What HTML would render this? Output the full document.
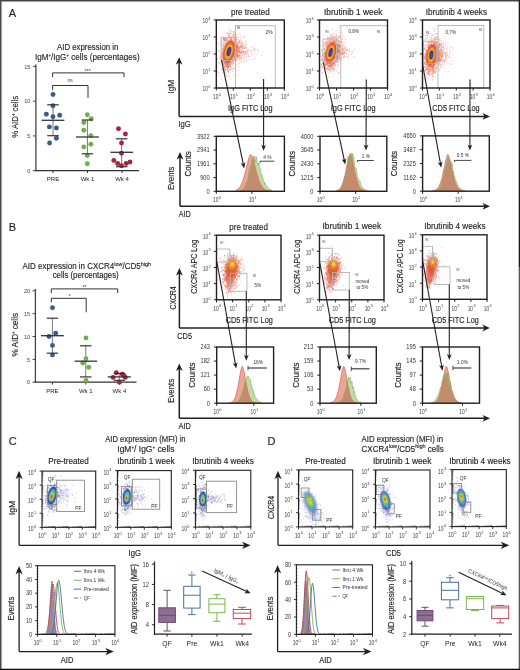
<!DOCTYPE html>
<html><head><meta charset="utf-8"><title>Figure</title>
<style>html,body{margin:0;padding:0;background:#fff;}svg{display:block;will-change:transform;}text{font-family:"Liberation Sans",sans-serif;stroke-width:0.15px;}</style>
</head><body>
<svg width="520" height="670" viewBox="0 0 520 670" font-family="Liberation Sans, sans-serif" fill="#231f20">
<rect width="520" height="670" fill="#fff"/>
<defs>
<filter id="bl" x="-50%" y="-50%" width="200%" height="200%"><feGaussianBlur stdDeviation="0.6"/></filter>
<filter id="bl2" x="-50%" y="-50%" width="200%" height="200%"><feGaussianBlur stdDeviation="1.0"/></filter>
</defs>
<text stroke="#231f20" x="8.8" y="17" font-size="11">A</text>
<text stroke="#231f20" x="57" y="49.5" font-size="9" textLength="61.4" lengthAdjust="spacingAndGlyphs">AID expression in</text>
<text stroke="#231f20" x="35" y="59.5" font-size="9" textLength="104.6" lengthAdjust="spacingAndGlyphs">IgM<tspan font-size="5" dy="-3">+</tspan><tspan dy="3">/IgG</tspan><tspan font-size="5" dy="-3">+</tspan><tspan dy="3"> cells (percentages)</tspan></text>
<line x1="35.9" y1="64.5" x2="35.9" y2="171.2" stroke="#444" stroke-width="1.3"/>
<line x1="35.3" y1="170.6" x2="139" y2="170.6" stroke="#333" stroke-width="1.3"/>
<line x1="33" y1="66.4" x2="35.9" y2="66.4" stroke="#444" stroke-width="1"/>
<text x="30.4" y="68.5" font-size="6.2" fill="#444" text-anchor="end" textLength="6.2" lengthAdjust="spacingAndGlyphs">15</text>
<line x1="33" y1="101.2" x2="35.9" y2="101.2" stroke="#444" stroke-width="1"/>
<text x="30.4" y="103.3" font-size="6.2" fill="#444" text-anchor="end" textLength="6.2" lengthAdjust="spacingAndGlyphs">10</text>
<line x1="33" y1="135.9" x2="35.9" y2="135.9" stroke="#444" stroke-width="1"/>
<text x="30.4" y="138" font-size="6.2" fill="#444" text-anchor="end" textLength="3.1" lengthAdjust="spacingAndGlyphs">5</text>
<line x1="33" y1="170.6" x2="35.9" y2="170.6" stroke="#444" stroke-width="1"/>
<text x="30.4" y="172.7" font-size="6.2" fill="#444" text-anchor="end" textLength="3.1" lengthAdjust="spacingAndGlyphs">0</text>
<text stroke="#231f20" x="18.4" y="137.8" font-size="9.2" textLength="42" lengthAdjust="spacingAndGlyphs" transform="rotate(-90 18.4 137.8)">% AID<tspan font-size="5" dy="-3">+</tspan><tspan dy="3"> cells</tspan></text>
<line x1="53" y1="170.6" x2="53" y2="173" stroke="#333" stroke-width="1"/>
<text x="53" y="181.4" font-size="6" fill="#222" text-anchor="middle">PRE</text>
<line x1="87.5" y1="170.6" x2="87.5" y2="173" stroke="#333" stroke-width="1"/>
<text x="87.5" y="181.4" font-size="6" fill="#222" text-anchor="middle">Wk 1</text>
<line x1="122" y1="170.6" x2="122" y2="173" stroke="#333" stroke-width="1"/>
<text x="122" y="181.4" font-size="6" fill="#222" text-anchor="middle">Wk 4</text>
<path d="M52.6,77.2 V72.9 H124 V77.2" fill="none" stroke="#333" stroke-width="1"/>
<text x="87.6" y="73.4" font-size="5.5" fill="#444" text-anchor="middle">***</text>
<path d="M52.6,89.8 V85.5 H88 V98" fill="none" stroke="#333" stroke-width="1"/>
<text x="70.2" y="81.8" font-size="5" fill="#444" text-anchor="middle">ns</text>
<line x1="53" y1="104.8" x2="53" y2="135.7" stroke="#777" stroke-width="1"/>
<circle cx="53" cy="94.5" r="2.45" fill="#3d5b8a"/>
<circle cx="53" cy="105.7" r="2.45" fill="#3d5b8a"/>
<circle cx="46.3" cy="114.2" r="2.45" fill="#3d5b8a"/>
<circle cx="53" cy="116.7" r="2.45" fill="#3d5b8a"/>
<circle cx="59.7" cy="115.2" r="2.45" fill="#3d5b8a"/>
<circle cx="49.4" cy="126.9" r="2.45" fill="#3d5b8a"/>
<circle cx="56.4" cy="128" r="2.45" fill="#3d5b8a"/>
<circle cx="56.4" cy="138.3" r="2.45" fill="#3d5b8a"/>
<circle cx="49.6" cy="143" r="2.45" fill="#3d5b8a"/>
<line x1="41.6" y1="120.3" x2="64.4" y2="120.3" stroke="#333" stroke-width="1.3"/>
<line x1="47.2" y1="104.8" x2="58.8" y2="104.8" stroke="#333" stroke-width="1.2"/>
<line x1="47.2" y1="135.7" x2="58.8" y2="135.7" stroke="#333" stroke-width="1.2"/>
<line x1="87.4" y1="120" x2="87.4" y2="153.8" stroke="#777" stroke-width="1"/>
<circle cx="87.3" cy="114.8" r="2.45" fill="#6fae4b"/>
<circle cx="91.2" cy="118.7" r="2.45" fill="#6fae4b"/>
<circle cx="83.8" cy="122.5" r="2.45" fill="#6fae4b"/>
<circle cx="83.8" cy="130.2" r="2.45" fill="#6fae4b"/>
<circle cx="90.8" cy="135.6" r="2.45" fill="#6fae4b"/>
<circle cx="90.8" cy="144.2" r="2.45" fill="#6fae4b"/>
<circle cx="83.8" cy="146.9" r="2.45" fill="#6fae4b"/>
<circle cx="87.3" cy="155.6" r="2.45" fill="#6fae4b"/>
<circle cx="87.3" cy="163.8" r="2.45" fill="#6fae4b"/>
<line x1="76" y1="137" x2="98.8" y2="137" stroke="#333" stroke-width="1.3"/>
<line x1="81.8" y1="120" x2="93" y2="120" stroke="#333" stroke-width="1.2"/>
<line x1="81.8" y1="153.8" x2="93" y2="153.8" stroke="#333" stroke-width="1.2"/>
<line x1="121.7" y1="138.8" x2="121.7" y2="166.7" stroke="#777" stroke-width="1"/>
<circle cx="118.5" cy="128.8" r="2.45" fill="#a8233f"/>
<circle cx="125.4" cy="134" r="2.45" fill="#a8233f"/>
<circle cx="121.5" cy="143" r="2.45" fill="#a8233f"/>
<circle cx="121.5" cy="153.3" r="2.45" fill="#a8233f"/>
<circle cx="113.8" cy="160.4" r="2.45" fill="#a8233f"/>
<circle cx="117.7" cy="163.5" r="2.45" fill="#a8233f"/>
<circle cx="121.5" cy="165.8" r="2.45" fill="#a8233f"/>
<circle cx="126.2" cy="163.5" r="2.45" fill="#a8233f"/>
<circle cx="130" cy="162" r="2.45" fill="#a8233f"/>
<line x1="110.3" y1="152.3" x2="133.1" y2="152.3" stroke="#333" stroke-width="1.3"/>
<line x1="116" y1="138.8" x2="127.4" y2="138.8" stroke="#333" stroke-width="1.2"/>
<line x1="116" y1="166.7" x2="127.4" y2="166.7" stroke="#333" stroke-width="1.2"/>
<text stroke="#231f20" x="231" y="14.5" font-size="9" textLength="38.7" lengthAdjust="spacingAndGlyphs">pre treated</text>
<text stroke="#231f20" x="324" y="14.5" font-size="9" textLength="58.5" lengthAdjust="spacingAndGlyphs">Ibrutinib 1 week</text>
<text stroke="#231f20" x="425.8" y="14.5" font-size="9" textLength="61.2" lengthAdjust="spacingAndGlyphs">Ibrutinib 4 weeks</text>
<line x1="179.1" y1="116.4" x2="179.1" y2="61.7" stroke="#231f20" stroke-width="1.5"/>
<path d="M179.1,57.2 L182.5,64.7 L179.1,62.6 L175.7,64.7 Z" fill="#231f20"/>
<line x1="179.1" y1="116.4" x2="485.5" y2="116.4" stroke="#231f20" stroke-width="1.5"/>
<path d="M490,116.4 L482.5,119.8 L484.6,116.4 L482.5,113 Z" fill="#231f20"/>
<text stroke="#231f20" x="174.3" y="93.6" font-size="9.2" textLength="13.7" lengthAdjust="spacingAndGlyphs" transform="rotate(-90 174.3 93.6)">IgM</text>
<text stroke="#231f20" x="178.5" y="126.7" font-size="9.2" textLength="12.3" lengthAdjust="spacingAndGlyphs">IgG</text>
<line x1="180" y1="206.3" x2="180" y2="156.5" stroke="#231f20" stroke-width="1.5"/>
<path d="M180,152 L183.4,159.5 L180,157.4 L176.6,159.5 Z" fill="#231f20"/>
<line x1="180" y1="206.3" x2="485.5" y2="206.3" stroke="#231f20" stroke-width="1.5"/>
<path d="M490,206.3 L482.5,209.7 L484.6,206.3 L482.5,202.9 Z" fill="#231f20"/>
<text stroke="#231f20" x="174" y="190.1" font-size="9.2" textLength="23.5" lengthAdjust="spacingAndGlyphs" transform="rotate(-90 174 190.1)">Events</text>
<text stroke="#231f20" x="178.8" y="216.5" font-size="9.2" textLength="12" lengthAdjust="spacingAndGlyphs">AID</text>
<text stroke="#231f20" x="228" y="111.2" font-size="9" textLength="44.5" lengthAdjust="spacingAndGlyphs">IgG FITC Log</text>
<text stroke="#231f20" x="330.8" y="111.2" font-size="9" textLength="44.7" lengthAdjust="spacingAndGlyphs">IgG FITC Log</text>
<text stroke="#231f20" x="432.3" y="111.2" font-size="9" textLength="47.3" lengthAdjust="spacingAndGlyphs">CD5 FITC Log</text>
<path d="M226.3 60.4h0.9M225.0 69.8h0.9M223.6 67.1h0.9M225.8 49.1h0.9M225.4 56.9h0.9M224.8 51.7h0.9M228.5 52.4h0.9M230.1 64.8h0.9M229.3 40.9h0.9M224.2 59.3h0.9M230.3 51.6h0.9M227.0 62.8h0.9M228.5 53.1h0.9M226.5 45.6h0.9M227.8 53.7h0.9M229.5 57.9h0.9M223.7 50.7h0.9M225.9 55.0h0.9M222.8 45.9h0.9M228.1 33.9h0.9M220.3 57.0h0.9M226.3 56.8h0.9M223.7 51.6h0.9M229.3 52.4h0.9M227.0 59.8h0.9M228.7 47.9h0.9M221.0 43.9h0.9M226.9 49.7h0.9M226.0 60.8h0.9M231.5 40.9h0.9M220.8 59.5h0.9M228.0 46.2h0.9M227.2 42.2h0.9M223.2 60.7h0.9M232.3 51.8h0.9M228.1 40.8h0.9M229.0 48.8h0.9M229.7 59.6h0.9M224.1 60.3h0.9M228.9 48.2h0.9M228.0 54.9h0.9M227.3 57.2h0.9M225.4 45.5h0.9M228.0 54.4h0.9M233.3 52.5h0.9M224.1 46.1h0.9M232.4 48.5h0.9M228.7 52.2h0.9M226.2 51.3h0.9M236.5 49.0h0.9M231.9 49.0h0.9M222.1 59.2h0.9M228.3 53.3h0.9M228.8 59.0h0.9M225.5 60.8h0.9M229.7 56.8h0.9M223.8 69.2h0.9M232.4 45.8h0.9M231.9 59.1h0.9M226.7 48.5h0.9M225.6 66.2h0.9M223.5 64.4h0.9M232.7 36.5h0.9M226.2 43.0h0.9M225.1 56.3h0.9M226.2 57.6h0.9M230.2 58.1h0.9M232.6 52.0h0.9M222.9 54.0h0.9M224.4 56.0h0.9M230.9 51.6h0.9M219.5 57.8h0.9M231.2 33.7h0.9M226.9 56.4h0.9M234.8 44.7h0.9M229.0 59.6h0.9M227.7 49.5h0.9M228.9 44.4h0.9M226.9 54.3h0.9M235.5 45.9h0.9M228.7 44.1h0.9M230.4 39.2h0.9M229.7 51.7h0.9M227.1 55.4h0.9M225.8 59.4h0.9M224.8 49.5h0.9M226.4 59.7h0.9M226.9 51.4h0.9M232.7 51.9h0.9M229.6 56.6h0.9M226.3 59.8h0.9M231.4 49.5h0.9M227.7 49.4h0.9M232.4 51.3h0.9M228.3 52.2h0.9M232.2 45.1h0.9M222.0 58.5h0.9M230.4 48.8h0.9M221.7 53.7h0.9M222.9 43.4h0.9M226.7 54.1h0.9M224.5 53.9h0.9M229.8 48.5h0.9M232.4 69.2h0.9M224.8 53.8h0.9M222.8 64.8h0.9M227.3 59.2h0.9M231.5 46.9h0.9M228.6 48.5h0.9M226.9 54.8h0.9M230.8 52.7h0.9M230.2 52.4h0.9M225.4 48.5h0.9M231.7 37.5h0.9M229.0 49.9h0.9M229.1 33.5h0.9M228.6 54.7h0.9M226.9 45.2h0.9M233.2 46.9h0.9M229.5 50.1h0.9M228.2 53.8h0.9M229.2 40.0h0.9M231.4 37.9h0.9M223.5 41.6h0.9M228.4 34.8h0.9M231.6 44.4h0.9M217.9 62.1h0.9M233.5 44.1h0.9M221.1 55.1h0.9M233.7 41.6h0.9M224.9 53.2h0.9M231.8 49.8h0.9M229.0 51.2h0.9M222.0 54.7h0.9M229.4 66.3h0.9M233.1 54.4h0.9M228.0 52.5h0.9M229.4 43.8h0.9M226.8 56.0h0.9M225.5 48.8h0.9M230.7 59.0h0.9M226.6 50.8h0.9M224.9 65.1h0.9M229.5 35.5h0.9M226.8 48.8h0.9M222.3 57.3h0.9M233.5 50.0h0.9M229.4 45.3h0.9M232.3 50.4h0.9M231.2 40.9h0.9M225.8 51.9h0.9M222.6 70.3h0.9M224.3 60.0h0.9M230.6 43.0h0.9M228.8 44.5h0.9M228.2 48.2h0.9M221.7 58.2h0.9M227.2 44.5h0.9M235.6 47.7h0.9M224.4 57.9h0.9M223.1 57.4h0.9M230.4 49.0h0.9M235.5 44.1h0.9M226.4 38.3h0.9M229.1 46.0h0.9M230.6 33.7h0.9M220.8 55.9h0.9M232.2 47.3h0.9M227.4 55.3h0.9M225.1 66.2h0.9M223.6 60.1h0.9M232.3 43.1h0.9M224.9 57.9h0.9M225.7 60.5h0.9M226.0 44.8h0.9M226.0 43.1h0.9M233.3 51.9h0.9M229.8 38.7h0.9M226.6 63.3h0.9M233.0 32.9h0.9M229.1 42.6h0.9M227.2 49.1h0.9M231.1 50.4h0.9M227.1 52.6h0.9M227.4 53.6h0.9M228.9 50.0h0.9M230.4 61.4h0.9M235.0 35.6h0.9M229.8 51.9h0.9M227.9 45.6h0.9M223.4 51.4h0.9M231.3 54.1h0.9M233.6 45.4h0.9M229.2 46.5h0.9M228.8 58.2h0.9M230.5 55.0h0.9M232.7 47.0h0.9M227.7 68.2h0.9M222.4 69.1h0.9M236.6 41.6h0.9M223.5 52.9h0.9M226.6 71.8h0.9M228.7 58.1h0.9M231.1 54.1h0.9M235.4 51.6h0.9M234.7 48.7h0.9M224.9 49.0h0.9M223.6 45.9h0.9M229.9 58.1h0.9M225.7 47.6h0.9M229.3 48.2h0.9M233.7 43.0h0.9M222.8 49.8h0.9M222.8 42.8h0.9M229.7 50.4h0.9M226.6 59.7h0.9M226.9 54.2h0.9M227.6 55.6h0.9M224.8 53.6h0.9M223.0 50.7h0.9M228.1 50.5h0.9M225.7 48.4h0.9M221.2 56.1h0.9M232.3 43.6h0.9M225.6 62.0h0.9M229.8 52.2h0.9M226.4 44.9h0.9M227.1 47.2h0.9M226.3 45.5h0.9M225.0 52.1h0.9M230.5 46.2h0.9M223.5 59.8h0.9M231.2 45.8h0.9M234.0 34.3h0.9M236.9 47.7h0.9M227.5 34.8h0.9M231.6 52.1h0.9M226.1 59.7h0.9M227.1 56.6h0.9M226.0 40.0h0.9M228.3 45.3h0.9M227.6 66.1h0.9M227.5 54.0h0.9M228.7 51.7h0.9M225.4 59.5h0.9M227.7 71.6h0.9M225.9 61.6h0.9M220.5 50.8h0.9M225.3 53.8h0.9M220.4 54.7h0.9M218.3 44.0h0.9M228.6 42.9h0.9M233.0 53.2h0.9M230.4 44.3h0.9M224.5 50.1h0.9M225.0 51.5h0.9M227.9 70.8h0.9M230.6 45.1h0.9M228.9 50.7h0.9M228.6 50.3h0.9M227.7 55.0h0.9M229.2 60.4h0.9M231.3 48.3h0.9M230.8 45.4h0.9M228.0 38.0h0.9M232.0 44.9h0.9M225.0 55.2h0.9M232.2 52.9h0.9M226.0 42.6h0.9M228.7 48.6h0.9M228.4 51.8h0.9M222.8 54.4h0.9M235.6 48.5h0.9M234.0 50.9h0.9M230.4 37.1h0.9M233.4 43.3h0.9M226.6 64.5h0.9M223.6 32.3h0.9M230.0 49.2h0.9M227.8 53.2h0.9M229.5 48.8h0.9M226.3 44.4h0.9M227.6 50.9h0.9M227.8 51.4h0.9M232.8 52.0h0.9M233.3 37.3h0.9M228.7 50.5h0.9M235.4 46.3h0.9M227.6 46.9h0.9M226.7 53.0h0.9M220.9 55.0h0.9M232.2 59.9h0.9M232.8 48.6h0.9M229.9 59.6h0.9M228.5 61.3h0.9M226.6 60.5h0.9M226.5 62.6h0.9M227.9 50.2h0.9M228.1 50.1h0.9M227.0 58.1h0.9M236.4 42.3h0.9M230.0 53.7h0.9M229.3 47.4h0.9M227.1 48.2h0.9M229.6 37.5h0.9M235.8 46.1h0.9M230.3 51.9h0.9M227.0 58.6h0.9M225.3 59.0h0.9M224.7 50.0h0.9M228.6 50.1h0.9M233.1 45.9h0.9M226.3 54.4h0.9M228.1 49.5h0.9M226.5 56.1h0.9M225.4 65.3h0.9M222.9 50.0h0.9M230.5 39.8h0.9M227.1 44.2h0.9M234.4 41.1h0.9M228.1 41.6h0.9M227.9 62.2h0.9M233.3 54.7h0.9M230.3 39.5h0.9M225.1 56.1h0.9M226.7 61.6h0.9M229.1 48.8h0.9M226.3 45.5h0.9M230.7 49.4h0.9M234.9 55.6h0.9M226.3 56.3h0.9M225.5 60.6h0.9M222.5 60.1h0.9M227.3 61.1h0.9M221.5 61.1h0.9M223.3 55.8h0.9M235.9 40.8h0.9M225.5 49.8h0.9M231.6 55.0h0.9M234.5 50.0h0.9M227.6 58.9h0.9M231.1 49.3h0.9M237.1 46.1h0.9M225.0 62.6h0.9M225.1 56.3h0.9M223.3 52.1h0.9M226.8 58.8h0.9M231.6 61.1h0.9M231.1 55.1h0.9M229.9 31.7h0.9M226.8 45.6h0.9M227.6 47.6h0.9M231.4 44.2h0.9M227.3 53.0h0.9M226.9 61.0h0.9M230.4 48.1h0.9M229.6 42.5h0.9M224.4 67.3h0.9M230.0 48.3h0.9M230.5 42.0h0.9M229.7 53.9h0.9M234.2 56.5h0.9M231.9 46.6h0.9M227.1 57.8h0.9M223.5 46.3h0.9M231.6 44.8h0.9M221.3 51.3h0.9M222.0 56.4h0.9M232.7 47.4h0.9M230.3 54.8h0.9M228.1 50.7h0.9M217.0 72.0h0.9M228.5 45.8h0.9M223.4 61.8h0.9M230.8 51.7h0.9M236.6 52.6h0.9M227.8 57.4h0.9M224.0 57.9h0.9M221.9 60.4h0.9M227.6 54.1h0.9M229.0 46.8h0.9M225.5 46.4h0.9M227.9 55.7h0.9M223.3 55.1h0.9M229.6 63.4h0.9M231.4 55.8h0.9M230.2 60.8h0.9M223.9 63.0h0.9M229.9 53.3h0.9M230.9 40.0h0.9M229.4 42.1h0.9M230.0 40.1h0.9M220.8 62.8h0.9M225.0 43.8h0.9M228.8 61.9h0.9M226.6 56.0h0.9M225.9 65.1h0.9M230.0 60.3h0.9M222.6 49.3h0.9M226.1 49.4h0.9M228.9 52.4h0.9M229.5 53.3h0.9M228.2 47.2h0.9M232.1 52.2h0.9M226.1 64.3h0.9M227.5 37.3h0.9M224.7 52.8h0.9M233.0 45.3h0.9M229.7 53.5h0.9M220.2 56.5h0.9M233.3 52.3h0.9M229.0 58.1h0.9M236.2 40.4h0.9M225.0 59.9h0.9M228.6 46.7h0.9M223.3 55.5h0.9M237.0 55.2h0.9M232.8 31.4h0.9M235.5 47.1h0.9M225.8 52.7h0.9M226.0 63.8h0.9M222.1 52.4h0.9M226.6 53.3h0.9M234.6 41.5h0.9M221.3 61.6h0.9M228.7 66.6h0.9M229.6 52.1h0.9M225.2 49.0h0.9M229.8 38.6h0.9M225.1 58.1h0.9M223.0 72.5h0.9M225.2 56.7h0.9M223.1 60.7h0.9M226.3 55.5h0.9M226.8 43.1h0.9M221.4 60.9h0.9M230.7 42.0h0.9M231.9 50.7h0.9M222.6 52.4h0.9M226.8 58.5h0.9M225.4 54.3h0.9M224.3 53.8h0.9M232.9 46.4h0.9M229.1 41.1h0.9M233.6 53.4h0.9M227.1 45.4h0.9M232.3 41.8h0.9M230.1 41.6h0.9M226.8 47.1h0.9M234.1 37.7h0.9M230.5 41.0h0.9M233.7 39.4h0.9M227.9 53.0h0.9M223.9 53.8h0.9M224.2 67.1h0.9M231.5 40.0h0.9M233.1 47.2h0.9M223.5 57.9h0.9M228.7 49.9h0.9M223.1 47.6h0.9M227.4 65.4h0.9M225.3 48.0h0.9M224.4 41.1h0.9M230.8 41.3h0.9M231.7 55.2h0.9M222.5 52.6h0.9M227.3 40.0h0.9M227.8 43.3h0.9M223.5 54.8h0.9M228.7 56.4h0.9M226.9 45.9h0.9M224.7 55.8h0.9M229.4 56.5h0.9M229.3 37.1h0.9M230.6 49.6h0.9M224.3 54.0h0.9M225.3 46.1h0.9M226.2 33.4h0.9M235.5 51.0h0.9M225.9 57.2h0.9M226.2 64.1h0.9M232.6 34.6h0.9M224.0 72.0h0.9M230.8 42.9h0.9M233.3 60.7h0.9M222.4 60.3h0.9M221.1 57.9h0.9M224.6 51.9h0.9M226.0 41.4h0.9M229.8 57.1h0.9M232.7 46.8h0.9M230.0 31.2h0.9M218.1 72.3h0.9M225.8 56.8h0.9M229.8 66.9h0.9M220.4 42.1h0.9M227.4 63.4h0.9M221.6 63.0h0.9M229.1 64.6h0.9M224.7 50.5h0.9M229.8 42.0h0.9M223.5 48.9h0.9M229.3 33.7h0.9M236.6 39.6h0.9M231.1 53.0h0.9M229.0 43.6h0.9M225.7 49.6h0.9M222.0 49.1h0.9M223.3 66.2h0.9M225.8 61.6h0.9M228.2 51.2h0.9M225.8 60.9h0.9M226.0 44.6h0.9M228.9 48.9h0.9M226.6 58.6h0.9M235.4 43.1h0.9M235.5 51.1h0.9M230.5 41.2h0.9M225.5 51.8h0.9M225.1 64.2h0.9M227.8 45.2h0.9M225.4 52.7h0.9M230.0 44.6h0.9M227.0 41.8h0.9M233.0 42.5h0.9M225.3 62.8h0.9M224.8 70.2h0.9M226.9 55.2h0.9M227.3 45.4h0.9M223.8 56.2h0.9M228.3 48.8h0.9M225.0 57.3h0.9M228.7 54.1h0.9M227.9 53.8h0.9M222.5 55.1h0.9M229.8 47.2h0.9M224.5 47.3h0.9M229.6 37.7h0.9M228.3 47.9h0.9M224.0 38.8h0.9M229.0 50.6h0.9M230.8 44.3h0.9M227.7 52.2h0.9M226.1 54.7h0.9M229.9 40.3h0.9M226.6 44.4h0.9M229.3 44.0h0.9M225.1 56.9h0.9M225.5 64.9h0.9M222.6 57.2h0.9M229.9 49.1h0.9M226.1 63.1h0.9M230.9 39.7h0.9M224.0 62.9h0.9M231.6 47.0h0.9M228.0 28.6h0.9M224.9 72.6h0.9M226.2 64.1h0.9M231.4 43.8h0.9M229.5 53.2h0.9M226.6 49.4h0.9M227.3 52.2h0.9M233.5 40.6h0.9M231.3 46.7h0.9M228.3 55.4h0.9M222.7 52.0h0.9M228.0 61.4h0.9M232.4 53.2h0.9M227.4 70.7h0.9M230.7 46.2h0.9M222.5 52.3h0.9M235.5 37.5h0.9M230.4 41.7h0.9M217.0 59.7h0.9M231.6 44.6h0.9M222.2 54.4h0.9M224.0 50.0h0.9M228.3 42.9h0.9M233.6 50.0h0.9M228.1 47.3h0.9M230.3 48.1h0.9M233.1 59.0h0.9M232.8 58.1h0.9M229.2 47.0h0.9M229.4 44.3h0.9M223.5 52.7h0.9M226.2 50.2h0.9M227.9 60.0h0.9M224.7 72.6h0.9M227.2 58.2h0.9M232.0 52.2h0.9M226.1 49.6h0.9M229.9 44.9h0.9M232.8 45.2h0.9M232.4 44.3h0.9M233.0 49.5h0.9M230.7 48.6h0.9M225.9 57.1h0.9M230.5 48.8h0.9M225.3 49.2h0.9M225.1 40.7h0.9M227.3 64.9h0.9M227.3 55.5h0.9M226.1 65.8h0.9M221.0 56.3h0.9M224.3 62.8h0.9M226.8 49.1h0.9M224.0 56.4h0.9M229.6 41.8h0.9M229.3 61.5h0.9M226.5 65.1h0.9M225.5 54.3h0.9M226.9 57.5h0.9M228.6 62.2h0.9M220.1 44.0h0.9M227.2 54.7h0.9M232.1 45.2h0.9M232.2 46.8h0.9M235.6 48.2h0.9M232.7 51.5h0.9M229.3 53.0h0.9M228.6 55.5h0.9M234.0 41.0h0.9M222.6 66.9h0.9M226.0 60.8h0.9M230.2 58.2h0.9M236.0 50.5h0.9M228.1 50.8h0.9M227.2 55.9h0.9M228.3 55.0h0.9M236.5 39.4h0.9M226.9 57.5h0.9M227.8 76.1h0.9M228.7 36.1h0.9M225.8 59.4h0.9M227.0 54.4h0.9M231.4 51.4h0.9M229.4 63.4h0.9M225.5 40.9h0.9M224.9 52.1h0.9M226.7 63.6h0.9M226.5 49.5h0.9M224.0 46.9h0.9M231.8 53.4h0.9M231.1 48.5h0.9M227.1 64.4h0.9M228.6 44.0h0.9M230.3 59.5h0.9M230.1 41.4h0.9M230.9 57.9h0.9M225.5 50.0h0.9M230.6 30.2h0.9M229.2 51.7h0.9M228.1 42.5h0.9M231.7 48.6h0.9M226.3 64.1h0.9M227.4 41.9h0.9M230.8 43.2h0.9M224.4 62.8h0.9M231.4 53.3h0.9M223.2 63.4h0.9M226.3 53.8h0.9M234.4 45.6h0.9M236.4 53.0h0.9M233.0 63.2h0.9M226.8 59.2h0.9M229.2 51.8h0.9M233.7 53.3h0.9M228.2 50.6h0.9M226.2 46.1h0.9M225.0 67.1h0.9M230.0 52.1h0.9M227.8 41.9h0.9M223.6 46.4h0.9M222.0 56.1h0.9M229.5 57.3h0.9M226.1 49.8h0.9M229.3 46.1h0.9M229.1 52.0h0.9M233.9 38.8h0.9M229.9 40.9h0.9M228.6 58.4h0.9M226.3 47.0h0.9M226.4 54.3h0.9M222.4 60.4h0.9M231.1 57.8h0.9M228.3 51.7h0.9M221.6 67.9h0.9M225.9 56.6h0.9M228.4 48.6h0.9M229.4 58.1h0.9M222.1 53.5h0.9M226.5 43.9h0.9M227.0 51.9h0.9M237.6 52.5h0.9M235.7 36.7h0.9M228.4 50.1h0.9M231.5 50.0h0.9M236.5 49.9h0.9M230.9 38.3h0.9M227.9 48.5h0.9M232.8 52.3h0.9M230.0 52.8h0.9M233.1 43.1h0.9M225.4 56.2h0.9M237.6 43.6h0.9M234.9 51.3h0.9M227.8 62.5h0.9M232.2 46.7h0.9M222.4 45.8h0.9M228.5 60.7h0.9M228.5 48.4h0.9M230.6 49.6h0.9M230.4 54.0h0.9M225.2 59.7h0.9M226.9 32.5h0.9M231.4 45.3h0.9M227.9 42.9h0.9M229.5 42.7h0.9M228.0 44.3h0.9M228.9 44.6h0.9M219.8 52.0h0.9M234.5 45.6h0.9M229.1 52.8h0.9M231.5 55.8h0.9M236.8 47.5h0.9M228.3 52.7h0.9M218.9 63.1h0.9M224.7 53.4h0.9M225.5 45.5h0.9M226.8 50.6h0.9M230.5 44.4h0.9M220.9 52.0h0.9M227.9 58.7h0.9M224.8 43.8h0.9M229.9 50.2h0.9M225.9 60.3h0.9M228.3 47.4h0.9M227.8 53.0h0.9M228.6 43.0h0.9M227.9 44.6h0.9M223.6 46.1h0.9M224.1 68.5h0.9M235.7 50.0h0.9M236.4 49.2h0.9M234.2 48.4h0.9M231.2 50.9h0.9M224.8 56.1h0.9M233.1 54.3h0.9M224.3 67.5h0.9M227.8 53.2h0.9M224.6 62.6h0.9M228.2 53.8h0.9M225.8 55.9h0.9M231.0 40.3h0.9M224.9 49.7h0.9M227.3 50.7h0.9M236.9 51.7h0.9M232.4 34.8h0.9M225.9 58.2h0.9M231.1 49.1h0.9M231.8 48.8h0.9M225.1 48.6h0.9M228.2 49.6h0.9M230.9 55.6h0.9M231.9 42.0h0.9M230.7 44.5h0.9M233.3 55.2h0.9M225.8 52.1h0.9M229.5 48.7h0.9M227.7 46.7h0.9M235.3 46.4h0.9M221.7 49.4h0.9M223.8 60.2h0.9M228.6 42.9h0.9M227.8 64.0h0.9M228.9 58.7h0.9M234.2 49.3h0.9M221.4 56.3h0.9M233.9 40.9h0.9M230.8 37.9h0.9M228.6 41.0h0.9M231.1 48.9h0.9M225.9 48.3h0.9M222.2 45.8h0.9M227.0 52.0h0.9M227.4 33.7h0.9M225.2 54.9h0.9M232.5 40.9h0.9M230.8 46.7h0.9M234.8 49.8h0.9M230.0 42.5h0.9M225.7 39.6h0.9M227.8 43.1h0.9M225.3 50.7h0.9M223.1 55.1h0.9M228.9 56.4h0.9M228.1 43.3h0.9M223.1 43.7h0.9M232.7 45.1h0.9M227.2 55.0h0.9M233.6 36.1h0.9M226.4 61.3h0.9M231.6 48.4h0.9M230.1 45.6h0.9M232.1 55.3h0.9M227.9 60.0h0.9M229.2 54.6h0.9M227.8 60.1h0.9M223.1 51.4h0.9M225.5 61.0h0.9M225.1 61.0h0.9M229.4 51.0h0.9M220.9 61.6h0.9M233.8 54.3h0.9M228.6 52.4h0.9M226.0 43.4h0.9M223.0 47.9h0.9M226.0 57.4h0.9M230.7 41.3h0.9M224.7 56.0h0.9M228.1 54.4h0.9M225.7 53.2h0.9M234.6 35.0h0.9M226.1 50.2h0.9M227.1 56.6h0.9M233.3 46.5h0.9M237.3 54.5h0.9M229.5 32.3h0.9M225.5 56.4h0.9M226.8 45.7h0.9M229.5 59.0h0.9M228.0 36.3h0.9M225.4 56.6h0.9M228.8 49.7h0.9M223.5 57.0h0.9M226.9 43.6h0.9M228.0 46.4h0.9M216.8 67.2h0.9M225.0 43.9h0.9M228.4 45.8h0.9M229.5 49.6h0.9M229.8 43.5h0.9M219.9 59.3h0.9M223.5 64.6h0.9M232.6 46.8h0.9M233.7 38.7h0.9M225.9 60.6h0.9M223.2 59.4h0.9M229.1 58.5h0.9M224.2 60.1h0.9M226.0 43.8h0.9M226.0 49.6h0.9M236.2 42.1h0.9M232.0 40.8h0.9M230.6 60.2h0.9M228.1 46.0h0.9M227.3 70.1h0.9M226.2 51.7h0.9M229.1 46.5h0.9M235.6 60.0h0.9M227.6 66.3h0.9M225.8 54.9h0.9M230.5 42.1h0.9M228.9 54.8h0.9M230.0 63.3h0.9M227.7 47.3h0.9M223.9 44.1h0.9M225.5 59.2h0.9M228.2 52.7h0.9M231.0 43.1h0.9M233.8 49.8h0.9M231.0 46.0h0.9M230.7 54.6h0.9M224.4 51.5h0.9M229.3 61.3h0.9M234.4 58.9h0.9M234.2 40.1h0.9M228.5 55.0h0.9M227.3 58.7h0.9M233.8 56.7h0.9M223.2 58.8h0.9M229.1 47.2h0.9M231.9 44.6h0.9M229.2 59.5h0.9M229.0 42.9h0.9M233.7 35.1h0.9M225.5 59.3h0.9M230.3 46.1h0.9M228.6 49.1h0.9M227.2 39.8h0.9M230.9 41.3h0.9M233.8 43.4h0.9M225.8 48.0h0.9M226.9 54.3h0.9M235.2 34.3h0.9M223.3 56.5h0.9M231.4 42.6h0.9M226.8 42.4h0.9" stroke="#e0452b" stroke-width="0.9" opacity="0.5"/>
<path d="M233.0 58.0h0.8M228.6 58.4h0.8M220.9 56.0h0.8M239.2 59.6h0.8M222.2 66.2h0.8M230.6 57.7h0.8M229.5 61.2h0.8M236.6 59.9h0.8M223.7 69.4h0.8M240.5 35.5h0.8M223.4 64.1h0.8M237.1 51.6h0.8M227.1 48.9h0.8M230.9 42.7h0.8M245.1 37.0h0.8M233.1 49.3h0.8M232.7 46.1h0.8M241.2 60.4h0.8M236.0 38.8h0.8M222.7 65.4h0.8M233.7 56.2h0.8M224.8 48.6h0.8M238.2 47.2h0.8M238.8 46.6h0.8M230.2 40.9h0.8M228.4 46.5h0.8M231.4 52.9h0.8M231.0 50.9h0.8M228.7 37.6h0.8M234.2 50.8h0.8M221.7 41.2h0.8M227.8 53.6h0.8M223.8 70.2h0.8M227.5 58.3h0.8M232.9 50.0h0.8M227.9 35.2h0.8M237.0 39.7h0.8M233.6 36.0h0.8M225.3 58.8h0.8M225.0 43.4h0.8M224.0 51.6h0.8M233.9 47.0h0.8M225.1 52.2h0.8M227.4 66.3h0.8M237.8 47.4h0.8M236.8 50.7h0.8M240.8 46.9h0.8M226.8 60.7h0.8M227.2 41.2h0.8M238.7 43.0h0.8M235.5 39.5h0.8M239.9 40.4h0.8M229.4 57.2h0.8M230.6 79.1h0.8M237.4 44.1h0.8M232.0 62.8h0.8M232.6 55.7h0.8M235.3 42.4h0.8M232.4 50.2h0.8M232.2 50.6h0.8M237.4 47.2h0.8M223.1 70.7h0.8M244.4 36.4h0.8M229.0 56.2h0.8M234.9 57.1h0.8M231.4 46.9h0.8M228.8 53.7h0.8M239.2 63.8h0.8M228.5 53.7h0.8M222.7 54.9h0.8M225.0 58.4h0.8M233.7 32.5h0.8M238.4 69.8h0.8M226.1 75.0h0.8M233.1 63.4h0.8M222.7 61.1h0.8M235.8 39.4h0.8M234.3 52.3h0.8M242.1 47.1h0.8M228.2 46.0h0.8M231.4 62.8h0.8M234.0 45.2h0.8M225.3 50.0h0.8M235.0 34.1h0.8M229.5 50.7h0.8M217.9 50.4h0.8M235.4 46.6h0.8M235.1 46.3h0.8M223.6 70.3h0.8M226.3 39.1h0.8M240.9 44.4h0.8M233.9 45.1h0.8M233.0 65.6h0.8M232.9 74.9h0.8M226.9 55.1h0.8M236.5 46.7h0.8M230.2 48.1h0.8M227.6 62.8h0.8M232.2 43.6h0.8M227.0 66.7h0.8M233.0 67.8h0.8M231.0 53.4h0.8M228.1 58.7h0.8M227.2 59.5h0.8M228.5 68.1h0.8M228.2 41.2h0.8M224.9 63.4h0.8M231.1 48.9h0.8M229.3 44.4h0.8M229.6 53.4h0.8M227.7 49.7h0.8M243.6 45.7h0.8M241.4 38.9h0.8M235.2 44.1h0.8M226.7 66.6h0.8M237.4 74.6h0.8M230.6 59.3h0.8M227.1 64.0h0.8M233.3 48.0h0.8M232.3 52.3h0.8M237.3 57.2h0.8M233.0 42.1h0.8M244.1 45.8h0.8M225.5 52.4h0.8M235.0 50.4h0.8M227.7 40.9h0.8M239.2 58.8h0.8M229.4 49.6h0.8M227.7 62.4h0.8M235.4 53.8h0.8M237.9 51.4h0.8M224.2 52.4h0.8M229.0 50.5h0.8M224.7 44.3h0.8M232.2 48.9h0.8M228.1 59.7h0.8M227.1 58.4h0.8M223.7 64.2h0.8M232.5 35.7h0.8M227.4 47.8h0.8M234.3 49.3h0.8M238.2 56.3h0.8M221.3 45.6h0.8M231.1 47.5h0.8M226.4 59.6h0.8M232.7 55.0h0.8M228.2 40.0h0.8M226.5 65.4h0.8M222.5 60.9h0.8M235.6 48.0h0.8M229.0 60.8h0.8M231.4 45.3h0.8M229.7 64.0h0.8M229.7 50.2h0.8M224.1 42.7h0.8M234.6 49.8h0.8M233.9 45.6h0.8M229.2 54.3h0.8M235.3 55.6h0.8M236.9 54.6h0.8M226.0 45.7h0.8M238.5 55.6h0.8M242.6 36.1h0.8M225.9 54.0h0.8M221.4 62.0h0.8M226.4 54.4h0.8M228.8 48.2h0.8M222.5 48.7h0.8M231.0 51.4h0.8M225.0 45.6h0.8M225.4 45.3h0.8M237.6 44.9h0.8M224.0 63.2h0.8M230.1 52.4h0.8M231.5 62.7h0.8M235.4 51.3h0.8M228.5 52.9h0.8M231.1 51.0h0.8M225.0 56.0h0.8M237.8 62.9h0.8M233.4 55.8h0.8M226.2 44.6h0.8M232.4 45.0h0.8M230.3 69.6h0.8M233.7 50.5h0.8M240.9 52.2h0.8M234.3 68.6h0.8M225.0 62.4h0.8M228.7 57.7h0.8M224.6 47.0h0.8M226.1 75.8h0.8M230.3 56.6h0.8M243.6 61.5h0.8M231.4 51.1h0.8M222.7 36.1h0.8M230.1 38.8h0.8M230.1 56.7h0.8M222.8 54.7h0.8M226.4 49.1h0.8M231.4 40.7h0.8M235.8 39.1h0.8M230.4 49.2h0.8M229.3 37.3h0.8M232.5 62.4h0.8M224.8 63.1h0.8M221.0 79.4h0.8M221.0 59.3h0.8M227.7 45.8h0.8M236.1 45.0h0.8M231.5 46.7h0.8M234.7 51.8h0.8M226.1 61.5h0.8M230.3 58.9h0.8M223.1 56.8h0.8M237.0 56.4h0.8M234.8 60.5h0.8M228.2 67.0h0.8M223.7 39.9h0.8M226.0 46.8h0.8M239.1 40.4h0.8M235.7 70.6h0.8M228.9 65.6h0.8M235.3 61.6h0.8M230.1 40.2h0.8M229.1 54.0h0.8M231.1 50.3h0.8M232.5 53.9h0.8M222.8 48.7h0.8M234.2 58.9h0.8M238.5 50.5h0.8M222.3 59.4h0.8M222.7 53.1h0.8M233.1 50.2h0.8M227.3 50.6h0.8M218.9 45.2h0.8M232.8 61.6h0.8M232.0 50.2h0.8M227.2 54.8h0.8M242.7 51.6h0.8M234.8 38.4h0.8M224.3 60.4h0.8M233.6 42.5h0.8M223.3 57.8h0.8M225.4 55.7h0.8M236.5 37.0h0.8M229.8 42.7h0.8M229.3 47.0h0.8M241.4 46.9h0.8M237.9 42.3h0.8M233.0 60.8h0.8M233.9 51.0h0.8M232.1 57.0h0.8M239.3 50.4h0.8M229.6 55.5h0.8M242.2 47.8h0.8M225.5 51.1h0.8M227.7 57.9h0.8M223.0 51.2h0.8M229.8 47.7h0.8M235.9 42.7h0.8M237.8 56.2h0.8M226.1 55.1h0.8M231.1 50.1h0.8M230.4 44.7h0.8M225.2 56.9h0.8M218.1 75.1h0.8M231.5 49.7h0.8M220.4 53.6h0.8M230.2 56.4h0.8M236.8 27.7h0.8M226.7 52.9h0.8M226.8 44.4h0.8M219.7 64.2h0.8M241.1 52.6h0.8M225.2 43.3h0.8M239.3 52.6h0.8M233.3 55.0h0.8M229.9 46.7h0.8M224.4 50.5h0.8M239.3 40.8h0.8M240.3 52.7h0.8M223.6 58.9h0.8M224.1 71.3h0.8M234.4 60.9h0.8M231.6 55.7h0.8M238.3 66.7h0.8M225.0 61.7h0.8M229.3 69.5h0.8M221.2 61.4h0.8M242.0 54.2h0.8M226.0 54.1h0.8M218.3 51.4h0.8M229.1 55.4h0.8M229.3 54.4h0.8M242.6 47.6h0.8M233.8 31.7h0.8M232.0 46.1h0.8M238.5 33.7h0.8M238.8 55.4h0.8M230.1 52.6h0.8M240.1 37.7h0.8M231.6 60.0h0.8M226.8 60.6h0.8M230.7 53.6h0.8M226.6 68.8h0.8M221.1 69.5h0.8M239.9 42.5h0.8M220.6 60.8h0.8M235.7 58.4h0.8M234.6 57.9h0.8M227.7 61.5h0.8M228.1 44.6h0.8M230.7 46.6h0.8M235.0 45.2h0.8M236.3 46.3h0.8M232.2 52.0h0.8M239.3 39.8h0.8M230.0 41.7h0.8M230.3 58.5h0.8M222.3 49.8h0.8M233.6 57.3h0.8M235.9 34.5h0.8M230.2 44.4h0.8M238.0 48.8h0.8M234.1 53.8h0.8M216.9 43.2h0.8M228.4 61.7h0.8M222.9 50.1h0.8M236.1 54.2h0.8M243.7 56.0h0.8M226.0 58.8h0.8M232.0 48.1h0.8M226.4 63.2h0.8M231.2 57.5h0.8M233.5 55.0h0.8M237.2 54.7h0.8M224.0 56.3h0.8M236.4 64.5h0.8M223.2 60.5h0.8M231.0 56.6h0.8M234.5 62.6h0.8M234.0 54.7h0.8M222.4 63.5h0.8M226.8 51.4h0.8M233.0 31.8h0.8M227.0 65.5h0.8M236.3 55.2h0.8M226.4 39.5h0.8" stroke="#e0452b" stroke-width="0.84" opacity="0.45"/>
<path d="M234.4 45.5h0.8M231.5 50.7h0.8M241.7 53.0h0.8M236.6 48.2h0.8M228.7 53.8h0.8M236.5 50.6h0.8M233.7 45.9h0.8M241.1 52.5h0.8M229.7 61.5h0.8M227.0 47.1h0.8M234.0 58.0h0.8M232.5 59.0h0.8M232.2 59.6h0.8M227.5 46.3h0.8M234.8 62.8h0.8M240.2 52.8h0.8M228.0 49.5h0.8M238.7 50.8h0.8M232.2 54.7h0.8M242.6 52.7h0.8M236.1 50.8h0.8M233.1 58.6h0.8M238.7 48.1h0.8M236.9 46.1h0.8M232.0 55.7h0.8M236.5 55.7h0.8M232.1 57.4h0.8M228.9 45.1h0.8M240.9 58.3h0.8M233.0 54.1h0.8M231.3 61.0h0.8M236.4 44.9h0.8M228.9 52.2h0.8M229.9 49.6h0.8M233.7 42.7h0.8M233.1 47.5h0.8M234.1 57.8h0.8M238.7 49.4h0.8M233.2 47.5h0.8M235.7 56.5h0.8M236.0 57.2h0.8M230.1 56.6h0.8M235.7 47.4h0.8M231.2 50.9h0.8M237.6 57.6h0.8M236.4 48.2h0.8M235.0 47.5h0.8M229.3 55.6h0.8M234.0 60.2h0.8M232.5 45.0h0.8M238.4 37.6h0.8M234.9 43.6h0.8M232.2 45.8h0.8M237.8 51.2h0.8M236.6 55.2h0.8M232.5 50.6h0.8M238.9 48.2h0.8M233.4 52.3h0.8M234.0 46.2h0.8M234.9 51.4h0.8M232.2 47.8h0.8M231.4 66.1h0.8M233.5 56.0h0.8M240.3 47.6h0.8M240.3 46.7h0.8M233.8 49.1h0.8M241.0 43.2h0.8M234.7 47.6h0.8M236.2 47.7h0.8M237.0 56.8h0.8M235.7 49.4h0.8M243.3 48.2h0.8M236.1 44.4h0.8M231.0 44.7h0.8M239.1 51.7h0.8M233.2 50.3h0.8M232.8 57.7h0.8M224.4 47.1h0.8M237.4 57.8h0.8M237.2 53.3h0.8M237.3 51.9h0.8M239.0 41.0h0.8M241.1 45.2h0.8M233.9 55.6h0.8M236.9 59.6h0.8M231.8 52.5h0.8M232.8 55.6h0.8M238.4 49.8h0.8M236.1 49.7h0.8M230.2 47.5h0.8M235.2 57.1h0.8M233.6 53.4h0.8M231.8 50.0h0.8M236.2 50.0h0.8M232.8 54.5h0.8M228.8 52.8h0.8M231.1 46.6h0.8M239.7 61.6h0.8M229.1 52.5h0.8M235.2 51.7h0.8M235.8 59.9h0.8M236.1 57.4h0.8M230.3 50.7h0.8M233.1 54.4h0.8M235.6 45.8h0.8M237.6 48.4h0.8M233.5 39.0h0.8M229.7 57.8h0.8M239.1 41.6h0.8M237.9 55.7h0.8M236.2 47.2h0.8M232.9 46.0h0.8M236.0 50.7h0.8M234.7 53.1h0.8M237.0 55.3h0.8M229.1 60.8h0.8M234.7 53.6h0.8M233.4 56.4h0.8M231.0 47.9h0.8M234.8 55.6h0.8M234.5 52.5h0.8M233.3 48.9h0.8M235.9 51.2h0.8M229.6 50.7h0.8M234.2 52.6h0.8M235.8 54.0h0.8M235.8 48.9h0.8M238.7 47.9h0.8M229.9 55.2h0.8M230.2 41.8h0.8M235.7 48.3h0.8M235.2 60.3h0.8M243.4 37.6h0.8M237.0 48.0h0.8M231.0 55.0h0.8M238.2 42.9h0.8M230.0 65.5h0.8M230.8 36.9h0.8M242.7 60.4h0.8M234.7 60.2h0.8M236.4 56.9h0.8M236.6 50.6h0.8M240.6 54.2h0.8M236.0 46.8h0.8M238.3 56.5h0.8M231.5 45.1h0.8M229.8 49.6h0.8M238.9 57.6h0.8M240.3 46.0h0.8M236.5 49.8h0.8M235.2 52.6h0.8M235.8 44.3h0.8M231.4 57.7h0.8M239.6 54.0h0.8M237.6 43.6h0.8M236.3 51.5h0.8M236.2 47.5h0.8M238.5 48.4h0.8M236.2 52.2h0.8M237.5 48.0h0.8M229.9 56.4h0.8M236.7 47.9h0.8M241.5 57.8h0.8M232.7 51.2h0.8M233.5 56.2h0.8M237.9 49.0h0.8M238.1 49.2h0.8M237.3 45.5h0.8M228.5 54.2h0.8M235.7 56.9h0.8M229.1 62.8h0.8M230.9 58.4h0.8M236.2 53.2h0.8M233.6 50.3h0.8M237.1 54.0h0.8M245.5 52.6h0.8M236.3 59.9h0.8M236.5 57.0h0.8M231.8 46.7h0.8M232.6 47.6h0.8M230.0 58.7h0.8M232.4 53.1h0.8M230.8 49.9h0.8M231.5 57.8h0.8M234.0 49.4h0.8M231.2 49.7h0.8M229.8 48.6h0.8M230.9 40.4h0.8M235.6 56.5h0.8M235.4 45.0h0.8M238.4 48.9h0.8M238.5 47.9h0.8M232.9 55.5h0.8M236.9 51.5h0.8M229.5 51.2h0.8M243.4 43.2h0.8M238.7 51.6h0.8M234.6 43.4h0.8M230.3 52.9h0.8M235.6 53.7h0.8M228.0 50.8h0.8M230.6 62.5h0.8M236.8 54.8h0.8M234.4 54.9h0.8M232.7 52.2h0.8M237.9 50.9h0.8M230.3 56.5h0.8M234.8 57.7h0.8M233.5 44.3h0.8M230.9 57.1h0.8M235.8 54.6h0.8M230.5 56.5h0.8M240.8 54.8h0.8M233.2 44.6h0.8M242.1 45.9h0.8M229.6 61.2h0.8M236.4 53.2h0.8M231.1 43.4h0.8M229.6 53.0h0.8M235.2 49.7h0.8M237.9 41.8h0.8M231.4 38.6h0.8M239.5 43.3h0.8M231.5 52.8h0.8M235.0 51.4h0.8M235.9 50.4h0.8M236.4 53.4h0.8M227.9 54.2h0.8M241.3 40.7h0.8M236.6 50.2h0.8M233.5 46.9h0.8M231.6 44.5h0.8M228.9 48.0h0.8M229.8 50.4h0.8M236.5 50.3h0.8M234.1 43.5h0.8M230.8 48.5h0.8M231.5 62.4h0.8M240.5 46.4h0.8M234.3 42.3h0.8M232.3 52.9h0.8M238.8 55.4h0.8M235.8 54.3h0.8M235.3 45.5h0.8M231.8 56.8h0.8M229.5 46.7h0.8M231.1 45.0h0.8M233.2 48.1h0.8M233.8 50.9h0.8M235.3 55.6h0.8M236.0 55.2h0.8M235.3 51.6h0.8M234.7 56.8h0.8M230.9 51.7h0.8M226.5 55.7h0.8M233.5 43.7h0.8M232.1 42.6h0.8M231.8 55.6h0.8M234.3 43.9h0.8M230.3 49.5h0.8" stroke="#e0452b" stroke-width="0.84" opacity="0.5"/>
<path d="M239.3 56.8h0.8M237.7 47.6h0.8M238.2 45.2h0.8M250.2 47.1h0.8M224.0 49.3h0.8M245.9 56.2h0.8M255.1 58.0h0.8M240.6 52.1h0.8M241.0 45.6h0.8M245.7 48.6h0.8M253.0 48.3h0.8M232.9 49.5h0.8M242.0 43.1h0.8M239.3 51.5h0.8M243.9 54.4h0.8M241.7 50.5h0.8M244.7 53.7h0.8M238.3 46.5h0.8M241.6 44.5h0.8M236.5 47.7h0.8M235.7 55.9h0.8M239.2 55.7h0.8M239.9 48.9h0.8M232.3 55.8h0.8M251.0 50.7h0.8M239.0 57.9h0.8M231.3 52.4h0.8M248.0 49.8h0.8M235.3 54.2h0.8M244.3 47.9h0.8M240.9 46.8h0.8M242.9 44.6h0.8M241.6 52.4h0.8M236.8 50.5h0.8M240.9 50.8h0.8M254.1 50.6h0.8M225.2 56.1h0.8M241.2 49.2h0.8M243.8 48.1h0.8M233.1 56.1h0.8M230.9 56.7h0.8M254.6 54.1h0.8M239.0 42.9h0.8M254.5 49.8h0.8M243.8 54.3h0.8M241.1 51.2h0.8M243.0 58.5h0.8M245.4 45.3h0.8M248.0 55.0h0.8M243.7 48.5h0.8M240.9 57.3h0.8M241.8 50.9h0.8M249.0 56.7h0.8M246.3 48.7h0.8M234.7 44.0h0.8M236.9 45.6h0.8M243.0 48.6h0.8M237.0 46.0h0.8M237.5 56.3h0.8M233.7 56.6h0.8M238.7 52.2h0.8M243.9 46.7h0.8M247.2 51.2h0.8M241.0 48.0h0.8M253.5 59.2h0.8M239.9 52.5h0.8M261.3 55.5h0.8M247.3 50.0h0.8M244.8 42.2h0.8M237.7 47.2h0.8M222.6 44.0h0.8M239.4 52.7h0.8M241.7 51.7h0.8M253.6 48.8h0.8M231.7 48.4h0.8M252.3 59.6h0.8M239.4 46.5h0.8M245.8 47.4h0.8M224.0 48.3h0.8M241.8 48.0h0.8M238.5 48.9h0.8M244.8 54.0h0.8M240.3 59.1h0.8M233.9 42.2h0.8M246.8 51.7h0.8M245.1 51.8h0.8M244.5 51.1h0.8M247.3 50.9h0.8M248.0 50.3h0.8M240.0 55.7h0.8M231.9 48.0h0.8M231.6 49.6h0.8M249.4 52.0h0.8M245.2 52.1h0.8M241.3 50.4h0.8M237.2 55.4h0.8M240.8 51.1h0.8M240.7 51.9h0.8M238.4 50.6h0.8M236.5 46.0h0.8M255.2 48.8h0.8M242.6 46.5h0.8M236.5 51.6h0.8M232.4 46.9h0.8M236.3 45.7h0.8M245.2 52.7h0.8M245.3 54.0h0.8M240.0 42.9h0.8M240.1 58.9h0.8M238.6 51.0h0.8M233.4 49.9h0.8M248.6 56.9h0.8M243.0 51.7h0.8M257.1 50.0h0.8M234.6 60.6h0.8M240.2 46.1h0.8M246.4 51.3h0.8M238.6 54.8h0.8M232.0 45.2h0.8M234.4 50.0h0.8M241.1 52.9h0.8M241.7 62.3h0.8M240.4 47.0h0.8M247.2 51.6h0.8M246.8 54.8h0.8M242.7 51.7h0.8M241.3 45.6h0.8M238.7 52.8h0.8M244.1 52.0h0.8M246.4 53.8h0.8M240.4 56.3h0.8M243.0 56.0h0.8M238.3 52.7h0.8M231.2 51.5h0.8M234.5 45.4h0.8M245.7 51.0h0.8M243.4 52.4h0.8M251.2 50.4h0.8M240.9 51.6h0.8M246.7 47.9h0.8M248.5 59.0h0.8M246.1 61.6h0.8M236.8 48.9h0.8M239.2 52.8h0.8M241.5 50.1h0.8M233.5 56.2h0.8M243.5 53.4h0.8M247.3 52.2h0.8M237.5 49.7h0.8M253.5 53.0h0.8M239.2 46.3h0.8M238.9 54.1h0.8M239.4 47.7h0.8M235.7 53.1h0.8M243.3 52.0h0.8M240.2 56.1h0.8M251.5 52.2h0.8M244.1 56.2h0.8M244.6 47.3h0.8M238.8 53.7h0.8M231.4 49.1h0.8M239.9 51.9h0.8M235.0 50.8h0.8M246.4 56.0h0.8M241.4 41.8h0.8M251.4 53.7h0.8M246.1 44.8h0.8M245.5 57.2h0.8M243.0 42.2h0.8M242.4 46.7h0.8M245.7 43.9h0.8M245.8 59.2h0.8M236.5 44.7h0.8M243.8 52.0h0.8M258.0 50.5h0.8M240.9 42.8h0.8M239.1 49.4h0.8M235.7 53.7h0.8M231.2 49.3h0.8M247.9 56.2h0.8M241.2 49.5h0.8M242.5 51.3h0.8M252.9 50.6h0.8M256.9 54.4h0.8M233.8 59.2h0.8M247.3 53.5h0.8M244.6 52.4h0.8M243.5 48.5h0.8M244.1 48.0h0.8M239.7 57.8h0.8M251.6 47.1h0.8M245.1 47.3h0.8M242.9 50.9h0.8M249.0 50.0h0.8M245.5 60.7h0.8M244.8 40.6h0.8M242.6 53.0h0.8M251.8 55.6h0.8M244.5 46.3h0.8M240.3 48.1h0.8M234.8 52.5h0.8M237.6 58.3h0.8M234.2 46.2h0.8M242.1 44.0h0.8M241.8 55.7h0.8M226.4 56.7h0.8M240.9 49.6h0.8M245.9 41.4h0.8M241.0 57.9h0.8M234.4 49.5h0.8" stroke="#e0452b" stroke-width="0.84" opacity="0.45"/>
<path d="M230.8 68.4h0.8M227.9 64.4h0.8M227.0 69.4h0.8M226.9 63.1h0.8M231.7 62.4h0.8M231.6 58.0h0.8M222.6 61.3h0.8M225.6 69.3h0.8M232.4 64.9h0.8M227.1 66.5h0.8M224.6 66.4h0.8M228.0 63.6h0.8M227.7 62.8h0.8M227.7 64.1h0.8M226.8 66.3h0.8M227.2 65.4h0.8M226.8 65.6h0.8M228.8 64.2h0.8M225.9 60.5h0.8M227.3 62.6h0.8M227.6 59.8h0.8M231.2 67.6h0.8M228.9 55.2h0.8M227.7 62.7h0.8M229.3 73.1h0.8M229.0 62.2h0.8M230.7 59.1h0.8M229.2 63.5h0.8M232.5 68.8h0.8M231.3 63.0h0.8M227.9 66.1h0.8M226.9 64.0h0.8M230.2 62.1h0.8M229.3 76.2h0.8M227.7 63.9h0.8M224.3 61.5h0.8M223.4 61.6h0.8M228.9 65.1h0.8M229.9 65.2h0.8M230.0 66.7h0.8M224.8 64.2h0.8M230.6 57.9h0.8M226.6 65.7h0.8M229.0 62.4h0.8M229.0 62.5h0.8M226.0 57.7h0.8M226.5 61.3h0.8M222.8 60.7h0.8M225.7 63.5h0.8M223.5 57.8h0.8M229.1 63.8h0.8M228.1 64.1h0.8M230.3 59.1h0.8M228.9 61.1h0.8M226.4 60.2h0.8M228.8 67.2h0.8M227.0 53.5h0.8M229.5 62.2h0.8M228.8 57.0h0.8M225.5 61.9h0.8M228.0 67.0h0.8M228.1 61.1h0.8M227.2 64.2h0.8M230.2 60.2h0.8M232.3 71.4h0.8M227.1 67.3h0.8M227.1 68.1h0.8M222.4 58.3h0.8M227.7 59.2h0.8M226.9 67.9h0.8M222.6 62.8h0.8M228.7 62.6h0.8M229.5 64.9h0.8M226.1 58.6h0.8M227.0 66.7h0.8M225.6 63.7h0.8M229.9 65.5h0.8M224.2 60.9h0.8M227.2 65.7h0.8M232.9 60.8h0.8M228.1 67.4h0.8M229.1 68.1h0.8M227.6 67.2h0.8M225.0 65.7h0.8M227.9 66.1h0.8M229.0 52.8h0.8M225.4 66.9h0.8M228.8 62.5h0.8M231.1 64.0h0.8M230.7 62.5h0.8M224.0 58.0h0.8M225.5 61.4h0.8M223.9 66.2h0.8M230.7 69.3h0.8M229.5 61.1h0.8M229.7 60.0h0.8M225.8 69.4h0.8M225.1 60.1h0.8M228.2 71.9h0.8M228.2 63.8h0.8M225.8 60.1h0.8M228.3 67.5h0.8M229.6 70.4h0.8M228.6 57.9h0.8M225.4 69.8h0.8M222.7 62.5h0.8M227.3 69.5h0.8M228.4 62.1h0.8M227.3 57.3h0.8M226.9 65.6h0.8M226.3 67.3h0.8M229.8 72.0h0.8M227.8 70.5h0.8M228.3 66.4h0.8M225.6 62.6h0.8M226.4 61.5h0.8M228.4 62.4h0.8M225.5 60.3h0.8M224.8 62.5h0.8M227.2 53.4h0.8" stroke="#e0452b" stroke-width="0.84" opacity="0.5"/>
<ellipse cx="228.9" cy="51.6" rx="5.4" ry="11.2" fill="#df4a2a" transform="rotate(14 228.9 51.6)" opacity="0.9" filter="url(#bl)"/>
<ellipse cx="228.9" cy="51.6" rx="4.3" ry="9" fill="#ee7a26" transform="rotate(14 228.9 51.6)" filter="url(#bl)"/>
<ellipse cx="228.9" cy="51.6" rx="3.3" ry="7.2" fill="#f3c41e" transform="rotate(14 228.9 51.6)" filter="url(#bl)"/>
<ellipse cx="228.9" cy="51.6" rx="2.6" ry="5.9" fill="#a8cf3a" transform="rotate(14 228.9 51.6)" filter="url(#bl)"/>
<ellipse cx="228.9" cy="51.6" rx="2.1" ry="4.9" fill="#4a2a8c" transform="rotate(14 228.9 51.6)" filter="url(#bl)"/>
<ellipse cx="229.1" cy="51.6" rx="1" ry="2.8" fill="#6a3a9c" transform="rotate(14 229.1 51.6)" filter="url(#bl)"/>
<rect x="221.2" y="37.4" width="14" height="23" stroke="#b3b3b3" stroke-width="0.9" fill="none"/>
<rect x="235.5" y="25.7" width="39.8" height="62.3" stroke="#b3b3b3" stroke-width="0.9" fill="none"/>
<text x="223" y="40.6" font-size="2.6" fill="#444">R5</text>
<text x="237" y="28.6" font-size="2.6" fill="#444">R4</text>
<text x="265.5" y="33.6" font-size="5" fill="#333">2%</text>
<path d="M330.4 53.9h0.9M332.4 43.0h0.9M337.5 58.2h0.9M331.6 57.2h0.9M329.2 49.5h0.9M328.6 66.3h0.9M326.1 51.6h0.9M327.8 53.6h0.9M325.9 43.6h0.9M337.9 41.1h0.9M333.3 48.0h0.9M327.0 48.8h0.9M330.9 48.7h0.9M331.9 58.4h0.9M336.1 35.2h0.9M333.5 44.1h0.9M330.7 38.1h0.9M325.8 61.2h0.9M331.6 48.0h0.9M334.2 49.1h0.9M329.5 43.4h0.9M325.0 57.6h0.9M334.7 50.0h0.9M326.8 52.9h0.9M337.4 38.2h0.9M328.9 60.7h0.9M332.4 55.6h0.9M334.9 57.4h0.9M330.3 61.5h0.9M333.1 51.3h0.9M327.6 50.1h0.9M326.7 56.7h0.9M331.6 55.6h0.9M335.7 51.5h0.9M334.7 53.5h0.9M338.7 50.3h0.9M330.0 57.5h0.9M329.2 59.0h0.9M333.5 52.9h0.9M326.9 65.6h0.9M332.8 40.9h0.9M327.3 49.5h0.9M330.4 65.2h0.9M327.5 48.1h0.9M334.8 40.9h0.9M323.1 61.0h0.9M332.8 56.9h0.9M329.0 42.6h0.9M331.6 58.3h0.9M326.9 43.4h0.9M331.2 42.0h0.9M334.3 51.9h0.9M328.5 47.9h0.9M332.4 44.2h0.9M329.3 49.0h0.9M324.5 42.9h0.9M331.1 52.7h0.9M331.7 52.2h0.9M325.3 56.6h0.9M332.9 49.2h0.9M330.1 41.8h0.9M329.4 41.7h0.9M330.7 50.3h0.9M325.3 62.6h0.9M336.2 60.1h0.9M326.3 46.2h0.9M330.9 59.5h0.9M335.5 44.5h0.9M322.0 57.8h0.9M325.3 47.9h0.9M330.7 58.1h0.9M327.5 56.2h0.9M332.0 50.4h0.9M333.3 55.4h0.9M331.0 44.0h0.9M326.9 50.7h0.9M323.5 81.9h0.9M325.9 56.4h0.9M331.1 53.0h0.9M332.8 44.9h0.9M323.8 58.6h0.9M338.8 41.5h0.9M335.2 47.1h0.9M332.3 55.3h0.9M328.6 42.4h0.9M326.1 62.9h0.9M326.5 59.5h0.9M329.9 47.6h0.9M327.6 47.1h0.9M334.0 42.9h0.9M333.5 42.1h0.9M330.6 55.6h0.9M327.5 56.2h0.9M333.8 55.7h0.9M330.4 54.1h0.9M322.4 45.8h0.9M327.5 54.2h0.9M332.7 41.4h0.9M333.4 52.9h0.9M326.6 62.5h0.9M327.0 61.4h0.9M328.9 48.2h0.9M333.0 50.2h0.9M326.3 61.7h0.9M325.0 64.5h0.9M330.5 40.6h0.9M332.8 49.4h0.9M328.1 53.3h0.9M322.6 59.5h0.9M333.8 46.5h0.9M326.8 56.2h0.9M331.9 50.2h0.9M327.2 69.6h0.9M333.4 56.2h0.9M333.9 51.9h0.9M329.0 49.2h0.9M327.8 59.6h0.9M324.8 55.9h0.9M337.6 45.6h0.9M331.3 54.0h0.9M337.2 43.5h0.9M330.6 46.3h0.9M325.9 41.0h0.9M337.6 43.7h0.9M331.8 47.2h0.9M332.4 45.1h0.9M329.5 55.9h0.9M330.9 58.4h0.9M332.4 50.8h0.9M327.1 42.7h0.9M332.3 58.8h0.9M332.2 37.0h0.9M332.2 37.7h0.9M334.5 58.7h0.9M332.0 57.6h0.9M327.4 58.9h0.9M324.6 49.0h0.9M333.0 43.1h0.9M332.9 48.8h0.9M328.9 56.1h0.9M327.6 45.5h0.9M328.9 46.3h0.9M328.7 40.9h0.9M333.0 43.8h0.9M331.4 58.9h0.9M332.7 56.2h0.9M330.0 43.1h0.9M332.9 44.4h0.9M333.0 48.5h0.9M327.6 55.6h0.9M331.9 43.5h0.9M337.4 52.6h0.9M334.8 36.7h0.9M335.4 43.7h0.9M328.1 54.8h0.9M328.7 58.6h0.9M326.8 42.3h0.9M331.5 46.4h0.9M332.7 58.8h0.9M337.8 50.9h0.9M335.1 49.1h0.9M331.5 56.4h0.9M330.0 53.5h0.9M326.3 59.7h0.9M328.3 57.7h0.9M333.3 48.4h0.9M327.9 50.6h0.9M333.4 52.4h0.9M329.5 41.5h0.9M326.2 43.6h0.9M325.2 58.3h0.9M327.7 39.2h0.9M324.0 58.2h0.9M333.4 55.1h0.9M329.8 50.9h0.9M330.0 56.2h0.9M333.1 56.5h0.9M332.1 61.9h0.9M329.3 48.8h0.9M335.0 51.5h0.9M331.9 50.6h0.9M326.8 65.7h0.9M330.0 59.3h0.9M327.3 44.2h0.9M328.3 49.0h0.9M331.1 46.9h0.9M332.2 52.7h0.9M328.6 53.3h0.9M325.7 68.6h0.9M336.7 39.7h0.9M333.0 60.7h0.9M331.9 55.9h0.9M335.6 48.0h0.9M329.2 50.7h0.9M330.1 48.3h0.9M331.2 52.7h0.9M327.4 59.2h0.9M331.3 40.7h0.9M333.2 63.0h0.9M330.2 49.3h0.9M324.4 62.2h0.9M331.1 55.5h0.9M334.0 62.5h0.9M329.5 56.3h0.9M332.3 61.0h0.9M328.7 52.2h0.9M330.1 45.7h0.9M326.8 56.4h0.9M328.5 57.2h0.9M332.4 68.8h0.9M330.1 36.7h0.9M335.9 52.0h0.9M325.0 59.0h0.9M331.7 42.9h0.9M333.3 51.2h0.9M328.4 68.0h0.9M328.6 62.6h0.9M326.4 44.5h0.9M328.8 62.8h0.9M324.8 59.9h0.9M337.2 59.9h0.9M328.8 54.7h0.9M330.4 54.0h0.9M328.1 44.9h0.9M329.6 48.0h0.9M324.7 56.4h0.9M333.1 54.0h0.9M326.0 65.3h0.9M332.6 50.2h0.9M332.3 34.3h0.9M329.2 49.4h0.9M333.9 55.2h0.9M326.4 54.2h0.9M324.2 51.2h0.9M333.0 46.6h0.9M323.8 62.1h0.9M330.0 47.0h0.9M331.9 58.1h0.9M328.1 49.5h0.9M335.2 44.3h0.9M325.4 61.9h0.9M339.6 35.3h0.9M336.0 47.1h0.9M327.9 55.0h0.9M330.1 49.5h0.9M326.1 57.0h0.9M331.0 51.7h0.9M334.7 49.9h0.9M321.6 66.7h0.9M333.6 51.4h0.9M326.2 50.0h0.9M329.4 43.7h0.9M325.7 45.4h0.9M335.9 58.6h0.9M329.4 56.4h0.9M331.0 52.5h0.9M329.3 46.6h0.9M332.4 58.1h0.9M326.4 38.2h0.9M330.9 49.8h0.9M337.8 52.2h0.9M330.5 45.8h0.9M330.0 53.4h0.9M333.6 48.0h0.9M329.0 45.8h0.9M327.0 65.3h0.9M332.0 58.4h0.9M328.7 61.1h0.9M331.3 53.0h0.9M327.3 59.0h0.9M329.8 58.2h0.9M328.2 61.1h0.9M330.6 70.6h0.9M332.9 51.3h0.9M328.9 54.0h0.9M322.3 50.0h0.9M338.8 27.5h0.9M335.1 42.9h0.9M327.2 51.7h0.9M322.5 55.3h0.9M327.5 47.3h0.9M331.1 61.3h0.9M324.4 60.8h0.9M329.4 49.0h0.9M328.3 62.8h0.9M331.0 66.0h0.9M329.3 55.7h0.9M331.6 45.2h0.9M325.7 62.5h0.9M335.7 52.5h0.9M334.3 50.5h0.9M329.6 53.1h0.9M326.6 47.4h0.9M325.7 59.5h0.9M330.6 58.5h0.9M325.6 60.6h0.9M332.0 57.3h0.9M332.8 47.0h0.9M331.4 51.5h0.9M330.7 59.2h0.9M332.5 49.9h0.9M322.1 72.8h0.9M329.5 50.4h0.9M338.8 50.1h0.9M324.2 59.7h0.9M327.3 57.4h0.9M333.7 53.1h0.9M330.0 50.6h0.9M326.7 54.8h0.9M324.3 57.4h0.9M330.5 58.3h0.9M334.0 51.0h0.9M333.9 56.7h0.9M328.8 58.5h0.9M332.2 58.8h0.9M332.3 29.3h0.9M332.3 46.1h0.9M329.3 46.3h0.9M331.1 50.9h0.9M332.3 54.3h0.9M332.0 59.9h0.9M325.8 56.1h0.9M334.5 52.5h0.9M328.6 52.2h0.9M323.7 64.3h0.9M330.7 47.8h0.9M324.9 53.4h0.9M327.3 63.7h0.9M330.5 55.1h0.9M333.2 37.5h0.9M331.2 55.5h0.9M329.8 49.3h0.9M330.4 51.6h0.9M323.6 58.8h0.9M329.4 55.8h0.9M327.9 49.8h0.9M327.1 58.5h0.9M329.1 55.5h0.9M330.6 53.3h0.9M324.3 53.2h0.9M324.6 53.0h0.9M329.8 49.7h0.9M332.5 49.5h0.9M331.3 52.9h0.9M334.8 46.2h0.9M336.6 44.4h0.9M329.4 62.2h0.9M330.5 50.7h0.9M326.8 51.4h0.9M327.3 50.7h0.9M328.6 52.2h0.9M331.0 52.8h0.9M330.7 53.0h0.9M331.6 46.6h0.9M328.0 59.0h0.9M333.4 47.9h0.9M329.0 60.0h0.9M334.6 38.8h0.9M333.1 45.0h0.9M326.6 59.1h0.9M327.1 50.5h0.9M333.0 48.0h0.9M330.8 55.4h0.9M331.3 44.7h0.9M328.7 52.6h0.9M341.5 38.3h0.9M328.5 48.5h0.9M330.6 47.5h0.9M330.0 56.5h0.9M324.8 57.8h0.9M332.1 46.3h0.9M333.1 65.5h0.9M334.2 48.9h0.9M335.9 38.1h0.9M336.4 35.7h0.9M327.7 63.6h0.9M333.4 52.5h0.9M330.8 47.6h0.9M330.1 46.7h0.9M332.4 44.6h0.9M330.7 62.9h0.9M331.4 52.1h0.9M329.1 65.9h0.9M323.9 49.3h0.9M338.3 36.4h0.9M336.2 60.4h0.9M335.1 50.8h0.9M329.5 50.4h0.9M324.6 63.0h0.9M331.5 50.7h0.9M324.9 60.0h0.9M332.5 53.0h0.9M329.8 46.5h0.9M332.4 56.8h0.9M335.7 49.2h0.9M321.3 59.6h0.9M329.4 59.6h0.9M327.8 52.3h0.9M324.5 55.7h0.9M327.1 56.0h0.9M329.9 50.2h0.9M331.9 59.7h0.9M325.6 49.5h0.9M332.5 57.7h0.9M338.4 47.2h0.9M331.9 53.6h0.9M331.2 55.8h0.9M331.5 46.7h0.9M327.1 48.5h0.9M332.8 49.0h0.9M330.1 58.0h0.9M333.8 47.8h0.9M337.7 57.7h0.9M329.8 64.0h0.9M330.9 55.4h0.9M338.1 42.1h0.9M325.5 52.3h0.9M324.6 59.0h0.9M329.4 50.1h0.9M326.0 59.9h0.9M331.3 57.5h0.9M328.3 55.2h0.9M336.3 52.0h0.9M336.0 50.0h0.9M333.1 51.2h0.9M328.8 52.6h0.9M331.2 56.7h0.9M332.0 56.2h0.9M327.2 49.4h0.9M331.1 53.2h0.9M331.7 55.8h0.9M333.8 40.9h0.9M336.6 48.2h0.9M335.5 47.7h0.9M327.8 50.3h0.9M331.0 50.6h0.9M327.9 50.0h0.9M333.6 46.7h0.9M326.1 56.6h0.9M332.6 55.3h0.9M334.3 41.0h0.9M333.3 53.4h0.9M331.7 44.3h0.9M322.3 63.6h0.9M336.7 50.6h0.9M330.3 49.5h0.9M334.4 54.2h0.9M331.9 51.4h0.9M332.4 52.6h0.9M333.3 65.2h0.9M330.8 54.4h0.9M333.2 59.7h0.9M323.3 59.5h0.9M334.7 46.2h0.9M326.3 64.5h0.9M328.4 57.4h0.9M328.4 59.4h0.9M332.8 46.6h0.9M334.0 59.8h0.9M323.4 54.0h0.9M331.2 48.7h0.9M323.7 68.4h0.9M332.9 57.6h0.9M329.2 50.5h0.9M331.3 54.3h0.9M327.2 58.8h0.9M330.3 61.2h0.9M332.4 57.6h0.9M326.6 61.0h0.9M327.6 63.2h0.9M327.7 42.5h0.9M332.0 49.3h0.9M334.6 46.5h0.9M328.1 52.8h0.9M331.2 63.9h0.9M322.2 55.6h0.9M326.0 43.5h0.9M326.1 49.3h0.9M326.7 59.6h0.9M331.1 48.7h0.9M330.0 51.8h0.9M329.3 54.7h0.9M335.7 40.0h0.9M327.2 57.8h0.9M325.4 54.0h0.9M325.1 55.6h0.9M338.7 47.2h0.9M323.9 45.1h0.9M330.6 48.1h0.9M334.4 55.5h0.9M331.6 53.4h0.9M327.2 52.8h0.9M326.9 65.5h0.9M330.6 62.7h0.9M335.3 48.3h0.9M328.4 47.1h0.9M329.5 65.5h0.9M331.5 50.5h0.9M331.2 63.4h0.9M331.8 65.2h0.9M330.0 48.4h0.9M325.9 49.4h0.9M331.3 53.5h0.9M337.4 47.7h0.9M334.1 46.0h0.9M331.6 49.8h0.9M336.4 60.6h0.9M327.5 48.5h0.9M333.4 51.8h0.9M329.1 48.7h0.9M332.7 42.7h0.9M327.7 63.3h0.9M339.3 36.9h0.9M328.3 47.1h0.9M327.4 56.1h0.9M327.5 41.2h0.9M330.6 57.3h0.9M326.4 61.2h0.9M333.0 46.7h0.9M326.3 53.2h0.9M330.9 44.2h0.9M332.6 57.0h0.9M329.4 53.0h0.9M331.8 54.6h0.9M329.4 62.8h0.9M328.1 55.7h0.9M322.6 61.0h0.9M332.2 57.9h0.9M332.8 44.0h0.9M332.8 55.2h0.9M322.7 54.4h0.9M327.3 40.8h0.9M320.8 60.4h0.9M327.1 52.3h0.9M332.8 56.0h0.9M333.6 46.5h0.9M329.9 53.0h0.9M330.0 54.8h0.9M333.2 50.8h0.9M329.0 52.9h0.9M335.2 37.6h0.9M328.1 62.5h0.9M325.0 42.7h0.9M332.8 36.5h0.9M336.3 46.7h0.9M330.3 46.2h0.9M328.7 56.3h0.9M329.8 45.4h0.9M328.0 54.2h0.9M335.5 46.5h0.9M325.3 68.2h0.9M325.8 55.6h0.9M330.1 44.7h0.9M322.5 55.7h0.9M325.9 44.1h0.9M331.7 57.3h0.9M331.2 58.0h0.9M326.8 39.5h0.9M334.9 45.0h0.9M333.7 44.5h0.9M330.3 41.0h0.9M333.8 47.8h0.9M326.6 44.3h0.9M328.8 41.1h0.9M325.3 52.1h0.9M325.5 55.5h0.9M335.3 43.7h0.9M326.8 47.4h0.9M326.4 51.6h0.9M327.5 50.1h0.9M332.0 47.6h0.9M327.6 58.1h0.9M331.4 59.3h0.9M326.6 56.8h0.9M326.3 49.9h0.9M324.9 66.4h0.9M327.1 65.1h0.9M327.8 48.8h0.9M331.2 51.8h0.9M333.9 62.5h0.9M329.7 46.2h0.9M329.5 55.4h0.9M334.4 53.9h0.9M329.3 46.9h0.9M327.8 50.1h0.9M329.4 40.2h0.9M332.4 48.9h0.9M335.4 38.5h0.9M325.5 68.8h0.9M327.5 63.4h0.9M332.0 62.4h0.9M332.4 55.3h0.9M323.7 58.5h0.9M327.7 61.6h0.9M328.6 59.9h0.9M330.8 59.7h0.9M331.0 45.7h0.9M327.2 55.0h0.9M329.5 48.2h0.9M326.4 42.5h0.9M332.0 44.2h0.9M327.3 55.0h0.9M329.7 60.4h0.9M329.2 41.7h0.9M325.5 64.7h0.9M324.2 62.2h0.9M327.3 48.8h0.9M333.1 49.6h0.9M328.7 51.5h0.9M329.7 59.8h0.9M327.1 48.7h0.9M332.3 44.5h0.9M323.9 53.5h0.9M332.2 37.1h0.9M328.1 53.0h0.9M329.8 61.2h0.9M330.1 54.7h0.9M328.0 57.9h0.9M331.8 56.6h0.9M329.3 57.8h0.9M331.5 53.9h0.9M334.0 47.0h0.9M330.2 50.7h0.9M329.2 51.6h0.9M328.8 61.7h0.9M325.7 63.8h0.9M330.5 55.7h0.9M335.0 47.8h0.9M334.1 47.8h0.9M329.1 50.7h0.9M323.3 61.3h0.9M329.2 54.7h0.9M329.7 51.9h0.9M335.0 47.7h0.9M327.2 58.4h0.9M328.8 54.3h0.9M332.5 52.6h0.9M328.3 52.7h0.9M326.4 64.4h0.9M335.8 52.6h0.9M331.8 65.8h0.9M329.8 61.8h0.9M330.8 53.0h0.9M325.3 58.0h0.9M332.0 51.9h0.9M331.7 46.4h0.9M331.2 50.6h0.9M329.9 45.4h0.9M329.0 56.0h0.9M329.4 52.3h0.9M330.0 56.7h0.9M333.1 59.5h0.9M336.8 30.1h0.9M324.1 53.3h0.9M330.1 38.6h0.9M324.6 52.3h0.9M329.0 45.4h0.9M331.6 53.6h0.9M328.8 62.5h0.9M331.1 39.5h0.9M330.5 54.0h0.9M327.7 51.2h0.9M328.8 37.6h0.9M324.3 55.9h0.9M327.1 51.9h0.9M335.5 49.8h0.9M326.9 46.1h0.9M328.2 76.6h0.9M335.0 50.6h0.9M332.6 39.2h0.9M331.5 45.6h0.9M328.7 49.2h0.9M330.6 49.6h0.9M332.3 52.3h0.9M331.9 44.8h0.9M332.2 57.1h0.9M334.7 49.8h0.9M333.5 42.8h0.9M332.5 46.7h0.9M330.5 49.5h0.9M329.6 58.8h0.9M325.5 55.0h0.9M331.9 50.2h0.9M330.6 52.7h0.9M326.8 53.2h0.9M333.3 68.8h0.9M327.9 47.1h0.9M326.3 55.0h0.9M329.6 57.8h0.9M325.4 43.9h0.9M327.1 53.1h0.9M324.7 52.3h0.9M327.7 48.2h0.9M328.5 56.3h0.9M329.2 60.0h0.9M331.5 61.4h0.9M332.9 51.6h0.9M333.5 54.7h0.9M327.7 69.8h0.9M330.4 44.0h0.9M333.2 54.9h0.9M326.8 58.4h0.9M327.7 52.9h0.9M333.8 58.3h0.9M332.2 54.2h0.9M329.3 58.0h0.9M330.1 62.2h0.9M333.2 51.5h0.9M325.2 52.7h0.9M329.8 51.9h0.9M326.9 48.5h0.9M330.4 52.3h0.9M329.8 43.6h0.9M333.0 58.8h0.9M328.6 65.1h0.9M324.3 64.0h0.9M327.6 61.6h0.9M327.8 44.4h0.9M327.4 63.4h0.9M333.0 47.6h0.9M330.9 52.2h0.9M320.4 64.1h0.9M330.8 44.3h0.9M330.1 58.8h0.9M330.5 54.6h0.9M334.0 52.2h0.9M327.4 45.0h0.9M330.9 55.8h0.9M328.7 48.5h0.9M328.7 60.1h0.9M329.1 61.5h0.9M334.7 43.0h0.9M329.0 48.2h0.9M331.1 50.2h0.9M328.3 42.9h0.9M327.4 43.1h0.9M331.6 53.4h0.9M330.2 50.8h0.9M327.7 39.1h0.9M328.2 47.8h0.9M329.1 56.1h0.9M337.2 44.9h0.9M335.0 46.5h0.9M329.7 64.5h0.9M321.8 60.4h0.9M332.6 40.6h0.9M333.9 43.0h0.9M330.6 55.4h0.9M333.5 44.1h0.9M329.7 50.3h0.9M336.5 50.5h0.9M333.7 57.6h0.9M334.2 34.0h0.9M330.7 35.7h0.9M338.8 45.2h0.9M326.3 59.2h0.9M334.1 52.2h0.9M339.2 41.6h0.9M326.0 55.1h0.9M329.6 57.7h0.9M329.3 50.3h0.9M332.2 50.4h0.9M330.2 55.8h0.9M334.1 62.7h0.9M331.6 53.9h0.9M329.0 56.2h0.9M333.7 52.9h0.9M329.8 49.4h0.9M330.4 45.4h0.9M336.8 56.0h0.9M327.8 49.5h0.9M328.8 50.2h0.9M328.4 59.1h0.9M325.6 55.0h0.9M321.5 56.9h0.9M336.2 41.8h0.9M326.4 55.7h0.9M329.3 47.7h0.9M330.2 46.2h0.9M328.3 45.4h0.9M324.3 60.2h0.9M329.0 58.5h0.9M339.0 49.1h0.9M334.4 44.7h0.9M332.4 53.1h0.9M325.9 47.8h0.9M326.9 64.3h0.9M328.7 40.8h0.9M335.8 39.8h0.9M329.7 50.3h0.9M330.1 52.5h0.9M329.4 53.2h0.9M326.7 57.3h0.9M321.3 66.1h0.9M332.5 50.4h0.9M326.4 47.3h0.9M329.3 38.7h0.9M328.6 53.9h0.9M326.1 57.9h0.9M331.3 50.7h0.9M331.1 61.7h0.9M330.7 52.8h0.9M327.9 63.4h0.9M329.4 54.8h0.9M334.6 45.4h0.9M325.1 46.3h0.9M333.9 41.6h0.9M330.1 39.1h0.9M325.5 53.3h0.9M328.4 58.6h0.9M325.2 66.1h0.9M332.0 52.4h0.9M334.0 51.5h0.9M324.4 42.5h0.9M327.9 59.4h0.9M335.6 56.7h0.9M333.8 48.8h0.9M333.4 58.5h0.9M329.3 56.5h0.9M328.7 37.7h0.9M325.0 56.8h0.9M332.0 53.9h0.9M333.8 50.3h0.9M328.3 48.7h0.9M325.9 64.8h0.9M328.0 63.7h0.9M321.0 64.1h0.9M330.9 43.8h0.9M336.4 48.9h0.9M335.4 60.7h0.9M331.8 43.5h0.9M337.2 48.6h0.9M331.5 38.9h0.9M324.0 65.1h0.9M320.8 58.2h0.9M332.2 56.4h0.9M328.3 53.6h0.9M338.3 51.2h0.9M331.8 49.7h0.9M329.5 56.9h0.9M325.4 45.8h0.9M332.6 62.4h0.9M329.7 48.5h0.9M331.0 45.9h0.9M320.5 59.9h0.9M333.2 52.1h0.9M332.2 57.2h0.9M328.7 48.9h0.9M334.3 36.2h0.9M330.3 56.6h0.9M335.5 43.4h0.9M328.4 60.3h0.9M338.4 42.6h0.9M332.5 38.7h0.9M327.4 54.1h0.9M327.7 55.0h0.9M321.5 51.1h0.9M329.5 42.9h0.9M331.6 59.6h0.9M333.5 42.0h0.9M328.1 48.3h0.9M332.5 46.9h0.9M324.1 48.0h0.9M327.5 58.3h0.9M332.8 48.2h0.9M331.2 57.0h0.9M326.2 56.7h0.9M336.0 40.7h0.9M338.1 45.4h0.9M329.3 49.2h0.9M333.4 48.7h0.9M324.4 53.3h0.9M327.1 36.8h0.9M330.7 58.1h0.9M328.8 57.8h0.9M330.9 51.3h0.9M330.6 41.9h0.9M329.0 52.2h0.9M333.6 49.1h0.9M334.5 57.8h0.9M329.4 51.6h0.9M323.3 56.3h0.9M334.9 50.3h0.9M329.3 63.3h0.9M336.3 36.3h0.9M332.4 45.2h0.9M336.6 57.8h0.9M332.9 41.5h0.9M330.3 58.1h0.9M326.2 42.1h0.9M327.9 52.6h0.9M329.4 45.2h0.9M330.7 49.1h0.9M330.8 53.9h0.9M327.7 51.0h0.9M336.3 51.0h0.9M322.6 67.0h0.9M328.5 52.1h0.9" stroke="#e0452b" stroke-width="0.9" opacity="0.5"/>
<path d="M328.3 48.4h0.8M338.0 49.5h0.8M338.6 45.1h0.8M342.2 39.2h0.8M337.1 71.5h0.8M326.9 54.8h0.8M336.8 57.4h0.8M333.0 74.0h0.8M332.3 52.8h0.8M332.1 59.0h0.8M326.6 63.7h0.8M339.9 60.4h0.8M322.5 54.3h0.8M330.0 50.7h0.8M332.9 56.6h0.8M332.3 64.9h0.8M344.9 37.0h0.8M323.7 50.3h0.8M333.3 50.0h0.8M337.1 52.0h0.8M330.0 34.2h0.8M330.3 60.2h0.8M343.4 48.4h0.8M339.2 53.3h0.8M335.9 49.8h0.8M322.9 35.4h0.8M332.5 49.5h0.8M338.2 37.6h0.8M332.7 44.8h0.8M332.5 50.8h0.8M347.4 57.5h0.8M330.9 53.9h0.8M327.6 51.3h0.8M328.5 73.3h0.8M329.6 57.2h0.8M333.3 42.3h0.8M333.1 48.1h0.8M337.4 48.7h0.8M333.7 52.4h0.8M327.5 46.8h0.8M333.4 45.8h0.8M330.7 69.2h0.8M329.7 53.5h0.8M338.6 52.1h0.8M336.5 52.4h0.8M327.7 50.5h0.8M330.6 66.7h0.8M340.9 60.5h0.8M337.3 65.8h0.8M338.8 25.5h0.8M335.8 57.8h0.8M326.4 62.4h0.8M320.5 69.7h0.8M334.8 54.7h0.8M337.2 38.5h0.8M333.3 59.7h0.8M333.3 48.3h0.8M337.8 37.9h0.8M330.9 47.5h0.8M332.1 63.8h0.8M333.5 65.6h0.8M330.2 60.2h0.8M338.5 45.3h0.8M330.8 42.2h0.8M339.4 54.8h0.8M344.1 42.9h0.8M330.4 65.9h0.8M330.6 57.6h0.8M323.8 60.2h0.8M333.7 55.0h0.8M336.1 54.1h0.8M324.3 53.5h0.8M339.1 37.4h0.8M332.3 63.3h0.8M332.2 62.5h0.8M327.4 48.8h0.8M334.8 54.3h0.8M324.0 54.6h0.8M335.9 69.8h0.8M331.8 57.8h0.8M326.2 52.7h0.8M339.9 50.8h0.8M341.2 41.6h0.8M330.2 47.6h0.8M342.9 57.2h0.8M327.7 50.3h0.8M333.5 54.9h0.8M336.3 62.0h0.8M319.8 54.9h0.8M336.4 57.5h0.8M330.3 59.6h0.8M331.6 55.5h0.8M326.8 52.2h0.8M332.7 58.5h0.8M330.5 36.8h0.8M324.5 63.9h0.8M332.8 41.6h0.8M324.1 59.9h0.8M339.9 55.9h0.8M323.0 62.2h0.8M328.2 53.2h0.8M332.6 44.9h0.8M329.7 63.5h0.8M335.6 56.5h0.8M335.9 55.9h0.8M330.4 54.2h0.8M327.9 62.4h0.8M330.4 61.3h0.8M335.6 56.9h0.8M339.0 40.7h0.8M330.4 49.6h0.8M321.6 52.3h0.8M338.7 72.7h0.8M335.9 58.5h0.8M333.6 53.4h0.8M331.1 65.1h0.8M329.7 52.2h0.8M327.2 52.4h0.8M330.1 54.9h0.8M334.3 40.1h0.8M326.8 61.8h0.8M323.9 55.9h0.8M331.1 51.0h0.8M337.5 44.3h0.8M329.1 55.2h0.8M329.0 66.6h0.8M323.2 45.5h0.8M333.4 44.1h0.8M330.5 57.5h0.8M329.6 38.0h0.8M328.5 31.7h0.8M335.1 50.4h0.8M329.6 46.7h0.8M335.1 52.0h0.8M331.2 48.4h0.8M334.4 57.7h0.8M330.9 51.5h0.8M325.9 46.6h0.8M332.7 49.7h0.8M329.0 59.2h0.8M333.2 63.4h0.8M327.8 61.5h0.8M328.5 59.7h0.8M343.7 25.2h0.8M340.1 46.3h0.8M336.5 52.0h0.8M336.7 57.1h0.8M337.9 39.9h0.8M332.7 67.7h0.8M335.7 57.8h0.8M335.4 48.8h0.8M332.0 55.5h0.8M333.5 51.0h0.8M345.7 50.1h0.8M331.0 58.5h0.8M331.9 49.6h0.8M333.4 40.8h0.8M333.3 48.2h0.8M333.5 53.2h0.8M328.9 42.8h0.8M336.0 44.5h0.8M320.1 67.8h0.8M331.3 62.3h0.8M334.9 45.6h0.8M337.5 56.6h0.8M337.7 66.7h0.8M334.3 52.7h0.8M332.0 42.5h0.8M326.0 53.5h0.8M323.6 71.0h0.8M335.6 40.6h0.8M320.5 56.4h0.8M332.4 54.2h0.8M332.2 52.9h0.8M336.1 51.3h0.8M331.1 50.7h0.8M330.2 63.5h0.8M327.0 58.5h0.8M332.0 44.4h0.8M319.7 65.9h0.8M335.6 42.5h0.8M338.2 61.9h0.8M332.4 55.9h0.8M331.1 65.3h0.8M326.4 56.0h0.8M336.8 65.3h0.8M328.3 52.9h0.8M333.8 63.8h0.8M331.8 57.3h0.8M322.4 72.2h0.8M338.7 49.0h0.8M329.4 64.8h0.8M331.9 58.5h0.8M333.9 56.2h0.8M333.2 48.9h0.8M329.1 57.6h0.8M337.6 41.3h0.8M333.1 41.2h0.8M330.7 60.6h0.8M332.2 39.2h0.8M321.4 65.2h0.8M329.3 50.8h0.8M329.0 55.7h0.8M331.9 54.8h0.8M336.9 59.3h0.8M324.3 49.5h0.8M333.5 50.9h0.8M321.3 50.2h0.8M324.5 62.3h0.8M326.9 63.7h0.8M322.0 55.1h0.8M333.2 52.5h0.8M336.2 39.0h0.8M330.0 59.7h0.8M326.1 60.7h0.8M343.6 53.1h0.8M329.4 61.2h0.8M324.8 64.7h0.8M340.1 57.0h0.8M332.7 64.4h0.8M329.5 56.4h0.8M341.8 39.9h0.8M333.8 50.0h0.8M336.1 51.2h0.8M332.0 59.2h0.8M328.8 45.0h0.8M337.8 51.3h0.8M335.0 45.6h0.8M327.1 52.5h0.8M328.1 53.8h0.8M334.6 64.1h0.8M328.4 60.8h0.8M331.9 55.6h0.8M334.7 57.1h0.8M332.4 55.2h0.8M324.2 53.2h0.8M331.7 68.8h0.8M342.3 32.8h0.8M336.7 53.6h0.8M339.3 58.9h0.8M331.3 64.7h0.8M338.3 45.2h0.8M339.1 59.2h0.8M328.6 61.5h0.8M341.6 52.2h0.8M344.9 39.0h0.8M336.7 51.8h0.8M343.8 45.5h0.8M334.8 61.0h0.8M329.5 45.3h0.8M333.6 71.6h0.8M333.3 55.8h0.8M335.9 47.3h0.8M333.9 49.7h0.8M341.2 45.9h0.8M333.9 58.3h0.8M325.2 66.7h0.8M334.9 52.8h0.8M333.5 63.3h0.8M330.5 44.7h0.8M329.2 56.3h0.8M324.9 74.4h0.8M332.2 40.7h0.8M331.0 65.6h0.8M334.4 65.9h0.8M345.6 39.5h0.8M341.2 42.6h0.8M339.3 46.6h0.8M335.5 64.3h0.8M339.6 51.9h0.8M330.5 52.1h0.8M333.9 61.3h0.8M333.3 55.6h0.8M330.9 56.0h0.8M330.5 50.6h0.8M327.0 63.6h0.8M332.4 46.7h0.8M322.1 67.7h0.8M335.4 51.7h0.8M333.7 46.9h0.8M331.1 60.1h0.8M332.7 58.6h0.8M340.1 37.1h0.8M328.6 55.3h0.8M334.5 41.8h0.8M325.9 44.6h0.8M324.3 43.9h0.8M338.8 59.2h0.8M323.8 48.4h0.8M330.0 72.1h0.8M339.6 55.0h0.8M332.4 42.9h0.8M342.6 46.1h0.8M343.2 48.2h0.8M336.4 56.4h0.8M343.8 56.9h0.8M332.9 63.6h0.8M328.0 54.6h0.8M334.3 55.8h0.8M329.1 56.4h0.8M325.9 51.2h0.8M325.1 55.1h0.8M341.8 63.9h0.8M327.6 60.4h0.8M333.2 49.1h0.8M332.7 37.2h0.8M334.6 46.9h0.8M330.3 56.2h0.8M335.6 31.0h0.8M327.1 48.2h0.8M324.1 56.3h0.8M329.7 48.0h0.8M336.1 44.3h0.8M338.5 72.4h0.8M334.2 67.8h0.8M341.7 53.9h0.8M331.5 66.5h0.8M328.8 65.6h0.8M328.1 42.1h0.8M326.1 78.2h0.8M323.6 42.8h0.8M331.2 51.2h0.8M342.7 46.1h0.8M333.6 55.1h0.8M340.7 43.5h0.8M330.3 53.4h0.8M322.9 62.0h0.8M329.3 55.3h0.8M330.8 51.1h0.8M334.7 69.4h0.8M344.0 48.3h0.8M326.3 61.7h0.8M331.1 50.7h0.8M331.0 55.7h0.8M330.4 53.8h0.8M325.7 53.5h0.8M332.8 53.5h0.8M335.7 47.3h0.8M335.4 49.2h0.8M325.2 56.4h0.8M331.9 52.8h0.8M326.2 41.2h0.8M338.3 48.6h0.8M328.7 46.3h0.8M331.0 53.0h0.8" stroke="#e0452b" stroke-width="0.84" opacity="0.45"/>
<path d="M336.6 55.9h0.8M336.7 52.2h0.8M334.5 48.2h0.8M337.0 46.7h0.8M331.2 55.5h0.8M325.6 58.1h0.8M336.3 50.6h0.8M330.3 54.0h0.8M332.3 59.3h0.8M332.6 47.2h0.8M338.7 50.6h0.8M332.8 45.6h0.8M336.6 58.7h0.8M334.5 53.4h0.8M332.3 49.2h0.8M331.8 42.6h0.8M338.0 51.4h0.8M337.1 57.7h0.8M339.2 50.9h0.8M342.9 50.5h0.8M336.9 55.8h0.8M338.0 45.6h0.8M335.8 52.4h0.8M336.3 55.5h0.8M335.5 47.8h0.8M333.6 47.4h0.8M343.1 54.3h0.8M329.8 51.0h0.8M337.3 51.0h0.8M337.7 53.5h0.8M336.7 53.5h0.8M333.4 46.8h0.8M336.0 48.5h0.8M334.4 54.5h0.8M331.9 57.9h0.8M335.3 59.5h0.8M335.3 47.5h0.8M333.7 57.9h0.8M338.2 56.6h0.8M332.6 51.7h0.8M337.5 55.0h0.8M333.6 56.5h0.8M336.7 62.1h0.8M337.1 46.5h0.8M336.7 55.6h0.8M332.9 51.1h0.8M333.6 50.8h0.8M332.6 58.1h0.8M336.3 56.7h0.8M339.4 47.0h0.8M340.1 51.1h0.8M334.3 53.3h0.8M337.3 44.6h0.8M330.1 56.3h0.8M328.5 51.0h0.8M333.1 52.8h0.8M333.7 53.8h0.8M329.7 61.4h0.8M330.0 51.8h0.8M338.2 50.5h0.8M332.4 61.4h0.8M330.6 48.9h0.8M344.5 50.2h0.8M337.5 44.8h0.8M334.4 58.0h0.8M338.3 53.9h0.8M333.2 54.5h0.8M341.6 53.7h0.8M330.9 50.9h0.8M332.0 47.5h0.8M336.1 48.0h0.8M333.2 54.3h0.8M340.9 53.4h0.8M329.6 60.5h0.8M334.0 47.9h0.8M337.2 49.7h0.8M338.6 46.9h0.8M338.8 60.1h0.8M338.0 45.7h0.8M343.3 57.2h0.8M333.6 59.8h0.8M336.8 51.5h0.8M338.7 56.5h0.8M336.2 40.6h0.8M335.3 50.0h0.8M335.4 43.1h0.8M333.7 52.9h0.8M332.2 51.9h0.8M334.6 47.9h0.8M330.2 56.8h0.8M337.2 54.3h0.8M330.8 48.8h0.8M343.5 50.2h0.8M342.8 44.9h0.8M340.0 51.6h0.8M334.1 63.6h0.8M334.4 48.2h0.8M340.1 55.0h0.8M337.0 49.3h0.8M337.5 56.8h0.8M333.3 54.4h0.8M339.9 51.4h0.8M334.3 42.3h0.8M336.7 49.5h0.8M329.4 58.1h0.8M333.9 50.7h0.8M337.4 55.8h0.8M334.7 49.5h0.8M335.5 42.0h0.8M338.5 54.8h0.8M335.6 53.9h0.8M340.7 49.6h0.8M327.9 49.4h0.8M337.8 54.0h0.8M338.1 49.2h0.8M330.5 53.6h0.8M331.6 50.7h0.8M340.4 39.8h0.8M332.4 51.1h0.8M334.1 48.8h0.8M338.6 47.9h0.8M334.6 54.3h0.8M337.9 49.8h0.8M332.7 54.9h0.8M336.4 58.3h0.8M339.7 53.4h0.8M338.0 44.0h0.8M328.8 47.5h0.8M337.7 57.4h0.8M336.4 50.9h0.8M333.3 47.6h0.8M340.9 52.3h0.8M329.7 54.3h0.8M342.4 54.3h0.8M333.4 55.5h0.8M341.9 48.4h0.8M336.0 50.8h0.8M331.5 50.4h0.8M336.3 52.2h0.8M338.3 41.1h0.8M338.0 51.2h0.8M340.4 45.4h0.8M332.1 59.5h0.8M336.8 60.9h0.8M337.6 61.6h0.8M334.6 56.6h0.8M333.0 49.3h0.8M332.1 57.1h0.8M338.7 51.5h0.8M338.4 55.9h0.8M333.6 47.1h0.8M331.7 48.6h0.8M340.0 55.2h0.8M329.6 61.3h0.8M336.6 52.2h0.8M331.9 64.2h0.8M328.3 66.5h0.8M337.2 45.4h0.8M335.4 52.1h0.8M341.5 47.7h0.8M343.9 52.4h0.8M335.6 49.3h0.8M339.6 52.3h0.8M339.1 57.9h0.8M333.6 57.2h0.8M332.8 53.4h0.8M341.6 52.9h0.8M334.7 52.8h0.8M335.8 53.0h0.8M334.7 55.3h0.8M335.5 52.3h0.8M333.6 54.8h0.8M339.3 45.5h0.8M339.9 57.0h0.8M333.7 61.6h0.8M331.1 52.8h0.8M337.0 44.7h0.8M330.1 59.1h0.8M334.0 50.3h0.8M342.0 36.6h0.8M344.2 52.0h0.8M337.0 55.7h0.8M332.1 54.0h0.8M338.0 59.3h0.8M327.9 54.8h0.8M333.5 52.7h0.8M342.4 42.2h0.8M339.2 46.5h0.8M331.1 52.8h0.8M329.8 55.4h0.8M339.5 47.1h0.8M336.2 49.0h0.8M333.7 54.6h0.8M338.5 42.1h0.8M335.1 41.6h0.8M329.5 50.4h0.8M338.6 54.0h0.8M334.0 49.5h0.8M333.8 39.5h0.8M331.4 51.9h0.8M337.6 45.2h0.8M332.8 55.6h0.8M338.2 52.0h0.8M334.9 53.6h0.8M339.4 56.2h0.8M335.0 49.3h0.8M333.3 56.6h0.8M328.5 58.3h0.8M332.0 54.1h0.8M337.7 59.8h0.8M346.9 50.0h0.8M331.1 56.8h0.8M332.2 53.4h0.8M337.7 47.1h0.8M337.7 52.1h0.8M334.0 49.2h0.8M336.6 49.4h0.8M330.4 52.2h0.8M334.4 58.0h0.8M339.3 50.9h0.8M341.6 53.6h0.8M336.2 44.3h0.8M335.0 52.8h0.8M336.9 58.7h0.8M339.4 57.1h0.8M337.4 55.1h0.8M333.7 49.2h0.8M337.8 47.2h0.8M339.4 52.2h0.8M334.3 44.8h0.8M332.1 45.1h0.8M337.2 57.6h0.8M337.8 47.5h0.8M338.3 62.4h0.8M337.1 44.6h0.8M333.5 54.4h0.8M335.2 45.8h0.8M332.3 52.9h0.8M333.3 46.3h0.8M334.0 52.3h0.8M334.4 51.3h0.8M340.1 50.3h0.8M331.5 54.6h0.8M335.0 60.5h0.8M334.3 48.9h0.8M340.7 57.7h0.8M336.9 52.9h0.8M334.7 52.0h0.8M337.6 64.5h0.8M337.5 40.6h0.8M334.8 48.5h0.8M342.4 43.1h0.8M338.7 50.9h0.8M342.1 51.7h0.8M337.9 73.4h0.8M338.5 54.5h0.8M335.5 62.1h0.8M331.5 59.0h0.8M338.7 50.2h0.8M336.0 54.9h0.8" stroke="#e0452b" stroke-width="0.84" opacity="0.5"/>
<path d="M351.0 52.8h0.8M342.2 51.7h0.8M342.1 54.7h0.8M343.8 55.1h0.8M332.9 44.9h0.8M337.0 45.1h0.8M342.6 56.6h0.8M344.3 52.6h0.8M335.5 53.1h0.8M339.1 53.0h0.8M339.7 58.6h0.8M340.8 46.2h0.8M344.7 57.1h0.8M342.1 48.1h0.8M341.8 55.1h0.8M332.1 56.9h0.8M335.5 44.8h0.8M342.8 53.8h0.8M331.8 49.5h0.8M342.8 50.6h0.8M337.2 51.5h0.8M336.8 46.5h0.8M345.4 47.8h0.8M336.8 54.3h0.8M335.6 55.0h0.8M337.4 48.7h0.8M342.1 45.2h0.8M356.3 63.9h0.8M328.0 55.4h0.8M340.8 53.3h0.8M340.2 46.9h0.8M347.0 49.7h0.8M338.8 52.6h0.8M326.9 45.9h0.8M348.2 59.8h0.8M334.6 51.7h0.8M340.5 53.5h0.8M333.5 46.2h0.8M335.0 46.9h0.8M338.5 47.9h0.8M346.0 53.5h0.8M346.2 51.1h0.8M337.7 50.1h0.8M343.9 53.5h0.8M338.7 52.5h0.8M341.0 58.5h0.8M342.1 50.9h0.8M345.2 47.5h0.8M337.4 51.3h0.8M339.6 58.2h0.8M342.6 49.4h0.8M341.6 52.0h0.8M336.5 49.6h0.8M351.1 54.6h0.8M338.2 52.6h0.8M345.9 48.5h0.8M342.4 50.8h0.8M347.8 56.7h0.8M327.6 55.3h0.8M352.8 57.2h0.8M339.4 55.5h0.8M333.9 49.5h0.8M342.0 50.2h0.8M354.0 57.3h0.8M344.6 46.8h0.8M333.8 50.7h0.8M339.2 43.1h0.8M349.1 50.9h0.8M333.0 47.7h0.8M340.5 46.2h0.8M339.0 54.2h0.8M354.2 49.8h0.8M339.5 49.9h0.8M348.9 51.4h0.8M337.3 48.0h0.8M335.6 57.6h0.8M347.2 50.1h0.8M344.6 53.0h0.8M331.4 44.8h0.8M345.0 50.0h0.8M345.0 50.7h0.8M337.5 50.0h0.8M342.6 49.2h0.8M342.5 52.5h0.8M337.4 58.4h0.8M337.6 50.8h0.8M337.1 50.7h0.8M339.6 49.8h0.8M331.9 62.3h0.8M340.0 59.0h0.8M331.9 53.3h0.8M341.1 54.9h0.8M340.8 48.5h0.8M334.9 50.4h0.8M346.0 53.2h0.8M352.4 53.5h0.8M349.3 48.7h0.8M333.3 47.4h0.8M348.3 54.8h0.8M342.1 53.3h0.8M341.7 42.2h0.8M337.4 51.8h0.8M340.4 57.4h0.8M349.5 49.7h0.8M344.1 53.2h0.8M339.2 44.9h0.8M336.6 55.1h0.8M339.1 46.5h0.8M345.1 46.5h0.8M352.2 51.5h0.8M333.6 61.7h0.8M341.3 49.0h0.8M339.3 45.8h0.8M336.3 53.3h0.8M343.2 53.0h0.8M343.5 59.5h0.8M333.2 45.2h0.8M335.6 43.9h0.8M348.2 51.1h0.8M342.7 53.6h0.8M343.9 53.7h0.8M337.5 56.3h0.8M339.4 44.8h0.8M344.1 48.3h0.8M338.1 50.8h0.8M334.0 54.8h0.8M340.8 53.9h0.8M346.5 50.4h0.8M335.4 46.5h0.8M346.8 56.4h0.8M344.7 56.4h0.8M334.6 63.4h0.8" stroke="#e0452b" stroke-width="0.84" opacity="0.45"/>
<path d="M329.2 70.1h0.8M333.6 69.9h0.8M326.6 68.6h0.8M328.3 69.5h0.8M327.9 65.7h0.8M328.5 62.1h0.8M327.5 66.8h0.8M328.3 68.1h0.8M329.5 65.2h0.8M328.5 63.3h0.8M331.2 58.1h0.8M329.4 66.9h0.8M329.6 65.7h0.8M333.2 59.1h0.8M330.4 64.7h0.8M330.0 67.1h0.8M329.6 63.8h0.8M329.8 67.4h0.8M331.0 67.3h0.8M327.6 58.5h0.8M332.4 63.1h0.8M333.5 66.2h0.8M332.4 67.9h0.8M328.4 69.8h0.8M325.7 56.7h0.8M328.5 64.0h0.8M330.0 67.1h0.8M331.6 69.1h0.8M329.2 70.9h0.8M328.9 60.6h0.8M333.3 62.8h0.8M328.0 60.1h0.8M332.2 67.5h0.8M331.8 59.1h0.8M326.4 69.0h0.8M330.3 68.0h0.8M328.2 66.2h0.8M327.3 55.7h0.8M325.1 61.6h0.8M325.8 67.2h0.8M330.6 58.7h0.8M328.7 63.3h0.8M330.3 63.9h0.8M327.0 67.8h0.8M328.8 65.4h0.8M328.9 65.4h0.8M325.8 62.5h0.8M325.5 64.3h0.8M330.7 63.7h0.8M330.0 67.2h0.8M327.3 63.6h0.8M329.4 68.4h0.8M331.2 57.6h0.8M334.1 69.0h0.8M327.4 63.6h0.8M331.1 68.7h0.8M334.8 64.6h0.8M329.8 67.7h0.8M333.2 70.2h0.8M323.3 62.1h0.8M333.2 64.6h0.8M329.6 63.6h0.8M325.0 65.1h0.8M331.5 57.9h0.8M332.2 63.6h0.8M332.6 63.3h0.8M332.5 61.2h0.8M329.5 63.5h0.8M327.8 58.2h0.8M328.5 69.8h0.8M329.5 66.0h0.8M330.6 71.7h0.8M328.4 60.8h0.8M329.7 59.7h0.8M331.8 65.4h0.8M330.4 57.7h0.8M335.2 65.2h0.8M334.9 61.5h0.8M326.8 62.9h0.8M328.2 65.3h0.8M326.4 64.4h0.8M326.8 71.6h0.8M330.9 66.8h0.8M327.2 59.2h0.8M327.0 68.1h0.8M328.9 59.0h0.8M331.6 64.6h0.8M328.7 59.3h0.8M328.7 61.0h0.8M331.9 69.5h0.8M330.8 62.1h0.8M330.7 61.7h0.8M331.9 62.0h0.8M327.1 63.0h0.8M330.1 70.0h0.8M328.1 59.6h0.8M332.1 59.4h0.8M331.6 66.5h0.8M327.0 57.9h0.8M332.9 62.8h0.8M326.7 68.7h0.8M332.5 64.3h0.8M330.1 62.3h0.8M327.5 61.4h0.8M326.9 60.6h0.8M328.9 61.9h0.8M329.5 64.8h0.8M327.9 69.2h0.8M331.0 68.1h0.8M326.2 62.0h0.8M329.6 61.3h0.8M329.6 67.0h0.8M325.0 57.1h0.8M330.4 62.5h0.8M326.5 62.9h0.8M323.5 59.8h0.8M328.1 60.3h0.8M329.0 65.6h0.8M331.8 57.7h0.8M328.4 60.6h0.8" stroke="#e0452b" stroke-width="0.84" opacity="0.5"/>
<ellipse cx="330.6" cy="52.4" rx="5.02" ry="10.42" fill="#df4a2a" transform="rotate(14 330.6 52.4)" opacity="0.9" filter="url(#bl)"/>
<ellipse cx="330.6" cy="52.4" rx="4" ry="8.37" fill="#ee7a26" transform="rotate(14 330.6 52.4)" filter="url(#bl)"/>
<ellipse cx="330.6" cy="52.4" rx="3.07" ry="6.7" fill="#f3c41e" transform="rotate(14 330.6 52.4)" filter="url(#bl)"/>
<ellipse cx="330.6" cy="52.4" rx="2.42" ry="5.49" fill="#a8cf3a" transform="rotate(14 330.6 52.4)" filter="url(#bl)"/>
<ellipse cx="330.6" cy="52.4" rx="1.95" ry="4.56" fill="#4a2a8c" transform="rotate(14 330.6 52.4)" filter="url(#bl)"/>
<ellipse cx="330.8" cy="52.4" rx="0.93" ry="2.6" fill="#6a3a9c" transform="rotate(14 330.8 52.4)" filter="url(#bl)"/>
<rect x="323" y="39" width="13.5" height="23" stroke="#b3b3b3" stroke-width="0.9" fill="none"/>
<rect x="340.8" y="25.7" width="46.7" height="62.3" stroke="#b3b3b3" stroke-width="0.9" fill="none"/>
<text x="325.5" y="32.5" font-size="2.6" fill="#444">R5</text>
<text x="348.5" y="32.5" font-size="4.6" fill="#333">0,8%</text>
<text x="377" y="32.5" font-size="2.6" fill="#444">R4</text>
<path d="M427.9 59.3h0.9M428.6 71.8h0.9M425.6 57.7h0.9M433.2 63.6h0.9M428.3 64.2h0.9M429.1 59.8h0.9M427.8 66.5h0.9M428.1 56.6h0.9M426.8 58.4h0.9M435.1 51.1h0.9M428.6 74.6h0.9M429.9 57.4h0.9M433.8 56.5h0.9M426.8 65.0h0.9M433.2 51.9h0.9M430.7 55.2h0.9M428.4 49.1h0.9M433.1 55.7h0.9M426.0 51.6h0.9M432.2 59.4h0.9M427.8 53.8h0.9M432.6 51.0h0.9M435.5 53.7h0.9M432.6 54.6h0.9M429.1 51.2h0.9M429.5 62.0h0.9M428.7 59.9h0.9M426.5 55.7h0.9M428.1 46.0h0.9M430.2 59.0h0.9M433.7 46.1h0.9M424.5 55.7h0.9M430.3 55.5h0.9M432.9 51.1h0.9M431.8 49.2h0.9M427.9 49.6h0.9M431.9 70.6h0.9M426.8 52.7h0.9M432.9 54.0h0.9M434.9 62.9h0.9M423.3 57.3h0.9M430.3 63.0h0.9M432.8 46.4h0.9M432.4 47.4h0.9M424.6 79.0h0.9M429.5 54.7h0.9M426.2 52.4h0.9M430.8 56.4h0.9M431.3 62.6h0.9M429.5 46.2h0.9M427.2 56.8h0.9M429.0 54.7h0.9M429.8 60.0h0.9M430.5 56.4h0.9M430.7 51.3h0.9M431.6 48.9h0.9M428.6 36.9h0.9M434.1 44.8h0.9M435.6 52.9h0.9M424.1 66.6h0.9M428.7 51.8h0.9M430.9 59.7h0.9M433.9 54.1h0.9M431.9 60.5h0.9M434.7 56.0h0.9M430.8 51.4h0.9M430.5 65.1h0.9M432.1 53.4h0.9M430.4 45.3h0.9M434.8 53.3h0.9M432.0 59.3h0.9M434.9 47.5h0.9M428.4 60.7h0.9M433.1 61.2h0.9M424.8 70.0h0.9M432.5 50.7h0.9M428.8 42.6h0.9M433.4 52.5h0.9M428.9 55.7h0.9M430.7 58.2h0.9M425.2 54.0h0.9M435.7 55.2h0.9M433.1 51.0h0.9M430.9 51.9h0.9M431.6 57.6h0.9M431.0 59.3h0.9M434.5 60.4h0.9M430.2 62.4h0.9M424.4 63.1h0.9M431.5 42.0h0.9M435.3 52.0h0.9M432.5 54.2h0.9M429.7 50.3h0.9M431.4 63.0h0.9M430.1 60.6h0.9M432.6 54.7h0.9M425.1 55.3h0.9M426.2 63.9h0.9M433.0 52.9h0.9M430.1 52.8h0.9M430.7 61.9h0.9M436.5 59.4h0.9M428.0 65.2h0.9M430.9 57.9h0.9M427.9 60.3h0.9M429.0 50.9h0.9M431.2 48.3h0.9M425.7 54.4h0.9M426.2 35.0h0.9M434.6 58.7h0.9M429.2 62.1h0.9M434.1 56.2h0.9M431.1 53.6h0.9M429.9 63.1h0.9M432.7 55.2h0.9M431.9 62.6h0.9M424.3 70.4h0.9M433.8 60.9h0.9M426.3 61.5h0.9M430.7 58.8h0.9M438.7 58.1h0.9M430.5 57.2h0.9M435.9 56.4h0.9M428.2 62.8h0.9M434.2 43.8h0.9M430.9 53.2h0.9M431.2 60.1h0.9M428.5 48.7h0.9M427.6 54.0h0.9M432.3 50.3h0.9M424.9 57.6h0.9M426.8 61.0h0.9M431.1 65.9h0.9M427.9 58.5h0.9M428.3 49.6h0.9M426.6 56.4h0.9M430.4 59.3h0.9M427.9 65.1h0.9M433.2 39.8h0.9M429.5 57.7h0.9M438.5 42.9h0.9M428.3 60.1h0.9M423.6 57.4h0.9M430.4 58.8h0.9M429.6 61.5h0.9M430.6 58.0h0.9M425.8 49.8h0.9M433.9 58.2h0.9M429.2 63.8h0.9M430.5 54.3h0.9M425.2 54.6h0.9M433.3 46.7h0.9M429.1 63.5h0.9M435.5 52.2h0.9M429.9 49.6h0.9M426.9 51.4h0.9M431.8 49.0h0.9M427.7 52.9h0.9M430.6 64.5h0.9M426.1 60.4h0.9M428.6 65.3h0.9M428.2 65.7h0.9M431.3 48.7h0.9M428.3 58.4h0.9M426.3 65.6h0.9M428.0 71.6h0.9M430.0 44.7h0.9M432.4 45.0h0.9M429.1 58.4h0.9M423.4 51.7h0.9M431.3 48.0h0.9M434.7 58.5h0.9M432.3 49.6h0.9M434.8 39.1h0.9M432.0 55.2h0.9M428.8 55.8h0.9M425.5 59.1h0.9M432.2 62.3h0.9M433.8 56.9h0.9M432.6 53.7h0.9M432.6 50.5h0.9M433.5 43.5h0.9M430.8 52.0h0.9M430.4 62.4h0.9M429.9 59.8h0.9M429.5 70.0h0.9M427.6 53.6h0.9M430.2 42.0h0.9M431.5 61.3h0.9M428.3 62.4h0.9M423.8 45.6h0.9M432.5 43.6h0.9M422.9 55.2h0.9M436.0 61.1h0.9M434.0 47.4h0.9M433.0 53.0h0.9M429.1 49.2h0.9M428.0 46.1h0.9M431.1 45.6h0.9M430.4 56.1h0.9M428.4 52.1h0.9M431.7 50.4h0.9M435.4 36.7h0.9M430.7 67.9h0.9M428.1 47.8h0.9M423.6 53.1h0.9M431.7 46.9h0.9M428.0 57.5h0.9M433.5 44.4h0.9M435.8 56.5h0.9M436.0 54.5h0.9M430.5 61.8h0.9M435.2 47.7h0.9M436.5 51.2h0.9M430.9 53.4h0.9M429.3 70.2h0.9M434.8 44.9h0.9M430.1 57.1h0.9M429.6 50.1h0.9M427.8 57.0h0.9M429.9 59.8h0.9M428.4 55.8h0.9M432.9 57.3h0.9M429.2 56.9h0.9M435.9 51.5h0.9M434.7 54.0h0.9M428.2 42.6h0.9M434.4 53.0h0.9M430.0 49.3h0.9M435.3 53.8h0.9M431.5 60.6h0.9M430.0 57.8h0.9M432.3 58.7h0.9M427.7 62.7h0.9M434.0 38.1h0.9M431.4 58.3h0.9M430.1 54.8h0.9M431.9 54.5h0.9M428.7 45.2h0.9M431.8 59.2h0.9M425.5 62.7h0.9M431.6 62.7h0.9M432.2 54.6h0.9M432.2 59.9h0.9M427.9 61.4h0.9M438.6 69.5h0.9M428.6 63.7h0.9M431.0 56.1h0.9M428.1 55.4h0.9M435.1 56.9h0.9M428.9 56.4h0.9M434.3 51.9h0.9M426.8 60.1h0.9M432.3 50.2h0.9M430.2 49.1h0.9M433.3 58.0h0.9M430.3 50.8h0.9M428.1 52.9h0.9M434.2 40.3h0.9M426.0 60.2h0.9M427.6 54.5h0.9M433.3 54.4h0.9M424.2 57.5h0.9M432.9 56.9h0.9M430.1 49.8h0.9M425.7 69.0h0.9M431.9 51.9h0.9M431.7 62.3h0.9M426.9 67.9h0.9M430.7 50.5h0.9M433.2 56.0h0.9M433.9 49.5h0.9M429.5 62.5h0.9M428.6 52.2h0.9M428.8 46.7h0.9M427.5 64.2h0.9M431.9 61.9h0.9M433.4 48.9h0.9M430.5 63.6h0.9M435.0 57.0h0.9M427.0 74.4h0.9M427.8 67.1h0.9M430.0 50.8h0.9M437.1 53.9h0.9M425.0 47.8h0.9M431.5 56.1h0.9M432.1 55.5h0.9M430.2 60.3h0.9M438.1 56.7h0.9M436.0 45.0h0.9M434.0 49.5h0.9M426.4 64.7h0.9M431.2 63.5h0.9M429.7 53.7h0.9M431.0 54.0h0.9M431.6 53.9h0.9M429.2 54.9h0.9M434.5 43.2h0.9M435.1 62.2h0.9M434.7 50.7h0.9M431.3 56.1h0.9M427.2 36.0h0.9M434.0 57.2h0.9M432.9 65.1h0.9M432.4 38.8h0.9M427.7 65.7h0.9M432.4 58.7h0.9M428.9 49.4h0.9M434.9 44.0h0.9M426.2 62.9h0.9M427.6 56.5h0.9M430.2 59.3h0.9M426.4 52.4h0.9M431.6 49.3h0.9M431.6 61.5h0.9M427.6 47.5h0.9M432.8 61.9h0.9M430.7 42.7h0.9M433.5 48.6h0.9M433.0 44.7h0.9M428.0 64.2h0.9M430.9 42.2h0.9M426.5 46.0h0.9M427.9 59.4h0.9M428.1 56.3h0.9M433.8 71.5h0.9M432.2 68.7h0.9M425.8 58.8h0.9M432.7 60.3h0.9M433.4 42.0h0.9M430.5 48.5h0.9M432.6 52.8h0.9M433.5 54.1h0.9M430.4 44.8h0.9M430.9 48.2h0.9M432.2 49.0h0.9M426.6 62.2h0.9M431.0 58.1h0.9M430.9 52.6h0.9M429.0 52.7h0.9M427.9 56.7h0.9M432.5 50.1h0.9M433.9 53.5h0.9M433.6 42.8h0.9M427.4 59.4h0.9M432.2 62.2h0.9M431.0 57.7h0.9M432.2 58.7h0.9M434.2 58.1h0.9M425.9 69.3h0.9M430.2 56.4h0.9M430.3 45.2h0.9M429.1 47.1h0.9M436.5 61.0h0.9M432.7 63.1h0.9M424.5 59.8h0.9M431.3 61.2h0.9M428.9 56.1h0.9M436.0 44.8h0.9M431.8 49.9h0.9M432.1 41.9h0.9M431.7 52.3h0.9M433.4 45.3h0.9M430.8 55.7h0.9M430.3 53.7h0.9M432.4 40.9h0.9M431.7 60.5h0.9M426.5 60.0h0.9M432.3 44.9h0.9M430.3 56.0h0.9M428.6 59.9h0.9M433.5 53.2h0.9M425.9 60.6h0.9M429.5 56.2h0.9M427.1 62.3h0.9M432.4 56.5h0.9M429.5 53.6h0.9M430.5 58.7h0.9M431.3 60.8h0.9M425.5 56.0h0.9M432.7 51.9h0.9M429.3 48.9h0.9M430.4 52.1h0.9M431.1 50.7h0.9M433.2 56.8h0.9M433.0 56.5h0.9M436.5 55.1h0.9M431.4 55.0h0.9M429.2 55.9h0.9M427.7 66.0h0.9M431.7 63.9h0.9M436.5 51.4h0.9M431.5 58.1h0.9M429.4 52.3h0.9M431.8 54.3h0.9M431.9 53.2h0.9M431.6 50.4h0.9M429.9 44.7h0.9M425.3 35.9h0.9M429.0 56.1h0.9M433.0 63.9h0.9M432.5 48.4h0.9M423.4 57.6h0.9M431.3 52.1h0.9M424.7 56.1h0.9M438.0 49.9h0.9M431.7 53.3h0.9M427.2 53.5h0.9M435.8 38.0h0.9M428.2 56.1h0.9M432.8 54.1h0.9M433.5 36.9h0.9M426.5 59.0h0.9M433.0 54.9h0.9M426.4 55.7h0.9M434.7 58.1h0.9M431.5 51.9h0.9M428.7 46.6h0.9M425.6 50.8h0.9M436.4 52.5h0.9M433.2 71.6h0.9M425.0 67.7h0.9M436.6 52.0h0.9M431.8 51.9h0.9M429.8 57.1h0.9M430.0 58.9h0.9M430.7 49.7h0.9M436.4 48.2h0.9M429.4 69.0h0.9M424.0 61.7h0.9M439.1 44.4h0.9M435.5 42.3h0.9M428.3 48.3h0.9M429.5 56.3h0.9M427.5 58.4h0.9M431.4 52.3h0.9M433.8 43.2h0.9M431.4 56.5h0.9M428.4 58.9h0.9M428.3 54.4h0.9M434.1 51.6h0.9M430.0 58.9h0.9M438.1 55.4h0.9M429.5 46.2h0.9M433.3 55.8h0.9M432.4 45.3h0.9M427.5 61.5h0.9M434.7 58.8h0.9M432.3 47.6h0.9M427.8 55.9h0.9M428.6 63.8h0.9M436.3 39.5h0.9M427.2 53.2h0.9M433.5 67.4h0.9M434.6 43.7h0.9M430.2 53.4h0.9M436.6 44.9h0.9M436.5 55.1h0.9M435.3 37.4h0.9M433.1 43.0h0.9M437.3 51.7h0.9M435.5 56.5h0.9M427.6 57.1h0.9M429.8 57.8h0.9M429.0 63.1h0.9M428.9 59.7h0.9M425.4 59.5h0.9M434.8 48.0h0.9M431.3 53.7h0.9M427.9 78.2h0.9M433.0 72.1h0.9M428.2 60.6h0.9M429.9 60.2h0.9M430.7 62.2h0.9M429.9 51.6h0.9M428.5 69.2h0.9M433.7 52.3h0.9M430.9 54.2h0.9M432.9 71.4h0.9M430.7 39.1h0.9M431.1 57.5h0.9M428.1 41.4h0.9M431.2 49.9h0.9M428.7 53.8h0.9M435.6 52.8h0.9M433.1 56.4h0.9M433.3 49.3h0.9M436.9 54.8h0.9M436.7 46.6h0.9M433.6 52.2h0.9M430.1 44.2h0.9M425.6 59.0h0.9M432.1 45.2h0.9M429.0 59.8h0.9M429.3 51.4h0.9M430.3 52.4h0.9M424.4 62.8h0.9M435.5 56.2h0.9M429.2 40.2h0.9M428.2 58.2h0.9M435.7 33.5h0.9M425.4 56.0h0.9M434.2 52.2h0.9M435.3 44.8h0.9M429.8 55.2h0.9M427.8 52.0h0.9M427.3 69.5h0.9M425.4 50.7h0.9M433.3 69.8h0.9M429.6 65.1h0.9M429.2 49.9h0.9M428.8 48.3h0.9M431.3 64.9h0.9M435.8 54.4h0.9M426.6 55.4h0.9M429.3 52.6h0.9M426.5 45.0h0.9M433.4 52.3h0.9M432.4 47.7h0.9M439.7 44.4h0.9M430.8 52.5h0.9M427.6 67.9h0.9M426.9 66.5h0.9M433.7 54.7h0.9M425.5 55.1h0.9M432.7 58.9h0.9M430.2 65.0h0.9M428.9 56.9h0.9M428.5 50.8h0.9M434.7 52.3h0.9M435.7 64.1h0.9M426.7 74.0h0.9M433.2 50.3h0.9M438.6 40.2h0.9M428.0 60.6h0.9M430.2 54.1h0.9M426.8 55.3h0.9M429.1 64.0h0.9M430.5 55.2h0.9M430.9 44.7h0.9M430.6 39.7h0.9M425.8 53.7h0.9M427.8 45.5h0.9M427.4 56.5h0.9M434.3 45.5h0.9M429.6 51.9h0.9M429.7 43.4h0.9M433.4 52.4h0.9M433.2 51.7h0.9M427.8 58.9h0.9M427.4 64.6h0.9M433.2 53.7h0.9M433.0 48.5h0.9M426.1 69.1h0.9M431.3 57.6h0.9M430.1 59.4h0.9M433.8 59.9h0.9M426.5 65.3h0.9M432.7 62.8h0.9M431.6 60.1h0.9M426.8 60.1h0.9M435.2 48.8h0.9M434.5 50.6h0.9M426.7 53.4h0.9M437.2 56.4h0.9M427.2 54.4h0.9M427.6 56.7h0.9M429.8 54.9h0.9M433.8 51.9h0.9M434.5 42.9h0.9M429.7 61.0h0.9M434.7 59.8h0.9M433.1 48.4h0.9M434.9 59.2h0.9M439.6 59.1h0.9M431.4 55.4h0.9M424.5 39.8h0.9M430.7 45.5h0.9M428.0 49.8h0.9M429.5 67.0h0.9M432.1 48.4h0.9M427.3 51.6h0.9M428.3 45.9h0.9M430.5 51.0h0.9M429.9 57.3h0.9M424.6 38.0h0.9M437.0 33.9h0.9M430.3 59.8h0.9M430.8 55.1h0.9M432.5 50.4h0.9M426.5 61.6h0.9M429.7 62.1h0.9M436.5 39.5h0.9M434.6 54.0h0.9M431.2 63.3h0.9M430.7 49.7h0.9M428.5 52.1h0.9M434.2 62.6h0.9M432.9 53.0h0.9M430.8 45.6h0.9M424.5 48.6h0.9M429.4 44.4h0.9M424.0 58.1h0.9M436.8 42.4h0.9M430.4 62.4h0.9M430.2 42.1h0.9M429.9 55.0h0.9M441.0 45.0h0.9M435.2 53.0h0.9M425.4 61.9h0.9M429.3 63.2h0.9M425.4 64.0h0.9M425.3 53.3h0.9M431.3 55.7h0.9M438.6 57.7h0.9M435.4 60.2h0.9M431.4 51.8h0.9M428.5 62.9h0.9M431.2 57.3h0.9M433.1 63.9h0.9M425.5 57.7h0.9M424.0 59.0h0.9M437.9 50.2h0.9M432.2 51.8h0.9M437.6 45.8h0.9M432.0 52.7h0.9M436.0 54.2h0.9M428.0 60.8h0.9M433.9 45.6h0.9M432.6 79.9h0.9M434.4 54.4h0.9M428.0 64.1h0.9M432.8 63.0h0.9M431.3 35.5h0.9M426.4 52.2h0.9M431.1 66.1h0.9M438.1 37.2h0.9M432.9 61.0h0.9M427.6 47.3h0.9M434.3 51.7h0.9M432.9 56.8h0.9M431.3 40.5h0.9M435.0 50.4h0.9M434.6 49.6h0.9M431.8 60.3h0.9M425.5 56.7h0.9M433.7 59.4h0.9M433.6 54.8h0.9M433.3 49.6h0.9M429.8 56.6h0.9M430.6 66.4h0.9M428.9 56.0h0.9M428.9 61.3h0.9M428.2 52.7h0.9M429.1 73.9h0.9M431.2 42.2h0.9M433.5 59.6h0.9M432.7 59.2h0.9M427.9 56.4h0.9M438.2 47.2h0.9M428.3 45.7h0.9M432.6 53.2h0.9M434.4 56.0h0.9M436.5 46.2h0.9M424.6 45.7h0.9M433.7 59.4h0.9M433.9 63.1h0.9M436.3 51.2h0.9M424.1 48.4h0.9M429.4 49.0h0.9M427.9 73.4h0.9M428.9 58.2h0.9M435.5 54.9h0.9M427.5 62.0h0.9M432.6 72.6h0.9M431.5 63.8h0.9M427.5 43.3h0.9M427.6 53.6h0.9M429.7 51.5h0.9M431.6 52.2h0.9M435.5 46.0h0.9M430.7 51.7h0.9M435.1 47.0h0.9M425.2 56.5h0.9M431.2 43.9h0.9M434.3 42.1h0.9M430.2 50.9h0.9M426.8 59.1h0.9M431.8 58.6h0.9M437.5 55.1h0.9M434.0 29.7h0.9M429.0 50.6h0.9M428.8 48.7h0.9M437.9 53.1h0.9M432.0 45.5h0.9M433.4 51.7h0.9M435.7 50.3h0.9M431.7 75.7h0.9M427.0 59.6h0.9M434.3 53.7h0.9M433.8 54.7h0.9M432.7 54.0h0.9M434.1 56.6h0.9M429.4 51.4h0.9M430.7 54.5h0.9M428.0 62.2h0.9M432.6 61.3h0.9M428.4 56.7h0.9M430.8 64.9h0.9M426.9 55.9h0.9M431.5 47.2h0.9M431.5 41.3h0.9M431.2 49.4h0.9M431.4 54.3h0.9M429.8 57.6h0.9M429.0 62.7h0.9M424.5 49.4h0.9M435.5 49.1h0.9M428.0 60.2h0.9M428.8 63.5h0.9M428.6 50.7h0.9M433.9 57.7h0.9M426.4 64.7h0.9M432.3 57.4h0.9M434.9 54.8h0.9M438.7 39.8h0.9M433.5 65.3h0.9M432.3 59.9h0.9M426.7 55.1h0.9M435.8 51.8h0.9M436.2 45.9h0.9M433.8 54.3h0.9M433.7 54.3h0.9M430.0 63.0h0.9M430.4 45.3h0.9M433.0 66.1h0.9M435.2 55.6h0.9M426.1 63.2h0.9M435.0 47.8h0.9M431.4 57.4h0.9M432.6 64.3h0.9M431.7 55.7h0.9M436.2 44.1h0.9M434.7 52.7h0.9M433.4 59.2h0.9M427.8 43.5h0.9M435.2 44.2h0.9M430.9 56.5h0.9M428.1 47.0h0.9M432.6 60.2h0.9M427.6 45.2h0.9M435.9 41.3h0.9M437.5 49.7h0.9M427.7 65.7h0.9M435.0 48.6h0.9M432.5 54.9h0.9M432.9 56.9h0.9M427.4 46.9h0.9M431.8 63.2h0.9M431.2 56.1h0.9M433.0 58.4h0.9M432.8 42.0h0.9M436.5 42.0h0.9M434.8 34.1h0.9M433.5 53.6h0.9M435.8 53.6h0.9M430.8 60.3h0.9M432.7 66.4h0.9M432.0 52.9h0.9M433.0 52.9h0.9M428.7 57.9h0.9M432.0 66.6h0.9M436.0 49.1h0.9M430.0 59.4h0.9M433.9 53.2h0.9M432.8 52.4h0.9M426.4 60.4h0.9M433.0 48.9h0.9M436.5 47.3h0.9M428.7 59.5h0.9M425.1 53.7h0.9M432.0 52.8h0.9M429.0 53.4h0.9M436.8 59.4h0.9M431.3 51.9h0.9M430.2 60.5h0.9M428.5 57.6h0.9M430.3 66.0h0.9M427.8 64.0h0.9M427.1 60.8h0.9M431.0 53.2h0.9M428.2 55.3h0.9M436.0 50.9h0.9M424.1 75.7h0.9M431.0 53.0h0.9M428.1 58.6h0.9M425.0 64.3h0.9M438.0 45.3h0.9M424.9 47.6h0.9M436.3 52.5h0.9M427.4 46.6h0.9M432.6 45.3h0.9M439.1 51.9h0.9M422.6 63.5h0.9M425.7 59.6h0.9M435.3 55.6h0.9M431.5 55.1h0.9M430.9 42.0h0.9M430.2 60.0h0.9M427.3 57.5h0.9M432.6 46.7h0.9M435.7 57.0h0.9M429.9 53.1h0.9M432.0 50.9h0.9M436.0 47.9h0.9M438.3 50.6h0.9M430.0 47.4h0.9M431.5 58.4h0.9M428.7 57.3h0.9M428.5 56.9h0.9M429.9 53.2h0.9M429.3 51.4h0.9M423.1 69.4h0.9M426.4 39.8h0.9M427.3 63.5h0.9M431.1 57.5h0.9M435.0 55.9h0.9M429.8 50.7h0.9M430.7 53.1h0.9M434.4 46.2h0.9M434.9 44.7h0.9M430.7 53.9h0.9M432.6 42.3h0.9M436.3 62.0h0.9M428.7 63.0h0.9M433.0 28.7h0.9M427.2 42.3h0.9M432.1 57.0h0.9M429.9 56.3h0.9M437.2 56.5h0.9M429.4 57.8h0.9M432.9 60.8h0.9M433.2 61.8h0.9M434.6 69.0h0.9M426.6 54.4h0.9M435.3 62.0h0.9M432.8 42.6h0.9M430.8 53.8h0.9M431.3 45.5h0.9M428.2 65.1h0.9M427.4 72.2h0.9M422.7 57.8h0.9M434.1 45.3h0.9M431.3 54.0h0.9M427.8 54.6h0.9M430.6 56.3h0.9M437.5 64.1h0.9M431.2 62.2h0.9M432.5 34.7h0.9M435.2 65.9h0.9M428.9 50.7h0.9M431.1 50.6h0.9M427.7 65.2h0.9M430.5 52.7h0.9M434.9 44.9h0.9M434.3 45.1h0.9M428.5 54.9h0.9M429.6 61.6h0.9M429.7 66.2h0.9M429.8 53.4h0.9M431.4 51.3h0.9M426.9 66.7h0.9M429.0 51.1h0.9M429.6 65.8h0.9M427.3 56.1h0.9M432.1 56.8h0.9M430.6 53.0h0.9M427.6 56.6h0.9M429.5 51.1h0.9M430.1 49.5h0.9M430.6 53.8h0.9M432.0 50.0h0.9M430.0 57.0h0.9M428.0 55.1h0.9M436.0 53.5h0.9M434.2 53.8h0.9M431.6 53.2h0.9M432.3 68.4h0.9M432.1 54.9h0.9M430.8 50.3h0.9M431.6 52.7h0.9M439.1 61.1h0.9M434.5 53.8h0.9M434.6 54.2h0.9M429.9 52.7h0.9" stroke="#e0452b" stroke-width="0.9" opacity="0.5"/>
<path d="M432.3 65.5h0.8M435.7 49.6h0.8M439.6 24.2h0.8M424.3 54.7h0.8M426.0 64.2h0.8M434.6 72.9h0.8M438.6 56.1h0.8M438.6 62.9h0.8M434.7 47.2h0.8M438.4 58.8h0.8M430.5 70.5h0.8M431.4 61.0h0.8M424.5 56.8h0.8M431.2 37.6h0.8M430.1 52.5h0.8M439.1 45.2h0.8M440.3 64.8h0.8M431.2 49.2h0.8M434.2 60.0h0.8M435.4 47.4h0.8M426.2 73.3h0.8M425.3 44.3h0.8M428.6 57.1h0.8M430.8 58.2h0.8M433.1 48.2h0.8M431.0 62.0h0.8M430.5 65.5h0.8M434.1 64.8h0.8M430.4 37.5h0.8M437.0 59.1h0.8M426.8 35.5h0.8M430.5 74.1h0.8M434.6 57.4h0.8M429.2 51.6h0.8M423.6 61.5h0.8M435.3 61.4h0.8M430.7 45.0h0.8M434.6 72.1h0.8M437.0 54.7h0.8M434.9 40.1h0.8M430.8 69.4h0.8M435.8 71.4h0.8M433.0 68.4h0.8M427.1 60.9h0.8M434.7 48.3h0.8M434.3 65.5h0.8M431.3 73.9h0.8M432.6 64.1h0.8M429.8 71.2h0.8M433.1 49.1h0.8M426.5 65.2h0.8M424.1 64.1h0.8M440.4 43.4h0.8M431.5 40.9h0.8M434.8 49.9h0.8M424.8 56.1h0.8M432.9 60.8h0.8M428.7 53.8h0.8M448.0 58.0h0.8M427.6 54.7h0.8M427.6 56.6h0.8M436.8 62.6h0.8M437.9 61.9h0.8M433.6 59.1h0.8M437.8 52.9h0.8M425.3 63.0h0.8M436.8 52.3h0.8M427.8 71.4h0.8M427.6 55.5h0.8M430.5 58.8h0.8M431.3 49.0h0.8M426.0 52.3h0.8M444.0 59.6h0.8M430.3 56.3h0.8M429.6 50.1h0.8M438.6 46.3h0.8M432.2 56.8h0.8M439.3 58.9h0.8M430.6 61.4h0.8M432.8 68.4h0.8M433.5 53.6h0.8M436.1 38.0h0.8M431.8 55.0h0.8M434.5 39.2h0.8M443.0 45.7h0.8M427.8 65.6h0.8M429.1 61.4h0.8M431.7 50.2h0.8M436.4 51.0h0.8M434.8 55.9h0.8M439.8 40.8h0.8M425.1 60.0h0.8M434.4 53.4h0.8M429.3 73.6h0.8M432.6 46.4h0.8M432.2 66.0h0.8M423.4 48.7h0.8M432.7 66.2h0.8M434.7 47.4h0.8M424.4 62.3h0.8M432.7 52.3h0.8M441.7 49.9h0.8M430.9 54.8h0.8M435.1 61.4h0.8M431.0 60.1h0.8M426.4 70.7h0.8M426.9 63.5h0.8M434.1 31.5h0.8M439.9 53.7h0.8M439.5 38.4h0.8M429.5 52.4h0.8M437.0 63.1h0.8M433.8 43.9h0.8M430.7 45.0h0.8M434.7 58.2h0.8M428.4 53.2h0.8M438.9 60.5h0.8M422.6 60.2h0.8M433.1 73.3h0.8M425.5 50.7h0.8M432.5 56.5h0.8M433.0 47.1h0.8M430.1 58.6h0.8M430.3 69.3h0.8M432.5 56.2h0.8M429.0 49.2h0.8M433.3 49.3h0.8M439.6 44.2h0.8M428.8 57.1h0.8M432.2 69.5h0.8M429.9 33.5h0.8M437.5 36.4h0.8M434.1 70.1h0.8M447.5 43.2h0.8M436.9 60.3h0.8M436.5 45.0h0.8M438.8 64.9h0.8M426.6 63.2h0.8M437.9 58.9h0.8M428.8 63.9h0.8M429.4 56.6h0.8M437.5 62.6h0.8M431.5 73.9h0.8M438.0 67.8h0.8M426.1 49.4h0.8M435.1 49.2h0.8M430.3 54.0h0.8M431.6 54.2h0.8M422.9 55.9h0.8M438.3 51.6h0.8M432.9 62.9h0.8M427.6 56.2h0.8M425.3 59.0h0.8M428.2 56.1h0.8M439.0 63.4h0.8M433.8 45.3h0.8M428.9 71.2h0.8M434.7 60.2h0.8M432.2 60.9h0.8M433.1 62.5h0.8M435.1 67.3h0.8M433.4 63.8h0.8M436.9 59.5h0.8M426.9 54.1h0.8M435.2 41.2h0.8M430.6 58.4h0.8M433.7 53.8h0.8M432.9 53.7h0.8M426.3 78.8h0.8M433.4 38.9h0.8M437.5 57.9h0.8M428.3 67.7h0.8M425.1 64.8h0.8M434.1 68.8h0.8M439.3 45.5h0.8M432.6 47.5h0.8M432.6 62.6h0.8M428.9 53.3h0.8M429.4 72.7h0.8M438.1 59.7h0.8M436.6 59.1h0.8M432.9 61.0h0.8M431.7 54.0h0.8M424.3 56.7h0.8M435.2 50.6h0.8M435.1 56.7h0.8M438.7 53.0h0.8M442.6 60.6h0.8M436.5 43.7h0.8M439.6 43.4h0.8M426.5 60.3h0.8M438.6 59.8h0.8M438.4 48.3h0.8M440.0 55.6h0.8M437.6 47.4h0.8M432.4 76.3h0.8M442.3 43.1h0.8M427.1 72.4h0.8M437.1 49.5h0.8M437.7 61.5h0.8M429.2 53.8h0.8M427.5 52.4h0.8M433.7 65.9h0.8M432.3 64.6h0.8M436.2 54.5h0.8M437.2 48.7h0.8M426.2 75.8h0.8M432.6 70.3h0.8M438.3 59.0h0.8M431.4 53.8h0.8M431.0 59.4h0.8M427.0 56.8h0.8M435.4 68.7h0.8M443.9 49.1h0.8M425.9 56.1h0.8M437.7 50.0h0.8M435.6 69.8h0.8M427.6 73.4h0.8M431.1 55.7h0.8M426.8 61.2h0.8M427.0 69.5h0.8M434.1 54.2h0.8M437.4 48.5h0.8M432.0 66.7h0.8M436.5 62.2h0.8M434.1 55.1h0.8M425.0 69.8h0.8M439.8 60.1h0.8M441.2 41.0h0.8M428.8 59.6h0.8M441.9 57.6h0.8M432.7 74.9h0.8M433.5 56.8h0.8M442.8 56.3h0.8M424.4 58.0h0.8M438.3 44.1h0.8M431.5 57.8h0.8M428.5 53.1h0.8M438.6 71.2h0.8M432.2 79.8h0.8M427.9 45.5h0.8M430.8 47.3h0.8M438.3 49.6h0.8M442.8 52.0h0.8M423.7 49.0h0.8M434.1 57.6h0.8M429.5 66.9h0.8M425.8 43.4h0.8M434.1 42.3h0.8M427.2 38.4h0.8M428.7 66.9h0.8M439.3 70.5h0.8M437.5 42.8h0.8M439.0 42.1h0.8M435.8 58.5h0.8M433.2 67.4h0.8M436.5 67.1h0.8M426.8 57.9h0.8M430.2 63.1h0.8M436.8 60.6h0.8M430.0 51.2h0.8M428.2 74.6h0.8M439.0 57.8h0.8M442.1 47.5h0.8M430.5 52.1h0.8M430.9 41.8h0.8M435.9 57.5h0.8M432.9 67.4h0.8M431.2 44.5h0.8M434.5 67.9h0.8M433.0 77.0h0.8M432.9 60.5h0.8M449.3 48.1h0.8M440.9 49.9h0.8M437.5 54.3h0.8M439.8 45.6h0.8M449.6 47.3h0.8M438.8 55.3h0.8M429.6 54.7h0.8M433.8 62.8h0.8M434.9 45.7h0.8M427.6 74.1h0.8M432.9 67.1h0.8M433.1 65.5h0.8M433.5 50.8h0.8M428.2 72.9h0.8M437.6 54.3h0.8M435.7 67.6h0.8M434.2 48.5h0.8M435.0 52.8h0.8M440.1 67.5h0.8M424.4 54.2h0.8M428.3 58.2h0.8M436.0 59.3h0.8M430.9 49.2h0.8M431.2 54.8h0.8M431.3 52.6h0.8M433.4 61.5h0.8M437.7 48.4h0.8M430.6 63.6h0.8M433.9 58.1h0.8M434.2 64.4h0.8M428.4 64.8h0.8M427.5 68.1h0.8M442.1 64.2h0.8M427.7 63.0h0.8M439.5 56.1h0.8M432.6 62.3h0.8M441.6 49.5h0.8M430.1 54.2h0.8M434.6 64.4h0.8M434.7 56.7h0.8M431.2 61.0h0.8M436.0 47.2h0.8M427.3 69.3h0.8M433.3 51.4h0.8M430.4 60.4h0.8M436.9 57.3h0.8M431.3 65.7h0.8M426.4 52.3h0.8M432.4 47.2h0.8M435.0 39.0h0.8M428.8 53.4h0.8M441.3 46.6h0.8M434.3 62.3h0.8M435.4 71.1h0.8M432.1 35.4h0.8M432.7 44.5h0.8M437.7 60.6h0.8M424.1 67.5h0.8M434.4 60.1h0.8M433.0 60.0h0.8M429.8 61.3h0.8M432.7 62.4h0.8M425.3 71.7h0.8M433.3 62.9h0.8M428.5 44.3h0.8M427.1 51.6h0.8M439.8 59.9h0.8M430.5 48.8h0.8M422.6 53.0h0.8" stroke="#e0452b" stroke-width="0.84" opacity="0.45"/>
<path d="M435.2 56.3h0.8M434.4 58.6h0.8M440.2 49.4h0.8M435.3 59.7h0.8M434.6 42.9h0.8M433.8 63.3h0.8M438.3 46.4h0.8M444.9 52.5h0.8M438.5 51.6h0.8M441.9 60.0h0.8M438.5 59.7h0.8M429.5 56.5h0.8M438.2 58.5h0.8M433.9 57.6h0.8M432.5 54.4h0.8M434.6 44.0h0.8M444.8 42.8h0.8M433.0 41.6h0.8M435.0 54.8h0.8M441.4 54.4h0.8M439.6 54.7h0.8M431.1 55.9h0.8M436.9 53.9h0.8M436.0 49.4h0.8M437.4 46.6h0.8M441.0 44.7h0.8M434.4 62.0h0.8M435.5 60.3h0.8M443.1 48.1h0.8M430.9 53.0h0.8M435.6 57.6h0.8M437.9 64.5h0.8M433.2 51.3h0.8M434.9 56.0h0.8M431.9 61.4h0.8M438.8 45.4h0.8M435.4 50.8h0.8M440.0 55.3h0.8M441.2 51.5h0.8M436.1 67.3h0.8M435.3 60.0h0.8M438.0 56.4h0.8M438.0 49.8h0.8M432.4 59.7h0.8M440.6 59.2h0.8M438.3 52.4h0.8M440.2 53.0h0.8M433.3 46.4h0.8M440.3 55.1h0.8M444.0 60.9h0.8M438.7 61.1h0.8M431.7 58.0h0.8M436.8 59.9h0.8M437.3 51.8h0.8M438.2 52.6h0.8M435.6 62.0h0.8M438.6 58.0h0.8M436.0 50.5h0.8M437.7 58.1h0.8M434.3 59.7h0.8M437.1 59.3h0.8M440.6 56.2h0.8M435.8 52.1h0.8M439.3 57.7h0.8M433.0 64.5h0.8M435.8 55.9h0.8M436.7 51.3h0.8M441.3 57.6h0.8M435.2 47.9h0.8M441.3 56.9h0.8M432.2 52.9h0.8M436.0 60.6h0.8M440.3 56.1h0.8M439.0 61.4h0.8M432.2 67.9h0.8M433.0 53.5h0.8M440.7 50.7h0.8M432.5 57.3h0.8M439.3 54.9h0.8M435.2 55.8h0.8M437.5 51.7h0.8M445.0 59.2h0.8M442.6 56.1h0.8M441.4 43.2h0.8M432.5 53.3h0.8M438.1 57.2h0.8M436.6 61.9h0.8M437.2 51.8h0.8M442.3 51.1h0.8M430.4 61.1h0.8M438.6 51.8h0.8M437.5 55.8h0.8M434.2 57.6h0.8M442.8 60.0h0.8M432.7 54.7h0.8M437.9 48.8h0.8M436.8 60.9h0.8M429.7 51.9h0.8M432.4 51.7h0.8M432.5 66.2h0.8M439.4 60.4h0.8M441.1 49.5h0.8M439.5 52.6h0.8M438.1 53.8h0.8M429.9 50.1h0.8M439.1 44.3h0.8M434.9 59.5h0.8M440.8 60.0h0.8M441.7 57.0h0.8M445.3 53.7h0.8M439.5 56.6h0.8M439.6 59.1h0.8M434.1 48.8h0.8M437.6 53.3h0.8M433.1 51.5h0.8M439.9 59.4h0.8M432.8 56.2h0.8M437.2 47.7h0.8M434.6 51.3h0.8M434.4 65.0h0.8M439.3 49.8h0.8M435.1 55.8h0.8M438.3 51.6h0.8M432.9 61.8h0.8M442.1 55.3h0.8M435.1 52.4h0.8M441.4 48.8h0.8M444.8 54.5h0.8M428.0 58.9h0.8M433.2 58.6h0.8M437.2 47.5h0.8M440.3 64.4h0.8M435.6 53.5h0.8M439.1 49.3h0.8M434.5 55.6h0.8M439.5 51.8h0.8M433.2 51.4h0.8M440.5 51.8h0.8M426.6 53.5h0.8M430.7 51.6h0.8M444.6 46.1h0.8M437.4 58.1h0.8M434.3 51.8h0.8M444.2 62.7h0.8M440.5 58.5h0.8M440.8 59.0h0.8M435.5 56.0h0.8M438.6 62.7h0.8M439.1 53.4h0.8M431.8 48.9h0.8M439.0 57.3h0.8M438.1 39.6h0.8M441.9 53.5h0.8M441.6 56.8h0.8M435.1 52.5h0.8M434.2 62.0h0.8M437.4 59.1h0.8M439.4 56.0h0.8M435.9 52.7h0.8M436.1 61.2h0.8M439.7 51.5h0.8M438.9 52.9h0.8M440.8 59.7h0.8M437.6 58.5h0.8M432.8 66.2h0.8M431.0 53.2h0.8M441.1 44.7h0.8M435.5 58.7h0.8M435.1 62.0h0.8M436.2 54.0h0.8M430.6 63.3h0.8M434.7 65.0h0.8M428.3 50.3h0.8M436.0 52.2h0.8M434.7 47.7h0.8M443.3 58.8h0.8M438.3 59.3h0.8M436.0 58.4h0.8M438.4 48.2h0.8M440.2 51.0h0.8M435.3 46.7h0.8M437.2 45.9h0.8M436.6 47.3h0.8M446.9 47.1h0.8M437.5 54.1h0.8M429.8 56.7h0.8M439.6 58.9h0.8M446.3 55.9h0.8M434.1 50.9h0.8M449.5 56.3h0.8M436.5 58.2h0.8M440.9 53.7h0.8M435.1 55.1h0.8M436.3 53.2h0.8M433.0 51.6h0.8M433.3 54.8h0.8M430.1 47.9h0.8M440.6 61.4h0.8M433.9 45.8h0.8M438.2 57.8h0.8M439.1 47.5h0.8M433.9 63.3h0.8M436.8 59.9h0.8M437.2 50.4h0.8M435.6 52.3h0.8M437.9 48.7h0.8M437.3 54.7h0.8M433.2 57.0h0.8M430.9 68.9h0.8M434.9 47.0h0.8M436.8 62.1h0.8M442.4 52.3h0.8M442.2 57.1h0.8M437.7 60.1h0.8M440.2 58.4h0.8M437.3 57.4h0.8M441.2 54.3h0.8M437.6 55.0h0.8M438.4 56.0h0.8M435.4 61.7h0.8M437.9 46.8h0.8M444.2 53.0h0.8M433.5 47.6h0.8M437.7 49.6h0.8M435.4 50.3h0.8M439.9 61.6h0.8M442.3 67.8h0.8M435.2 62.5h0.8M427.8 47.3h0.8M439.2 55.7h0.8M440.0 48.9h0.8M430.8 56.9h0.8M435.5 62.1h0.8M436.5 58.3h0.8M428.2 59.0h0.8M439.6 54.4h0.8M439.8 44.1h0.8M439.1 44.0h0.8M433.3 54.1h0.8M434.2 58.0h0.8M434.0 61.9h0.8M439.0 53.2h0.8M433.5 55.1h0.8M442.2 57.0h0.8M437.8 61.1h0.8M429.3 53.8h0.8M443.8 49.5h0.8M437.0 61.2h0.8M434.8 57.1h0.8M437.2 57.2h0.8M431.2 47.2h0.8M437.8 55.0h0.8M429.2 44.4h0.8M434.6 43.4h0.8M442.1 54.2h0.8M441.9 53.0h0.8M435.5 58.1h0.8M432.7 62.7h0.8M440.4 55.2h0.8M435.8 65.0h0.8" stroke="#e0452b" stroke-width="0.84" opacity="0.5"/>
<path d="M438.3 54.3h0.8M446.8 52.7h0.8M434.0 55.0h0.8M443.4 47.5h0.8M438.8 65.2h0.8M440.0 60.3h0.8M445.1 58.2h0.8M431.0 47.2h0.8M443.6 44.5h0.8M437.3 49.9h0.8M442.7 53.5h0.8M443.2 65.2h0.8M439.0 60.4h0.8M439.9 51.8h0.8M434.2 59.4h0.8M444.6 60.6h0.8M437.7 54.1h0.8M444.0 60.5h0.8M433.0 55.1h0.8M450.6 52.3h0.8M436.2 48.3h0.8M449.0 54.7h0.8M438.6 58.9h0.8M445.9 48.5h0.8M441.8 46.9h0.8M445.8 57.5h0.8M443.2 41.8h0.8M448.8 63.8h0.8M446.2 52.9h0.8M445.7 58.4h0.8M451.2 64.3h0.8M438.3 47.3h0.8M450.4 50.4h0.8M441.2 65.0h0.8M433.0 52.2h0.8M444.9 54.2h0.8M440.5 55.4h0.8M451.7 60.5h0.8M438.2 60.4h0.8M442.1 55.0h0.8M443.5 53.1h0.8M430.2 53.1h0.8M444.8 56.2h0.8M435.2 60.0h0.8M450.4 56.0h0.8M451.2 64.1h0.8M442.2 50.5h0.8M431.9 56.0h0.8M442.1 62.8h0.8M442.3 60.6h0.8M446.1 56.5h0.8M440.5 50.2h0.8M434.9 50.4h0.8M441.1 53.7h0.8M436.1 55.4h0.8M452.8 54.5h0.8M438.3 47.2h0.8M438.3 50.6h0.8M441.3 56.9h0.8M433.9 57.6h0.8M439.8 47.7h0.8M441.2 52.7h0.8M439.7 46.4h0.8M440.6 51.7h0.8M447.7 71.9h0.8M444.5 55.1h0.8M433.9 52.0h0.8M439.5 51.5h0.8M447.0 49.3h0.8M438.8 45.4h0.8M442.4 54.4h0.8M441.8 53.2h0.8M444.4 61.8h0.8M441.6 46.7h0.8M440.8 56.4h0.8M436.0 60.2h0.8M445.0 45.6h0.8M435.9 57.0h0.8M453.3 48.1h0.8M441.5 56.9h0.8M439.8 61.3h0.8M446.7 55.0h0.8M441.2 55.8h0.8M442.8 51.3h0.8M441.4 55.8h0.8M436.9 59.3h0.8M436.3 53.1h0.8M437.7 53.4h0.8M448.6 57.1h0.8M437.6 57.9h0.8M440.2 46.6h0.8M439.1 54.5h0.8M446.5 51.7h0.8M453.7 58.1h0.8M435.7 58.8h0.8M445.1 56.3h0.8M442.0 60.6h0.8M440.5 49.7h0.8M445.2 52.9h0.8M434.6 49.1h0.8M446.9 55.3h0.8M443.2 55.1h0.8M435.9 52.9h0.8M452.2 49.9h0.8M447.1 54.7h0.8M449.2 53.2h0.8M432.7 56.4h0.8M440.4 53.1h0.8M438.1 59.6h0.8M445.6 56.0h0.8M451.1 46.7h0.8M430.3 52.5h0.8M442.7 47.8h0.8M440.6 59.0h0.8M447.3 61.9h0.8M441.6 54.4h0.8M433.9 55.8h0.8M441.4 47.6h0.8M436.7 43.3h0.8M437.4 51.4h0.8" stroke="#e0452b" stroke-width="0.84" opacity="0.45"/>
<path d="M429.7 64.4h0.8M426.5 67.8h0.8M430.6 68.3h0.8M431.2 67.3h0.8M432.0 70.0h0.8M434.3 66.1h0.8M432.5 72.1h0.8M429.4 64.2h0.8M430.7 61.2h0.8M431.9 67.0h0.8M427.7 72.0h0.8M433.8 65.0h0.8M432.7 64.6h0.8M429.8 65.7h0.8M428.8 67.8h0.8M440.1 66.4h0.8M432.5 68.5h0.8M432.8 60.1h0.8M435.0 73.3h0.8M432.9 69.6h0.8M430.9 63.6h0.8M432.2 72.8h0.8M428.1 69.0h0.8M432.2 73.2h0.8M426.5 62.3h0.8M431.5 74.0h0.8M431.8 67.4h0.8M426.4 58.7h0.8M435.3 70.3h0.8M427.5 65.9h0.8M433.1 63.0h0.8M429.0 66.3h0.8M431.2 59.2h0.8M428.7 69.6h0.8M436.8 66.3h0.8M433.0 66.1h0.8M435.0 73.0h0.8M432.4 67.3h0.8M432.2 64.4h0.8M430.8 63.3h0.8M429.8 66.9h0.8M432.0 71.6h0.8M430.8 64.8h0.8M430.0 62.9h0.8M426.9 71.0h0.8M429.6 67.4h0.8M432.0 67.1h0.8M429.2 75.8h0.8M431.3 62.2h0.8M430.1 68.0h0.8M427.8 59.9h0.8M428.1 65.9h0.8M428.5 69.6h0.8M429.7 71.8h0.8M429.8 61.9h0.8M433.3 70.6h0.8M427.7 70.4h0.8M425.2 66.7h0.8M432.2 77.3h0.8M429.3 67.2h0.8M430.1 63.5h0.8M437.0 68.9h0.8M434.2 59.5h0.8M432.0 73.6h0.8M432.9 71.2h0.8M430.8 65.5h0.8M432.9 69.7h0.8M428.9 69.4h0.8M428.6 75.1h0.8M429.3 64.6h0.8M434.5 61.9h0.8M434.4 58.8h0.8M428.9 66.0h0.8M433.4 60.7h0.8M430.0 66.5h0.8M433.2 68.9h0.8M429.6 65.3h0.8M432.9 63.3h0.8M430.2 72.1h0.8M429.7 66.3h0.8M430.4 68.1h0.8M430.9 71.1h0.8M429.0 61.8h0.8M427.0 63.4h0.8M434.8 77.5h0.8M429.5 66.5h0.8M425.8 62.9h0.8M424.6 66.1h0.8M423.3 64.8h0.8M428.9 62.1h0.8M434.0 65.5h0.8M426.3 67.1h0.8M429.6 67.1h0.8M425.8 69.4h0.8M433.3 60.0h0.8M431.4 61.0h0.8M431.3 70.4h0.8M433.9 65.3h0.8M434.7 72.2h0.8M433.1 68.4h0.8M429.0 61.4h0.8M427.1 69.4h0.8M427.8 63.0h0.8M426.0 68.2h0.8M435.1 72.2h0.8M430.0 75.9h0.8M430.8 66.9h0.8M431.0 70.0h0.8M435.7 68.4h0.8M429.0 70.4h0.8M433.5 56.7h0.8M431.3 65.6h0.8M430.1 68.4h0.8M425.5 69.1h0.8M432.8 64.1h0.8M428.6 70.6h0.8M429.3 71.7h0.8M431.1 67.5h0.8M430.7 66.2h0.8M433.4 65.7h0.8" stroke="#e0452b" stroke-width="0.84" opacity="0.5"/>
<ellipse cx="431.3" cy="55" rx="5.13" ry="10.64" fill="#df4a2a" transform="rotate(8 431.3 55)" opacity="0.9" filter="url(#bl)"/>
<ellipse cx="431.3" cy="55" rx="4.08" ry="8.55" fill="#ee7a26" transform="rotate(8 431.3 55)" filter="url(#bl)"/>
<ellipse cx="431.3" cy="55" rx="3.13" ry="6.84" fill="#f3c41e" transform="rotate(8 431.3 55)" filter="url(#bl)"/>
<ellipse cx="431.3" cy="55" rx="2.47" ry="5.61" fill="#a8cf3a" transform="rotate(8 431.3 55)" filter="url(#bl)"/>
<ellipse cx="431.3" cy="55" rx="1.99" ry="4.66" fill="#4a2a8c" transform="rotate(8 431.3 55)" filter="url(#bl)"/>
<ellipse cx="431.5" cy="55" rx="0.95" ry="2.66" fill="#6a3a9c" transform="rotate(8 431.5 55)" filter="url(#bl)"/>
<rect x="423.3" y="41.3" width="13" height="22.5" stroke="#b3b3b3" stroke-width="0.9" fill="none"/>
<rect x="438" y="25.5" width="45.8" height="62.5" stroke="#b3b3b3" stroke-width="0.9" fill="none"/>
<text x="426" y="33.5" font-size="2.6" fill="#444">R5</text>
<text x="445.5" y="33.5" font-size="4.6" fill="#333">0,7%</text>
<text x="479" y="30.5" font-size="2.6" fill="#444">R4</text>
<rect x="216.3" y="20" width="68" height="68" stroke="#231f20" stroke-width="1.4" fill="none"/>
<line x1="213.7" y1="20" x2="216.3" y2="20" stroke="#231f20" stroke-width="1"/>
<text x="202.6" y="23.4" font-size="6.4" fill="#3a3a3a" textLength="5.4" lengthAdjust="spacingAndGlyphs">10</text>
<text x="208.3" y="20.1" font-size="3.9" fill="#3a3a3a">4</text>
<line x1="213.7" y1="37" x2="216.3" y2="37" stroke="#231f20" stroke-width="1"/>
<text x="202.6" y="40.4" font-size="6.4" fill="#3a3a3a" textLength="5.4" lengthAdjust="spacingAndGlyphs">10</text>
<text x="208.3" y="37.1" font-size="3.9" fill="#3a3a3a">3</text>
<line x1="213.7" y1="54" x2="216.3" y2="54" stroke="#231f20" stroke-width="1"/>
<text x="202.6" y="57.4" font-size="6.4" fill="#3a3a3a" textLength="5.4" lengthAdjust="spacingAndGlyphs">10</text>
<text x="208.3" y="54.1" font-size="3.9" fill="#3a3a3a">2</text>
<line x1="213.7" y1="71" x2="216.3" y2="71" stroke="#231f20" stroke-width="1"/>
<text x="202.6" y="74.4" font-size="6.4" fill="#3a3a3a" textLength="5.4" lengthAdjust="spacingAndGlyphs">10</text>
<text x="208.3" y="71.1" font-size="3.9" fill="#3a3a3a">1</text>
<line x1="213.7" y1="88" x2="216.3" y2="88" stroke="#231f20" stroke-width="1"/>
<text x="202.6" y="91.4" font-size="6.4" fill="#3a3a3a" textLength="5.4" lengthAdjust="spacingAndGlyphs">10</text>
<text x="208.3" y="88.1" font-size="3.9" fill="#3a3a3a">0</text>
<line x1="216.3" y1="88" x2="216.3" y2="90.6" stroke="#231f20" stroke-width="1"/>
<text x="213.1" y="98.9" font-size="6.4" fill="#3a3a3a" textLength="5.4" lengthAdjust="spacingAndGlyphs">10</text>
<text x="218.8" y="95.6" font-size="3.9" fill="#3a3a3a">0</text>
<line x1="233.3" y1="88" x2="233.3" y2="90.6" stroke="#231f20" stroke-width="1"/>
<text x="230.1" y="98.9" font-size="6.4" fill="#3a3a3a" textLength="5.4" lengthAdjust="spacingAndGlyphs">10</text>
<text x="235.8" y="95.6" font-size="3.9" fill="#3a3a3a">1</text>
<line x1="250.3" y1="88" x2="250.3" y2="90.6" stroke="#231f20" stroke-width="1"/>
<text x="247.1" y="98.9" font-size="6.4" fill="#3a3a3a" textLength="5.4" lengthAdjust="spacingAndGlyphs">10</text>
<text x="252.8" y="95.6" font-size="3.9" fill="#3a3a3a">2</text>
<line x1="267.3" y1="88" x2="267.3" y2="90.6" stroke="#231f20" stroke-width="1"/>
<text x="264.1" y="98.9" font-size="6.4" fill="#3a3a3a" textLength="5.4" lengthAdjust="spacingAndGlyphs">10</text>
<text x="269.8" y="95.6" font-size="3.9" fill="#3a3a3a">3</text>
<line x1="284.3" y1="88" x2="284.3" y2="90.6" stroke="#231f20" stroke-width="1"/>
<text x="281.1" y="98.9" font-size="6.4" fill="#3a3a3a" textLength="5.4" lengthAdjust="spacingAndGlyphs">10</text>
<text x="286.8" y="95.6" font-size="3.9" fill="#3a3a3a">4</text>
<rect x="319.5" y="20" width="68" height="68" stroke="#231f20" stroke-width="1.4" fill="none"/>
<line x1="316.9" y1="20" x2="319.5" y2="20" stroke="#231f20" stroke-width="1"/>
<text x="305.8" y="23.4" font-size="6.4" fill="#3a3a3a" textLength="5.4" lengthAdjust="spacingAndGlyphs">10</text>
<text x="311.5" y="20.1" font-size="3.9" fill="#3a3a3a">4</text>
<line x1="316.9" y1="37" x2="319.5" y2="37" stroke="#231f20" stroke-width="1"/>
<text x="305.8" y="40.4" font-size="6.4" fill="#3a3a3a" textLength="5.4" lengthAdjust="spacingAndGlyphs">10</text>
<text x="311.5" y="37.1" font-size="3.9" fill="#3a3a3a">3</text>
<line x1="316.9" y1="54" x2="319.5" y2="54" stroke="#231f20" stroke-width="1"/>
<text x="305.8" y="57.4" font-size="6.4" fill="#3a3a3a" textLength="5.4" lengthAdjust="spacingAndGlyphs">10</text>
<text x="311.5" y="54.1" font-size="3.9" fill="#3a3a3a">2</text>
<line x1="316.9" y1="71" x2="319.5" y2="71" stroke="#231f20" stroke-width="1"/>
<text x="305.8" y="74.4" font-size="6.4" fill="#3a3a3a" textLength="5.4" lengthAdjust="spacingAndGlyphs">10</text>
<text x="311.5" y="71.1" font-size="3.9" fill="#3a3a3a">1</text>
<line x1="316.9" y1="88" x2="319.5" y2="88" stroke="#231f20" stroke-width="1"/>
<text x="305.8" y="91.4" font-size="6.4" fill="#3a3a3a" textLength="5.4" lengthAdjust="spacingAndGlyphs">10</text>
<text x="311.5" y="88.1" font-size="3.9" fill="#3a3a3a">0</text>
<line x1="319.5" y1="88" x2="319.5" y2="90.6" stroke="#231f20" stroke-width="1"/>
<text x="316.3" y="98.9" font-size="6.4" fill="#3a3a3a" textLength="5.4" lengthAdjust="spacingAndGlyphs">10</text>
<text x="322" y="95.6" font-size="3.9" fill="#3a3a3a">0</text>
<line x1="336.5" y1="88" x2="336.5" y2="90.6" stroke="#231f20" stroke-width="1"/>
<text x="333.3" y="98.9" font-size="6.4" fill="#3a3a3a" textLength="5.4" lengthAdjust="spacingAndGlyphs">10</text>
<text x="339" y="95.6" font-size="3.9" fill="#3a3a3a">1</text>
<line x1="353.5" y1="88" x2="353.5" y2="90.6" stroke="#231f20" stroke-width="1"/>
<text x="350.3" y="98.9" font-size="6.4" fill="#3a3a3a" textLength="5.4" lengthAdjust="spacingAndGlyphs">10</text>
<text x="356" y="95.6" font-size="3.9" fill="#3a3a3a">2</text>
<line x1="370.5" y1="88" x2="370.5" y2="90.6" stroke="#231f20" stroke-width="1"/>
<text x="367.3" y="98.9" font-size="6.4" fill="#3a3a3a" textLength="5.4" lengthAdjust="spacingAndGlyphs">10</text>
<text x="373" y="95.6" font-size="3.9" fill="#3a3a3a">3</text>
<line x1="387.5" y1="88" x2="387.5" y2="90.6" stroke="#231f20" stroke-width="1"/>
<text x="384.3" y="98.9" font-size="6.4" fill="#3a3a3a" textLength="5.4" lengthAdjust="spacingAndGlyphs">10</text>
<text x="390" y="95.6" font-size="3.9" fill="#3a3a3a">4</text>
<rect x="422.5" y="20" width="67.5" height="68" stroke="#231f20" stroke-width="1.4" fill="none"/>
<line x1="419.9" y1="20" x2="422.5" y2="20" stroke="#231f20" stroke-width="1"/>
<text x="408.8" y="23.4" font-size="6.4" fill="#3a3a3a" textLength="5.4" lengthAdjust="spacingAndGlyphs">10</text>
<text x="414.5" y="20.1" font-size="3.9" fill="#3a3a3a">4</text>
<line x1="419.9" y1="37" x2="422.5" y2="37" stroke="#231f20" stroke-width="1"/>
<text x="408.8" y="40.4" font-size="6.4" fill="#3a3a3a" textLength="5.4" lengthAdjust="spacingAndGlyphs">10</text>
<text x="414.5" y="37.1" font-size="3.9" fill="#3a3a3a">3</text>
<line x1="419.9" y1="54" x2="422.5" y2="54" stroke="#231f20" stroke-width="1"/>
<text x="408.8" y="57.4" font-size="6.4" fill="#3a3a3a" textLength="5.4" lengthAdjust="spacingAndGlyphs">10</text>
<text x="414.5" y="54.1" font-size="3.9" fill="#3a3a3a">2</text>
<line x1="419.9" y1="71" x2="422.5" y2="71" stroke="#231f20" stroke-width="1"/>
<text x="408.8" y="74.4" font-size="6.4" fill="#3a3a3a" textLength="5.4" lengthAdjust="spacingAndGlyphs">10</text>
<text x="414.5" y="71.1" font-size="3.9" fill="#3a3a3a">1</text>
<line x1="419.9" y1="88" x2="422.5" y2="88" stroke="#231f20" stroke-width="1"/>
<text x="408.8" y="91.4" font-size="6.4" fill="#3a3a3a" textLength="5.4" lengthAdjust="spacingAndGlyphs">10</text>
<text x="414.5" y="88.1" font-size="3.9" fill="#3a3a3a">0</text>
<line x1="422.5" y1="88" x2="422.5" y2="90.6" stroke="#231f20" stroke-width="1"/>
<text x="419.3" y="98.9" font-size="6.4" fill="#3a3a3a" textLength="5.4" lengthAdjust="spacingAndGlyphs">10</text>
<text x="425" y="95.6" font-size="3.9" fill="#3a3a3a">0</text>
<line x1="439.38" y1="88" x2="439.38" y2="90.6" stroke="#231f20" stroke-width="1"/>
<text x="436.18" y="98.9" font-size="6.4" fill="#3a3a3a" textLength="5.4" lengthAdjust="spacingAndGlyphs">10</text>
<text x="441.88" y="95.6" font-size="3.9" fill="#3a3a3a">1</text>
<line x1="456.25" y1="88" x2="456.25" y2="90.6" stroke="#231f20" stroke-width="1"/>
<text x="453.05" y="98.9" font-size="6.4" fill="#3a3a3a" textLength="5.4" lengthAdjust="spacingAndGlyphs">10</text>
<text x="458.75" y="95.6" font-size="3.9" fill="#3a3a3a">2</text>
<line x1="473.12" y1="88" x2="473.12" y2="90.6" stroke="#231f20" stroke-width="1"/>
<text x="469.93" y="98.9" font-size="6.4" fill="#3a3a3a" textLength="5.4" lengthAdjust="spacingAndGlyphs">10</text>
<text x="475.62" y="95.6" font-size="3.9" fill="#3a3a3a">3</text>
<line x1="490" y1="88" x2="490" y2="90.6" stroke="#231f20" stroke-width="1"/>
<text x="486.8" y="98.9" font-size="6.4" fill="#3a3a3a" textLength="5.4" lengthAdjust="spacingAndGlyphs">10</text>
<text x="492.5" y="95.6" font-size="3.9" fill="#3a3a3a">4</text>
<path d="M236,191.2 L236,191.2 L236.5,191.2 L237,191.2 L237.5,191.2 L238,191.2 L238.5,191.01 L239,190.99 L239.5,190.86 L240,190.78 L240.5,190.43 L241,190.41 L241.5,190.23 L242,189.95 L242.5,189.67 L243,189.35 L243.5,188.74 L244,187.9 L244.5,187.39 L245,186.05 L245.5,185.57 L246,184.31 L246.5,181.89 L247,181.1 L247.5,180.46 L248,178.39 L248.5,175.53 L249,171.25 L249.5,172.53 L250,170.32 L250.5,165.48 L251,167.45 L251.5,163.99 L252,158.89 L252.5,157.83 L253,157.71 L253.5,156 L254,165.07 L254.5,156 L255,159.4 L255.5,162.15 L256,157.05 L256.5,156.91 L257,161.42 L257.5,164.42 L258,162.96 L258.5,164.71 L259,163.04 L259.5,166.29 L260,169.14 L260.5,169.17 L261,173.13 L261.5,175.77 L262,175.09 L262.5,176.62 L263,178.97 L263.5,180.81 L264,181.03 L264.5,184.34 L265,182.9 L265.5,184.03 L266,186.08 L266.5,185.94 L267,187.06 L267.5,187.02 L268,188.46 L268.5,188.56 L269,188.6 L269.5,188.91 L270,189.79 L270.5,189.8 L271,189.93 L271.5,190.23 L272,190.23 L272,191.2 Z" fill="#bddba6" stroke="none" stroke-width="1"/>
<path d="M236,191.2 L236,190.2 L236.5,189.97 L237,189.7 L237.5,189.37 L238,188.99 L238.5,188.53 L239,188.01 L239.5,187.4 L240,186.69 L240.5,185.89 L241,184.98 L241.5,183.95 L242,182.8 L242.5,181.52 L243,180.12 L243.5,178.59 L244,176.93 L244.5,175.16 L245,173.29 L245.5,171.32 L246,169.29 L246.5,167.22 L247,165.15 L247.5,163.1 L248,161.13 L248.5,159.29 L249,157.64 L249.5,156.23 L250,155.14 L250.5,154.49 L251,154.56 L251.5,155.24 L252,156.28 L252.5,157.6 L253,159.15 L253.5,160.86 L254,162.69 L254.5,164.6 L255,166.54 L255.5,168.49 L256,170.42 L256.5,172.29 L257,174.1 L257.5,175.83 L258,177.45 L258.5,178.98 L259,180.39 L259.5,181.69 L260,182.87 L260.5,183.95 L261,184.92 L261.5,185.78 L262,186.55 L262.5,187.23 L263,187.83 L263.5,188.35 L264,188.8 L264.5,189.19 L265,189.52 L265.5,189.81 L266,190.05 L266.5,190.25 L267,190.42 L267.5,190.57 L268,190.68 L268.5,190.78 L269,190.86 L269.5,190.93 L270,190.98 L270.5,191.03 L271,191.2 L271.5,191.2 L272,191.2 L272,191.2 Z" fill="#eaa595" stroke="none" stroke-width="1"/>
<path d="M236,191.2 L236,191.2 L236.5,191.2 L237,191.2 L237.5,191.2 L238,191.2 L238.5,191.01 L239,190.99 L239.5,190.86 L240,190.78 L240.5,190.43 L241,190.41 L241.5,190.23 L242,189.95 L242.5,189.67 L243,189.35 L243.5,188.74 L244,187.9 L244.5,187.39 L245,186.05 L245.5,185.57 L246,184.31 L246.5,181.89 L247,181.1 L247.5,180.46 L248,178.39 L248.5,175.53 L249,171.25 L249.5,172.53 L250,170.32 L250.5,165.48 L251,167.45 L251.5,163.99 L252,158.89 L252.5,157.83 L253,159.15 L253.5,160.86 L254,165.07 L254.5,164.6 L255,166.54 L255.5,168.49 L256,170.42 L256.5,172.29 L257,174.1 L257.5,175.83 L258,177.45 L258.5,178.98 L259,180.39 L259.5,181.69 L260,182.87 L260.5,183.95 L261,184.92 L261.5,185.78 L262,186.55 L262.5,187.23 L263,187.83 L263.5,188.35 L264,188.8 L264.5,189.19 L265,189.52 L265.5,189.81 L266,190.05 L266.5,190.25 L267,190.42 L267.5,190.57 L268,190.68 L268.5,190.78 L269,190.86 L269.5,190.93 L270,190.98 L270.5,191.03 L271,191.2 L271.5,191.2 L272,191.2 L272,191.2 Z" fill="#c48c6e" stroke="none" stroke-width="1"/>
<path d="M238,191.2 L238.5,191.01 L239,190.99 L239.5,190.86 L240,190.78 L240.5,190.43 L241,190.41 L241.5,190.23 L242,189.95 L242.5,189.67 L243,189.35 L243.5,188.74 L244,187.9 L244.5,187.39 L245,186.05 L245.5,185.57 L246,184.31 L246.5,181.89 L247,181.1 L247.5,180.46 L248,178.39 L248.5,175.53 L249,171.25 L249.5,172.53 L250,170.32 L250.5,165.48 L251,167.45 L251.5,163.99 L252,158.89 L252.5,157.83 L253,157.71 L253.5,156 L254,165.07 L254.5,156 L255,159.4 L255.5,162.15 L256,157.05 L256.5,156.91 L257,161.42 L257.5,164.42 L258,162.96 L258.5,164.71 L259,163.04 L259.5,166.29 L260,169.14 L260.5,169.17 L261,173.13 L261.5,175.77 L262,175.09 L262.5,176.62 L263,178.97 L263.5,180.81 L264,181.03 L264.5,184.34 L265,182.9 L265.5,184.03 L266,186.08 L266.5,185.94 L267,187.06 L267.5,187.02 L268,188.46 L268.5,188.56 L269,188.6 L269.5,188.91 L270,189.79 L270.5,189.8 L271,189.93 L271.5,190.23 L272,190.23 L272,191.2" fill="none" stroke="#7db45c" stroke-width="0.6"/>
<path d="M236,191.2 L236,190.2 L236.5,189.97 L237,189.7 L237.5,189.37 L238,188.99 L238.5,188.53 L239,188.01 L239.5,187.4 L240,186.69 L240.5,185.89 L241,184.98 L241.5,183.95 L242,182.8 L242.5,181.52 L243,180.12 L243.5,178.59 L244,176.93 L244.5,175.16 L245,173.29 L245.5,171.32 L246,169.29 L246.5,167.22 L247,165.15 L247.5,163.1 L248,161.13 L248.5,159.29 L249,157.64 L249.5,156.23 L250,155.14 L250.5,154.49 L251,154.56 L251.5,155.24 L252,156.28 L252.5,157.6 L253,159.15 L253.5,160.86 L254,162.69 L254.5,164.6 L255,166.54 L255.5,168.49 L256,170.42 L256.5,172.29 L257,174.1 L257.5,175.83 L258,177.45 L258.5,178.98 L259,180.39 L259.5,181.69 L260,182.87 L260.5,183.95 L261,184.92 L261.5,185.78 L262,186.55 L262.5,187.23 L263,187.83 L263.5,188.35 L264,188.8 L264.5,189.19 L265,189.52 L265.5,189.81 L266,190.05 L266.5,190.25 L267,190.42 L267.5,190.57 L268,190.68 L268.5,190.78 L269,190.86 L269.5,190.93 L270,190.98 L270.5,191.03 L271,191.2" fill="none" stroke="#e0705e" stroke-width="0.8"/>
<path d="M336,191.2 L336,191.2 L336.5,191 L337,190.87 L337.5,190.78 L338,190.75 L338.5,190.48 L339,190.29 L339.5,189.9 L340,189.79 L340.5,188.96 L341,188.32 L341.5,187.05 L342,186.54 L342.5,185.28 L343,185.3 L343.5,180.83 L344,182.94 L344.5,177.68 L345,177.31 L345.5,175.93 L346,173.17 L346.5,170.72 L347,165.57 L347.5,164.09 L348,156.72 L348.5,164.68 L349,156.61 L349.5,158.12 L350,153.2 L350.5,161.25 L351,154.78 L351.5,153.39 L352,160.52 L352.5,153.2 L353,157.36 L353.5,156.47 L354,158.61 L354.5,166.11 L355,167.42 L355.5,167.84 L356,167.71 L356.5,169.61 L357,174.48 L357.5,176 L358,177.9 L358.5,179.12 L359,180.15 L359.5,181.4 L360,180.76 L360.5,184.08 L361,184.92 L361.5,185.41 L362,186.93 L362.5,187.35 L363,187.83 L363.5,188.16 L364,189.16 L364.5,188.99 L365,189.66 L365.5,189.87 L366,190.04 L366.5,190.28 L367,190.43 L367.5,190.63 L368,190.75 L368.5,190.83 L369,190.95 L369.5,190.95 L370,191.04 L370,191.2 Z" fill="#bddba6" stroke="none" stroke-width="1"/>
<path d="M336,191.2 L336,190.79 L336.5,190.67 L337,190.51 L337.5,190.31 L338,190.06 L338.5,189.75 L339,189.38 L339.5,188.92 L340,188.36 L340.5,187.7 L341,186.92 L341.5,186 L342,184.92 L342.5,183.69 L343,182.29 L343.5,180.7 L344,178.95 L344.5,177.01 L345,174.92 L345.5,172.68 L346,170.33 L346.5,167.9 L347,165.45 L347.5,163.04 L348,160.74 L348.5,158.62 L349,156.8 L349.5,155.38 L350,154.52 L350.5,154.62 L351,155.57 L351.5,157.02 L352,158.84 L352.5,160.92 L353,163.18 L353.5,165.54 L354,167.93 L354.5,170.29 L355,172.59 L355.5,174.78 L356,176.83 L356.5,178.73 L357,180.47 L357.5,182.04 L358,183.44 L358.5,184.67 L359,185.75 L359.5,186.69 L360,187.49 L360.5,188.17 L361,188.74 L361.5,189.22 L362,189.62 L362.5,189.94 L363,190.21 L363.5,190.42 L364,190.59 L364.5,190.73 L365,190.84 L365.5,190.92 L366,190.99 L366.5,191.04 L367,191.2 L367.5,191.2 L368,191.2 L368.5,191.2 L369,191.2 L369.5,191.2 L370,191.2 L370,191.2 Z" fill="#eaa595" stroke="none" stroke-width="1"/>
<path d="M336,191.2 L336,191.2 L336.5,191 L337,190.87 L337.5,190.78 L338,190.75 L338.5,190.48 L339,190.29 L339.5,189.9 L340,189.79 L340.5,188.96 L341,188.32 L341.5,187.05 L342,186.54 L342.5,185.28 L343,185.3 L343.5,180.83 L344,182.94 L344.5,177.68 L345,177.31 L345.5,175.93 L346,173.17 L346.5,170.72 L347,165.57 L347.5,164.09 L348,160.74 L348.5,164.68 L349,156.8 L349.5,158.12 L350,154.52 L350.5,161.25 L351,155.57 L351.5,157.02 L352,160.52 L352.5,160.92 L353,163.18 L353.5,165.54 L354,167.93 L354.5,170.29 L355,172.59 L355.5,174.78 L356,176.83 L356.5,178.73 L357,180.47 L357.5,182.04 L358,183.44 L358.5,184.67 L359,185.75 L359.5,186.69 L360,187.49 L360.5,188.17 L361,188.74 L361.5,189.22 L362,189.62 L362.5,189.94 L363,190.21 L363.5,190.42 L364,190.59 L364.5,190.73 L365,190.84 L365.5,190.92 L366,190.99 L366.5,191.04 L367,191.2 L367.5,191.2 L368,191.2 L368.5,191.2 L369,191.2 L369.5,191.2 L370,191.2 L370,191.2 Z" fill="#c48c6e" stroke="none" stroke-width="1"/>
<path d="M336,191.2 L336.5,191 L337,190.87 L337.5,190.78 L338,190.75 L338.5,190.48 L339,190.29 L339.5,189.9 L340,189.79 L340.5,188.96 L341,188.32 L341.5,187.05 L342,186.54 L342.5,185.28 L343,185.3 L343.5,180.83 L344,182.94 L344.5,177.68 L345,177.31 L345.5,175.93 L346,173.17 L346.5,170.72 L347,165.57 L347.5,164.09 L348,156.72 L348.5,164.68 L349,156.61 L349.5,158.12 L350,153.2 L350.5,161.25 L351,154.78 L351.5,153.39 L352,160.52 L352.5,153.2 L353,157.36 L353.5,156.47 L354,158.61 L354.5,166.11 L355,167.42 L355.5,167.84 L356,167.71 L356.5,169.61 L357,174.48 L357.5,176 L358,177.9 L358.5,179.12 L359,180.15 L359.5,181.4 L360,180.76 L360.5,184.08 L361,184.92 L361.5,185.41 L362,186.93 L362.5,187.35 L363,187.83 L363.5,188.16 L364,189.16 L364.5,188.99 L365,189.66 L365.5,189.87 L366,190.04 L366.5,190.28 L367,190.43 L367.5,190.63 L368,190.75 L368.5,190.83 L369,190.95 L369.5,190.95 L370,191.04 L370,191.2" fill="none" stroke="#7db45c" stroke-width="0.6"/>
<path d="M336,191.2 L336,190.79 L336.5,190.67 L337,190.51 L337.5,190.31 L338,190.06 L338.5,189.75 L339,189.38 L339.5,188.92 L340,188.36 L340.5,187.7 L341,186.92 L341.5,186 L342,184.92 L342.5,183.69 L343,182.29 L343.5,180.7 L344,178.95 L344.5,177.01 L345,174.92 L345.5,172.68 L346,170.33 L346.5,167.9 L347,165.45 L347.5,163.04 L348,160.74 L348.5,158.62 L349,156.8 L349.5,155.38 L350,154.52 L350.5,154.62 L351,155.57 L351.5,157.02 L352,158.84 L352.5,160.92 L353,163.18 L353.5,165.54 L354,167.93 L354.5,170.29 L355,172.59 L355.5,174.78 L356,176.83 L356.5,178.73 L357,180.47 L357.5,182.04 L358,183.44 L358.5,184.67 L359,185.75 L359.5,186.69 L360,187.49 L360.5,188.17 L361,188.74 L361.5,189.22 L362,189.62 L362.5,189.94 L363,190.21 L363.5,190.42 L364,190.59 L364.5,190.73 L365,190.84 L365.5,190.92 L366,190.99 L366.5,191.04 L367,191.2" fill="none" stroke="#e0705e" stroke-width="0.8"/>
<path d="M432,190.9 L432,190.9 L432.5,190.9 L433,190.9 L433.5,190.9 L434,190.9 L434.5,190.72 L435,190.66 L435.5,190.58 L436,190.39 L436.5,190.15 L437,190.01 L437.5,189.89 L438,189.54 L438.5,188.63 L439,188.33 L439.5,188.25 L440,186.89 L440.5,186.45 L441,185.08 L441.5,183.69 L442,182.41 L442.5,179.4 L443,178.13 L443.5,176.8 L444,172.93 L444.5,169.62 L445,172.44 L445.5,167.01 L446,166.66 L446.5,162.36 L447,163.94 L447.5,158.34 L448,157.47 L448.5,157.93 L449,160.74 L449.5,159.28 L450,162.56 L450.5,164.61 L451,161.48 L451.5,166.92 L452,162.93 L452.5,166.2 L453,174.07 L453.5,171.36 L454,175.72 L454.5,175.67 L455,177.45 L455.5,181.51 L456,180.95 L456.5,182.34 L457,182.67 L457.5,185.28 L458,185.13 L458.5,186.9 L459,187.29 L459.5,188.08 L460,188.01 L460.5,188.73 L461,188.84 L461.5,189.49 L462,189.76 L462.5,190 L463,190.28 L463.5,190.39 L464,190.45 L464.5,190.61 L465,190.66 L465.5,190.72 L466,190.9 L466,190.9 Z" fill="#bddba6" stroke="none" stroke-width="1"/>
<path d="M432,190.9 L432,190.74 L432.5,190.69 L433,190.62 L433.5,190.54 L434,190.42 L434.5,190.28 L435,190.1 L435.5,189.87 L436,189.6 L436.5,189.25 L437,188.83 L437.5,188.32 L438,187.71 L438.5,186.98 L439,186.12 L439.5,185.12 L440,183.96 L440.5,182.64 L441,181.14 L441.5,179.46 L442,177.61 L442.5,175.6 L443,173.43 L443.5,171.14 L444,168.76 L444.5,166.33 L445,163.92 L445.5,161.58 L446,159.4 L446.5,157.46 L447,155.88 L447.5,154.78 L448,154.44 L448.5,155.18 L449,156.55 L449.5,158.36 L450,160.49 L450.5,162.82 L451,165.27 L451.5,167.77 L452,170.24 L452.5,172.63 L453,174.9 L453.5,177.02 L454,178.97 L454.5,180.73 L455,182.31 L455.5,183.71 L456,184.93 L456.5,185.98 L457,186.88 L457.5,187.64 L458,188.28 L458.5,188.81 L459,189.24 L459.5,189.6 L460,189.88 L460.5,190.11 L461,190.29 L461.5,190.44 L462,190.55 L462.5,190.64 L463,190.7 L463.5,190.9 L464,190.9 L464.5,190.9 L465,190.9 L465.5,190.9 L466,190.9 L466,190.9 Z" fill="#eaa595" stroke="none" stroke-width="1"/>
<path d="M432,190.9 L432,190.9 L432.5,190.9 L433,190.9 L433.5,190.9 L434,190.9 L434.5,190.72 L435,190.66 L435.5,190.58 L436,190.39 L436.5,190.15 L437,190.01 L437.5,189.89 L438,189.54 L438.5,188.63 L439,188.33 L439.5,188.25 L440,186.89 L440.5,186.45 L441,185.08 L441.5,183.69 L442,182.41 L442.5,179.4 L443,178.13 L443.5,176.8 L444,172.93 L444.5,169.62 L445,172.44 L445.5,167.01 L446,166.66 L446.5,162.36 L447,163.94 L447.5,158.34 L448,157.47 L448.5,157.93 L449,160.74 L449.5,159.28 L450,162.56 L450.5,164.61 L451,165.27 L451.5,167.77 L452,170.24 L452.5,172.63 L453,174.9 L453.5,177.02 L454,178.97 L454.5,180.73 L455,182.31 L455.5,183.71 L456,184.93 L456.5,185.98 L457,186.88 L457.5,187.64 L458,188.28 L458.5,188.81 L459,189.24 L459.5,189.6 L460,189.88 L460.5,190.11 L461,190.29 L461.5,190.44 L462,190.55 L462.5,190.64 L463,190.7 L463.5,190.9 L464,190.9 L464.5,190.9 L465,190.9 L465.5,190.9 L466,190.9 L466,190.9 Z" fill="#c48c6e" stroke="none" stroke-width="1"/>
<path d="M434,190.9 L434.5,190.72 L435,190.66 L435.5,190.58 L436,190.39 L436.5,190.15 L437,190.01 L437.5,189.89 L438,189.54 L438.5,188.63 L439,188.33 L439.5,188.25 L440,186.89 L440.5,186.45 L441,185.08 L441.5,183.69 L442,182.41 L442.5,179.4 L443,178.13 L443.5,176.8 L444,172.93 L444.5,169.62 L445,172.44 L445.5,167.01 L446,166.66 L446.5,162.36 L447,163.94 L447.5,158.34 L448,157.47 L448.5,157.93 L449,160.74 L449.5,159.28 L450,162.56 L450.5,164.61 L451,161.48 L451.5,166.92 L452,162.93 L452.5,166.2 L453,174.07 L453.5,171.36 L454,175.72 L454.5,175.67 L455,177.45 L455.5,181.51 L456,180.95 L456.5,182.34 L457,182.67 L457.5,185.28 L458,185.13 L458.5,186.9 L459,187.29 L459.5,188.08 L460,188.01 L460.5,188.73 L461,188.84 L461.5,189.49 L462,189.76 L462.5,190 L463,190.28 L463.5,190.39 L464,190.45 L464.5,190.61 L465,190.66 L465.5,190.72 L466,190.9" fill="none" stroke="#7db45c" stroke-width="0.6"/>
<path d="M432,190.9 L432,190.74 L432.5,190.69 L433,190.62 L433.5,190.54 L434,190.42 L434.5,190.28 L435,190.1 L435.5,189.87 L436,189.6 L436.5,189.25 L437,188.83 L437.5,188.32 L438,187.71 L438.5,186.98 L439,186.12 L439.5,185.12 L440,183.96 L440.5,182.64 L441,181.14 L441.5,179.46 L442,177.61 L442.5,175.6 L443,173.43 L443.5,171.14 L444,168.76 L444.5,166.33 L445,163.92 L445.5,161.58 L446,159.4 L446.5,157.46 L447,155.88 L447.5,154.78 L448,154.44 L448.5,155.18 L449,156.55 L449.5,158.36 L450,160.49 L450.5,162.82 L451,165.27 L451.5,167.77 L452,170.24 L452.5,172.63 L453,174.9 L453.5,177.02 L454,178.97 L454.5,180.73 L455,182.31 L455.5,183.71 L456,184.93 L456.5,185.98 L457,186.88 L457.5,187.64 L458,188.28 L458.5,188.81 L459,189.24 L459.5,189.6 L460,189.88 L460.5,190.11 L461,190.29 L461.5,190.44 L462,190.55 L462.5,190.64 L463,190.7 L463.5,190.9" fill="none" stroke="#e0705e" stroke-width="0.8"/>
<rect x="216.3" y="136.3" width="68.1" height="55" stroke="#231f20" stroke-width="1.4" fill="none"/>
<line x1="213.5" y1="136.3" x2="216.3" y2="136.3" stroke="#231f20" stroke-width="1"/>
<text x="209.6" y="138.6" font-size="6.6" fill="#333" text-anchor="end" textLength="12.6" lengthAdjust="spacingAndGlyphs">3922</text>
<line x1="213.5" y1="150.05" x2="216.3" y2="150.05" stroke="#231f20" stroke-width="1"/>
<text x="209.6" y="152.35" font-size="6.6" fill="#333" text-anchor="end" textLength="12.6" lengthAdjust="spacingAndGlyphs">2941</text>
<line x1="213.5" y1="163.8" x2="216.3" y2="163.8" stroke="#231f20" stroke-width="1"/>
<text x="209.6" y="166.1" font-size="6.6" fill="#333" text-anchor="end" textLength="12.6" lengthAdjust="spacingAndGlyphs">1961</text>
<line x1="213.5" y1="177.55" x2="216.3" y2="177.55" stroke="#231f20" stroke-width="1"/>
<text x="209.6" y="179.85" font-size="6.6" fill="#333" text-anchor="end" textLength="9.45" lengthAdjust="spacingAndGlyphs">900</text>
<line x1="213.5" y1="191.3" x2="216.3" y2="191.3" stroke="#231f20" stroke-width="1"/>
<text x="209.6" y="193.6" font-size="6.6" fill="#333" text-anchor="end" textLength="3.15" lengthAdjust="spacingAndGlyphs">0</text>
<line x1="216.3" y1="191.3" x2="216.3" y2="193.9" stroke="#231f20" stroke-width="1"/>
<text x="213.1" y="202.2" font-size="6.4" fill="#3a3a3a" textLength="5.4" lengthAdjust="spacingAndGlyphs">10</text>
<text x="218.8" y="198.9" font-size="3.9" fill="#3a3a3a">0</text>
<line x1="251.9" y1="191.3" x2="251.9" y2="193.9" stroke="#231f20" stroke-width="1"/>
<text x="248.7" y="202.2" font-size="6.4" fill="#3a3a3a" textLength="5.4" lengthAdjust="spacingAndGlyphs">10</text>
<text x="254.4" y="198.9" font-size="3.9" fill="#3a3a3a">1</text>
<text stroke="#231f20" x="190.9" y="176.5" font-size="9.2" textLength="25.4" lengthAdjust="spacingAndGlyphs" transform="rotate(-90 190.9 176.5)">Counts</text>
<rect x="320" y="136.3" width="66.8" height="55" stroke="#231f20" stroke-width="1.4" fill="none"/>
<line x1="317.2" y1="136.3" x2="320" y2="136.3" stroke="#231f20" stroke-width="1"/>
<text x="313.3" y="138.6" font-size="6.6" fill="#333" text-anchor="end" textLength="12.6" lengthAdjust="spacingAndGlyphs">4000</text>
<line x1="317.2" y1="150.05" x2="320" y2="150.05" stroke="#231f20" stroke-width="1"/>
<text x="313.3" y="152.35" font-size="6.6" fill="#333" text-anchor="end" textLength="12.6" lengthAdjust="spacingAndGlyphs">3645</text>
<line x1="317.2" y1="163.8" x2="320" y2="163.8" stroke="#231f20" stroke-width="1"/>
<text x="313.3" y="166.1" font-size="6.6" fill="#333" text-anchor="end" textLength="12.6" lengthAdjust="spacingAndGlyphs">2430</text>
<line x1="317.2" y1="177.55" x2="320" y2="177.55" stroke="#231f20" stroke-width="1"/>
<text x="313.3" y="179.85" font-size="6.6" fill="#333" text-anchor="end" textLength="12.6" lengthAdjust="spacingAndGlyphs">1215</text>
<line x1="317.2" y1="191.3" x2="320" y2="191.3" stroke="#231f20" stroke-width="1"/>
<text x="313.3" y="193.6" font-size="6.6" fill="#333" text-anchor="end" textLength="3.15" lengthAdjust="spacingAndGlyphs">0</text>
<line x1="320" y1="191.3" x2="320" y2="193.9" stroke="#231f20" stroke-width="1"/>
<text x="316.8" y="202.2" font-size="6.4" fill="#3a3a3a" textLength="5.4" lengthAdjust="spacingAndGlyphs">10</text>
<text x="322.5" y="198.9" font-size="3.9" fill="#3a3a3a">0</text>
<line x1="355.6" y1="191.3" x2="355.6" y2="193.9" stroke="#231f20" stroke-width="1"/>
<text x="352.4" y="202.2" font-size="6.4" fill="#3a3a3a" textLength="5.4" lengthAdjust="spacingAndGlyphs">10</text>
<text x="358.1" y="198.9" font-size="3.9" fill="#3a3a3a">1</text>
<text stroke="#231f20" x="294.6" y="176.5" font-size="9.2" textLength="25.4" lengthAdjust="spacingAndGlyphs" transform="rotate(-90 294.6 176.5)">Counts</text>
<rect x="422.6" y="135.9" width="66.7" height="55.3" stroke="#231f20" stroke-width="1.4" fill="none"/>
<line x1="419.8" y1="135.9" x2="422.6" y2="135.9" stroke="#231f20" stroke-width="1"/>
<text x="415.9" y="138.2" font-size="6.6" fill="#333" text-anchor="end" textLength="12.6" lengthAdjust="spacingAndGlyphs">4650</text>
<line x1="419.8" y1="149.72" x2="422.6" y2="149.72" stroke="#231f20" stroke-width="1"/>
<text x="415.9" y="152.03" font-size="6.6" fill="#333" text-anchor="end" textLength="12.6" lengthAdjust="spacingAndGlyphs">3487</text>
<line x1="419.8" y1="163.55" x2="422.6" y2="163.55" stroke="#231f20" stroke-width="1"/>
<text x="415.9" y="165.85" font-size="6.6" fill="#333" text-anchor="end" textLength="12.6" lengthAdjust="spacingAndGlyphs">2325</text>
<line x1="419.8" y1="177.38" x2="422.6" y2="177.38" stroke="#231f20" stroke-width="1"/>
<text x="415.9" y="179.68" font-size="6.6" fill="#333" text-anchor="end" textLength="12.6" lengthAdjust="spacingAndGlyphs">1162</text>
<line x1="419.8" y1="191.2" x2="422.6" y2="191.2" stroke="#231f20" stroke-width="1"/>
<text x="415.9" y="193.5" font-size="6.6" fill="#333" text-anchor="end" textLength="3.15" lengthAdjust="spacingAndGlyphs">0</text>
<line x1="422.6" y1="191.2" x2="422.6" y2="193.8" stroke="#231f20" stroke-width="1"/>
<text x="419.4" y="202.1" font-size="6.4" fill="#3a3a3a" textLength="5.4" lengthAdjust="spacingAndGlyphs">10</text>
<text x="425.1" y="198.8" font-size="3.9" fill="#3a3a3a">0</text>
<line x1="458.2" y1="191.2" x2="458.2" y2="193.8" stroke="#231f20" stroke-width="1"/>
<text x="455" y="202.1" font-size="6.4" fill="#3a3a3a" textLength="5.4" lengthAdjust="spacingAndGlyphs">10</text>
<text x="460.7" y="198.8" font-size="3.9" fill="#3a3a3a">1</text>
<text stroke="#231f20" x="397.2" y="176.25" font-size="9.2" textLength="25.4" lengthAdjust="spacingAndGlyphs" transform="rotate(-90 397.2 176.25)">Counts</text>
<path d="M260,162.8 V161.2 H274.4" fill="none" stroke="#333" stroke-width="0.9"/>
<text x="267.5" y="158.5" font-size="4.8" fill="#333" text-anchor="middle">4 %</text>
<path d="M357.4,162.1 V160.5 H373.8" fill="none" stroke="#333" stroke-width="0.9"/>
<text x="366" y="157.5" font-size="4.8" fill="#333" text-anchor="middle">1 %</text>
<path d="M454.5,162 V160.4 H471.3" fill="none" stroke="#333" stroke-width="0.9"/>
<text x="462.9" y="157.3" font-size="4.8" fill="#333" text-anchor="middle">0.5 %</text>
<line x1="221.5" y1="60.1" x2="243.46" y2="164.88" stroke="#231f20" stroke-width="1.1"/>
<path d="M244.2,168.4 L240.62,163.02 L243.31,164.17 L245.32,162.04 Z" fill="#231f20"/>
<line x1="263.6" y1="79" x2="263.6" y2="147.2" stroke="#231f20" stroke-width="1.1"/>
<path d="M263.6,150.8 L261.2,144.8 L263.6,146.48 L266,144.8 Z" fill="#231f20"/>
<line x1="323.3" y1="62.5" x2="344.44" y2="160.98" stroke="#231f20" stroke-width="1.1"/>
<path d="M345.2,164.5 L341.59,159.14 L344.29,160.28 L346.29,158.13 Z" fill="#231f20"/>
<line x1="366.3" y1="79.5" x2="366.02" y2="147" stroke="#231f20" stroke-width="1.1"/>
<path d="M366,150.6 L363.63,144.59 L366.02,146.28 L368.43,144.61 Z" fill="#231f20"/>
<line x1="422.5" y1="63.8" x2="440.56" y2="164.16" stroke="#231f20" stroke-width="1.1"/>
<path d="M441.2,167.7 L437.78,162.22 L440.43,163.45 L442.5,161.37 Z" fill="#231f20"/>
<line x1="470" y1="79.5" x2="469.91" y2="147" stroke="#231f20" stroke-width="1.1"/>
<path d="M469.9,150.6 L467.51,144.6 L469.91,146.28 L472.31,144.6 Z" fill="#231f20"/>
<text stroke="#231f20" x="8.8" y="231.2" font-size="11">B</text>
<text stroke="#231f20" x="22.5" y="269.3" font-size="9" textLength="128.5" lengthAdjust="spacingAndGlyphs">AID expression in CXCR4<tspan font-size="6.2" dy="-3.3">low</tspan><tspan dy="3.3">/CD5</tspan><tspan font-size="6.2" dy="-3.3">high</tspan></text>
<text stroke="#231f20" x="52.7" y="277.6" font-size="9" textLength="66" lengthAdjust="spacingAndGlyphs">cells (percentages)</text>
<line x1="35.4" y1="289" x2="35.4" y2="382.8" stroke="#444" stroke-width="1.3"/>
<line x1="34.8" y1="382.1" x2="136.5" y2="382.1" stroke="#333" stroke-width="1.3"/>
<line x1="32.5" y1="290.8" x2="35.4" y2="290.8" stroke="#444" stroke-width="1"/>
<text x="30.2" y="292.9" font-size="6.2" fill="#444" text-anchor="end" textLength="6.2" lengthAdjust="spacingAndGlyphs">20</text>
<line x1="32.5" y1="313.6" x2="35.4" y2="313.6" stroke="#444" stroke-width="1"/>
<text x="30.2" y="315.7" font-size="6.2" fill="#444" text-anchor="end" textLength="6.2" lengthAdjust="spacingAndGlyphs">15</text>
<line x1="32.5" y1="336.5" x2="35.4" y2="336.5" stroke="#444" stroke-width="1"/>
<text x="30.2" y="338.6" font-size="6.2" fill="#444" text-anchor="end" textLength="6.2" lengthAdjust="spacingAndGlyphs">10</text>
<line x1="32.5" y1="359.4" x2="35.4" y2="359.4" stroke="#444" stroke-width="1"/>
<text x="30.2" y="361.5" font-size="6.2" fill="#444" text-anchor="end" textLength="3.1" lengthAdjust="spacingAndGlyphs">5</text>
<line x1="32.5" y1="382.1" x2="35.4" y2="382.1" stroke="#444" stroke-width="1"/>
<text x="30.2" y="384.2" font-size="6.2" fill="#444" text-anchor="end" textLength="3.1" lengthAdjust="spacingAndGlyphs">0</text>
<text stroke="#231f20" x="17.8" y="356.5" font-size="9.2" textLength="43.5" lengthAdjust="spacingAndGlyphs" transform="rotate(-90 17.8 356.5)">% AID<tspan font-size="5" dy="-3">+</tspan><tspan dy="3"> cells</tspan></text>
<line x1="52.4" y1="382.1" x2="52.4" y2="384.6" stroke="#333" stroke-width="1"/>
<text x="52.4" y="393.4" font-size="6" fill="#222" text-anchor="middle">PRE</text>
<line x1="85.8" y1="382.1" x2="85.8" y2="384.6" stroke="#333" stroke-width="1"/>
<text x="85.8" y="393.4" font-size="6" fill="#222" text-anchor="middle">Wk 1</text>
<line x1="119.4" y1="382.1" x2="119.4" y2="384.6" stroke="#333" stroke-width="1"/>
<text x="119.4" y="393.4" font-size="6" fill="#222" text-anchor="middle">Wk 4</text>
<path d="M51.3,293 V288.9 H117.7 V293" fill="none" stroke="#333" stroke-width="1"/>
<text x="84.6" y="289" font-size="5.5" fill="#444" text-anchor="middle">**</text>
<path d="M51.3,302.5 V298.3 H86.2 V312.3" fill="none" stroke="#333" stroke-width="1"/>
<text x="69.5" y="298.4" font-size="5.5" fill="#444" text-anchor="middle">*</text>
<line x1="52.4" y1="318.2" x2="52.4" y2="353.2" stroke="#777" stroke-width="1"/>
<circle cx="52.5" cy="307.7" r="2.45" fill="#3d5b8a"/>
<circle cx="49" cy="336.5" r="2.45" fill="#3d5b8a"/>
<circle cx="55.7" cy="333.3" r="2.45" fill="#3d5b8a"/>
<circle cx="52.5" cy="345.4" r="2.45" fill="#3d5b8a"/>
<circle cx="52.5" cy="354.9" r="2.45" fill="#3d5b8a"/>
<line x1="41" y1="335.7" x2="63.8" y2="335.7" stroke="#333" stroke-width="1.3"/>
<line x1="46.7" y1="318.2" x2="58.1" y2="318.2" stroke="#333" stroke-width="1.2"/>
<line x1="46.7" y1="353.2" x2="58.1" y2="353.2" stroke="#333" stroke-width="1.2"/>
<line x1="85.8" y1="345.8" x2="85.8" y2="376.9" stroke="#777" stroke-width="1"/>
<circle cx="86" cy="337.9" r="2.45" fill="#6fae4b"/>
<circle cx="86" cy="358.8" r="2.45" fill="#6fae4b"/>
<circle cx="82.7" cy="363" r="2.45" fill="#6fae4b"/>
<circle cx="88.8" cy="367.3" r="2.45" fill="#6fae4b"/>
<circle cx="86" cy="380.4" r="2.45" fill="#6fae4b"/>
<line x1="74.5" y1="361.2" x2="97.1" y2="361.2" stroke="#333" stroke-width="1.3"/>
<line x1="80.05" y1="345.8" x2="91.55" y2="345.8" stroke="#333" stroke-width="1.2"/>
<line x1="80.05" y1="376.9" x2="91.55" y2="376.9" stroke="#333" stroke-width="1.2"/>
<line x1="119.3" y1="373.4" x2="119.3" y2="380.3" stroke="#777" stroke-width="1"/>
<circle cx="116.3" cy="372.8" r="2.45" fill="#a8233f"/>
<circle cx="122.3" cy="374.2" r="2.45" fill="#a8233f"/>
<circle cx="113.1" cy="377.4" r="2.45" fill="#a8233f"/>
<circle cx="125.2" cy="377.4" r="2.45" fill="#a8233f"/>
<circle cx="119.4" cy="382.3" r="2.45" fill="#a8233f"/>
<circle cx="124" cy="375.7" r="2.45" fill="#a8233f"/>
<line x1="107.8" y1="376.9" x2="130.8" y2="376.9" stroke="#333" stroke-width="1.3"/>
<line x1="113.7" y1="373.4" x2="124.9" y2="373.4" stroke="#333" stroke-width="1.2"/>
<line x1="113.7" y1="380.3" x2="124.9" y2="380.3" stroke="#333" stroke-width="1.2"/>
<text stroke="#231f20" x="229.3" y="229.8" font-size="9" textLength="38.7" lengthAdjust="spacingAndGlyphs">pre treated</text>
<text stroke="#231f20" x="322.5" y="229.4" font-size="9" textLength="58.7" lengthAdjust="spacingAndGlyphs">Ibrutinib 1 week</text>
<text stroke="#231f20" x="424.3" y="229.1" font-size="9" textLength="61.2" lengthAdjust="spacingAndGlyphs">Ibrutinib 4 weeks</text>
<line x1="179.4" y1="328" x2="179.4" y2="272.5" stroke="#231f20" stroke-width="1.5"/>
<path d="M179.4,268 L182.8,275.5 L179.4,273.4 L176,275.5 Z" fill="#231f20"/>
<line x1="179.4" y1="328" x2="485.3" y2="328" stroke="#231f20" stroke-width="1.5"/>
<path d="M489.8,328 L482.3,331.4 L484.4,328 L482.3,324.6 Z" fill="#231f20"/>
<text stroke="#231f20" x="176.1" y="309.5" font-size="9.2" textLength="23" lengthAdjust="spacingAndGlyphs" transform="rotate(-90 176.1 309.5)">CXCR4</text>
<text stroke="#231f20" x="177.3" y="339" font-size="9.2" textLength="14.7" lengthAdjust="spacingAndGlyphs">CD5</text>
<line x1="179.3" y1="418.3" x2="179.3" y2="367.9" stroke="#231f20" stroke-width="1.5"/>
<path d="M179.3,363.4 L182.7,370.9 L179.3,368.8 L175.9,370.9 Z" fill="#231f20"/>
<line x1="179.3" y1="418.3" x2="485.5" y2="418.3" stroke="#231f20" stroke-width="1.5"/>
<path d="M490,418.3 L482.5,421.7 L484.6,418.3 L482.5,414.9 Z" fill="#231f20"/>
<text stroke="#231f20" x="173.8" y="403.1" font-size="9.2" textLength="24.2" lengthAdjust="spacingAndGlyphs" transform="rotate(-90 173.8 403.1)">Events</text>
<text stroke="#231f20" x="178.5" y="429" font-size="9.2" textLength="12.4" lengthAdjust="spacingAndGlyphs">AID</text>
<text stroke="#231f20" x="197" y="293.8" font-size="9" textLength="54" lengthAdjust="spacingAndGlyphs" transform="rotate(-90 197 293.8)">CXCR4 APC Log</text>
<text stroke="#231f20" x="300.5" y="293.8" font-size="9" textLength="54" lengthAdjust="spacingAndGlyphs" transform="rotate(-90 300.5 293.8)">CXCR4 APC Log</text>
<text stroke="#231f20" x="403.3" y="293.3" font-size="9" textLength="54" lengthAdjust="spacingAndGlyphs" transform="rotate(-90 403.3 293.3)">CXCR4 APC Log</text>
<text stroke="#231f20" x="225.75" y="322.5" font-size="9" textLength="47" lengthAdjust="spacingAndGlyphs">CD5 FITC Log</text>
<text stroke="#231f20" x="328.75" y="322.5" font-size="9" textLength="47" lengthAdjust="spacingAndGlyphs">CD5 FITC Log</text>
<text stroke="#231f20" x="431.75" y="322.5" font-size="9" textLength="47" lengthAdjust="spacingAndGlyphs">CD5 FITC Log</text>
<path d="M232.3 268.2h0.9M236.6 264.1h0.9M237.9 263.6h0.9M229.8 268.7h0.9M227.9 273.4h0.9M228.5 266.8h0.9M235.8 272.9h0.9M232.6 265.1h0.9M232.9 272.4h0.9M233.7 261.7h0.9M233.3 267.5h0.9M231.2 261.4h0.9M227.5 269.8h0.9M229.2 269.3h0.9M232.2 262.0h0.9M233.3 263.0h0.9M230.2 264.4h0.9M230.0 259.4h0.9M237.3 262.1h0.9M229.8 262.4h0.9M232.6 270.3h0.9M230.4 273.2h0.9M228.2 264.4h0.9M225.5 265.2h0.9M229.5 267.6h0.9M228.4 264.1h0.9M235.2 265.2h0.9M227.0 270.6h0.9M230.0 267.7h0.9M234.4 266.2h0.9M231.3 263.8h0.9M233.7 273.7h0.9M235.1 263.6h0.9M224.9 267.2h0.9M230.0 261.6h0.9M227.8 263.7h0.9M237.2 267.0h0.9M231.2 264.7h0.9M233.7 269.1h0.9M238.6 266.9h0.9M230.3 259.9h0.9M232.0 255.4h0.9M233.4 271.4h0.9M230.6 263.8h0.9M236.8 273.7h0.9M235.0 266.6h0.9M235.8 262.9h0.9M231.9 269.3h0.9M230.3 265.3h0.9M230.3 266.6h0.9M230.2 262.1h0.9M225.0 269.6h0.9M233.2 271.9h0.9M235.0 264.0h0.9M231.7 275.2h0.9M229.7 263.8h0.9M231.9 267.8h0.9M232.6 258.7h0.9M233.0 257.3h0.9M239.0 276.7h0.9M228.2 273.4h0.9M233.2 272.1h0.9M234.5 258.4h0.9M232.0 267.7h0.9M230.8 268.6h0.9M227.6 266.9h0.9M229.3 268.0h0.9M234.6 262.1h0.9M237.6 265.8h0.9M229.0 261.1h0.9M233.6 264.9h0.9M233.8 268.4h0.9M235.8 262.8h0.9M232.7 265.2h0.9M233.5 264.5h0.9M235.3 266.6h0.9M227.0 271.0h0.9M231.9 267.7h0.9M224.6 268.5h0.9M223.7 259.6h0.9M228.4 264.8h0.9M225.5 270.5h0.9M233.8 262.4h0.9M235.7 264.5h0.9M230.5 261.9h0.9M231.1 273.0h0.9M230.8 264.4h0.9M230.6 263.0h0.9M232.2 269.5h0.9M233.1 271.9h0.9M229.8 268.9h0.9M228.5 271.3h0.9M229.6 267.6h0.9M234.9 265.9h0.9M230.0 264.4h0.9M237.5 264.1h0.9M230.7 263.7h0.9M237.2 268.3h0.9M226.9 266.0h0.9M228.9 267.0h0.9M233.6 269.5h0.9M233.7 266.3h0.9M231.1 259.9h0.9M239.9 262.7h0.9M232.0 261.1h0.9M232.9 257.3h0.9M229.4 267.0h0.9M238.4 260.8h0.9M235.1 260.3h0.9M233.3 261.3h0.9M225.1 270.7h0.9M233.1 265.0h0.9M229.8 271.4h0.9M233.3 266.1h0.9M235.4 264.4h0.9M228.7 269.3h0.9M232.6 269.4h0.9M235.2 267.1h0.9M232.3 261.5h0.9M230.4 264.3h0.9M227.4 260.8h0.9M229.0 265.3h0.9M226.6 267.0h0.9M235.6 273.7h0.9M232.1 273.3h0.9M226.8 269.8h0.9M231.7 271.1h0.9M226.5 267.6h0.9M218.5 279.9h0.9M236.5 273.9h0.9M236.4 279.3h0.9M225.8 268.4h0.9M228.8 268.5h0.9M232.5 271.6h0.9M230.1 267.4h0.9M228.3 268.0h0.9M229.6 261.8h0.9M230.7 271.1h0.9M229.5 267.2h0.9M232.5 270.4h0.9M230.7 265.4h0.9M228.6 257.9h0.9M231.8 268.9h0.9M225.0 272.1h0.9M237.5 260.3h0.9M224.7 261.8h0.9M231.3 265.1h0.9M233.0 265.3h0.9M233.3 258.3h0.9M232.7 275.0h0.9M236.7 271.4h0.9M227.2 263.5h0.9M231.4 257.8h0.9M232.3 268.3h0.9M229.7 276.1h0.9M229.3 270.5h0.9M236.8 272.1h0.9M228.8 262.0h0.9M229.8 267.6h0.9M230.6 259.3h0.9M230.8 276.1h0.9M232.3 269.3h0.9M230.8 256.3h0.9M233.1 257.6h0.9M232.2 268.8h0.9M233.6 267.2h0.9M237.1 265.0h0.9M228.3 269.5h0.9M238.2 276.2h0.9M229.9 268.3h0.9M234.3 257.8h0.9M232.3 265.7h0.9M230.5 260.2h0.9M223.8 262.6h0.9M238.1 268.1h0.9M228.6 265.7h0.9M228.5 261.3h0.9M235.9 266.4h0.9M231.9 262.5h0.9M239.2 269.0h0.9M238.3 265.3h0.9M234.5 268.4h0.9M232.6 265.2h0.9M234.7 270.1h0.9M226.4 265.8h0.9M232.3 266.4h0.9M232.2 263.7h0.9M229.8 267.1h0.9M232.7 257.9h0.9M225.8 279.3h0.9M235.2 263.2h0.9M236.8 266.9h0.9M226.5 264.2h0.9M232.2 264.1h0.9M237.8 268.4h0.9M233.3 264.0h0.9M227.5 264.4h0.9M227.7 259.8h0.9M235.0 262.0h0.9M238.9 260.8h0.9M227.3 275.1h0.9M231.8 260.0h0.9M228.6 261.3h0.9M230.5 267.4h0.9M232.9 273.3h0.9M231.5 258.3h0.9M228.9 259.0h0.9M240.0 267.0h0.9M231.0 268.1h0.9M230.9 259.6h0.9M236.0 257.7h0.9M231.7 261.8h0.9M230.8 270.0h0.9M235.4 266.2h0.9M227.5 270.0h0.9M234.6 265.9h0.9M235.7 266.3h0.9M234.3 269.4h0.9M230.9 265.8h0.9M231.6 267.6h0.9M224.8 262.0h0.9M231.1 263.5h0.9M232.8 268.7h0.9M235.1 265.3h0.9M232.2 262.8h0.9M230.1 269.6h0.9M228.3 269.0h0.9M231.4 266.4h0.9M232.2 262.7h0.9M236.4 270.7h0.9M231.7 278.5h0.9M229.6 262.4h0.9M231.2 259.0h0.9M229.7 262.6h0.9M230.7 261.9h0.9M222.9 260.3h0.9M225.3 260.7h0.9M226.9 270.5h0.9M233.5 270.5h0.9M231.3 273.5h0.9M232.2 270.0h0.9M236.2 264.1h0.9M227.5 271.6h0.9M236.1 263.4h0.9M233.1 264.7h0.9M228.8 260.7h0.9M237.5 272.3h0.9M226.0 271.3h0.9M227.2 264.1h0.9M230.8 264.9h0.9M233.2 266.6h0.9M230.9 267.3h0.9M223.2 270.5h0.9M230.4 266.7h0.9M231.3 268.3h0.9M241.7 259.1h0.9M237.0 264.9h0.9M232.1 257.7h0.9M227.3 275.0h0.9M233.0 273.1h0.9M227.0 269.8h0.9M232.4 271.7h0.9M233.1 276.0h0.9M230.0 270.9h0.9M232.6 258.7h0.9M230.3 265.4h0.9M229.4 255.0h0.9M237.7 262.4h0.9M233.9 260.4h0.9M230.4 266.3h0.9M228.6 268.2h0.9M232.3 261.9h0.9M233.8 265.0h0.9M235.0 267.7h0.9M237.4 265.6h0.9M233.4 265.5h0.9M227.2 254.7h0.9M239.6 264.2h0.9M236.2 270.2h0.9M234.9 267.6h0.9M236.9 259.2h0.9M225.7 265.0h0.9M230.1 267.6h0.9M229.6 261.6h0.9M236.3 269.6h0.9M227.0 262.5h0.9M230.3 264.7h0.9M237.6 265.8h0.9M234.2 277.1h0.9M230.1 264.8h0.9M239.0 263.6h0.9M226.4 269.8h0.9M233.4 264.0h0.9M230.7 267.3h0.9M233.6 255.4h0.9M230.5 267.8h0.9M228.3 266.2h0.9M232.4 260.1h0.9M226.4 272.9h0.9M233.7 265.2h0.9M230.3 265.4h0.9M235.2 260.0h0.9M229.8 258.5h0.9M229.0 263.6h0.9M233.2 259.0h0.9M236.5 268.7h0.9M223.5 270.5h0.9M232.1 263.3h0.9M234.1 258.5h0.9M226.0 264.4h0.9M228.1 261.2h0.9M234.1 267.1h0.9M228.3 267.2h0.9M229.1 264.3h0.9M238.4 266.7h0.9M227.9 271.3h0.9M228.2 274.5h0.9M222.5 263.8h0.9M227.3 269.8h0.9M226.8 265.2h0.9M238.3 261.2h0.9M236.4 272.5h0.9M226.6 268.2h0.9M239.3 267.0h0.9M234.6 268.0h0.9M230.9 265.5h0.9M234.8 261.2h0.9M233.1 274.9h0.9M228.6 270.6h0.9M224.7 267.6h0.9M228.0 271.0h0.9M231.6 272.5h0.9M230.2 265.3h0.9M228.7 269.1h0.9M235.4 264.7h0.9M227.4 269.4h0.9M235.1 265.1h0.9M229.7 278.1h0.9M232.0 264.6h0.9M227.2 268.8h0.9M231.6 268.5h0.9M228.5 264.7h0.9M224.7 270.8h0.9M231.5 265.9h0.9M231.4 264.3h0.9M234.8 266.3h0.9M232.7 262.7h0.9M227.6 272.1h0.9M229.2 269.3h0.9M221.8 271.0h0.9M227.2 259.8h0.9M236.7 267.6h0.9M237.5 262.6h0.9M234.6 266.7h0.9M232.8 272.5h0.9M233.9 267.5h0.9M233.5 265.5h0.9M224.8 271.7h0.9M228.1 271.2h0.9M236.2 275.2h0.9M236.2 257.3h0.9M232.5 267.9h0.9M230.4 264.3h0.9M230.1 262.1h0.9M229.4 266.9h0.9M227.9 260.7h0.9M224.0 255.5h0.9M232.2 261.9h0.9M229.8 265.0h0.9M230.7 275.3h0.9M238.3 262.8h0.9M233.9 260.7h0.9M228.8 256.7h0.9M233.9 264.6h0.9M225.6 265.1h0.9M235.7 267.0h0.9M232.6 259.3h0.9M230.8 262.6h0.9M233.8 255.3h0.9M237.3 267.1h0.9M229.7 258.7h0.9M227.7 253.0h0.9M239.9 271.9h0.9M231.6 268.7h0.9M237.5 268.0h0.9M228.9 268.0h0.9M233.1 261.3h0.9M229.0 271.5h0.9M234.1 261.2h0.9M230.5 275.5h0.9M228.9 267.4h0.9M237.7 257.4h0.9M232.9 270.5h0.9M223.6 275.8h0.9M230.6 265.1h0.9M227.9 271.5h0.9M226.8 265.3h0.9M229.3 263.3h0.9M229.7 253.8h0.9M231.7 272.3h0.9M228.4 264.2h0.9M224.2 268.1h0.9M229.4 260.8h0.9M235.0 261.9h0.9M226.2 271.7h0.9M234.0 264.4h0.9M233.4 264.4h0.9M229.8 260.2h0.9M232.8 267.3h0.9M228.6 270.1h0.9M230.0 264.1h0.9M227.5 265.4h0.9M233.4 260.4h0.9M237.0 273.1h0.9M228.9 263.3h0.9M236.3 265.6h0.9M223.1 274.5h0.9M228.1 265.2h0.9M227.5 258.8h0.9M238.4 261.8h0.9M229.2 264.6h0.9M234.6 275.0h0.9M223.4 267.4h0.9M232.0 265.2h0.9M233.8 270.3h0.9M231.4 272.6h0.9M220.8 262.7h0.9M232.3 273.3h0.9M234.8 270.5h0.9M236.8 268.5h0.9M233.1 254.9h0.9M224.8 267.3h0.9M230.7 273.1h0.9M235.1 265.0h0.9M228.3 277.6h0.9M233.8 266.7h0.9M229.7 261.4h0.9M231.9 269.2h0.9M234.6 267.8h0.9M228.7 270.4h0.9M242.9 265.3h0.9M232.2 272.7h0.9M232.9 263.7h0.9M228.6 267.0h0.9M231.8 260.3h0.9M230.5 262.5h0.9M225.7 267.4h0.9M225.5 263.2h0.9M232.7 264.2h0.9M231.2 265.4h0.9M221.1 267.6h0.9M223.0 270.1h0.9M230.3 270.1h0.9M231.3 271.4h0.9M234.0 267.4h0.9M226.6 263.7h0.9M233.9 258.7h0.9M230.3 264.7h0.9M229.5 262.5h0.9M231.0 257.5h0.9M235.5 274.4h0.9M233.8 257.4h0.9M235.1 268.1h0.9M228.8 269.1h0.9M230.4 265.2h0.9M226.9 279.0h0.9M229.3 266.5h0.9M230.0 262.6h0.9M229.7 275.0h0.9M234.4 262.5h0.9M233.2 259.4h0.9M234.6 261.5h0.9M232.1 263.3h0.9M235.8 266.6h0.9M232.0 268.0h0.9M235.4 259.0h0.9M233.6 268.1h0.9M234.5 277.3h0.9M231.3 262.9h0.9M226.6 265.7h0.9M225.8 269.8h0.9M239.4 272.3h0.9M233.1 263.1h0.9M233.3 261.7h0.9M230.9 261.5h0.9M229.7 271.8h0.9M243.0 270.8h0.9M227.1 255.8h0.9M231.3 255.9h0.9M231.3 260.3h0.9M227.0 259.0h0.9M226.5 268.4h0.9M228.7 267.5h0.9M230.2 276.0h0.9M229.6 270.3h0.9M234.8 267.0h0.9M226.8 272.2h0.9M233.2 262.0h0.9M237.4 259.5h0.9M235.1 266.6h0.9M227.0 271.0h0.9M219.8 258.5h0.9M234.9 270.8h0.9M233.5 270.6h0.9M229.2 263.9h0.9M236.7 267.2h0.9M229.9 265.1h0.9M232.0 266.8h0.9M227.4 270.4h0.9M232.8 262.5h0.9M229.8 271.5h0.9M229.5 270.7h0.9M235.9 270.8h0.9M232.4 256.7h0.9M225.6 257.3h0.9M234.3 269.8h0.9M234.9 263.5h0.9M228.2 263.0h0.9M230.0 262.6h0.9M231.8 259.8h0.9M230.6 265.0h0.9M232.0 262.8h0.9M234.1 263.2h0.9M229.6 268.7h0.9M239.9 260.6h0.9M228.7 271.9h0.9M229.4 255.5h0.9M239.4 278.7h0.9M241.1 259.7h0.9M231.7 269.3h0.9M230.8 270.9h0.9M227.3 266.4h0.9M236.1 270.0h0.9M232.2 265.9h0.9M228.2 257.7h0.9M233.2 268.1h0.9M237.0 272.0h0.9M234.3 263.7h0.9M240.4 258.0h0.9M236.2 263.4h0.9M233.3 268.0h0.9M231.4 267.9h0.9M233.7 271.8h0.9M236.4 269.1h0.9M235.0 268.9h0.9M235.8 256.5h0.9M232.4 277.3h0.9M234.6 266.6h0.9M236.4 270.6h0.9M230.9 264.7h0.9M226.4 265.6h0.9M238.4 266.7h0.9M233.9 274.1h0.9M229.8 273.9h0.9M232.5 269.4h0.9M230.6 276.2h0.9M224.7 264.5h0.9M230.8 269.0h0.9M225.9 264.2h0.9M232.4 272.8h0.9M231.1 266.6h0.9M236.1 271.2h0.9M231.1 274.9h0.9M233.0 256.2h0.9M230.4 277.1h0.9M230.0 268.0h0.9M226.0 264.8h0.9M235.5 257.0h0.9M232.2 264.9h0.9M229.2 255.1h0.9M232.4 266.9h0.9M229.9 265.6h0.9M228.7 275.4h0.9M232.5 264.8h0.9M236.4 271.7h0.9M230.5 272.2h0.9M225.9 276.6h0.9M229.1 265.2h0.9M238.7 270.2h0.9M228.3 258.9h0.9M236.3 261.0h0.9M230.6 265.1h0.9M234.5 266.3h0.9M231.1 260.4h0.9M225.3 264.4h0.9M229.9 269.9h0.9M240.0 264.2h0.9M231.0 265.7h0.9M233.8 262.1h0.9M230.2 273.3h0.9M231.0 275.3h0.9M232.8 267.5h0.9M233.4 265.9h0.9M240.4 274.7h0.9M231.5 268.8h0.9M230.8 263.1h0.9M228.9 259.8h0.9M226.3 263.5h0.9M225.1 277.3h0.9M234.2 263.5h0.9M224.1 280.8h0.9M237.2 266.5h0.9M235.0 265.4h0.9M230.4 273.0h0.9M227.0 265.3h0.9M231.7 268.3h0.9M231.6 261.3h0.9M236.1 260.3h0.9M228.6 262.8h0.9M230.1 267.6h0.9M231.3 263.2h0.9M230.5 256.8h0.9M229.1 268.8h0.9M224.7 265.7h0.9M225.0 265.1h0.9M228.9 263.4h0.9M230.7 255.3h0.9M235.5 274.4h0.9M240.8 264.1h0.9M238.4 269.1h0.9M233.1 273.4h0.9M239.1 272.1h0.9M231.1 267.5h0.9M229.5 266.5h0.9M240.8 268.0h0.9M227.3 271.0h0.9M229.9 269.4h0.9M230.5 264.3h0.9M237.4 268.7h0.9M229.2 268.4h0.9M234.7 269.9h0.9M229.9 267.5h0.9M226.7 273.3h0.9M232.5 267.5h0.9M232.2 270.9h0.9M227.0 266.7h0.9M228.1 263.6h0.9M228.4 261.8h0.9M235.4 265.7h0.9M233.4 269.1h0.9M232.5 272.8h0.9M233.5 266.0h0.9M229.7 263.9h0.9M233.5 264.0h0.9M229.2 272.9h0.9M226.3 267.0h0.9M228.8 264.0h0.9M232.4 270.2h0.9M231.9 259.9h0.9M235.8 267.1h0.9M224.8 266.3h0.9M230.7 265.8h0.9M233.1 260.8h0.9M227.7 271.4h0.9M232.6 274.8h0.9M229.9 259.9h0.9M227.1 267.1h0.9M236.0 269.7h0.9M226.0 277.7h0.9M235.6 264.4h0.9M229.9 261.8h0.9M227.8 266.5h0.9M228.0 276.5h0.9M228.6 266.8h0.9M228.2 267.8h0.9M232.7 275.3h0.9M224.1 255.9h0.9M236.5 255.8h0.9M234.9 271.0h0.9M237.1 270.3h0.9M227.7 259.6h0.9M222.3 269.1h0.9M229.1 266.7h0.9M230.9 267.6h0.9M232.8 262.5h0.9M229.5 264.3h0.9M231.2 262.2h0.9M232.2 266.8h0.9M225.4 265.4h0.9M238.8 274.8h0.9M227.1 269.6h0.9M232.6 258.7h0.9M235.9 268.6h0.9M228.5 273.6h0.9M231.6 267.9h0.9M238.1 271.9h0.9M230.5 266.3h0.9M235.8 270.0h0.9M232.8 261.9h0.9M232.5 270.4h0.9M234.5 259.7h0.9M230.7 272.9h0.9M230.8 259.0h0.9M235.4 256.0h0.9M232.6 269.1h0.9M233.6 265.6h0.9M226.8 267.1h0.9M231.7 268.6h0.9M236.4 266.4h0.9M235.2 262.1h0.9" stroke="#dc4f2a" stroke-width="0.9" opacity="0.6"/>
<path d="M231.3 273.3h0.9M231.6 274.1h0.9M232.3 273.3h0.9M236.3 280.1h0.9M228.4 271.0h0.9M228.5 286.0h0.9M231.3 279.8h0.9M227.3 282.6h0.9M225.2 279.7h0.9M227.2 280.8h0.9M233.7 276.5h0.9M227.2 287.1h0.9M233.2 270.5h0.9M227.1 278.3h0.9M231.6 276.4h0.9M228.0 274.4h0.9M226.9 277.4h0.9M231.2 271.9h0.9M229.3 281.1h0.9M234.3 281.5h0.9M224.4 275.7h0.9M231.0 280.6h0.9M236.6 271.1h0.9M236.5 266.6h0.9M229.3 272.6h0.9M228.0 274.3h0.9M225.9 290.0h0.9M231.3 275.0h0.9M229.6 282.1h0.9M230.4 281.1h0.9M230.0 288.5h0.9M226.3 276.1h0.9M225.6 279.2h0.9M226.1 274.3h0.9M226.4 270.4h0.9M230.7 270.3h0.9M231.9 271.8h0.9M237.2 285.8h0.9M231.6 278.0h0.9M230.3 275.2h0.9M234.8 277.1h0.9M228.1 272.4h0.9M231.2 276.1h0.9M233.4 276.5h0.9M232.1 280.3h0.9M230.5 281.5h0.9M230.5 266.6h0.9M225.6 276.7h0.9M228.1 283.8h0.9M229.0 269.9h0.9M232.6 275.1h0.9M229.4 277.0h0.9M230.8 282.7h0.9M224.0 278.5h0.9M233.6 275.4h0.9M226.6 278.4h0.9M223.7 281.1h0.9M225.0 277.5h0.9M226.0 286.3h0.9M233.4 279.2h0.9M233.5 270.6h0.9M226.8 270.9h0.9M230.5 275.4h0.9M229.9 274.9h0.9M224.1 278.7h0.9M226.3 277.5h0.9M221.4 284.7h0.9M226.3 280.2h0.9M219.6 283.0h0.9M228.1 271.3h0.9M227.3 273.1h0.9M226.6 279.5h0.9M227.2 276.2h0.9M233.3 280.4h0.9M228.6 277.3h0.9M231.5 272.7h0.9M230.9 286.3h0.9M231.9 283.2h0.9M233.9 267.7h0.9M228.8 272.3h0.9M226.3 275.6h0.9M226.7 279.5h0.9M228.5 275.4h0.9M231.4 268.4h0.9M228.9 280.8h0.9M234.0 275.6h0.9M228.5 282.9h0.9M235.8 278.9h0.9M232.5 282.5h0.9M227.6 280.6h0.9M232.1 281.7h0.9M220.8 271.5h0.9M233.7 282.8h0.9M231.2 277.6h0.9M232.6 269.3h0.9M224.7 272.9h0.9M238.9 275.7h0.9M228.7 278.7h0.9M228.9 280.0h0.9M235.0 270.5h0.9M228.6 280.2h0.9M227.2 275.3h0.9M233.3 270.6h0.9M225.8 280.3h0.9M233.3 272.3h0.9M231.7 269.5h0.9M233.1 281.1h0.9M225.0 280.6h0.9M234.9 273.2h0.9M230.0 282.4h0.9M235.7 283.1h0.9M228.3 272.8h0.9M234.3 288.6h0.9M232.5 276.3h0.9M232.5 277.9h0.9M230.0 262.2h0.9M231.3 280.1h0.9M232.9 273.1h0.9M226.8 278.2h0.9M227.8 265.8h0.9M226.2 282.3h0.9M233.5 285.3h0.9M228.7 287.0h0.9M236.1 260.0h0.9M230.4 279.7h0.9M230.1 278.2h0.9M233.8 259.2h0.9M229.4 271.8h0.9M234.2 276.5h0.9M229.2 284.4h0.9M231.6 271.6h0.9M225.1 276.6h0.9M231.1 276.1h0.9M227.4 277.9h0.9M228.7 273.7h0.9M232.6 281.9h0.9M225.3 281.1h0.9M230.7 268.4h0.9M231.0 283.0h0.9M234.7 272.7h0.9M228.5 274.4h0.9M230.0 282.8h0.9M230.9 277.0h0.9M225.6 278.9h0.9M222.0 279.5h0.9M222.9 278.5h0.9M232.6 273.6h0.9M231.3 270.9h0.9M224.8 279.4h0.9M227.1 280.2h0.9M228.3 278.1h0.9M229.0 275.0h0.9M229.0 281.2h0.9M237.5 277.5h0.9M228.7 268.1h0.9M230.2 278.0h0.9M226.9 278.7h0.9M227.1 280.3h0.9M227.9 270.7h0.9M230.0 271.9h0.9M227.8 277.9h0.9M231.6 274.0h0.9M230.8 276.1h0.9M226.0 281.1h0.9M236.1 279.7h0.9M224.2 286.0h0.9M230.9 278.2h0.9M235.6 287.4h0.9M226.5 282.0h0.9M231.9 291.6h0.9M234.8 277.3h0.9M231.2 276.1h0.9M222.4 282.7h0.9M235.3 274.4h0.9M230.8 273.9h0.9M227.9 277.5h0.9M233.9 279.3h0.9M228.9 268.1h0.9M233.3 278.5h0.9M228.4 274.4h0.9M231.8 276.7h0.9M226.2 276.8h0.9M228.8 275.2h0.9M225.8 282.0h0.9M227.1 278.8h0.9M230.8 275.6h0.9M229.3 276.9h0.9M229.6 282.5h0.9M233.5 281.8h0.9M228.3 283.6h0.9M223.8 274.7h0.9M228.8 277.2h0.9M228.2 288.0h0.9M233.4 277.0h0.9M231.8 286.7h0.9M232.3 281.9h0.9M229.6 274.0h0.9M233.5 269.1h0.9M224.4 279.3h0.9M235.0 273.4h0.9M232.1 272.9h0.9M233.4 267.1h0.9M227.5 283.1h0.9M230.0 277.2h0.9M227.7 276.4h0.9M231.5 279.2h0.9M225.2 277.2h0.9M233.1 277.7h0.9M231.3 279.9h0.9M237.1 276.3h0.9M232.4 262.0h0.9M228.9 280.8h0.9M230.2 279.2h0.9M230.0 276.8h0.9M228.0 285.6h0.9M227.6 268.1h0.9M229.1 259.6h0.9M226.5 284.7h0.9M228.5 278.8h0.9M227.6 266.7h0.9M226.4 273.7h0.9M228.4 280.0h0.9M233.7 270.2h0.9M228.7 279.7h0.9M230.1 289.0h0.9M231.8 285.1h0.9M232.6 276.9h0.9M228.2 278.2h0.9M229.5 271.0h0.9M223.5 276.3h0.9M228.0 274.4h0.9M232.5 271.3h0.9M227.6 268.4h0.9M232.6 288.4h0.9M234.7 278.0h0.9M229.7 270.7h0.9M233.5 274.8h0.9M223.7 284.2h0.9M224.8 285.2h0.9M229.3 272.9h0.9M229.8 277.8h0.9M228.4 281.6h0.9M227.4 274.2h0.9M237.8 271.2h0.9M231.9 271.3h0.9M230.9 276.9h0.9M233.0 272.7h0.9M231.8 269.4h0.9M229.4 275.2h0.9M227.1 281.6h0.9M223.7 279.5h0.9M235.2 276.2h0.9M224.9 286.9h0.9M225.1 271.2h0.9M227.3 275.7h0.9M225.9 268.0h0.9M235.9 282.2h0.9M231.3 276.1h0.9M236.4 268.0h0.9M235.7 272.8h0.9M230.1 287.1h0.9M231.2 281.0h0.9M227.4 276.8h0.9M228.8 281.5h0.9M229.5 267.2h0.9M230.9 272.0h0.9M228.9 268.7h0.9M235.1 272.7h0.9M232.9 274.9h0.9M229.1 279.5h0.9M223.3 281.3h0.9M231.3 282.5h0.9M230.3 292.3h0.9M230.2 273.8h0.9M225.7 275.7h0.9M230.9 279.7h0.9M234.3 272.5h0.9M223.8 273.8h0.9M231.5 279.2h0.9M224.7 270.5h0.9M229.8 279.3h0.9M234.6 284.5h0.9M231.4 270.3h0.9M233.9 264.0h0.9M228.8 276.9h0.9M231.0 270.7h0.9M237.7 279.0h0.9M234.9 274.8h0.9M228.6 278.1h0.9M227.5 282.7h0.9M229.2 281.2h0.9M237.7 275.9h0.9M231.8 270.1h0.9M236.2 263.2h0.9M230.9 264.1h0.9M226.5 271.3h0.9M234.3 277.9h0.9M230.4 272.7h0.9M227.9 272.7h0.9M229.2 267.1h0.9M229.4 266.8h0.9M229.6 266.4h0.9M224.2 279.0h0.9M236.0 266.0h0.9M230.6 280.5h0.9M234.2 271.9h0.9M228.3 279.2h0.9M230.9 277.9h0.9M229.8 280.7h0.9M232.8 283.7h0.9M233.5 272.4h0.9M232.2 271.0h0.9M228.3 273.4h0.9M226.7 271.2h0.9M226.7 279.5h0.9M228.0 275.2h0.9M228.2 275.9h0.9M225.4 277.8h0.9M236.1 274.5h0.9M229.8 282.5h0.9M225.1 264.6h0.9M226.1 276.8h0.9M225.0 278.2h0.9M231.6 271.9h0.9M234.3 272.8h0.9M225.8 280.6h0.9M232.4 274.7h0.9M231.0 265.1h0.9M235.3 269.1h0.9M233.6 282.6h0.9M232.0 271.3h0.9M231.2 283.9h0.9M228.7 283.8h0.9M229.0 274.7h0.9M225.6 278.4h0.9M232.0 271.6h0.9M230.2 273.7h0.9M229.5 271.9h0.9M229.2 279.3h0.9M230.7 268.7h0.9M226.7 274.7h0.9M228.2 276.0h0.9M233.4 279.6h0.9M231.4 263.9h0.9M236.5 266.7h0.9M227.1 270.4h0.9M225.7 274.0h0.9M230.3 276.9h0.9M232.5 277.6h0.9M225.8 287.0h0.9M231.5 280.1h0.9M232.6 279.9h0.9M234.1 273.9h0.9M228.9 280.4h0.9M229.2 279.9h0.9M223.9 278.8h0.9M230.2 275.4h0.9M230.4 279.7h0.9M233.3 285.4h0.9M226.6 270.7h0.9M229.4 263.3h0.9M225.9 280.0h0.9M232.3 280.7h0.9M221.8 273.2h0.9M226.9 272.8h0.9M234.2 292.8h0.9M232.7 273.7h0.9M226.8 268.3h0.9M230.3 273.2h0.9M232.4 279.3h0.9M232.5 272.8h0.9M229.7 273.6h0.9M227.1 277.2h0.9M233.3 274.0h0.9M229.9 276.7h0.9M232.8 276.2h0.9M232.5 270.2h0.9M228.4 276.1h0.9M236.0 270.3h0.9M227.5 280.9h0.9M232.4 270.9h0.9M228.2 274.2h0.9M231.1 265.5h0.9M229.7 273.3h0.9M229.1 268.5h0.9M229.4 284.5h0.9M234.6 276.0h0.9M235.8 280.0h0.9M236.6 266.9h0.9M230.7 268.8h0.9M235.1 275.8h0.9M232.8 268.5h0.9M234.9 283.4h0.9M226.3 272.9h0.9M234.9 277.6h0.9M227.8 277.3h0.9M234.1 275.8h0.9M227.7 280.0h0.9M233.8 272.7h0.9M228.8 277.8h0.9M222.6 281.6h0.9M226.6 276.5h0.9M229.1 276.5h0.9M230.5 274.1h0.9M222.5 274.9h0.9M225.4 279.0h0.9M227.9 274.1h0.9M231.0 266.3h0.9M230.6 277.0h0.9M227.5 274.6h0.9M224.5 277.7h0.9M231.0 276.3h0.9M227.4 284.6h0.9M234.2 269.7h0.9M229.3 270.2h0.9M231.6 279.9h0.9M228.1 269.6h0.9M230.6 277.9h0.9M230.4 275.9h0.9M233.5 265.2h0.9M226.3 279.1h0.9M228.3 283.5h0.9M227.0 276.6h0.9M230.9 268.0h0.9M231.4 280.7h0.9M241.1 271.8h0.9M230.3 275.2h0.9M232.1 278.6h0.9M231.2 271.6h0.9M235.5 267.1h0.9M231.8 275.4h0.9M233.6 276.3h0.9M232.1 271.3h0.9M238.8 272.9h0.9M233.9 280.8h0.9M224.5 274.4h0.9M231.5 273.4h0.9M230.9 272.6h0.9M222.6 275.5h0.9M227.1 275.9h0.9M228.7 274.6h0.9M229.0 267.7h0.9M230.9 273.9h0.9M224.7 271.3h0.9M232.5 276.7h0.9M231.5 282.8h0.9M230.3 281.4h0.9M228.4 279.2h0.9M230.0 276.5h0.9M228.9 273.8h0.9M233.6 278.4h0.9M232.2 273.5h0.9M237.1 275.1h0.9M229.7 271.0h0.9M235.0 276.4h0.9M228.3 275.1h0.9M227.7 286.0h0.9M226.1 278.3h0.9M232.2 274.1h0.9M229.1 280.1h0.9M232.6 273.6h0.9M234.1 282.3h0.9M229.2 280.1h0.9M228.5 292.1h0.9M234.1 270.4h0.9M230.0 275.4h0.9M228.4 274.9h0.9M231.0 277.7h0.9M231.1 280.1h0.9M233.6 270.9h0.9M233.6 272.3h0.9M227.6 277.1h0.9M230.6 281.5h0.9M235.3 270.4h0.9M230.1 267.0h0.9M230.2 282.4h0.9M227.2 280.1h0.9M229.6 281.9h0.9M236.8 271.5h0.9M230.9 274.9h0.9M226.7 276.5h0.9M230.8 278.5h0.9M230.9 275.3h0.9M233.9 276.2h0.9M224.6 280.6h0.9M227.5 272.9h0.9M230.4 272.8h0.9M225.4 272.6h0.9M234.4 273.7h0.9M223.3 275.4h0.9M227.6 274.2h0.9M225.6 272.6h0.9M226.6 283.3h0.9M232.5 278.0h0.9M232.4 274.4h0.9M232.0 283.3h0.9M232.6 273.2h0.9M223.4 274.7h0.9M231.2 275.5h0.9M224.5 271.6h0.9" stroke="#d6442a" stroke-width="0.9" opacity="0.55"/>
<path d="M227.8 285.9h0.8M229.9 280.7h0.8M225.7 282.9h0.8M227.8 285.6h0.8M228.7 289.3h0.8M229.5 285.6h0.8M228.2 293.2h0.8M234.6 285.4h0.8M230.0 287.9h0.8M228.9 282.8h0.8M229.5 279.9h0.8M228.9 284.8h0.8M229.7 286.7h0.8M228.0 285.7h0.8M232.5 285.6h0.8M226.6 282.4h0.8M231.2 281.0h0.8M230.4 283.2h0.8M225.9 286.0h0.8M229.7 288.9h0.8M232.9 269.9h0.8M227.0 286.8h0.8M233.6 290.1h0.8M229.7 290.3h0.8M227.9 285.9h0.8M227.3 287.1h0.8M227.6 282.1h0.8M229.7 284.1h0.8M228.7 286.7h0.8M226.5 278.9h0.8M227.2 280.4h0.8M227.2 284.9h0.8M229.1 278.2h0.8M228.1 284.4h0.8M228.6 277.5h0.8M230.4 285.5h0.8M231.2 284.9h0.8M229.6 281.9h0.8M224.6 279.2h0.8M229.0 282.0h0.8M232.1 274.6h0.8M229.1 282.5h0.8M229.6 285.0h0.8M228.3 289.8h0.8M225.9 281.5h0.8M223.2 282.5h0.8M229.4 290.8h0.8M226.4 291.9h0.8M230.4 282.3h0.8M227.5 288.9h0.8M227.7 289.5h0.8M231.8 287.2h0.8M227.0 279.4h0.8M229.7 280.1h0.8M226.0 286.5h0.8M227.3 294.8h0.8M230.3 283.7h0.8M229.3 291.6h0.8M227.9 292.9h0.8M226.7 278.2h0.8M230.0 281.8h0.8M229.9 291.5h0.8M230.6 289.1h0.8M233.6 287.7h0.8M230.3 284.5h0.8M226.1 286.7h0.8M228.3 281.3h0.8M227.2 295.6h0.8M232.4 279.6h0.8M227.7 275.8h0.8M231.0 285.4h0.8M229.4 291.1h0.8M227.3 281.8h0.8M230.5 284.4h0.8M228.0 279.5h0.8M229.0 284.0h0.8M229.1 279.7h0.8M230.3 280.0h0.8M227.4 277.3h0.8M230.7 282.1h0.8M222.4 291.8h0.8M228.1 283.9h0.8M227.5 285.0h0.8M231.0 295.0h0.8M230.8 281.7h0.8M228.6 279.7h0.8M226.5 286.3h0.8M230.1 278.9h0.8M227.3 285.6h0.8M233.4 290.4h0.8M223.3 278.4h0.8M229.6 282.0h0.8M221.9 290.9h0.8M232.3 280.0h0.8M227.6 281.0h0.8M232.6 286.1h0.8M228.0 282.7h0.8M232.2 281.0h0.8M228.2 291.6h0.8M232.2 282.2h0.8M228.8 285.8h0.8M222.3 281.3h0.8M227.5 283.0h0.8M226.4 277.6h0.8M230.5 288.9h0.8M230.6 282.6h0.8M228.0 290.1h0.8M231.0 279.3h0.8M229.8 282.3h0.8M227.3 286.2h0.8M233.5 285.6h0.8M230.1 281.5h0.8M228.7 283.7h0.8M226.6 277.9h0.8M227.5 284.3h0.8M231.1 272.5h0.8M228.4 285.0h0.8M226.8 290.2h0.8M228.2 288.3h0.8M225.7 287.7h0.8M229.4 282.5h0.8M225.0 285.9h0.8M227.3 282.2h0.8M227.3 283.6h0.8M231.1 284.3h0.8M232.8 269.5h0.8M228.4 288.5h0.8M225.9 285.9h0.8M227.4 287.9h0.8M231.6 280.4h0.8M231.4 288.0h0.8M225.1 285.9h0.8M229.8 274.2h0.8M230.7 276.5h0.8M229.8 284.7h0.8M229.5 281.4h0.8M230.6 284.5h0.8M226.1 280.9h0.8M231.5 291.7h0.8M227.8 275.4h0.8M230.2 278.3h0.8M231.0 280.2h0.8M232.8 278.7h0.8M231.6 282.1h0.8M231.1 284.6h0.8M233.1 278.9h0.8M228.4 285.9h0.8M229.7 290.5h0.8M231.8 289.9h0.8M225.6 293.0h0.8M224.8 288.9h0.8M226.7 283.8h0.8M231.0 292.9h0.8M231.4 288.0h0.8M226.7 292.6h0.8M229.8 283.6h0.8M231.8 275.1h0.8M232.4 279.6h0.8M224.4 284.4h0.8M227.3 286.6h0.8M228.6 283.3h0.8M229.0 289.0h0.8M230.1 279.3h0.8M228.8 281.1h0.8M228.9 288.9h0.8M222.9 283.5h0.8M236.2 286.1h0.8M229.9 291.0h0.8M230.3 289.7h0.8M228.1 280.6h0.8M229.9 285.5h0.8M235.2 277.6h0.8M233.4 285.1h0.8M228.9 286.2h0.8M227.5 276.1h0.8M228.2 291.5h0.8M226.7 293.2h0.8M230.7 287.0h0.8M225.3 288.0h0.8M227.4 291.1h0.8M229.8 283.8h0.8M227.1 288.9h0.8M231.2 286.6h0.8M227.6 277.1h0.8M226.8 279.9h0.8M228.7 281.7h0.8M230.2 289.6h0.8M228.2 284.8h0.8M226.9 288.6h0.8M231.3 282.7h0.8M230.6 278.8h0.8M226.2 293.5h0.8M227.2 296.7h0.8M228.2 286.1h0.8M230.6 283.8h0.8M228.4 289.8h0.8M228.0 279.2h0.8M228.1 283.3h0.8M229.2 277.8h0.8M229.5 286.8h0.8" stroke="#dc4a2c" stroke-width="0.84" opacity="0.5"/>
<path d="M233.5 270.1h0.8M229.9 271.5h0.8M228.5 274.8h0.8M223.7 277.0h0.8M227.5 265.4h0.8M239.0 269.6h0.8M230.2 287.5h0.8M239.1 285.0h0.8M227.3 274.6h0.8M231.7 273.1h0.8M229.6 268.5h0.8M230.7 279.8h0.8M236.4 266.0h0.8M220.7 271.7h0.8M236.2 266.5h0.8M236.0 265.0h0.8M232.1 271.0h0.8M232.5 270.7h0.8M230.9 265.4h0.8M236.0 270.1h0.8M232.4 271.2h0.8M227.4 266.4h0.8M233.0 264.8h0.8M237.4 269.4h0.8M234.2 276.9h0.8M232.3 280.6h0.8M233.3 272.3h0.8M229.4 268.2h0.8M229.6 270.4h0.8M221.7 287.8h0.8M231.1 278.9h0.8M237.6 262.1h0.8M230.0 270.2h0.8M227.1 265.9h0.8M237.1 267.4h0.8M233.0 255.5h0.8M232.9 270.9h0.8M234.7 258.5h0.8M236.0 265.4h0.8M231.9 284.3h0.8M227.5 279.6h0.8M241.8 262.9h0.8M232.4 261.4h0.8M227.8 262.5h0.8M233.1 253.7h0.8M238.7 261.8h0.8M224.3 268.2h0.8M239.4 261.3h0.8M231.4 277.5h0.8M243.2 270.2h0.8M235.8 265.9h0.8M231.5 286.4h0.8M239.1 277.0h0.8M239.2 271.3h0.8M230.2 287.3h0.8M233.4 282.5h0.8M229.3 264.3h0.8M237.2 273.6h0.8M224.4 266.7h0.8M231.1 257.7h0.8M220.4 287.8h0.8M235.4 284.2h0.8M219.8 259.2h0.8M226.3 275.1h0.8M233.6 255.9h0.8M230.2 280.3h0.8M229.7 270.2h0.8M226.8 268.1h0.8M229.5 282.0h0.8M222.5 270.8h0.8M233.9 268.3h0.8M236.6 278.9h0.8M236.3 267.9h0.8M231.9 278.5h0.8M238.9 270.7h0.8M234.7 278.1h0.8M237.4 276.3h0.8M234.3 277.8h0.8M232.3 261.6h0.8M227.9 287.7h0.8M217.6 269.2h0.8M235.7 286.6h0.8M231.5 265.3h0.8M243.1 268.2h0.8M221.2 268.3h0.8M236.8 281.1h0.8M226.9 266.8h0.8M232.1 274.4h0.8M227.3 256.5h0.8M234.0 266.3h0.8M232.0 272.7h0.8M237.0 269.7h0.8M232.9 253.7h0.8M234.8 275.2h0.8M239.1 261.9h0.8M235.0 288.3h0.8M231.4 269.0h0.8M238.9 291.2h0.8M231.5 276.7h0.8M234.4 274.9h0.8M230.4 266.3h0.8M228.5 269.6h0.8M236.0 253.0h0.8M225.8 279.7h0.8M236.2 260.0h0.8M242.1 268.3h0.8M224.9 245.8h0.8M237.0 274.8h0.8M231.6 277.5h0.8M234.6 273.3h0.8M225.6 273.6h0.8M232.3 267.3h0.8M233.0 272.1h0.8M240.0 281.7h0.8M243.9 266.8h0.8M233.9 275.3h0.8M230.1 277.3h0.8M244.3 268.5h0.8M231.6 272.8h0.8" stroke="#e0452b" stroke-width="0.8" opacity="0.45"/>
<ellipse cx="231.2" cy="269.75" rx="5.46" ry="8.4" fill="#dc532a" transform="rotate(6 231.2 269.75)" opacity="0.75" filter="url(#bl2)"/>
<ellipse cx="232" cy="265.5" rx="4.51" ry="5.04" fill="#e6782c" opacity="0.95" filter="url(#bl2)"/>
<ellipse cx="232.3" cy="264.5" rx="3.15" ry="3.57" fill="#efa434" filter="url(#bl2)"/>
<ellipse cx="232.4" cy="264.2" rx="1.89" ry="2.31" fill="#f4cc40" filter="url(#bl)"/>
<rect x="216.5" y="249" width="13.4" height="13" stroke="#b3b3b3" stroke-width="0.9" fill="none"/>
<rect x="230.3" y="273.3" width="16.6" height="18" stroke="#b3b3b3" stroke-width="0.9" fill="none"/>
<text x="220.3" y="243.5" font-size="2.6" fill="#444">R1</text>
<text x="253" y="277" font-size="2.6" fill="#444">R2</text>
<text x="254.5" y="287" font-size="4.6" fill="#333">5%</text>
<path d="M333.6 266.8h0.9M331.3 261.6h0.9M340.9 266.0h0.9M331.5 265.7h0.9M338.6 266.8h0.9M336.4 273.0h0.9M326.2 273.9h0.9M333.7 273.4h0.9M336.3 263.8h0.9M335.6 263.3h0.9M329.9 266.6h0.9M333.8 268.4h0.9M328.9 257.5h0.9M329.5 263.8h0.9M332.1 274.3h0.9M333.5 261.1h0.9M338.2 263.3h0.9M334.1 263.4h0.9M336.4 268.6h0.9M328.9 266.2h0.9M329.1 265.1h0.9M331.3 259.9h0.9M338.7 269.2h0.9M328.5 266.5h0.9M327.7 263.6h0.9M332.7 266.6h0.9M336.9 270.0h0.9M327.5 260.1h0.9M332.1 259.7h0.9M328.4 262.0h0.9M337.7 262.7h0.9M335.2 253.2h0.9M333.8 263.9h0.9M332.7 271.4h0.9M332.1 265.1h0.9M333.4 270.9h0.9M330.8 253.9h0.9M330.0 266.0h0.9M329.2 272.6h0.9M332.9 273.4h0.9M330.3 264.3h0.9M335.8 262.9h0.9M325.9 268.2h0.9M334.8 261.2h0.9M334.7 264.9h0.9M336.9 259.2h0.9M332.1 266.9h0.9M327.9 266.5h0.9M329.8 273.6h0.9M336.7 268.1h0.9M331.9 263.6h0.9M331.5 266.1h0.9M330.9 260.9h0.9M332.7 266.7h0.9M332.1 265.6h0.9M327.7 268.3h0.9M330.9 270.6h0.9M336.2 257.7h0.9M337.7 267.9h0.9M332.5 269.7h0.9M331.2 261.3h0.9M337.4 274.8h0.9M332.3 263.3h0.9M329.0 277.3h0.9M332.5 269.9h0.9M335.2 270.7h0.9M338.1 267.7h0.9M331.3 270.9h0.9M334.7 262.0h0.9M331.8 263.0h0.9M336.7 257.9h0.9M333.7 268.9h0.9M333.8 263.4h0.9M329.6 269.8h0.9M331.8 269.1h0.9M331.8 260.6h0.9M320.9 269.6h0.9M335.7 267.6h0.9M332.8 267.4h0.9M332.2 268.5h0.9M331.7 266.4h0.9M333.0 266.6h0.9M333.7 271.1h0.9M328.5 262.1h0.9M333.3 261.2h0.9M333.3 263.2h0.9M333.0 271.0h0.9M327.9 265.1h0.9M332.4 274.9h0.9M328.6 253.0h0.9M334.0 263.4h0.9M337.3 264.5h0.9M335.8 267.7h0.9M331.7 272.4h0.9M331.1 265.7h0.9M331.0 262.0h0.9M334.0 270.2h0.9M330.7 273.3h0.9M331.1 255.3h0.9M324.5 269.0h0.9M330.0 267.8h0.9M330.3 262.8h0.9M331.1 264.4h0.9M336.9 267.8h0.9M328.4 266.6h0.9M328.5 265.4h0.9M334.9 261.4h0.9M329.6 267.7h0.9M332.3 263.6h0.9M333.5 266.9h0.9M332.9 263.9h0.9M330.3 267.4h0.9M335.9 269.8h0.9M337.9 267.5h0.9M329.5 269.4h0.9M332.0 260.4h0.9M336.0 268.5h0.9M332.2 267.8h0.9M329.5 263.8h0.9M331.4 265.8h0.9M335.6 254.2h0.9M329.6 266.8h0.9M333.7 264.7h0.9M334.1 256.6h0.9M330.7 268.7h0.9M334.7 263.7h0.9M335.1 267.7h0.9M336.2 265.4h0.9M336.0 268.6h0.9M327.9 266.9h0.9M335.8 265.2h0.9M334.8 268.6h0.9M336.1 270.1h0.9M330.0 256.6h0.9M335.9 266.6h0.9M334.1 263.9h0.9M329.0 261.6h0.9M337.1 272.2h0.9M330.3 270.7h0.9M329.5 262.0h0.9M334.2 261.6h0.9M330.9 270.1h0.9M334.1 263.7h0.9M332.1 265.0h0.9M333.8 257.8h0.9M335.6 265.9h0.9M332.8 271.4h0.9M335.8 264.5h0.9M335.7 266.0h0.9M330.1 274.1h0.9M335.7 270.3h0.9M334.9 272.7h0.9M333.3 269.2h0.9M336.6 271.7h0.9M338.4 259.2h0.9M335.4 262.9h0.9M328.0 259.2h0.9M334.4 276.2h0.9M332.4 267.3h0.9M332.0 265.9h0.9M334.0 263.2h0.9M331.8 262.0h0.9M338.3 254.2h0.9M333.8 276.3h0.9M333.0 266.1h0.9M335.5 266.7h0.9M335.5 260.3h0.9M336.8 266.2h0.9M335.0 268.1h0.9M332.8 266.1h0.9M333.3 269.2h0.9M325.7 262.8h0.9M328.0 267.9h0.9M336.3 270.4h0.9M331.8 268.9h0.9M338.9 268.1h0.9M338.9 266.0h0.9M328.8 262.1h0.9M333.9 268.9h0.9M342.5 264.8h0.9M330.3 262.3h0.9M334.2 269.8h0.9M332.1 259.4h0.9M332.1 264.0h0.9M332.0 269.9h0.9M332.8 270.6h0.9M335.4 264.8h0.9M330.2 266.7h0.9M334.6 268.8h0.9M330.6 266.2h0.9M334.6 263.1h0.9M334.0 268.4h0.9M330.3 267.2h0.9M333.4 266.9h0.9M330.5 271.3h0.9M330.1 267.8h0.9M336.8 264.5h0.9M326.9 267.2h0.9M334.8 275.0h0.9M335.3 263.3h0.9M330.9 265.3h0.9M336.5 263.0h0.9M335.9 268.0h0.9M328.6 260.9h0.9M334.6 268.4h0.9M334.5 269.8h0.9M330.5 263.1h0.9M334.8 262.8h0.9M335.4 260.0h0.9M330.5 266.7h0.9M326.3 261.6h0.9M334.2 263.7h0.9M330.4 264.6h0.9M327.2 263.5h0.9M331.6 270.1h0.9M325.0 273.4h0.9M331.8 257.2h0.9M337.9 262.9h0.9M323.4 267.6h0.9M334.4 261.9h0.9M329.8 264.1h0.9M331.5 267.4h0.9M329.9 272.5h0.9M335.0 271.6h0.9M332.9 265.2h0.9M330.3 267.0h0.9M328.6 264.9h0.9M331.5 265.7h0.9M336.7 261.3h0.9M328.9 258.7h0.9M334.3 264.9h0.9M334.0 270.7h0.9M326.3 269.8h0.9M336.6 258.3h0.9M332.8 265.6h0.9M340.3 263.7h0.9M338.7 267.7h0.9M332.1 261.7h0.9M332.4 270.5h0.9M329.6 265.6h0.9M328.3 269.0h0.9M335.6 270.3h0.9M332.1 258.0h0.9M331.6 265.5h0.9M332.3 273.1h0.9M335.2 266.6h0.9M336.1 271.0h0.9M332.9 268.3h0.9M332.3 264.3h0.9M333.3 267.7h0.9M339.8 271.1h0.9M326.0 272.1h0.9M329.0 272.8h0.9M334.5 261.6h0.9M333.4 270.1h0.9M337.0 260.5h0.9M337.3 265.9h0.9M339.5 265.6h0.9M330.2 269.2h0.9M335.0 267.9h0.9M332.1 271.9h0.9M336.2 263.8h0.9M333.5 270.2h0.9M335.9 268.2h0.9M330.4 266.5h0.9M333.5 261.2h0.9M331.2 269.0h0.9M332.1 267.9h0.9M331.4 269.9h0.9M329.5 266.3h0.9M336.7 265.4h0.9M333.9 268.2h0.9M336.6 268.5h0.9M329.6 269.5h0.9M326.4 274.7h0.9M330.8 263.8h0.9M332.4 275.2h0.9M335.6 253.6h0.9M336.5 270.7h0.9M337.0 262.9h0.9M338.1 275.2h0.9M335.4 262.6h0.9M333.3 271.1h0.9M330.4 262.2h0.9M335.2 261.5h0.9M331.3 270.0h0.9M330.2 270.3h0.9M334.9 263.4h0.9M333.7 277.0h0.9M335.8 265.1h0.9M330.5 273.3h0.9M336.9 262.1h0.9M334.1 262.3h0.9M332.4 266.9h0.9M330.4 262.1h0.9M329.3 268.5h0.9M328.4 257.1h0.9M337.6 267.3h0.9M328.2 264.0h0.9M335.1 262.3h0.9M332.1 267.4h0.9M331.0 265.5h0.9M331.3 264.5h0.9M332.6 270.0h0.9M336.0 267.8h0.9M334.8 268.1h0.9M332.9 272.3h0.9M328.3 266.2h0.9M327.0 270.1h0.9M339.2 264.7h0.9M329.6 269.1h0.9M327.7 268.8h0.9M336.7 264.1h0.9M327.9 259.9h0.9M335.4 260.9h0.9M336.1 262.4h0.9M333.8 268.9h0.9M336.2 265.9h0.9M328.3 265.2h0.9M328.8 268.6h0.9M332.3 269.7h0.9M332.9 272.6h0.9M332.6 263.9h0.9M334.5 268.9h0.9M330.5 269.6h0.9M325.8 262.3h0.9M334.3 267.0h0.9M332.2 262.5h0.9M335.7 265.5h0.9M339.9 268.3h0.9M333.2 259.1h0.9M334.9 262.7h0.9M329.9 263.0h0.9M336.0 266.9h0.9M334.1 263.3h0.9M333.8 268.1h0.9M336.0 262.8h0.9M329.1 264.2h0.9M334.8 269.1h0.9M334.5 267.9h0.9M338.3 267.1h0.9M326.9 266.3h0.9M332.6 270.8h0.9M340.3 272.5h0.9M331.6 264.9h0.9M331.5 263.3h0.9M338.9 262.0h0.9M341.3 274.0h0.9M333.3 262.6h0.9M330.5 260.7h0.9M330.9 267.7h0.9M331.6 271.1h0.9M330.1 261.1h0.9M330.2 266.0h0.9M333.5 260.3h0.9M333.1 263.5h0.9M334.5 273.6h0.9M333.0 267.2h0.9M328.9 265.4h0.9M335.4 266.8h0.9M333.7 267.7h0.9M331.0 266.0h0.9M332.0 261.3h0.9M334.0 261.4h0.9M333.2 275.2h0.9M332.5 263.2h0.9M335.5 271.7h0.9M336.5 263.4h0.9M331.9 272.1h0.9M332.8 269.5h0.9M329.2 265.6h0.9M332.3 275.2h0.9M334.5 262.4h0.9M335.8 265.5h0.9M333.5 262.8h0.9M332.6 263.1h0.9M330.5 264.9h0.9M333.6 262.3h0.9M329.3 265.1h0.9M333.3 273.4h0.9M333.0 258.9h0.9M329.9 261.0h0.9M334.0 262.4h0.9M332.2 264.5h0.9M334.9 270.9h0.9M331.3 269.6h0.9M334.5 268.6h0.9M338.2 267.4h0.9M333.5 276.9h0.9M335.6 261.6h0.9M330.8 261.5h0.9M331.7 266.4h0.9M326.6 267.4h0.9M332.4 265.5h0.9M329.1 262.8h0.9M333.3 260.8h0.9M326.0 265.3h0.9M330.0 263.4h0.9M333.2 264.4h0.9M334.2 261.8h0.9M327.4 272.3h0.9M331.5 268.5h0.9M341.5 274.5h0.9M335.5 264.3h0.9M333.4 266.7h0.9M323.7 265.4h0.9M329.8 266.6h0.9M334.6 265.4h0.9M333.7 265.8h0.9M334.4 257.9h0.9M336.1 265.3h0.9M333.2 269.5h0.9M335.8 258.0h0.9M326.9 265.0h0.9M341.3 269.0h0.9M331.9 272.0h0.9M330.7 266.1h0.9M337.9 268.5h0.9M334.9 274.1h0.9M336.2 272.1h0.9M330.8 264.5h0.9M333.8 263.9h0.9M335.3 270.9h0.9M329.1 267.5h0.9M332.2 264.1h0.9M332.1 265.5h0.9M331.9 267.9h0.9M330.5 265.6h0.9M328.7 265.4h0.9M334.3 265.5h0.9M333.7 260.0h0.9M336.8 274.0h0.9M332.7 271.8h0.9M330.6 273.1h0.9M328.0 265.9h0.9M333.2 267.0h0.9M331.8 269.0h0.9M339.6 270.1h0.9M340.6 258.6h0.9M338.2 268.0h0.9M329.9 262.2h0.9M328.2 266.2h0.9M332.1 263.6h0.9M329.9 273.9h0.9M337.6 268.8h0.9M333.3 266.4h0.9M331.5 272.5h0.9M332.8 266.2h0.9M337.1 263.4h0.9M329.7 265.7h0.9M334.5 264.9h0.9M328.5 266.7h0.9M332.2 270.1h0.9M330.7 266.0h0.9M333.9 266.2h0.9M333.4 270.9h0.9M336.9 267.7h0.9M335.2 270.6h0.9M330.9 267.1h0.9M328.5 260.8h0.9M330.2 261.6h0.9M331.4 259.3h0.9M332.1 271.4h0.9M330.3 268.3h0.9M336.5 264.4h0.9M336.0 262.2h0.9M332.0 268.1h0.9M331.2 265.9h0.9M332.1 267.9h0.9M332.7 262.8h0.9M332.8 261.7h0.9M327.5 273.3h0.9M331.4 262.4h0.9M326.6 266.4h0.9M333.0 272.3h0.9M335.1 258.6h0.9M329.3 269.5h0.9M333.4 266.8h0.9M330.8 265.9h0.9M330.5 267.7h0.9M339.4 261.4h0.9M335.9 256.9h0.9M334.5 274.7h0.9M331.4 265.3h0.9M334.2 270.4h0.9M332.2 271.3h0.9M334.4 267.7h0.9M329.9 268.5h0.9M332.6 269.6h0.9M331.5 273.3h0.9M328.1 268.6h0.9M338.5 272.0h0.9M335.6 265.2h0.9M330.2 264.7h0.9M328.0 266.9h0.9M330.4 268.2h0.9M330.1 268.8h0.9M330.8 274.9h0.9M327.8 270.1h0.9M330.1 266.8h0.9M333.1 275.1h0.9M334.2 267.9h0.9M326.2 268.1h0.9M332.9 268.6h0.9M329.6 265.1h0.9M329.4 261.8h0.9M331.8 267.1h0.9M330.6 265.2h0.9M335.2 262.8h0.9M335.2 267.0h0.9M331.8 265.6h0.9M330.7 263.9h0.9M338.9 258.8h0.9M339.1 265.8h0.9M334.2 274.1h0.9M332.3 270.3h0.9M336.2 271.2h0.9M337.7 266.4h0.9M331.1 271.1h0.9M338.9 263.6h0.9M332.3 264.5h0.9M336.5 268.8h0.9M331.1 260.3h0.9M333.1 266.8h0.9M331.3 267.8h0.9M332.9 273.8h0.9M336.3 263.5h0.9M329.8 268.3h0.9M331.9 263.7h0.9M334.7 264.2h0.9M331.3 254.9h0.9M339.7 262.5h0.9M327.9 271.5h0.9M341.4 268.8h0.9M330.6 267.2h0.9M336.1 277.2h0.9M338.3 268.9h0.9M334.7 261.2h0.9M328.1 265.6h0.9M331.7 266.3h0.9M333.1 273.5h0.9M334.8 262.6h0.9M336.2 268.3h0.9M336.7 270.7h0.9M337.8 263.0h0.9M329.6 266.9h0.9M336.2 257.8h0.9M327.0 266.9h0.9M333.4 257.0h0.9M329.2 264.9h0.9M326.8 274.0h0.9M336.0 268.3h0.9M332.8 266.7h0.9M336.2 267.2h0.9M327.5 275.8h0.9M328.7 268.9h0.9M332.5 271.0h0.9M330.6 264.6h0.9M333.1 264.6h0.9M330.7 262.0h0.9M331.7 265.8h0.9M329.0 263.5h0.9M337.2 270.8h0.9M331.8 269.3h0.9M328.9 266.0h0.9M335.2 264.2h0.9M334.5 254.0h0.9M333.6 264.0h0.9M333.6 267.8h0.9M331.5 269.4h0.9M332.4 253.2h0.9M325.3 256.1h0.9M327.6 267.2h0.9M328.7 262.1h0.9M333.8 265.6h0.9M337.0 264.5h0.9M332.3 269.1h0.9M331.9 258.5h0.9M336.7 264.1h0.9M331.6 270.6h0.9M335.1 267.4h0.9M334.3 262.9h0.9M328.3 268.5h0.9M333.9 267.8h0.9M333.6 262.7h0.9M329.0 269.5h0.9M329.3 269.4h0.9M328.5 266.0h0.9M337.5 270.6h0.9M340.0 261.5h0.9M335.3 269.8h0.9M338.2 265.7h0.9M328.3 262.5h0.9M337.6 264.0h0.9M339.6 271.6h0.9M338.3 264.1h0.9M329.7 265.0h0.9M336.5 263.7h0.9M332.5 263.1h0.9M336.5 270.7h0.9M330.7 276.1h0.9M332.9 272.3h0.9M330.9 268.7h0.9M334.5 269.8h0.9M332.5 265.0h0.9M336.6 264.4h0.9M335.7 261.5h0.9M334.3 272.7h0.9M332.7 265.1h0.9M331.8 263.4h0.9M332.9 263.8h0.9M335.4 267.3h0.9M333.3 264.2h0.9M333.8 266.6h0.9M332.7 267.2h0.9M332.6 272.3h0.9M330.6 261.2h0.9M326.5 267.8h0.9M334.8 263.5h0.9M334.8 264.7h0.9M329.6 273.5h0.9M339.4 269.2h0.9M328.9 264.9h0.9M336.3 268.7h0.9M333.7 266.4h0.9M333.9 271.3h0.9M336.7 264.4h0.9M336.0 268.6h0.9M332.9 265.6h0.9M329.3 266.6h0.9M328.7 265.9h0.9M333.5 263.9h0.9M338.2 267.0h0.9M335.9 270.8h0.9M332.8 263.9h0.9M334.0 264.9h0.9M335.2 268.1h0.9M338.7 263.3h0.9M330.3 270.3h0.9M335.3 269.6h0.9M333.8 256.6h0.9M330.3 263.7h0.9M329.4 261.9h0.9M337.2 270.1h0.9M334.0 270.6h0.9M332.1 261.4h0.9M333.2 263.6h0.9M336.2 266.2h0.9M333.2 264.9h0.9M338.3 269.6h0.9M332.0 270.8h0.9M330.2 269.1h0.9M332.5 271.2h0.9M329.7 270.6h0.9M331.7 266.2h0.9M337.0 264.7h0.9M338.7 263.4h0.9M335.0 270.1h0.9M333.5 270.4h0.9M329.8 270.9h0.9M329.4 265.1h0.9M334.1 264.9h0.9M333.4 267.7h0.9M330.9 271.9h0.9M331.3 268.1h0.9M338.2 267.5h0.9M336.2 263.0h0.9M333.0 268.5h0.9M333.6 268.9h0.9M337.2 262.5h0.9M334.1 274.1h0.9M333.7 262.6h0.9M327.5 270.6h0.9M327.1 265.7h0.9M326.4 267.2h0.9M325.2 263.2h0.9M332.8 264.1h0.9M334.0 269.6h0.9M329.9 265.7h0.9M334.4 265.1h0.9M334.4 270.4h0.9M332.6 269.6h0.9M327.8 267.3h0.9M337.8 267.6h0.9M337.6 274.0h0.9M330.9 265.8h0.9M339.5 268.2h0.9M333.0 268.4h0.9M330.2 260.5h0.9M331.5 258.2h0.9M326.5 267.1h0.9M331.7 270.3h0.9M327.4 267.4h0.9M336.7 264.3h0.9M334.0 263.7h0.9M328.1 270.1h0.9M334.8 265.3h0.9M327.0 259.6h0.9M333.4 269.5h0.9M334.5 267.6h0.9" stroke="#dc4f2a" stroke-width="0.9" opacity="0.6"/>
<path d="M332.5 275.0h0.9M332.1 288.2h0.9M336.5 267.6h0.9M334.3 267.4h0.9M330.1 279.3h0.9M324.9 277.2h0.9M333.9 265.8h0.9M331.0 274.7h0.9M334.7 277.5h0.9M336.3 267.9h0.9M331.8 280.3h0.9M336.4 268.9h0.9M330.1 280.9h0.9M331.1 276.1h0.9M329.6 271.1h0.9M332.0 266.6h0.9M332.3 273.4h0.9M334.4 275.1h0.9M329.4 274.1h0.9M334.1 272.4h0.9M338.1 275.1h0.9M326.8 278.9h0.9M331.5 270.3h0.9M331.6 274.0h0.9M333.8 277.9h0.9M336.9 275.9h0.9M334.0 280.2h0.9M329.8 283.1h0.9M329.3 272.8h0.9M331.0 276.2h0.9M333.9 259.9h0.9M332.4 273.4h0.9M328.3 278.1h0.9M336.6 270.0h0.9M328.1 281.6h0.9M335.0 265.7h0.9M330.7 282.1h0.9M328.8 271.9h0.9M332.5 269.8h0.9M331.9 272.6h0.9M331.1 273.6h0.9M334.5 270.2h0.9M331.3 267.7h0.9M339.0 273.6h0.9M333.7 280.5h0.9M328.4 276.7h0.9M323.2 280.8h0.9M335.4 272.5h0.9M332.4 273.3h0.9M331.9 273.4h0.9M328.5 275.3h0.9M326.9 276.7h0.9M324.5 283.2h0.9M337.9 279.9h0.9M335.7 276.7h0.9M328.6 281.8h0.9M337.3 271.9h0.9M327.4 267.3h0.9M332.7 278.8h0.9M333.2 276.2h0.9M328.8 275.2h0.9M329.2 279.6h0.9M328.7 272.8h0.9M331.6 274.5h0.9M334.7 277.6h0.9M333.6 278.9h0.9M331.6 280.3h0.9M334.4 276.2h0.9M326.1 275.5h0.9M339.2 263.5h0.9M330.1 281.3h0.9M329.1 266.3h0.9M330.3 274.6h0.9M327.2 287.8h0.9M331.9 273.4h0.9M333.7 267.0h0.9M323.3 282.2h0.9M335.4 272.8h0.9M336.4 275.0h0.9M328.6 273.6h0.9M334.8 279.5h0.9M334.2 279.6h0.9M334.3 274.9h0.9M334.9 281.6h0.9M328.3 269.7h0.9M332.8 278.9h0.9M329.1 271.3h0.9M337.4 279.8h0.9M329.2 271.1h0.9M328.3 272.1h0.9M333.2 283.2h0.9M334.1 269.5h0.9M332.5 269.0h0.9M331.2 278.0h0.9M333.3 273.9h0.9M336.6 273.6h0.9M329.5 273.9h0.9M327.8 285.7h0.9M330.7 269.4h0.9M331.4 273.6h0.9M331.2 275.9h0.9M328.6 269.5h0.9M332.2 275.0h0.9M327.3 276.9h0.9M331.3 270.1h0.9M329.6 280.6h0.9M331.7 269.0h0.9M335.7 275.0h0.9M335.7 277.5h0.9M331.5 291.9h0.9M337.4 266.8h0.9M330.3 276.3h0.9M333.0 288.7h0.9M331.7 271.9h0.9M331.0 280.7h0.9M331.9 276.2h0.9M328.9 266.9h0.9M329.3 276.7h0.9M331.7 270.3h0.9M332.3 275.6h0.9M332.4 267.2h0.9M328.3 278.3h0.9M330.3 262.0h0.9M331.5 274.1h0.9M326.8 281.0h0.9M327.5 277.0h0.9M331.4 273.1h0.9M332.1 273.8h0.9M329.4 272.4h0.9M323.8 288.1h0.9M332.2 274.8h0.9M333.7 275.3h0.9M330.9 271.0h0.9M330.7 272.3h0.9M324.2 276.9h0.9M334.5 272.3h0.9M329.0 270.3h0.9M333.9 272.5h0.9M330.0 272.8h0.9M330.8 275.8h0.9M331.3 272.4h0.9M326.4 273.1h0.9M339.8 272.5h0.9M325.8 280.5h0.9M331.6 275.5h0.9M329.3 272.9h0.9M330.4 276.3h0.9M335.3 275.4h0.9M327.5 266.0h0.9M331.1 274.0h0.9M331.2 283.7h0.9M331.2 277.6h0.9M331.4 281.2h0.9M329.8 271.1h0.9M328.0 266.5h0.9M328.3 270.7h0.9M329.0 281.7h0.9M334.4 270.2h0.9M332.3 270.9h0.9M334.9 281.4h0.9M331.9 273.7h0.9M332.1 274.0h0.9M331.6 277.0h0.9M326.4 274.5h0.9M333.3 273.7h0.9M328.0 275.7h0.9M330.9 271.1h0.9M338.0 275.9h0.9M327.2 277.7h0.9M332.6 269.6h0.9M332.4 274.0h0.9M332.8 269.1h0.9M330.7 278.8h0.9M329.2 277.8h0.9M336.1 280.8h0.9M324.7 279.3h0.9M327.5 279.7h0.9M334.9 279.4h0.9M333.6 271.2h0.9M328.3 279.4h0.9M329.6 269.8h0.9M328.5 286.8h0.9M338.6 277.8h0.9M332.2 278.2h0.9M329.5 268.1h0.9M331.1 280.6h0.9M328.5 280.7h0.9M337.0 267.6h0.9M332.7 272.2h0.9M335.4 273.2h0.9M332.4 271.7h0.9M335.9 283.1h0.9M330.6 286.3h0.9M333.1 269.6h0.9M327.5 279.8h0.9M330.4 273.4h0.9M331.2 282.2h0.9M332.2 262.1h0.9M338.8 274.0h0.9M330.2 281.2h0.9M329.9 270.6h0.9M333.1 281.6h0.9M330.3 272.0h0.9M331.5 281.0h0.9M330.6 277.9h0.9M329.7 272.4h0.9M336.0 271.7h0.9M331.8 274.1h0.9M333.4 281.5h0.9M330.4 274.7h0.9M327.9 270.8h0.9M324.8 291.4h0.9M331.3 266.6h0.9M331.0 273.7h0.9M331.0 277.8h0.9M333.8 269.8h0.9M327.8 274.3h0.9M332.4 272.9h0.9M329.2 266.7h0.9M329.0 276.9h0.9M339.7 270.4h0.9M335.7 271.7h0.9M329.2 281.1h0.9M337.5 270.1h0.9M334.8 278.7h0.9M332.8 281.5h0.9M334.6 280.8h0.9M330.2 277.2h0.9M331.2 273.7h0.9M330.2 267.3h0.9M332.9 276.0h0.9M327.4 276.6h0.9M330.4 272.0h0.9M333.6 270.1h0.9M329.1 279.1h0.9M333.3 269.7h0.9M336.1 278.1h0.9M329.0 271.9h0.9M336.9 266.9h0.9M328.0 282.9h0.9M328.2 277.6h0.9M331.5 277.8h0.9M335.6 268.1h0.9M329.5 273.9h0.9M329.0 276.0h0.9M330.8 270.8h0.9M327.8 283.0h0.9M333.7 264.6h0.9M328.7 278.1h0.9M332.4 265.0h0.9M333.8 267.0h0.9M331.3 268.0h0.9M334.1 278.4h0.9M330.1 270.8h0.9M329.8 271.0h0.9M338.0 271.2h0.9M337.0 267.9h0.9M332.4 270.2h0.9M334.6 270.1h0.9M332.6 273.3h0.9M330.3 272.5h0.9M335.5 262.7h0.9M332.8 271.5h0.9M333.9 281.6h0.9M326.6 271.3h0.9M333.8 274.7h0.9M332.5 271.0h0.9M330.1 270.8h0.9M330.3 274.0h0.9M331.5 267.5h0.9M327.8 273.1h0.9M331.3 265.7h0.9M333.3 276.7h0.9M328.5 265.7h0.9M329.8 277.7h0.9M323.8 278.6h0.9M331.3 265.9h0.9M331.9 278.2h0.9M331.7 272.4h0.9M330.5 280.5h0.9M328.7 271.2h0.9M333.3 273.3h0.9M329.1 272.5h0.9M332.9 281.4h0.9M333.8 264.6h0.9M329.7 278.2h0.9M335.6 275.7h0.9M330.8 271.7h0.9M334.6 273.7h0.9M330.9 279.3h0.9M330.7 278.7h0.9M332.7 283.7h0.9M333.3 271.4h0.9M333.1 264.7h0.9M331.6 271.5h0.9M332.2 273.5h0.9M332.1 272.2h0.9M329.4 280.6h0.9M326.4 285.6h0.9M323.8 275.1h0.9M332.7 265.2h0.9M329.8 279.6h0.9M335.5 271.7h0.9M332.7 274.9h0.9M333.9 279.3h0.9M336.0 277.2h0.9M331.2 274.0h0.9M328.8 275.5h0.9M333.1 278.7h0.9M329.2 277.3h0.9M328.8 284.9h0.9M338.2 259.7h0.9M333.7 270.7h0.9M335.1 271.9h0.9M326.9 278.0h0.9M331.4 275.6h0.9M333.9 279.3h0.9M329.1 266.4h0.9M332.2 273.4h0.9M332.0 277.9h0.9M325.0 273.0h0.9M336.3 273.1h0.9M329.2 275.4h0.9M329.6 282.8h0.9M338.1 264.4h0.9M324.9 281.7h0.9M332.5 276.1h0.9M331.0 269.8h0.9M331.0 277.8h0.9M329.1 274.2h0.9M334.2 281.3h0.9M329.0 269.7h0.9M331.6 279.6h0.9M333.8 270.0h0.9M330.9 276.0h0.9M330.0 277.8h0.9M330.8 273.8h0.9M333.8 278.2h0.9M333.3 271.6h0.9M330.3 279.8h0.9M328.8 271.3h0.9M332.5 270.9h0.9M333.1 274.1h0.9M331.4 274.1h0.9M336.3 270.8h0.9M325.3 277.5h0.9M338.6 275.0h0.9M330.4 277.4h0.9M329.6 266.1h0.9M327.7 266.8h0.9M334.2 273.5h0.9M334.0 269.6h0.9M331.0 273.6h0.9M330.8 277.3h0.9M330.9 280.2h0.9M328.9 281.8h0.9M334.0 279.0h0.9M333.9 271.1h0.9M330.6 277.2h0.9M327.3 270.9h0.9M334.9 277.9h0.9M331.1 268.7h0.9M327.3 280.8h0.9M334.7 277.2h0.9M333.1 273.2h0.9M327.0 266.4h0.9M326.5 275.0h0.9M330.8 271.5h0.9M327.7 275.1h0.9M331.7 270.7h0.9M339.4 272.9h0.9M339.4 279.1h0.9M330.0 282.0h0.9M334.9 268.3h0.9M334.2 273.9h0.9M330.8 276.4h0.9M327.4 272.9h0.9M334.9 272.7h0.9M329.0 285.5h0.9M333.5 270.3h0.9M333.1 276.6h0.9M329.6 271.5h0.9M336.3 274.8h0.9M333.8 262.7h0.9M331.3 279.1h0.9M330.4 273.1h0.9M334.4 269.8h0.9M332.8 283.5h0.9M330.1 272.7h0.9M333.7 271.6h0.9M331.0 269.9h0.9M327.0 279.3h0.9M330.5 274.4h0.9M333.5 273.1h0.9M334.2 267.9h0.9M335.4 270.3h0.9M329.2 275.9h0.9M330.6 274.2h0.9M333.5 264.1h0.9M334.0 270.2h0.9M330.9 275.5h0.9M326.3 287.8h0.9M327.8 269.8h0.9M336.8 263.6h0.9M333.8 278.9h0.9M330.0 271.6h0.9M336.9 268.4h0.9M330.8 277.3h0.9M333.0 273.5h0.9M335.9 270.1h0.9M331.3 267.4h0.9M329.4 273.4h0.9M326.5 274.0h0.9M334.0 265.4h0.9M331.9 279.7h0.9M335.1 268.3h0.9M331.9 281.9h0.9M331.5 276.2h0.9M334.9 274.1h0.9M328.3 275.6h0.9M333.1 271.6h0.9M333.0 274.4h0.9M329.6 282.9h0.9M336.9 272.4h0.9M332.0 278.9h0.9M336.1 270.5h0.9M334.1 274.8h0.9M330.1 279.3h0.9M338.1 269.2h0.9M334.3 276.7h0.9M333.5 263.4h0.9M332.2 268.5h0.9M328.9 271.8h0.9M330.3 278.9h0.9M330.2 278.0h0.9M332.9 269.8h0.9M330.4 273.6h0.9M332.9 275.7h0.9M332.7 266.4h0.9M326.6 275.8h0.9M328.8 281.1h0.9M327.8 280.4h0.9M328.4 270.8h0.9M331.1 272.2h0.9M334.9 270.1h0.9M328.8 271.3h0.9M326.0 272.1h0.9M330.4 277.9h0.9M339.9 276.4h0.9M330.7 269.4h0.9M331.5 278.8h0.9M329.5 278.8h0.9M334.5 271.7h0.9M335.8 273.9h0.9M331.1 273.8h0.9M336.4 266.6h0.9M328.3 274.6h0.9M331.5 278.0h0.9M326.1 283.8h0.9M331.9 275.5h0.9M330.0 272.7h0.9M332.3 273.8h0.9M327.8 277.0h0.9M331.4 278.7h0.9M332.6 270.1h0.9M329.7 275.2h0.9M328.6 277.4h0.9M329.9 263.5h0.9M329.1 281.3h0.9M332.8 273.6h0.9M330.3 278.9h0.9M332.0 274.3h0.9M335.3 273.8h0.9M330.7 273.9h0.9M332.1 276.1h0.9M333.1 279.4h0.9M333.2 273.4h0.9M333.6 268.9h0.9M332.4 270.9h0.9M337.9 270.4h0.9M330.6 278.3h0.9M331.3 269.4h0.9M331.8 282.6h0.9M336.0 276.0h0.9M335.6 274.7h0.9M330.4 281.2h0.9M334.2 273.0h0.9M333.2 273.2h0.9M331.0 278.5h0.9M332.7 278.6h0.9M334.2 269.7h0.9M329.7 287.2h0.9M335.9 278.3h0.9M331.6 267.9h0.9M335.6 274.3h0.9M336.6 280.3h0.9M337.3 276.7h0.9M331.5 279.1h0.9M328.8 286.6h0.9M326.1 278.5h0.9" stroke="#d6442a" stroke-width="0.9" opacity="0.55"/>
<path d="M335.9 274.9h0.8M330.4 289.9h0.8M328.2 285.9h0.8M333.1 285.2h0.8M328.7 282.2h0.8M332.6 280.9h0.8M332.3 279.1h0.8M329.5 276.0h0.8M327.1 291.2h0.8M329.1 286.8h0.8M330.5 285.9h0.8M332.7 284.9h0.8M331.7 274.9h0.8M334.4 282.5h0.8M331.9 283.8h0.8M328.0 287.6h0.8M329.6 278.5h0.8M330.2 284.1h0.8M329.3 281.7h0.8M330.0 283.0h0.8M332.4 280.0h0.8M330.5 284.6h0.8M332.2 283.7h0.8M330.1 274.8h0.8M327.5 287.8h0.8M325.6 291.7h0.8M327.1 278.6h0.8M328.4 287.7h0.8M331.1 278.9h0.8M330.2 280.7h0.8M328.9 290.4h0.8M334.4 284.6h0.8M326.8 289.0h0.8M329.4 284.1h0.8M328.4 287.1h0.8M328.4 282.0h0.8M332.0 289.6h0.8M328.8 290.5h0.8M332.4 286.4h0.8M328.2 280.2h0.8M334.5 282.2h0.8M335.7 279.9h0.8M327.9 285.3h0.8M329.8 285.2h0.8M330.5 280.1h0.8M330.7 287.1h0.8M327.9 280.1h0.8M329.9 290.9h0.8M331.2 286.8h0.8M327.8 289.5h0.8M325.9 279.2h0.8M329.5 278.6h0.8M330.7 275.3h0.8M331.4 286.1h0.8M329.7 278.1h0.8M326.8 288.3h0.8M331.4 283.9h0.8M330.5 286.5h0.8M332.7 278.0h0.8M330.8 280.6h0.8M332.3 284.3h0.8M330.8 286.4h0.8M327.4 277.0h0.8M330.4 284.6h0.8M332.5 279.9h0.8M329.7 286.6h0.8M333.5 282.7h0.8M329.5 281.7h0.8M331.4 285.2h0.8M326.8 287.5h0.8M330.4 282.1h0.8M328.2 288.1h0.8M328.8 278.6h0.8M327.2 283.8h0.8M331.5 278.5h0.8M331.0 284.2h0.8M329.6 279.1h0.8M327.6 282.8h0.8M327.9 285.4h0.8M332.6 279.4h0.8M329.0 275.3h0.8M332.8 282.8h0.8M326.3 284.7h0.8M330.7 284.2h0.8M332.3 279.6h0.8M332.2 287.1h0.8M329.5 281.7h0.8M328.1 286.0h0.8M327.9 278.9h0.8M331.9 285.3h0.8M329.1 288.0h0.8M329.8 280.2h0.8M329.6 281.7h0.8M330.3 285.8h0.8M329.9 285.3h0.8M332.5 285.0h0.8M325.8 281.8h0.8M333.2 276.9h0.8M329.1 282.9h0.8M331.0 277.6h0.8M329.5 283.3h0.8M331.8 273.3h0.8M330.8 289.4h0.8M329.3 291.1h0.8M326.9 284.4h0.8M330.7 279.5h0.8M330.3 281.8h0.8M330.4 286.9h0.8M329.9 285.8h0.8M330.6 280.1h0.8M331.6 288.5h0.8M327.4 285.7h0.8M334.5 286.1h0.8M329.3 281.4h0.8M328.1 282.7h0.8M332.5 280.4h0.8M332.4 284.3h0.8M333.4 280.8h0.8M332.5 288.5h0.8M331.3 283.4h0.8M330.3 284.0h0.8M330.8 284.6h0.8M330.0 284.4h0.8M330.2 276.9h0.8M332.8 289.0h0.8M334.1 284.1h0.8M330.7 280.8h0.8M330.5 278.9h0.8M329.7 280.0h0.8M327.2 279.9h0.8M328.8 282.8h0.8M329.8 279.3h0.8M330.2 283.5h0.8M328.1 283.3h0.8M326.8 279.4h0.8M330.1 292.5h0.8M334.0 283.2h0.8M325.5 283.6h0.8M329.9 283.4h0.8M332.2 282.7h0.8M327.3 285.4h0.8M326.2 288.2h0.8M330.4 282.7h0.8M330.4 279.3h0.8M328.5 285.1h0.8M335.4 274.6h0.8M333.4 284.2h0.8M331.8 282.5h0.8M329.9 284.3h0.8M330.7 276.6h0.8M332.5 281.5h0.8M330.6 278.6h0.8M333.9 281.3h0.8M332.6 285.9h0.8M329.2 281.9h0.8M332.4 280.7h0.8M332.8 288.5h0.8M331.7 283.2h0.8M329.8 274.1h0.8M330.6 278.5h0.8M329.3 284.5h0.8M330.3 284.8h0.8M330.3 283.8h0.8M329.4 283.8h0.8M332.9 279.5h0.8M333.3 283.0h0.8M330.1 277.7h0.8M327.9 278.8h0.8M331.9 279.2h0.8M331.0 279.3h0.8M331.6 281.6h0.8M329.1 281.6h0.8M331.6 279.6h0.8M327.7 286.9h0.8M333.1 281.3h0.8M332.9 289.8h0.8M327.7 286.6h0.8M325.8 276.8h0.8M328.8 286.3h0.8M330.4 276.7h0.8M329.8 288.8h0.8M330.3 284.1h0.8M332.3 278.8h0.8M337.9 274.6h0.8M329.6 280.8h0.8M330.7 276.9h0.8M330.6 287.4h0.8M327.5 276.8h0.8M332.3 282.0h0.8M328.8 284.4h0.8M327.4 282.1h0.8M328.5 283.4h0.8M331.8 281.8h0.8M331.8 285.9h0.8M333.9 279.2h0.8M331.0 285.1h0.8M329.9 277.3h0.8M331.6 283.5h0.8M331.2 277.8h0.8M335.7 282.6h0.8" stroke="#dc4a2c" stroke-width="0.84" opacity="0.5"/>
<path d="M336.3 284.6h0.8M339.4 271.3h0.8M324.6 269.0h0.8M329.7 270.3h0.8M328.6 264.2h0.8M339.3 272.0h0.8M329.2 269.8h0.8M336.8 256.8h0.8M330.9 266.1h0.8M326.3 298.8h0.8M333.9 275.9h0.8M327.8 269.7h0.8M336.9 276.1h0.8M337.4 262.4h0.8M339.9 271.3h0.8M328.4 277.9h0.8M341.0 257.0h0.8M338.1 264.4h0.8M324.6 267.2h0.8M344.2 268.2h0.8M341.6 266.2h0.8M328.3 272.8h0.8M335.0 279.1h0.8M326.8 273.4h0.8M332.7 279.2h0.8M334.3 279.3h0.8M336.4 265.5h0.8M329.3 272.8h0.8M333.2 267.4h0.8M328.8 276.1h0.8M335.2 267.6h0.8M336.6 269.0h0.8M333.7 284.8h0.8M339.0 269.1h0.8M337.0 257.5h0.8M335.2 271.6h0.8M339.0 273.1h0.8M327.3 266.3h0.8M333.2 271.2h0.8M324.7 279.1h0.8M333.3 266.2h0.8M331.0 269.0h0.8M337.4 264.7h0.8M331.2 273.4h0.8M330.2 269.5h0.8M332.9 262.9h0.8M332.7 269.3h0.8M335.9 285.9h0.8M329.1 256.3h0.8M326.0 259.0h0.8M325.6 273.4h0.8M339.0 259.0h0.8M327.2 286.9h0.8M331.1 258.1h0.8M327.9 259.7h0.8M337.7 266.3h0.8M330.6 279.6h0.8M339.4 277.3h0.8M329.9 275.4h0.8M334.8 273.1h0.8M337.1 281.5h0.8M338.1 255.4h0.8M327.5 272.9h0.8M331.6 282.6h0.8M333.0 261.7h0.8M324.4 273.3h0.8M336.8 280.8h0.8M335.3 281.1h0.8M335.9 269.5h0.8M326.5 286.2h0.8M334.3 274.8h0.8M335.5 279.6h0.8M338.4 261.7h0.8M330.8 264.3h0.8M336.7 264.3h0.8M343.0 285.4h0.8M331.2 251.2h0.8M331.4 255.3h0.8M331.8 277.3h0.8M326.1 271.8h0.8M331.6 245.9h0.8M341.3 267.3h0.8M328.8 268.1h0.8M332.4 280.7h0.8M339.2 254.7h0.8M336.1 266.2h0.8M334.5 279.5h0.8M331.7 277.0h0.8M332.8 263.0h0.8M333.4 268.2h0.8M336.7 258.3h0.8M333.8 282.0h0.8M338.0 267.1h0.8M324.3 281.2h0.8M337.4 277.3h0.8M330.8 263.3h0.8M333.4 269.4h0.8M331.3 276.0h0.8M336.5 274.3h0.8M332.8 283.3h0.8M336.5 280.0h0.8M329.5 273.4h0.8M334.3 276.4h0.8M339.4 264.8h0.8M338.9 265.7h0.8M331.7 275.7h0.8M334.1 273.5h0.8M331.6 261.5h0.8M332.8 270.0h0.8M333.5 264.1h0.8M339.3 266.1h0.8M336.3 281.4h0.8M340.5 262.9h0.8M340.9 265.3h0.8M327.2 275.4h0.8M334.9 271.3h0.8M331.2 272.1h0.8M325.5 258.7h0.8M328.1 270.5h0.8M331.0 267.7h0.8" stroke="#e0452b" stroke-width="0.8" opacity="0.45"/>
<ellipse cx="332.5" cy="269.25" rx="4.68" ry="7.6" fill="#dc532a" transform="rotate(6 332.5 269.25)" opacity="0.75" filter="url(#bl2)"/>
<ellipse cx="333.3" cy="265.5" rx="3.87" ry="4.56" fill="#e6782c" opacity="0.95" filter="url(#bl2)"/>
<ellipse cx="333.6" cy="264.5" rx="2.7" ry="3.23" fill="#efa434" filter="url(#bl2)"/>
<ellipse cx="333.7" cy="264.2" rx="1.62" ry="2.09" fill="#f4cc40" filter="url(#bl)"/>
<rect x="319.5" y="248.3" width="13" height="13" stroke="#b3b3b3" stroke-width="0.9" fill="none"/>
<rect x="332.5" y="272.5" width="16.8" height="17.5" stroke="#b3b3b3" stroke-width="0.9" fill="none"/>
<text x="322.5" y="242.5" font-size="2.6" fill="#444">R1</text>
<text x="355.5" y="276" font-size="2.6" fill="#444">R2</text>
<text x="355.5" y="282.8" font-size="4.6" fill="#333">moved</text>
<text x="356.5" y="289.3" font-size="4.6" fill="#333">to 5%</text>
<path d="M429.8 270.4h0.9M430.4 260.4h0.9M431.1 257.5h0.9M434.2 269.7h0.9M436.9 266.9h0.9M432.2 262.5h0.9M435.9 264.0h0.9M432.2 268.9h0.9M428.0 253.2h0.9M432.1 269.6h0.9M435.3 263.6h0.9M435.7 267.1h0.9M429.6 264.1h0.9M437.9 277.0h0.9M430.0 261.8h0.9M430.0 268.9h0.9M430.6 253.6h0.9M435.8 264.5h0.9M433.0 267.6h0.9M434.4 258.0h0.9M426.1 256.0h0.9M431.8 264.7h0.9M431.7 268.5h0.9M433.8 269.2h0.9M430.7 261.5h0.9M435.1 265.8h0.9M430.1 258.5h0.9M428.3 271.5h0.9M427.6 262.0h0.9M435.3 269.6h0.9M434.0 263.2h0.9M429.9 263.0h0.9M434.9 271.0h0.9M431.5 260.7h0.9M431.6 269.7h0.9M428.1 262.8h0.9M430.5 260.7h0.9M432.3 260.9h0.9M432.5 269.0h0.9M430.5 264.0h0.9M434.6 262.9h0.9M435.8 258.1h0.9M429.8 269.2h0.9M433.0 268.6h0.9M427.9 265.6h0.9M433.1 267.5h0.9M429.4 250.9h0.9M431.6 262.1h0.9M432.4 265.0h0.9M431.3 264.7h0.9M434.7 262.0h0.9M429.9 265.3h0.9M430.7 261.3h0.9M432.8 261.6h0.9M431.9 259.1h0.9M432.7 264.9h0.9M431.4 261.3h0.9M429.9 262.2h0.9M433.7 270.0h0.9M432.2 264.1h0.9M434.4 264.2h0.9M435.5 257.9h0.9M431.1 262.1h0.9M430.0 268.4h0.9M430.8 266.6h0.9M430.3 264.5h0.9M426.7 263.6h0.9M436.3 264.6h0.9M433.1 265.9h0.9M438.2 263.0h0.9M430.5 254.0h0.9M433.6 272.4h0.9M432.7 269.0h0.9M431.8 263.7h0.9M434.6 270.1h0.9M432.0 258.9h0.9M431.8 269.6h0.9M432.4 265.1h0.9M426.1 268.0h0.9M430.1 262.9h0.9M430.1 264.9h0.9M436.4 266.7h0.9M433.5 268.6h0.9M434.1 266.4h0.9M433.7 266.1h0.9M431.5 261.8h0.9M436.4 271.4h0.9M431.5 265.2h0.9M428.3 263.4h0.9M433.7 263.0h0.9M435.1 259.3h0.9M432.3 261.2h0.9M433.0 258.0h0.9M434.5 265.1h0.9M436.0 264.0h0.9M433.5 265.2h0.9M436.4 259.1h0.9M432.8 262.5h0.9M437.5 261.6h0.9M428.4 268.4h0.9M434.5 258.1h0.9M432.8 258.0h0.9M432.3 269.6h0.9M428.6 265.8h0.9M434.8 257.8h0.9M431.5 269.9h0.9M429.4 270.5h0.9M430.4 269.0h0.9M431.4 255.8h0.9M432.3 264.8h0.9M429.6 260.7h0.9M429.6 263.2h0.9M433.1 257.8h0.9M431.8 271.5h0.9M437.2 261.4h0.9M430.9 265.4h0.9M434.0 267.6h0.9M436.6 266.8h0.9M431.5 266.0h0.9M434.6 262.7h0.9M432.8 265.2h0.9M432.2 263.4h0.9M436.2 254.9h0.9M429.4 268.4h0.9M430.4 261.7h0.9M427.4 262.1h0.9M431.7 262.6h0.9M434.6 258.5h0.9M431.3 259.3h0.9M434.2 256.8h0.9M430.0 266.2h0.9M435.0 269.2h0.9M431.7 264.6h0.9M430.8 259.5h0.9M436.3 269.7h0.9M432.0 263.0h0.9M433.5 257.7h0.9M432.3 256.5h0.9M433.9 265.0h0.9M432.3 270.3h0.9M428.9 262.7h0.9M432.8 261.7h0.9M433.3 263.1h0.9M433.0 260.8h0.9M431.4 262.0h0.9M436.8 265.3h0.9M430.1 261.3h0.9M432.3 268.1h0.9M432.6 260.2h0.9M429.2 267.2h0.9M428.9 265.7h0.9M433.8 262.7h0.9M433.8 263.0h0.9M432.4 262.9h0.9M427.8 271.2h0.9M431.3 260.9h0.9M432.6 269.2h0.9M433.6 268.5h0.9M435.1 262.9h0.9M433.2 271.0h0.9M434.5 254.4h0.9M436.4 265.3h0.9M425.9 264.8h0.9M434.6 264.4h0.9M430.9 267.7h0.9M433.3 262.6h0.9M432.6 263.5h0.9M429.3 269.0h0.9M429.6 263.8h0.9M433.2 260.0h0.9M431.5 266.6h0.9M433.9 263.9h0.9M431.0 261.9h0.9M437.6 266.6h0.9M431.3 261.1h0.9M437.4 260.2h0.9M430.0 263.2h0.9M433.5 263.5h0.9M435.0 264.5h0.9M428.6 259.3h0.9M429.5 271.4h0.9M433.1 267.1h0.9M435.0 264.9h0.9M435.6 265.2h0.9M433.5 253.9h0.9M434.7 268.1h0.9M428.9 260.0h0.9M430.9 266.4h0.9M435.8 259.3h0.9M430.5 268.4h0.9M431.4 262.1h0.9M427.4 263.4h0.9M431.5 270.6h0.9M427.8 268.4h0.9M432.9 258.6h0.9M435.9 261.4h0.9M432.8 265.1h0.9M432.4 263.3h0.9M430.9 267.6h0.9M433.4 261.4h0.9M429.1 256.5h0.9M430.8 260.5h0.9M437.6 263.5h0.9M428.6 266.5h0.9M430.5 267.4h0.9M428.3 269.4h0.9M435.2 265.2h0.9M431.4 263.4h0.9M428.6 267.3h0.9M428.7 263.9h0.9M434.9 262.3h0.9M433.7 262.3h0.9M434.1 268.1h0.9M431.8 270.4h0.9M434.3 269.7h0.9M435.4 257.7h0.9M433.7 268.8h0.9M427.8 259.6h0.9M426.8 262.9h0.9M428.1 266.7h0.9M432.7 258.7h0.9M428.0 259.2h0.9M429.1 261.2h0.9M432.0 271.3h0.9M429.6 268.7h0.9M428.6 260.6h0.9M434.5 264.8h0.9M433.2 264.8h0.9M434.0 265.6h0.9M434.3 261.3h0.9M435.7 270.2h0.9M431.8 262.7h0.9M431.4 267.7h0.9M427.3 257.3h0.9M431.3 265.9h0.9M430.3 264.9h0.9M434.6 269.9h0.9M433.7 253.5h0.9M435.8 266.6h0.9M434.8 267.6h0.9M435.0 263.2h0.9M433.3 269.7h0.9M432.3 273.0h0.9M430.9 267.9h0.9M431.8 267.6h0.9M429.4 269.9h0.9M432.9 266.1h0.9M431.7 269.4h0.9M426.5 266.8h0.9M424.8 261.4h0.9M430.0 259.9h0.9M430.6 269.1h0.9M431.1 266.8h0.9M435.3 261.5h0.9M430.2 264.4h0.9M428.5 270.3h0.9M432.9 257.2h0.9M434.5 260.5h0.9M436.2 267.2h0.9M429.2 267.7h0.9M431.2 259.4h0.9M430.7 260.2h0.9M435.8 265.0h0.9M433.7 270.1h0.9M431.9 264.3h0.9M433.7 254.7h0.9M430.9 268.5h0.9M431.3 264.2h0.9M431.7 262.4h0.9M430.5 259.5h0.9M431.2 269.2h0.9M432.8 265.4h0.9M432.5 266.0h0.9M435.7 265.7h0.9M434.1 266.1h0.9M431.6 267.8h0.9M426.1 271.4h0.9M427.9 259.9h0.9M430.5 264.0h0.9M430.8 262.4h0.9M428.4 271.3h0.9M430.8 263.1h0.9M432.1 257.6h0.9M430.2 264.2h0.9M431.4 261.2h0.9M431.6 261.2h0.9M430.0 262.4h0.9M429.5 258.9h0.9M431.5 256.3h0.9M432.5 272.4h0.9M429.1 263.8h0.9M426.5 260.4h0.9M429.3 266.9h0.9M433.1 269.8h0.9M427.6 257.0h0.9M434.2 262.4h0.9M430.2 265.4h0.9M432.1 260.8h0.9M429.8 266.1h0.9M433.3 259.2h0.9M431.9 261.5h0.9M432.7 263.8h0.9M426.7 266.1h0.9M433.7 264.4h0.9M427.4 261.5h0.9M430.9 262.7h0.9M433.1 255.5h0.9M431.3 273.1h0.9M433.1 262.6h0.9M432.2 263.1h0.9M432.0 265.4h0.9M429.7 266.6h0.9M434.4 265.7h0.9M434.7 261.5h0.9M430.4 257.4h0.9M429.4 263.6h0.9M432.3 261.0h0.9M429.8 262.0h0.9M432.1 264.3h0.9M433.9 265.3h0.9M433.5 269.6h0.9M435.6 263.7h0.9M433.0 257.1h0.9M429.1 266.7h0.9M429.5 268.1h0.9M433.1 257.4h0.9M436.7 266.8h0.9M430.8 265.0h0.9M429.4 262.0h0.9M435.4 265.0h0.9M431.4 265.9h0.9M433.6 266.7h0.9M434.5 269.0h0.9M429.2 264.2h0.9M430.8 264.2h0.9M430.3 274.3h0.9M433.1 259.8h0.9M433.4 263.1h0.9M430.5 262.8h0.9M433.2 267.4h0.9M427.1 268.9h0.9M432.7 258.8h0.9M432.6 269.4h0.9M431.8 259.3h0.9M428.0 275.1h0.9M431.5 261.5h0.9M429.0 268.8h0.9M435.5 263.2h0.9M431.0 267.2h0.9M431.2 261.2h0.9M431.5 264.8h0.9M433.1 264.4h0.9M431.9 264.7h0.9M433.1 267.6h0.9M429.4 262.4h0.9M434.6 262.9h0.9M430.5 258.8h0.9M433.7 263.7h0.9M432.4 262.2h0.9M434.5 267.9h0.9M431.6 267.1h0.9M428.0 261.3h0.9M428.8 266.1h0.9M431.2 269.7h0.9M435.3 263.4h0.9M430.7 259.4h0.9M431.9 274.5h0.9M435.0 266.6h0.9M430.3 267.2h0.9M432.5 274.7h0.9M432.5 261.0h0.9M430.2 265.5h0.9M432.3 256.4h0.9M434.4 266.3h0.9M434.4 265.9h0.9M430.9 261.0h0.9M439.2 260.7h0.9M432.6 263.5h0.9M431.0 263.3h0.9M429.9 270.8h0.9M429.2 263.3h0.9M433.8 263.6h0.9M424.3 263.5h0.9M431.4 257.6h0.9M428.2 262.3h0.9M431.3 258.7h0.9M431.7 264.8h0.9M428.4 255.2h0.9M429.2 259.6h0.9M435.0 265.3h0.9M430.3 255.6h0.9M431.7 257.8h0.9M430.9 268.4h0.9M433.9 258.7h0.9M434.9 264.2h0.9M434.1 265.5h0.9M433.2 259.9h0.9M433.2 257.3h0.9M428.7 270.6h0.9M435.1 262.0h0.9M430.3 266.4h0.9M429.5 261.1h0.9M430.8 265.8h0.9M429.7 258.8h0.9M432.8 258.6h0.9M433.6 259.9h0.9M435.0 261.7h0.9M431.5 261.7h0.9M430.2 262.9h0.9M431.0 266.1h0.9M428.7 262.0h0.9M429.9 268.1h0.9M436.9 261.5h0.9M429.8 267.0h0.9M430.6 269.7h0.9M433.4 271.5h0.9M432.4 256.0h0.9M433.7 271.4h0.9M429.5 256.9h0.9M429.0 270.1h0.9M435.1 264.2h0.9M430.0 265.7h0.9M431.5 260.3h0.9M432.3 268.1h0.9M427.0 267.1h0.9M431.3 262.0h0.9M430.1 261.7h0.9M433.1 267.8h0.9M430.9 268.5h0.9M426.0 267.5h0.9M433.8 262.7h0.9M425.2 264.3h0.9M430.7 268.2h0.9M430.0 267.7h0.9M430.2 268.9h0.9M431.7 264.9h0.9M434.2 261.4h0.9M429.5 265.5h0.9M430.2 266.2h0.9M433.7 262.1h0.9M433.0 266.1h0.9M433.6 260.8h0.9M432.6 265.3h0.9M431.1 261.8h0.9M430.5 273.0h0.9M430.5 269.2h0.9M434.1 265.4h0.9M435.6 258.8h0.9M436.8 259.2h0.9M429.1 267.2h0.9M431.1 263.6h0.9M431.8 265.6h0.9M431.3 257.7h0.9M428.8 258.0h0.9M437.4 264.8h0.9M435.6 263.4h0.9M431.3 258.8h0.9M430.6 261.0h0.9M431.7 267.5h0.9M428.6 262.5h0.9M430.9 266.7h0.9M433.7 271.1h0.9M436.0 265.7h0.9M434.0 264.8h0.9M435.1 261.8h0.9M429.0 269.3h0.9M423.4 258.3h0.9M435.3 259.7h0.9M432.2 264.2h0.9M431.5 258.2h0.9M436.1 268.3h0.9M429.3 261.7h0.9M429.3 266.5h0.9M429.8 263.0h0.9M435.9 263.2h0.9M434.2 264.3h0.9M427.1 256.1h0.9M436.0 259.8h0.9M431.8 262.3h0.9M432.9 273.5h0.9M429.8 267.6h0.9M436.6 267.3h0.9M432.9 260.0h0.9M435.2 268.0h0.9M429.2 269.4h0.9M433.6 267.4h0.9M432.0 275.1h0.9M431.2 258.7h0.9M429.6 259.8h0.9M429.9 263.2h0.9M428.7 260.2h0.9M430.0 264.5h0.9M431.7 266.4h0.9M433.3 264.2h0.9M427.7 264.7h0.9M429.1 265.9h0.9M430.2 267.5h0.9M427.5 261.5h0.9M431.0 261.5h0.9M431.1 269.2h0.9M431.3 262.9h0.9M432.8 260.8h0.9M434.2 265.4h0.9M433.8 262.8h0.9M432.5 264.8h0.9M433.3 264.0h0.9M429.7 266.9h0.9M429.3 268.0h0.9M433.4 260.8h0.9M433.2 259.2h0.9M437.5 270.9h0.9M431.2 261.4h0.9M429.2 257.8h0.9M432.5 256.4h0.9M430.6 264.1h0.9M429.4 261.6h0.9M435.3 256.7h0.9M436.8 260.3h0.9M432.7 259.9h0.9M430.0 268.4h0.9M432.4 265.2h0.9M431.6 264.2h0.9M428.1 259.0h0.9M433.9 263.5h0.9M432.6 267.0h0.9M435.0 264.9h0.9M430.3 268.6h0.9M431.7 264.6h0.9M431.5 267.1h0.9M427.3 266.1h0.9M438.3 261.9h0.9M426.3 269.8h0.9M428.8 265.7h0.9M430.8 267.6h0.9M427.7 259.8h0.9M432.9 259.7h0.9M430.6 263.5h0.9M432.0 260.9h0.9M432.4 266.8h0.9M432.0 265.9h0.9M432.0 269.3h0.9M431.4 266.7h0.9M432.9 259.6h0.9M433.9 268.2h0.9M431.1 261.5h0.9M430.6 261.2h0.9M430.7 264.5h0.9M432.6 264.2h0.9M430.8 268.5h0.9M430.8 275.9h0.9M427.8 266.0h0.9M436.8 270.3h0.9M428.6 263.4h0.9M436.2 265.6h0.9M433.9 262.1h0.9M434.5 262.5h0.9M432.5 269.8h0.9M433.1 266.1h0.9M432.6 266.1h0.9M433.4 260.9h0.9M434.0 271.3h0.9M435.8 263.5h0.9M429.2 261.5h0.9M433.1 264.2h0.9M436.1 267.0h0.9M435.5 267.3h0.9M429.1 270.3h0.9M432.6 259.9h0.9M432.6 262.5h0.9M432.5 270.7h0.9M425.9 273.6h0.9M434.1 261.6h0.9M427.6 263.8h0.9M437.6 257.9h0.9M433.6 260.8h0.9M431.6 260.6h0.9M433.5 263.8h0.9M432.2 259.3h0.9M430.5 268.1h0.9M431.6 264.0h0.9M432.8 263.2h0.9M429.7 268.1h0.9M433.7 263.1h0.9M434.8 259.1h0.9M434.7 264.4h0.9M435.0 273.2h0.9M435.3 264.7h0.9M433.7 266.4h0.9M435.3 263.4h0.9M432.0 263.3h0.9M433.0 266.3h0.9M435.6 253.3h0.9M437.0 259.1h0.9M431.0 261.8h0.9M428.1 263.1h0.9M437.6 270.3h0.9M435.0 274.4h0.9M436.7 266.9h0.9M434.3 265.9h0.9M432.5 267.1h0.9M430.2 270.5h0.9M429.4 260.2h0.9M435.7 262.2h0.9M434.5 264.9h0.9M432.7 265.5h0.9M429.0 256.4h0.9M430.5 266.0h0.9M430.3 257.7h0.9M431.1 267.4h0.9M424.3 267.7h0.9M432.5 254.9h0.9M436.1 266.3h0.9M430.5 265.1h0.9M432.0 261.7h0.9M432.6 268.2h0.9M429.3 272.5h0.9M433.0 266.3h0.9M429.7 259.7h0.9M430.7 258.3h0.9M432.6 259.4h0.9M431.8 260.0h0.9M432.2 268.9h0.9M429.5 265.4h0.9M433.8 264.1h0.9M429.0 267.8h0.9M434.2 264.3h0.9M430.6 264.4h0.9M428.7 260.8h0.9M431.7 261.7h0.9M429.1 264.4h0.9M430.5 259.4h0.9M431.5 271.1h0.9M434.0 264.7h0.9M434.0 262.0h0.9M433.2 268.3h0.9M431.2 259.9h0.9M427.8 268.6h0.9M431.3 264.6h0.9M431.1 272.0h0.9M431.6 262.0h0.9M430.5 262.6h0.9M430.5 260.8h0.9M434.1 259.1h0.9M428.3 265.3h0.9M431.9 259.9h0.9M435.3 265.6h0.9M429.9 261.6h0.9M429.3 268.6h0.9M431.3 253.7h0.9M431.0 265.9h0.9M432.6 264.4h0.9M435.5 264.2h0.9M431.6 261.6h0.9M433.4 271.4h0.9M430.4 262.5h0.9M430.6 266.0h0.9M432.7 263.1h0.9M430.1 262.7h0.9M435.1 264.6h0.9M430.8 267.0h0.9M431.5 259.6h0.9M429.1 262.3h0.9M430.7 258.4h0.9M429.2 265.9h0.9M430.6 260.7h0.9M427.2 261.1h0.9M431.9 266.9h0.9M436.6 264.2h0.9M426.9 265.9h0.9M436.6 263.6h0.9M431.6 265.9h0.9M434.3 264.6h0.9M429.2 259.6h0.9M437.3 265.1h0.9M429.0 262.8h0.9M431.7 263.2h0.9M436.1 265.4h0.9M428.5 261.9h0.9M425.6 259.8h0.9M431.7 269.1h0.9M429.8 271.8h0.9M429.3 262.8h0.9M429.4 269.0h0.9M428.0 265.8h0.9M435.7 261.6h0.9M435.2 260.8h0.9M428.2 263.1h0.9M431.6 262.4h0.9M430.7 262.8h0.9M434.9 263.7h0.9M429.6 259.5h0.9M436.3 267.8h0.9M431.9 259.6h0.9M429.8 259.8h0.9M431.6 268.0h0.9M430.3 267.4h0.9M438.0 270.2h0.9M432.3 264.8h0.9M430.6 261.6h0.9M432.1 268.9h0.9" stroke="#dc4f2a" stroke-width="0.9" opacity="0.6"/>
<path d="M428.7 279.9h0.9M429.8 273.5h0.9M428.7 270.2h0.9M430.8 274.7h0.9M426.3 263.7h0.9M430.7 277.1h0.9M425.7 271.8h0.9M430.8 280.8h0.9M426.2 275.0h0.9M431.5 274.4h0.9M435.7 274.2h0.9M430.7 266.5h0.9M427.7 271.5h0.9M434.4 274.5h0.9M428.4 276.9h0.9M427.4 274.0h0.9M432.5 276.2h0.9M423.3 274.5h0.9M427.4 269.2h0.9M427.0 273.3h0.9M428.9 271.0h0.9M426.7 265.5h0.9M433.4 265.4h0.9M431.9 276.7h0.9M428.9 279.2h0.9M428.1 279.0h0.9M427.4 267.7h0.9M430.1 279.7h0.9M427.4 279.6h0.9M432.3 269.0h0.9M432.2 275.1h0.9M428.9 280.6h0.9M425.4 272.0h0.9M427.1 277.7h0.9M433.9 269.9h0.9M431.2 270.9h0.9M432.8 277.2h0.9M425.3 270.7h0.9M429.9 272.9h0.9M429.8 272.8h0.9M427.5 266.8h0.9M427.5 279.3h0.9M432.6 272.1h0.9M431.8 271.0h0.9M429.4 270.0h0.9M431.0 272.8h0.9M433.8 268.4h0.9M427.1 276.1h0.9M431.2 270.9h0.9M432.0 276.6h0.9M429.5 267.9h0.9M434.1 268.0h0.9M430.9 267.9h0.9M432.6 273.9h0.9M433.5 266.4h0.9M430.2 276.5h0.9M429.9 270.7h0.9M428.0 276.4h0.9M431.0 270.6h0.9M430.1 276.3h0.9M434.3 268.0h0.9M431.0 267.1h0.9M430.6 275.3h0.9M434.6 270.4h0.9M430.1 277.6h0.9M431.9 269.2h0.9M433.5 275.4h0.9M431.2 268.5h0.9M432.7 264.1h0.9M430.8 279.5h0.9M430.2 271.3h0.9M426.9 276.6h0.9M426.8 272.6h0.9M431.3 264.0h0.9M432.5 274.7h0.9M431.6 277.9h0.9M432.9 279.2h0.9M431.0 280.6h0.9M428.5 274.0h0.9M427.1 271.3h0.9M429.1 272.5h0.9M430.7 266.6h0.9M428.0 275.6h0.9M431.8 276.2h0.9M428.2 273.7h0.9M432.3 268.8h0.9M431.5 275.7h0.9M426.8 269.0h0.9M428.3 278.1h0.9M433.7 269.9h0.9M432.7 270.1h0.9M430.8 270.8h0.9M428.7 266.9h0.9M429.5 267.7h0.9M430.7 271.0h0.9M435.2 261.0h0.9M429.7 282.1h0.9M429.8 274.1h0.9M430.6 273.8h0.9M432.8 268.4h0.9M426.2 272.5h0.9M428.1 271.9h0.9M430.3 272.8h0.9M434.3 265.6h0.9M432.8 272.2h0.9M430.1 262.9h0.9M430.5 271.3h0.9M429.4 267.7h0.9M429.9 269.2h0.9M430.9 270.8h0.9M428.8 276.2h0.9M428.0 277.9h0.9M427.6 271.9h0.9M427.6 266.4h0.9M428.6 279.3h0.9M431.9 265.6h0.9M432.2 269.8h0.9M428.6 270.9h0.9M429.3 268.4h0.9M432.0 279.2h0.9M430.9 274.4h0.9M431.4 277.8h0.9M429.3 270.6h0.9M427.9 276.2h0.9M427.8 271.1h0.9M432.7 271.9h0.9M427.5 273.2h0.9M426.0 273.4h0.9M428.1 274.7h0.9M433.3 271.7h0.9M431.6 265.0h0.9M431.1 270.8h0.9M432.8 259.3h0.9M430.4 270.8h0.9M430.6 268.2h0.9M426.4 275.6h0.9M436.4 259.8h0.9M428.3 281.8h0.9M433.3 271.0h0.9M428.1 263.9h0.9M431.2 274.5h0.9M427.2 274.1h0.9M427.0 273.7h0.9M429.0 282.8h0.9M433.3 268.6h0.9M433.1 274.2h0.9M433.2 273.5h0.9M430.3 268.8h0.9M431.8 273.9h0.9M427.9 278.0h0.9M429.8 267.9h0.9M430.5 274.5h0.9M429.2 277.0h0.9M431.7 275.7h0.9M427.5 263.7h0.9M432.6 274.0h0.9M429.3 270.1h0.9M432.6 278.7h0.9M433.0 272.0h0.9M426.0 281.2h0.9M431.2 266.2h0.9M431.4 274.9h0.9M429.3 267.7h0.9M427.1 280.5h0.9M428.3 279.7h0.9M432.8 268.0h0.9M431.7 276.2h0.9M429.4 271.8h0.9M433.6 264.7h0.9M434.5 267.7h0.9M432.3 273.0h0.9M428.2 274.4h0.9M428.7 270.1h0.9M430.7 273.7h0.9M431.9 274.0h0.9M431.0 273.8h0.9M430.5 266.3h0.9M428.1 272.5h0.9M432.7 275.3h0.9M431.3 264.9h0.9M433.2 280.4h0.9M426.5 278.8h0.9M429.4 272.9h0.9M427.1 282.0h0.9M435.2 269.1h0.9M433.9 268.1h0.9M429.7 269.0h0.9M426.6 268.0h0.9M431.4 281.6h0.9M430.6 272.5h0.9M427.8 271.5h0.9M426.6 273.4h0.9M429.9 280.1h0.9M429.7 272.9h0.9M431.0 270.4h0.9M431.0 273.7h0.9M428.4 278.1h0.9M429.9 271.1h0.9M430.6 279.3h0.9M429.8 273.6h0.9M429.9 271.3h0.9M431.4 274.8h0.9M424.2 281.0h0.9M433.3 271.5h0.9M430.2 279.0h0.9M428.1 274.6h0.9M429.8 272.9h0.9M433.1 273.0h0.9M430.9 276.4h0.9M425.8 274.5h0.9M427.7 273.6h0.9M430.2 275.5h0.9M435.1 268.8h0.9M432.6 269.4h0.9M430.7 267.3h0.9M431.9 270.8h0.9M430.6 271.2h0.9M430.0 270.3h0.9M430.7 274.9h0.9M426.3 266.8h0.9M432.8 271.5h0.9M430.8 276.6h0.9M427.9 280.2h0.9M428.4 272.1h0.9M426.6 277.5h0.9M429.8 278.9h0.9M431.5 267.4h0.9M430.5 273.5h0.9M435.1 267.9h0.9M425.7 269.5h0.9M428.4 273.9h0.9M429.7 265.8h0.9M432.0 275.2h0.9M429.9 271.5h0.9M428.4 270.7h0.9M430.4 274.9h0.9M432.0 268.4h0.9M435.4 264.7h0.9M430.9 272.5h0.9M430.0 268.6h0.9M429.4 271.1h0.9M429.5 266.6h0.9M432.2 267.9h0.9M433.1 267.6h0.9M430.9 266.0h0.9M430.7 268.2h0.9M434.1 269.0h0.9M430.6 272.4h0.9M428.8 287.6h0.9M428.4 268.8h0.9M430.3 264.3h0.9M425.1 274.1h0.9M428.3 265.7h0.9M431.9 268.1h0.9M433.5 271.0h0.9M429.7 272.3h0.9M427.6 272.0h0.9M430.4 273.4h0.9M433.0 272.1h0.9M429.1 277.4h0.9M431.7 276.5h0.9M430.7 269.5h0.9M427.8 270.6h0.9M429.5 265.3h0.9M429.2 275.2h0.9M435.7 272.1h0.9M430.1 281.5h0.9M430.4 268.8h0.9M429.7 279.5h0.9M431.6 267.8h0.9M430.8 263.9h0.9M430.8 268.0h0.9M429.5 273.7h0.9M431.2 277.3h0.9M434.6 268.6h0.9M432.5 277.3h0.9M430.1 269.5h0.9M432.0 269.9h0.9M429.0 270.4h0.9M426.5 279.6h0.9M430.4 273.0h0.9M431.5 273.8h0.9M431.5 264.9h0.9M432.1 273.2h0.9M432.0 273.8h0.9M430.7 280.2h0.9M430.8 267.9h0.9M427.9 268.2h0.9M435.2 268.5h0.9M429.8 268.8h0.9M431.5 275.6h0.9M432.1 268.5h0.9M428.5 278.1h0.9M434.5 273.0h0.9M432.7 268.0h0.9M430.9 269.0h0.9M430.6 265.4h0.9M429.4 264.8h0.9M426.6 277.1h0.9M430.9 276.5h0.9M430.2 267.2h0.9M429.7 269.8h0.9M430.2 279.9h0.9M430.2 268.5h0.9M431.7 273.4h0.9M428.5 274.2h0.9M429.4 270.9h0.9M432.6 271.5h0.9M429.1 270.2h0.9M431.7 272.9h0.9M432.8 264.8h0.9M430.4 272.3h0.9M426.5 272.3h0.9M428.6 265.2h0.9M427.5 273.8h0.9M428.3 267.1h0.9M434.5 259.9h0.9M430.1 262.5h0.9M427.5 272.0h0.9M428.8 274.5h0.9M430.5 270.0h0.9M427.9 264.4h0.9M431.9 271.5h0.9M431.2 276.7h0.9M429.1 271.6h0.9M433.4 265.3h0.9M426.5 273.6h0.9M429.3 270.8h0.9M430.2 271.1h0.9M430.5 272.3h0.9M432.5 275.1h0.9M429.7 271.4h0.9M428.9 267.0h0.9M431.0 271.6h0.9M430.6 272.7h0.9M430.4 277.8h0.9M430.7 266.0h0.9M430.9 271.4h0.9M429.8 267.6h0.9M431.4 273.5h0.9M429.4 269.1h0.9M431.6 257.1h0.9M432.2 277.0h0.9M429.2 268.5h0.9M431.3 266.8h0.9M432.9 265.0h0.9M430.6 266.8h0.9M433.5 266.2h0.9M429.2 271.1h0.9M432.5 273.1h0.9M427.0 271.0h0.9M427.1 273.2h0.9M431.2 268.0h0.9M433.1 275.4h0.9M434.1 272.1h0.9M428.1 273.8h0.9M429.8 274.9h0.9M429.6 270.0h0.9M424.6 277.1h0.9M431.3 276.1h0.9M429.9 269.9h0.9M432.0 280.9h0.9M429.6 280.0h0.9M430.5 264.5h0.9M430.7 261.0h0.9M430.5 269.0h0.9M431.0 274.4h0.9M428.5 276.3h0.9M436.1 276.3h0.9M430.9 272.0h0.9M427.0 276.2h0.9M430.0 275.5h0.9M433.3 270.4h0.9M431.2 273.1h0.9M428.7 277.0h0.9M429.4 268.7h0.9M429.1 268.7h0.9M428.4 267.6h0.9M428.0 278.8h0.9M430.4 275.3h0.9M428.4 275.8h0.9M434.3 270.9h0.9M431.2 272.1h0.9M428.4 277.7h0.9M430.5 270.7h0.9M432.7 278.3h0.9M426.6 271.3h0.9M430.9 272.0h0.9M435.9 275.8h0.9M431.9 276.5h0.9M426.9 280.1h0.9M430.9 270.5h0.9M428.4 280.0h0.9M437.2 269.6h0.9M429.6 267.7h0.9M431.6 261.3h0.9M428.9 275.9h0.9M425.9 278.6h0.9M424.0 265.1h0.9M430.1 270.5h0.9M431.7 271.1h0.9M430.7 264.5h0.9M431.4 272.6h0.9M431.8 273.8h0.9M432.3 270.0h0.9M427.4 266.6h0.9M433.6 273.3h0.9M431.8 275.3h0.9M433.3 265.7h0.9M430.5 271.6h0.9M429.9 274.8h0.9M431.5 258.6h0.9M431.0 273.8h0.9M431.0 280.6h0.9M430.2 265.8h0.9M431.1 278.6h0.9M429.6 270.5h0.9M431.2 275.2h0.9M430.2 271.3h0.9M433.2 267.0h0.9M436.1 264.7h0.9M428.9 283.5h0.9M430.4 265.6h0.9M429.6 270.7h0.9M430.6 279.1h0.9M429.0 273.4h0.9M432.4 273.3h0.9M432.7 262.7h0.9M432.9 269.5h0.9M430.2 265.6h0.9M429.7 263.2h0.9M428.4 273.6h0.9M430.6 276.2h0.9M429.3 268.1h0.9M432.5 269.3h0.9M425.4 273.4h0.9M428.1 276.1h0.9M430.9 267.0h0.9M425.3 277.0h0.9M428.2 276.4h0.9M427.0 271.6h0.9M431.1 266.8h0.9M429.3 274.7h0.9M431.4 275.7h0.9M427.0 280.2h0.9M427.2 268.6h0.9M427.8 279.5h0.9M431.0 270.5h0.9M430.1 274.7h0.9M430.8 271.7h0.9M433.0 273.0h0.9M428.3 279.0h0.9M430.5 268.8h0.9M427.8 275.8h0.9M429.3 270.6h0.9M432.7 272.4h0.9M431.8 268.9h0.9M424.4 272.1h0.9M434.7 263.1h0.9M426.1 270.1h0.9M428.6 276.8h0.9M431.8 276.5h0.9M432.0 264.4h0.9M432.6 267.0h0.9M432.7 270.5h0.9M429.5 281.2h0.9M427.9 269.6h0.9M431.2 272.2h0.9M429.0 270.7h0.9M424.7 272.6h0.9M430.5 267.7h0.9M431.4 273.6h0.9M430.2 274.5h0.9M429.5 277.1h0.9M435.0 268.6h0.9M430.2 276.6h0.9M430.8 281.7h0.9M430.4 276.1h0.9M433.5 276.1h0.9M431.6 260.3h0.9M431.9 279.0h0.9M432.8 282.1h0.9M428.5 277.9h0.9M432.3 275.0h0.9M426.6 275.6h0.9M428.5 286.7h0.9M432.6 269.0h0.9M428.9 269.9h0.9M425.4 276.8h0.9M430.3 273.4h0.9M431.5 261.7h0.9M430.6 273.3h0.9M430.7 274.0h0.9M433.0 268.0h0.9M433.6 274.6h0.9M431.1 273.5h0.9M428.5 262.9h0.9M431.5 274.9h0.9M429.4 282.7h0.9M429.2 280.7h0.9" stroke="#d6442a" stroke-width="0.9" opacity="0.55"/>
<path d="M426.5 284.6h0.8M426.5 282.8h0.8M430.2 275.0h0.8M429.5 281.6h0.8M427.1 279.0h0.8M427.6 282.2h0.8M432.1 277.1h0.8M428.3 287.9h0.8M431.1 280.0h0.8M427.9 287.3h0.8M431.4 277.8h0.8M427.5 284.6h0.8M428.6 278.8h0.8M426.6 285.7h0.8M426.3 278.1h0.8M429.5 275.0h0.8M427.8 274.7h0.8M429.0 276.7h0.8M429.2 281.8h0.8M429.4 280.9h0.8M430.0 279.9h0.8M428.0 283.5h0.8M428.1 285.9h0.8M432.0 275.7h0.8M428.4 283.3h0.8M427.8 288.6h0.8M425.7 276.2h0.8M427.9 276.8h0.8M430.9 281.3h0.8M427.7 280.0h0.8M427.9 276.9h0.8M431.0 279.4h0.8M426.2 285.4h0.8M430.4 283.3h0.8M429.8 276.1h0.8M429.5 272.4h0.8M426.7 274.3h0.8M431.5 280.5h0.8M426.8 275.7h0.8M427.9 275.6h0.8M430.2 282.5h0.8M427.5 277.9h0.8M430.5 278.0h0.8M429.1 280.2h0.8M427.9 285.1h0.8M427.3 280.3h0.8M427.7 281.9h0.8M429.8 279.8h0.8M426.6 285.3h0.8M431.3 274.7h0.8M430.5 275.0h0.8M430.6 277.5h0.8M428.3 287.5h0.8M429.2 285.7h0.8M430.8 275.1h0.8M431.1 277.8h0.8M429.6 281.7h0.8M429.8 279.8h0.8M427.2 282.6h0.8M426.8 276.9h0.8M430.6 272.8h0.8M430.5 282.1h0.8M426.9 284.1h0.8M427.7 272.8h0.8M429.7 271.7h0.8M430.3 277.7h0.8M432.1 272.2h0.8M428.5 281.0h0.8M428.2 274.4h0.8M428.7 282.3h0.8M430.7 278.2h0.8M429.2 279.9h0.8M430.6 282.3h0.8M428.6 278.4h0.8M431.5 275.6h0.8M431.5 283.5h0.8M428.7 273.2h0.8M426.9 284.7h0.8M430.9 277.2h0.8M435.0 278.2h0.8M429.9 281.1h0.8M429.0 281.0h0.8M431.2 281.8h0.8M430.2 273.5h0.8M427.2 275.4h0.8M427.5 280.5h0.8M431.4 281.3h0.8M426.6 278.5h0.8M426.0 284.1h0.8M430.9 278.9h0.8M428.9 283.2h0.8M430.6 284.1h0.8M427.3 280.5h0.8M428.2 278.4h0.8M428.2 282.2h0.8M426.9 280.8h0.8M428.5 281.8h0.8M429.7 275.9h0.8M430.5 281.5h0.8M428.1 285.7h0.8M428.9 278.2h0.8M430.1 280.1h0.8M431.4 278.8h0.8M430.5 283.2h0.8M431.3 271.3h0.8M427.6 285.7h0.8M428.2 281.3h0.8M427.3 278.1h0.8M429.3 280.5h0.8M428.5 283.9h0.8M431.9 281.4h0.8M429.2 282.2h0.8M429.8 284.4h0.8M431.4 280.5h0.8M425.6 281.8h0.8M427.2 285.1h0.8M428.5 281.6h0.8M430.0 277.0h0.8M426.9 282.2h0.8M429.4 287.8h0.8M431.1 278.4h0.8M429.9 281.4h0.8M430.2 281.4h0.8M426.9 282.6h0.8M431.5 278.2h0.8M428.3 279.2h0.8M424.8 286.6h0.8M429.1 282.2h0.8M430.5 277.1h0.8M427.6 282.4h0.8M426.5 279.2h0.8M426.3 285.2h0.8M430.2 273.0h0.8M425.0 279.1h0.8M430.4 283.7h0.8M431.9 274.7h0.8M429.5 276.5h0.8M430.8 281.7h0.8M429.0 279.6h0.8M427.6 277.9h0.8M430.2 280.9h0.8M431.3 274.1h0.8M428.3 275.9h0.8M425.7 285.9h0.8M428.1 276.6h0.8M431.0 281.5h0.8M428.9 279.2h0.8M433.5 283.7h0.8M428.0 280.6h0.8M430.1 281.2h0.8M429.1 284.2h0.8M428.7 280.7h0.8M431.9 273.0h0.8M428.3 276.6h0.8M428.2 285.1h0.8M426.6 283.3h0.8M425.8 277.9h0.8M430.6 273.2h0.8M427.9 276.3h0.8M425.7 287.3h0.8M429.5 284.4h0.8M428.2 284.2h0.8M431.1 273.2h0.8M433.2 274.6h0.8M430.0 277.2h0.8M431.0 274.2h0.8M427.2 279.6h0.8M431.5 275.4h0.8M430.4 281.6h0.8M427.7 278.3h0.8M430.8 277.4h0.8M429.4 282.1h0.8M428.7 281.2h0.8M429.4 280.0h0.8M433.7 278.7h0.8M428.3 279.1h0.8M430.1 271.8h0.8M430.9 271.8h0.8M429.5 276.7h0.8M426.1 279.5h0.8M429.2 286.6h0.8M430.6 281.3h0.8M433.0 276.1h0.8M428.7 277.4h0.8M428.1 274.1h0.8M430.5 279.5h0.8M427.7 278.8h0.8M429.4 279.3h0.8M428.5 280.4h0.8M428.9 283.6h0.8M428.1 282.0h0.8M431.3 275.1h0.8M427.2 282.5h0.8M434.1 276.2h0.8M430.4 281.2h0.8M428.2 279.6h0.8M426.5 285.8h0.8M429.1 279.0h0.8M428.6 278.9h0.8M428.1 278.1h0.8" stroke="#dc4a2c" stroke-width="0.84" opacity="0.5"/>
<path d="M435.8 269.1h0.8M433.7 267.5h0.8M431.4 258.8h0.8M435.7 259.3h0.8M440.7 261.5h0.8M438.8 267.8h0.8M438.3 271.8h0.8M430.4 275.4h0.8M432.1 265.4h0.8M433.1 279.6h0.8M425.8 274.0h0.8M439.2 280.0h0.8M426.9 261.4h0.8M434.0 272.9h0.8M427.7 276.9h0.8M433.0 254.3h0.8M435.7 275.6h0.8M434.5 271.6h0.8M429.1 275.6h0.8M430.0 269.7h0.8M436.1 277.3h0.8M432.2 265.0h0.8M432.9 264.2h0.8M436.1 274.0h0.8M422.7 274.0h0.8M433.5 257.7h0.8M437.4 277.8h0.8M439.4 277.6h0.8M435.2 276.4h0.8M429.6 262.6h0.8M436.3 278.2h0.8M439.8 272.4h0.8M430.0 275.6h0.8M429.7 267.9h0.8M431.9 264.9h0.8M430.9 262.8h0.8M424.6 263.5h0.8M423.3 275.4h0.8M427.4 262.2h0.8M430.0 263.5h0.8M434.2 270.9h0.8M430.4 266.2h0.8M433.2 252.2h0.8M437.8 263.2h0.8M444.2 265.5h0.8M435.9 281.0h0.8M428.7 273.5h0.8M436.4 260.5h0.8M432.5 259.7h0.8M433.8 264.7h0.8M436.2 270.1h0.8M435.5 262.2h0.8M427.4 271.7h0.8M428.1 257.3h0.8M433.5 270.9h0.8M435.2 277.6h0.8M440.7 247.4h0.8M434.8 268.1h0.8M431.1 270.3h0.8M430.6 271.8h0.8M429.7 269.1h0.8M427.4 267.8h0.8M427.4 270.5h0.8M430.3 269.2h0.8M432.9 269.0h0.8M429.5 280.7h0.8M432.5 276.3h0.8M431.4 275.5h0.8M431.6 263.3h0.8M430.8 264.5h0.8M433.6 276.6h0.8M432.5 260.1h0.8M433.5 257.7h0.8M432.9 285.0h0.8M430.1 278.0h0.8M433.1 264.0h0.8M429.8 264.7h0.8M432.9 252.3h0.8M429.1 267.9h0.8M435.1 277.6h0.8M433.8 273.1h0.8M426.8 266.3h0.8M429.7 284.3h0.8M435.2 272.6h0.8M434.0 271.5h0.8M433.0 266.0h0.8M428.1 272.9h0.8M429.8 288.8h0.8M433.1 271.8h0.8M433.6 255.2h0.8M432.4 270.0h0.8M429.2 283.3h0.8M431.6 277.6h0.8M430.5 264.3h0.8M427.9 271.0h0.8M428.2 256.8h0.8M429.3 273.3h0.8M426.6 261.4h0.8M434.3 264.1h0.8M435.4 263.9h0.8M435.9 262.7h0.8M429.4 281.6h0.8M429.5 279.9h0.8M433.4 266.1h0.8M430.6 269.1h0.8M431.2 281.5h0.8M431.2 266.1h0.8M426.2 264.8h0.8M437.3 261.7h0.8M426.9 280.5h0.8M426.3 269.6h0.8M435.5 268.4h0.8M428.2 265.0h0.8M436.6 261.2h0.8M433.7 275.8h0.8M433.8 262.2h0.8M430.9 264.2h0.8M426.9 255.1h0.8M427.8 259.7h0.8" stroke="#e0452b" stroke-width="0.8" opacity="0.45"/>
<ellipse cx="431.5" cy="266.8" rx="3.74" ry="7.2" fill="#dc532a" transform="rotate(6 431.5 266.8)" opacity="0.75" filter="url(#bl2)"/>
<ellipse cx="432.3" cy="263.3" rx="3.1" ry="4.32" fill="#e6782c" opacity="0.95" filter="url(#bl2)"/>
<ellipse cx="432.6" cy="262.3" rx="2.16" ry="3.06" fill="#efa434" filter="url(#bl2)"/>
<ellipse cx="432.7" cy="262" rx="1.3" ry="1.98" fill="#f4cc40" filter="url(#bl)"/>
<rect x="422.5" y="246.3" width="10" height="13.7" stroke="#b3b3b3" stroke-width="0.9" fill="none"/>
<rect x="435" y="266.8" width="15" height="17.7" stroke="#b3b3b3" stroke-width="0.9" fill="none"/>
<text x="425.5" y="241" font-size="2.6" fill="#444">R1</text>
<text x="456.5" y="270.5" font-size="2.6" fill="#444">R2</text>
<text x="456.5" y="281.8" font-size="4.6" fill="#333">moved</text>
<text x="457.5" y="288.5" font-size="4.6" fill="#333">to 5%</text>
<rect x="216.5" y="235.2" width="64.5" height="64.6" stroke="#231f20" stroke-width="1.4" fill="none"/>
<line x1="213.9" y1="235.2" x2="216.5" y2="235.2" stroke="#231f20" stroke-width="1"/>
<text x="202.8" y="238.6" font-size="6.4" fill="#3a3a3a" textLength="5.4" lengthAdjust="spacingAndGlyphs">10</text>
<text x="208.5" y="235.3" font-size="3.9" fill="#3a3a3a">4</text>
<line x1="213.9" y1="251.35" x2="216.5" y2="251.35" stroke="#231f20" stroke-width="1"/>
<text x="202.8" y="254.75" font-size="6.4" fill="#3a3a3a" textLength="5.4" lengthAdjust="spacingAndGlyphs">10</text>
<text x="208.5" y="251.45" font-size="3.9" fill="#3a3a3a">3</text>
<line x1="213.9" y1="267.5" x2="216.5" y2="267.5" stroke="#231f20" stroke-width="1"/>
<text x="202.8" y="270.9" font-size="6.4" fill="#3a3a3a" textLength="5.4" lengthAdjust="spacingAndGlyphs">10</text>
<text x="208.5" y="267.6" font-size="3.9" fill="#3a3a3a">2</text>
<line x1="213.9" y1="283.65" x2="216.5" y2="283.65" stroke="#231f20" stroke-width="1"/>
<text x="202.8" y="287.05" font-size="6.4" fill="#3a3a3a" textLength="5.4" lengthAdjust="spacingAndGlyphs">10</text>
<text x="208.5" y="283.75" font-size="3.9" fill="#3a3a3a">1</text>
<line x1="213.9" y1="299.8" x2="216.5" y2="299.8" stroke="#231f20" stroke-width="1"/>
<text x="202.8" y="303.2" font-size="6.4" fill="#3a3a3a" textLength="5.4" lengthAdjust="spacingAndGlyphs">10</text>
<text x="208.5" y="299.9" font-size="3.9" fill="#3a3a3a">0</text>
<line x1="216.5" y1="299.8" x2="216.5" y2="302.4" stroke="#231f20" stroke-width="1"/>
<text x="213.3" y="310.6" font-size="6.4" fill="#3a3a3a" textLength="5.4" lengthAdjust="spacingAndGlyphs">10</text>
<text x="219" y="307.3" font-size="3.9" fill="#3a3a3a">0</text>
<line x1="232.62" y1="299.8" x2="232.62" y2="302.4" stroke="#231f20" stroke-width="1"/>
<text x="229.43" y="310.6" font-size="6.4" fill="#3a3a3a" textLength="5.4" lengthAdjust="spacingAndGlyphs">10</text>
<text x="235.13" y="307.3" font-size="3.9" fill="#3a3a3a">1</text>
<line x1="248.75" y1="299.8" x2="248.75" y2="302.4" stroke="#231f20" stroke-width="1"/>
<text x="245.55" y="310.6" font-size="6.4" fill="#3a3a3a" textLength="5.4" lengthAdjust="spacingAndGlyphs">10</text>
<text x="251.25" y="307.3" font-size="3.9" fill="#3a3a3a">2</text>
<line x1="264.88" y1="299.8" x2="264.88" y2="302.4" stroke="#231f20" stroke-width="1"/>
<text x="261.68" y="310.6" font-size="6.4" fill="#3a3a3a" textLength="5.4" lengthAdjust="spacingAndGlyphs">10</text>
<text x="267.38" y="307.3" font-size="3.9" fill="#3a3a3a">3</text>
<line x1="281" y1="299.8" x2="281" y2="302.4" stroke="#231f20" stroke-width="1"/>
<text x="277.8" y="310.6" font-size="6.4" fill="#3a3a3a" textLength="5.4" lengthAdjust="spacingAndGlyphs">10</text>
<text x="283.5" y="307.3" font-size="3.9" fill="#3a3a3a">4</text>
<rect x="319.5" y="235.2" width="64.5" height="64.6" stroke="#231f20" stroke-width="1.4" fill="none"/>
<line x1="316.9" y1="235.2" x2="319.5" y2="235.2" stroke="#231f20" stroke-width="1"/>
<text x="305.8" y="238.6" font-size="6.4" fill="#3a3a3a" textLength="5.4" lengthAdjust="spacingAndGlyphs">10</text>
<text x="311.5" y="235.3" font-size="3.9" fill="#3a3a3a">4</text>
<line x1="316.9" y1="251.35" x2="319.5" y2="251.35" stroke="#231f20" stroke-width="1"/>
<text x="305.8" y="254.75" font-size="6.4" fill="#3a3a3a" textLength="5.4" lengthAdjust="spacingAndGlyphs">10</text>
<text x="311.5" y="251.45" font-size="3.9" fill="#3a3a3a">3</text>
<line x1="316.9" y1="267.5" x2="319.5" y2="267.5" stroke="#231f20" stroke-width="1"/>
<text x="305.8" y="270.9" font-size="6.4" fill="#3a3a3a" textLength="5.4" lengthAdjust="spacingAndGlyphs">10</text>
<text x="311.5" y="267.6" font-size="3.9" fill="#3a3a3a">2</text>
<line x1="316.9" y1="283.65" x2="319.5" y2="283.65" stroke="#231f20" stroke-width="1"/>
<text x="305.8" y="287.05" font-size="6.4" fill="#3a3a3a" textLength="5.4" lengthAdjust="spacingAndGlyphs">10</text>
<text x="311.5" y="283.75" font-size="3.9" fill="#3a3a3a">1</text>
<line x1="316.9" y1="299.8" x2="319.5" y2="299.8" stroke="#231f20" stroke-width="1"/>
<text x="305.8" y="303.2" font-size="6.4" fill="#3a3a3a" textLength="5.4" lengthAdjust="spacingAndGlyphs">10</text>
<text x="311.5" y="299.9" font-size="3.9" fill="#3a3a3a">0</text>
<line x1="319.5" y1="299.8" x2="319.5" y2="302.4" stroke="#231f20" stroke-width="1"/>
<text x="316.3" y="310.6" font-size="6.4" fill="#3a3a3a" textLength="5.4" lengthAdjust="spacingAndGlyphs">10</text>
<text x="322" y="307.3" font-size="3.9" fill="#3a3a3a">0</text>
<line x1="335.62" y1="299.8" x2="335.62" y2="302.4" stroke="#231f20" stroke-width="1"/>
<text x="332.43" y="310.6" font-size="6.4" fill="#3a3a3a" textLength="5.4" lengthAdjust="spacingAndGlyphs">10</text>
<text x="338.12" y="307.3" font-size="3.9" fill="#3a3a3a">1</text>
<line x1="351.75" y1="299.8" x2="351.75" y2="302.4" stroke="#231f20" stroke-width="1"/>
<text x="348.55" y="310.6" font-size="6.4" fill="#3a3a3a" textLength="5.4" lengthAdjust="spacingAndGlyphs">10</text>
<text x="354.25" y="307.3" font-size="3.9" fill="#3a3a3a">2</text>
<line x1="367.88" y1="299.8" x2="367.88" y2="302.4" stroke="#231f20" stroke-width="1"/>
<text x="364.68" y="310.6" font-size="6.4" fill="#3a3a3a" textLength="5.4" lengthAdjust="spacingAndGlyphs">10</text>
<text x="370.38" y="307.3" font-size="3.9" fill="#3a3a3a">3</text>
<line x1="384" y1="299.8" x2="384" y2="302.4" stroke="#231f20" stroke-width="1"/>
<text x="380.8" y="310.6" font-size="6.4" fill="#3a3a3a" textLength="5.4" lengthAdjust="spacingAndGlyphs">10</text>
<text x="386.5" y="307.3" font-size="3.9" fill="#3a3a3a">4</text>
<rect x="422.5" y="234.8" width="64.5" height="64.5" stroke="#231f20" stroke-width="1.4" fill="none"/>
<line x1="419.9" y1="234.8" x2="422.5" y2="234.8" stroke="#231f20" stroke-width="1"/>
<text x="408.8" y="238.2" font-size="6.4" fill="#3a3a3a" textLength="5.4" lengthAdjust="spacingAndGlyphs">10</text>
<text x="414.5" y="234.9" font-size="3.9" fill="#3a3a3a">4</text>
<line x1="419.9" y1="250.93" x2="422.5" y2="250.93" stroke="#231f20" stroke-width="1"/>
<text x="408.8" y="254.33" font-size="6.4" fill="#3a3a3a" textLength="5.4" lengthAdjust="spacingAndGlyphs">10</text>
<text x="414.5" y="251.03" font-size="3.9" fill="#3a3a3a">3</text>
<line x1="419.9" y1="267.05" x2="422.5" y2="267.05" stroke="#231f20" stroke-width="1"/>
<text x="408.8" y="270.45" font-size="6.4" fill="#3a3a3a" textLength="5.4" lengthAdjust="spacingAndGlyphs">10</text>
<text x="414.5" y="267.15" font-size="3.9" fill="#3a3a3a">2</text>
<line x1="419.9" y1="283.18" x2="422.5" y2="283.18" stroke="#231f20" stroke-width="1"/>
<text x="408.8" y="286.57" font-size="6.4" fill="#3a3a3a" textLength="5.4" lengthAdjust="spacingAndGlyphs">10</text>
<text x="414.5" y="283.27" font-size="3.9" fill="#3a3a3a">1</text>
<line x1="419.9" y1="299.3" x2="422.5" y2="299.3" stroke="#231f20" stroke-width="1"/>
<text x="408.8" y="302.7" font-size="6.4" fill="#3a3a3a" textLength="5.4" lengthAdjust="spacingAndGlyphs">10</text>
<text x="414.5" y="299.4" font-size="3.9" fill="#3a3a3a">0</text>
<line x1="422.5" y1="299.3" x2="422.5" y2="301.9" stroke="#231f20" stroke-width="1"/>
<text x="419.3" y="310.6" font-size="6.4" fill="#3a3a3a" textLength="5.4" lengthAdjust="spacingAndGlyphs">10</text>
<text x="425" y="307.3" font-size="3.9" fill="#3a3a3a">0</text>
<line x1="438.62" y1="299.3" x2="438.62" y2="301.9" stroke="#231f20" stroke-width="1"/>
<text x="435.43" y="310.6" font-size="6.4" fill="#3a3a3a" textLength="5.4" lengthAdjust="spacingAndGlyphs">10</text>
<text x="441.12" y="307.3" font-size="3.9" fill="#3a3a3a">1</text>
<line x1="454.75" y1="299.3" x2="454.75" y2="301.9" stroke="#231f20" stroke-width="1"/>
<text x="451.55" y="310.6" font-size="6.4" fill="#3a3a3a" textLength="5.4" lengthAdjust="spacingAndGlyphs">10</text>
<text x="457.25" y="307.3" font-size="3.9" fill="#3a3a3a">2</text>
<line x1="470.88" y1="299.3" x2="470.88" y2="301.9" stroke="#231f20" stroke-width="1"/>
<text x="467.68" y="310.6" font-size="6.4" fill="#3a3a3a" textLength="5.4" lengthAdjust="spacingAndGlyphs">10</text>
<text x="473.38" y="307.3" font-size="3.9" fill="#3a3a3a">3</text>
<line x1="487" y1="299.3" x2="487" y2="301.9" stroke="#231f20" stroke-width="1"/>
<text x="483.8" y="310.6" font-size="6.4" fill="#3a3a3a" textLength="5.4" lengthAdjust="spacingAndGlyphs">10</text>
<text x="489.5" y="307.3" font-size="3.9" fill="#3a3a3a">4</text>
<path d="M228,403 L228,403 L228.5,403 L229,403 L229.5,403 L230,403 L230.5,403 L231,403 L231.5,403 L232,403 L232.5,403 L233,403 L233.5,403 L234,402.83 L234.5,402.75 L235,402.68 L235.5,402.52 L236,402.35 L236.5,402.11 L237,401.94 L237.5,401.5 L238,401.31 L238.5,400.83 L239,400.1 L239.5,399.33 L240,398.95 L240.5,398.09 L241,396.22 L241.5,395.45 L242,392.89 L242.5,391.7 L243,389.98 L243.5,388.2 L244,385.6 L244.5,384.74 L245,381.38 L245.5,381.63 L246,379.67 L246.5,379.04 L247,376.4 L247.5,376.41 L248,377.88 L248.5,376.4 L249,378.45 L249.5,379.2 L250,379.85 L250.5,379.67 L251,383.67 L251.5,384.42 L252,386.77 L252.5,389.81 L253,389.55 L253.5,391.02 L254,393.3 L254.5,394.51 L255,396.38 L255.5,397.39 L256,397.93 L256.5,398.5 L257,399.52 L257.5,400.01 L258,400.47 L258.5,401.06 L259,401.4 L259.5,401.67 L260,402.11 L260.5,402.21 L261,402.48 L261.5,402.54 L262,402.65 L262,403 Z" fill="#bddba6" stroke="none" stroke-width="1"/>
<path d="M228,403 L228,403 L228.5,403 L229,402.82 L229.5,402.75 L230,402.66 L230.5,402.53 L231,402.36 L231.5,402.14 L232,401.85 L232.5,401.47 L233,401 L233.5,400.4 L234,399.66 L234.5,398.75 L235,397.65 L235.5,396.34 L236,394.8 L236.5,393.01 L237,390.98 L237.5,388.7 L238,386.2 L238.5,383.51 L239,380.68 L239.5,377.79 L240,374.93 L240.5,372.21 L241,369.79 L241.5,367.82 L242,366.51 L242.5,366.35 L243,367.43 L243.5,369.2 L244,371.45 L244.5,374.01 L245,376.75 L245.5,379.56 L246,382.34 L246.5,385.02 L247,387.54 L247.5,389.86 L248,391.95 L248.5,393.82 L249,395.45 L249.5,396.86 L250,398.05 L250.5,399.06 L251,399.89 L251.5,400.57 L252,401.11 L252.5,401.55 L253,401.9 L253.5,402.17 L254,402.38 L254.5,402.54 L255,402.66 L255.5,402.76 L256,402.82 L256.5,403 L257,403 L257.5,403 L258,403 L258.5,403 L259,403 L259.5,403 L260,403 L260.5,403 L261,403 L261.5,403 L262,403 L262,403 Z" fill="#eaa595" stroke="none" stroke-width="1"/>
<path d="M228,403 L228,403 L228.5,403 L229,403 L229.5,403 L230,403 L230.5,403 L231,403 L231.5,403 L232,403 L232.5,403 L233,403 L233.5,403 L234,402.83 L234.5,402.75 L235,402.68 L235.5,402.52 L236,402.35 L236.5,402.11 L237,401.94 L237.5,401.5 L238,401.31 L238.5,400.83 L239,400.1 L239.5,399.33 L240,398.95 L240.5,398.09 L241,396.22 L241.5,395.45 L242,392.89 L242.5,391.7 L243,389.98 L243.5,388.2 L244,385.6 L244.5,384.74 L245,381.38 L245.5,381.63 L246,382.34 L246.5,385.02 L247,387.54 L247.5,389.86 L248,391.95 L248.5,393.82 L249,395.45 L249.5,396.86 L250,398.05 L250.5,399.06 L251,399.89 L251.5,400.57 L252,401.11 L252.5,401.55 L253,401.9 L253.5,402.17 L254,402.38 L254.5,402.54 L255,402.66 L255.5,402.76 L256,402.82 L256.5,403 L257,403 L257.5,403 L258,403 L258.5,403 L259,403 L259.5,403 L260,403 L260.5,403 L261,403 L261.5,403 L262,403 L262,403 Z" fill="#c48c6e" stroke="none" stroke-width="1"/>
<path d="M233.5,403 L234,402.83 L234.5,402.75 L235,402.68 L235.5,402.52 L236,402.35 L236.5,402.11 L237,401.94 L237.5,401.5 L238,401.31 L238.5,400.83 L239,400.1 L239.5,399.33 L240,398.95 L240.5,398.09 L241,396.22 L241.5,395.45 L242,392.89 L242.5,391.7 L243,389.98 L243.5,388.2 L244,385.6 L244.5,384.74 L245,381.38 L245.5,381.63 L246,379.67 L246.5,379.04 L247,376.4 L247.5,376.41 L248,377.88 L248.5,376.4 L249,378.45 L249.5,379.2 L250,379.85 L250.5,379.67 L251,383.67 L251.5,384.42 L252,386.77 L252.5,389.81 L253,389.55 L253.5,391.02 L254,393.3 L254.5,394.51 L255,396.38 L255.5,397.39 L256,397.93 L256.5,398.5 L257,399.52 L257.5,400.01 L258,400.47 L258.5,401.06 L259,401.4 L259.5,401.67 L260,402.11 L260.5,402.21 L261,402.48 L261.5,402.54 L262,402.65 L262,403" fill="none" stroke="#7db45c" stroke-width="0.6"/>
<path d="M228.5,403 L229,402.82 L229.5,402.75 L230,402.66 L230.5,402.53 L231,402.36 L231.5,402.14 L232,401.85 L232.5,401.47 L233,401 L233.5,400.4 L234,399.66 L234.5,398.75 L235,397.65 L235.5,396.34 L236,394.8 L236.5,393.01 L237,390.98 L237.5,388.7 L238,386.2 L238.5,383.51 L239,380.68 L239.5,377.79 L240,374.93 L240.5,372.21 L241,369.79 L241.5,367.82 L242,366.51 L242.5,366.35 L243,367.43 L243.5,369.2 L244,371.45 L244.5,374.01 L245,376.75 L245.5,379.56 L246,382.34 L246.5,385.02 L247,387.54 L247.5,389.86 L248,391.95 L248.5,393.82 L249,395.45 L249.5,396.86 L250,398.05 L250.5,399.06 L251,399.89 L251.5,400.57 L252,401.11 L252.5,401.55 L253,401.9 L253.5,402.17 L254,402.38 L254.5,402.54 L255,402.66 L255.5,402.76 L256,402.82 L256.5,403" fill="none" stroke="#e0705e" stroke-width="0.8"/>
<path d="M330,403 L330,403 L330.5,403 L331,403 L331.5,403 L332,403 L332.5,403 L333,403 L333.5,403 L334,403 L334.5,403 L335,403 L335.5,403 L336,403 L336.5,403 L337,402.79 L337.5,402.68 L338,402.64 L338.5,402.45 L339,402.36 L339.5,402.08 L340,401.85 L340.5,401.18 L341,400.89 L341.5,399.8 L342,398.99 L342.5,398.15 L343,398.43 L343.5,395.94 L344,394.06 L344.5,392.21 L345,392.41 L345.5,389.24 L346,388.16 L346.5,386.03 L347,380.44 L347.5,382.61 L348,379.36 L348.5,377.2 L349,378.85 L349.5,377.56 L350,377.59 L350.5,378.77 L351,383.11 L351.5,381.84 L352,381.24 L352.5,388.45 L353,386.43 L353.5,389.5 L354,392.24 L354.5,391.25 L355,394.15 L355.5,397 L356,397.37 L356.5,398.22 L357,399.45 L357.5,399.95 L358,400.78 L358.5,401.16 L359,401.5 L359.5,402.08 L360,402.25 L360.5,402.48 L361,402.6 L361.5,402.75 L362,402.81 L362,403 Z" fill="#bddba6" stroke="none" stroke-width="1"/>
<path d="M330,403 L330,402.79 L330.5,402.71 L331,402.6 L331.5,402.47 L332,402.29 L332.5,402.06 L333,401.77 L333.5,401.4 L334,400.93 L334.5,400.36 L335,399.65 L335.5,398.8 L336,397.78 L336.5,396.57 L337,395.16 L337.5,393.54 L338,391.69 L338.5,389.63 L339,387.36 L339.5,384.9 L340,382.29 L340.5,379.59 L341,376.86 L341.5,374.19 L342,371.69 L342.5,369.46 L343,367.67 L343.5,366.48 L344,366.36 L344.5,367.49 L345,369.35 L345.5,371.7 L346,374.37 L346.5,377.21 L347,380.1 L347.5,382.95 L348,385.68 L348.5,388.22 L349,390.54 L349.5,392.63 L350,394.46 L350.5,396.05 L351,397.4 L351.5,398.54 L352,399.49 L352.5,400.26 L353,400.89 L353.5,401.38 L354,401.78 L354.5,402.08 L355,402.32 L355.5,402.5 L356,402.64 L356.5,402.74 L357,402.81 L357.5,403 L358,403 L358.5,403 L359,403 L359.5,403 L360,403 L360.5,403 L361,403 L361.5,403 L362,403 L362,403 Z" fill="#eaa595" stroke="none" stroke-width="1"/>
<path d="M330,403 L330,403 L330.5,403 L331,403 L331.5,403 L332,403 L332.5,403 L333,403 L333.5,403 L334,403 L334.5,403 L335,403 L335.5,403 L336,403 L336.5,403 L337,402.79 L337.5,402.68 L338,402.64 L338.5,402.45 L339,402.36 L339.5,402.08 L340,401.85 L340.5,401.18 L341,400.89 L341.5,399.8 L342,398.99 L342.5,398.15 L343,398.43 L343.5,395.94 L344,394.06 L344.5,392.21 L345,392.41 L345.5,389.24 L346,388.16 L346.5,386.03 L347,380.44 L347.5,382.95 L348,385.68 L348.5,388.22 L349,390.54 L349.5,392.63 L350,394.46 L350.5,396.05 L351,397.4 L351.5,398.54 L352,399.49 L352.5,400.26 L353,400.89 L353.5,401.38 L354,401.78 L354.5,402.08 L355,402.32 L355.5,402.5 L356,402.64 L356.5,402.74 L357,402.81 L357.5,403 L358,403 L358.5,403 L359,403 L359.5,403 L360,403 L360.5,403 L361,403 L361.5,403 L362,403 L362,403 Z" fill="#c48c6e" stroke="none" stroke-width="1"/>
<path d="M336.5,403 L337,402.79 L337.5,402.68 L338,402.64 L338.5,402.45 L339,402.36 L339.5,402.08 L340,401.85 L340.5,401.18 L341,400.89 L341.5,399.8 L342,398.99 L342.5,398.15 L343,398.43 L343.5,395.94 L344,394.06 L344.5,392.21 L345,392.41 L345.5,389.24 L346,388.16 L346.5,386.03 L347,380.44 L347.5,382.61 L348,379.36 L348.5,377.2 L349,378.85 L349.5,377.56 L350,377.59 L350.5,378.77 L351,383.11 L351.5,381.84 L352,381.24 L352.5,388.45 L353,386.43 L353.5,389.5 L354,392.24 L354.5,391.25 L355,394.15 L355.5,397 L356,397.37 L356.5,398.22 L357,399.45 L357.5,399.95 L358,400.78 L358.5,401.16 L359,401.5 L359.5,402.08 L360,402.25 L360.5,402.48 L361,402.6 L361.5,402.75 L362,402.81 L362,403" fill="none" stroke="#7db45c" stroke-width="0.6"/>
<path d="M330,403 L330,402.79 L330.5,402.71 L331,402.6 L331.5,402.47 L332,402.29 L332.5,402.06 L333,401.77 L333.5,401.4 L334,400.93 L334.5,400.36 L335,399.65 L335.5,398.8 L336,397.78 L336.5,396.57 L337,395.16 L337.5,393.54 L338,391.69 L338.5,389.63 L339,387.36 L339.5,384.9 L340,382.29 L340.5,379.59 L341,376.86 L341.5,374.19 L342,371.69 L342.5,369.46 L343,367.67 L343.5,366.48 L344,366.36 L344.5,367.49 L345,369.35 L345.5,371.7 L346,374.37 L346.5,377.21 L347,380.1 L347.5,382.95 L348,385.68 L348.5,388.22 L349,390.54 L349.5,392.63 L350,394.46 L350.5,396.05 L351,397.4 L351.5,398.54 L352,399.49 L352.5,400.26 L353,400.89 L353.5,401.38 L354,401.78 L354.5,402.08 L355,402.32 L355.5,402.5 L356,402.64 L356.5,402.74 L357,402.81 L357.5,403" fill="none" stroke="#e0705e" stroke-width="0.8"/>
<path d="M430,403 L430,403 L430.5,402.82 L431,402.76 L431.5,402.64 L432,402.64 L432.5,402.36 L433,402.25 L433.5,401.79 L434,401.44 L434.5,400.93 L435,400.57 L435.5,400.25 L436,399.23 L436.5,398.07 L437,398.33 L437.5,396.47 L438,395.78 L438.5,392.96 L439,393.99 L439.5,391.82 L440,389.11 L440.5,387.4 L441,389.32 L441.5,383.2 L442,382.37 L442.5,380.82 L443,378.81 L443.5,376.01 L444,381.31 L444.5,373 L445,376.39 L445.5,381.07 L446,373.58 L446.5,373 L447,376.75 L447.5,373 L448,373.07 L448.5,381.87 L449,387.63 L449.5,385.95 L450,382.21 L450.5,388.21 L451,391.02 L451.5,392.12 L452,391.62 L452.5,393.12 L453,393.54 L453.5,394.79 L454,397.46 L454.5,397.84 L455,399.2 L455.5,399.31 L456,400.4 L456.5,400.89 L457,400.49 L457.5,401.38 L458,401.61 L458.5,401.66 L459,402.11 L459.5,402.37 L460,402.5 L460.5,402.65 L461,402.67 L461.5,402.79 L462,402.8 L462,403 Z" fill="#bddba6" stroke="none" stroke-width="1"/>
<path d="M430,403 L430,403 L430.5,403 L431,403 L431.5,403 L432,403 L432.5,402.84 L433,402.77 L433.5,402.69 L434,402.57 L434.5,402.42 L435,402.22 L435.5,401.96 L436,401.63 L436.5,401.21 L437,400.69 L437.5,400.03 L438,399.24 L438.5,398.27 L439,397.11 L439.5,395.75 L440,394.16 L440.5,392.35 L441,390.29 L441.5,388.02 L442,385.54 L442.5,382.89 L443,380.12 L443.5,377.31 L444,374.55 L444.5,371.94 L445,369.62 L445.5,367.74 L446,366.5 L446.5,366.33 L447,367.32 L447.5,368.94 L448,371 L448.5,373.36 L449,375.92 L449.5,378.56 L450,381.21 L450.5,383.78 L451,386.24 L451.5,388.54 L452,390.65 L452.5,392.56 L453,394.26 L453.5,395.75 L454,397.04 L454.5,398.15 L455,399.09 L455.5,399.87 L456,400.52 L456.5,401.05 L457,401.48 L457.5,401.82 L458,402.1 L458.5,402.31 L459,402.48 L459.5,402.61 L460,402.71 L460.5,402.79 L461,402.84 L461.5,403 L462,403 L462,403 Z" fill="#eaa595" stroke="none" stroke-width="1"/>
<path d="M430,403 L430,403 L430.5,403 L431,403 L431.5,403 L432,403 L432.5,402.84 L433,402.77 L433.5,402.69 L434,402.57 L434.5,402.42 L435,402.22 L435.5,401.96 L436,401.63 L436.5,401.21 L437,400.69 L437.5,400.03 L438,399.24 L438.5,398.27 L439,397.11 L439.5,395.75 L440,394.16 L440.5,392.35 L441,390.29 L441.5,388.02 L442,385.54 L442.5,382.89 L443,380.12 L443.5,377.31 L444,381.31 L444.5,373 L445,376.39 L445.5,381.07 L446,373.58 L446.5,373 L447,376.75 L447.5,373 L448,373.07 L448.5,381.87 L449,387.63 L449.5,385.95 L450,382.21 L450.5,388.21 L451,391.02 L451.5,392.12 L452,391.62 L452.5,393.12 L453,394.26 L453.5,395.75 L454,397.46 L454.5,398.15 L455,399.2 L455.5,399.87 L456,400.52 L456.5,401.05 L457,401.48 L457.5,401.82 L458,402.1 L458.5,402.31 L459,402.48 L459.5,402.61 L460,402.71 L460.5,402.79 L461,402.84 L461.5,403 L462,403 L462,403 Z" fill="#c48c6e" stroke="none" stroke-width="1"/>
<path d="M430,403 L430.5,402.82 L431,402.76 L431.5,402.64 L432,402.64 L432.5,402.36 L433,402.25 L433.5,401.79 L434,401.44 L434.5,400.93 L435,400.57 L435.5,400.25 L436,399.23 L436.5,398.07 L437,398.33 L437.5,396.47 L438,395.78 L438.5,392.96 L439,393.99 L439.5,391.82 L440,389.11 L440.5,387.4 L441,389.32 L441.5,383.2 L442,382.37 L442.5,380.82 L443,378.81 L443.5,376.01 L444,381.31 L444.5,373 L445,376.39 L445.5,381.07 L446,373.58 L446.5,373 L447,376.75 L447.5,373 L448,373.07 L448.5,381.87 L449,387.63 L449.5,385.95 L450,382.21 L450.5,388.21 L451,391.02 L451.5,392.12 L452,391.62 L452.5,393.12 L453,393.54 L453.5,394.79 L454,397.46 L454.5,397.84 L455,399.2 L455.5,399.31 L456,400.4 L456.5,400.89 L457,400.49 L457.5,401.38 L458,401.61 L458.5,401.66 L459,402.11 L459.5,402.37 L460,402.5 L460.5,402.65 L461,402.67 L461.5,402.79 L462,402.8 L462,403" fill="none" stroke="#7db45c" stroke-width="0.6"/>
<path d="M432,403 L432.5,402.84 L433,402.77 L433.5,402.69 L434,402.57 L434.5,402.42 L435,402.22 L435.5,401.96 L436,401.63 L436.5,401.21 L437,400.69 L437.5,400.03 L438,399.24 L438.5,398.27 L439,397.11 L439.5,395.75 L440,394.16 L440.5,392.35 L441,390.29 L441.5,388.02 L442,385.54 L442.5,382.89 L443,380.12 L443.5,377.31 L444,374.55 L444.5,371.94 L445,369.62 L445.5,367.74 L446,366.5 L446.5,366.33 L447,367.32 L447.5,368.94 L448,371 L448.5,373.36 L449,375.92 L449.5,378.56 L450,381.21 L450.5,383.78 L451,386.24 L451.5,388.54 L452,390.65 L452.5,392.56 L453,394.26 L453.5,395.75 L454,397.04 L454.5,398.15 L455,399.09 L455.5,399.87 L456,400.52 L456.5,401.05 L457,401.48 L457.5,401.82 L458,402.1 L458.5,402.31 L459,402.48 L459.5,402.61 L460,402.71 L460.5,402.79 L461,402.84 L461.5,403" fill="none" stroke="#e0705e" stroke-width="0.8"/>
<rect x="216.7" y="347" width="56.9" height="56.2" stroke="#231f20" stroke-width="1.4" fill="none"/>
<line x1="213.9" y1="347" x2="216.7" y2="347" stroke="#231f20" stroke-width="1"/>
<text x="210" y="349.3" font-size="6.6" fill="#333" text-anchor="end" textLength="9.45" lengthAdjust="spacingAndGlyphs">243</text>
<line x1="213.9" y1="361.05" x2="216.7" y2="361.05" stroke="#231f20" stroke-width="1"/>
<text x="210" y="363.35" font-size="6.6" fill="#333" text-anchor="end" textLength="9.45" lengthAdjust="spacingAndGlyphs">182</text>
<line x1="213.9" y1="375.1" x2="216.7" y2="375.1" stroke="#231f20" stroke-width="1"/>
<text x="210" y="377.4" font-size="6.6" fill="#333" text-anchor="end" textLength="9.45" lengthAdjust="spacingAndGlyphs">121</text>
<line x1="213.9" y1="389.15" x2="216.7" y2="389.15" stroke="#231f20" stroke-width="1"/>
<text x="210" y="391.45" font-size="6.6" fill="#333" text-anchor="end" textLength="6.3" lengthAdjust="spacingAndGlyphs">60</text>
<line x1="213.9" y1="403.2" x2="216.7" y2="403.2" stroke="#231f20" stroke-width="1"/>
<text x="210" y="405.5" font-size="6.6" fill="#333" text-anchor="end" textLength="3.15" lengthAdjust="spacingAndGlyphs">0</text>
<line x1="216.7" y1="403.2" x2="216.7" y2="405.8" stroke="#231f20" stroke-width="1"/>
<text x="213.5" y="414.1" font-size="6.4" fill="#3a3a3a" textLength="5.4" lengthAdjust="spacingAndGlyphs">10</text>
<text x="219.2" y="410.8" font-size="3.9" fill="#3a3a3a">0</text>
<line x1="253.8" y1="403.2" x2="253.8" y2="405.8" stroke="#231f20" stroke-width="1"/>
<text x="250.6" y="414.1" font-size="6.4" fill="#3a3a3a" textLength="5.4" lengthAdjust="spacingAndGlyphs">10</text>
<text x="256.3" y="410.8" font-size="3.9" fill="#3a3a3a">1</text>
<text stroke="#231f20" x="195.3" y="387.8" font-size="9.2" textLength="25.4" lengthAdjust="spacingAndGlyphs" transform="rotate(-90 195.3 387.8)">Counts</text>
<rect x="320" y="347" width="56.3" height="56.2" stroke="#231f20" stroke-width="1.4" fill="none"/>
<line x1="317.2" y1="347" x2="320" y2="347" stroke="#231f20" stroke-width="1"/>
<text x="313.3" y="349.3" font-size="6.6" fill="#333" text-anchor="end" textLength="9.45" lengthAdjust="spacingAndGlyphs">213</text>
<line x1="317.2" y1="361.05" x2="320" y2="361.05" stroke="#231f20" stroke-width="1"/>
<text x="313.3" y="363.35" font-size="6.6" fill="#333" text-anchor="end" textLength="9.45" lengthAdjust="spacingAndGlyphs">159</text>
<line x1="317.2" y1="375.1" x2="320" y2="375.1" stroke="#231f20" stroke-width="1"/>
<text x="313.3" y="377.4" font-size="6.6" fill="#333" text-anchor="end" textLength="9.45" lengthAdjust="spacingAndGlyphs">106</text>
<line x1="317.2" y1="389.15" x2="320" y2="389.15" stroke="#231f20" stroke-width="1"/>
<text x="313.3" y="391.45" font-size="6.6" fill="#333" text-anchor="end" textLength="6.3" lengthAdjust="spacingAndGlyphs">53</text>
<line x1="317.2" y1="403.2" x2="320" y2="403.2" stroke="#231f20" stroke-width="1"/>
<text x="313.3" y="405.5" font-size="6.6" fill="#333" text-anchor="end" textLength="3.15" lengthAdjust="spacingAndGlyphs">0</text>
<line x1="320" y1="403.2" x2="320" y2="405.8" stroke="#231f20" stroke-width="1"/>
<text x="316.8" y="414.1" font-size="6.4" fill="#3a3a3a" textLength="5.4" lengthAdjust="spacingAndGlyphs">10</text>
<text x="322.5" y="410.8" font-size="3.9" fill="#3a3a3a">0</text>
<line x1="360.8" y1="403.2" x2="360.8" y2="405.8" stroke="#231f20" stroke-width="1"/>
<text x="357.6" y="414.1" font-size="6.4" fill="#3a3a3a" textLength="5.4" lengthAdjust="spacingAndGlyphs">10</text>
<text x="363.3" y="410.8" font-size="3.9" fill="#3a3a3a">1</text>
<text stroke="#231f20" x="298.6" y="387.8" font-size="9.2" textLength="25.4" lengthAdjust="spacingAndGlyphs" transform="rotate(-90 298.6 387.8)">Counts</text>
<rect x="422.5" y="347" width="57" height="56.2" stroke="#231f20" stroke-width="1.4" fill="none"/>
<line x1="419.7" y1="347" x2="422.5" y2="347" stroke="#231f20" stroke-width="1"/>
<text x="415.8" y="349.3" font-size="6.6" fill="#333" text-anchor="end" textLength="9.45" lengthAdjust="spacingAndGlyphs">195</text>
<line x1="419.7" y1="361.05" x2="422.5" y2="361.05" stroke="#231f20" stroke-width="1"/>
<text x="415.8" y="363.35" font-size="6.6" fill="#333" text-anchor="end" textLength="9.45" lengthAdjust="spacingAndGlyphs">145</text>
<line x1="419.7" y1="375.1" x2="422.5" y2="375.1" stroke="#231f20" stroke-width="1"/>
<text x="415.8" y="377.4" font-size="6.6" fill="#333" text-anchor="end" textLength="6.3" lengthAdjust="spacingAndGlyphs">97</text>
<line x1="419.7" y1="389.15" x2="422.5" y2="389.15" stroke="#231f20" stroke-width="1"/>
<text x="415.8" y="391.45" font-size="6.6" fill="#333" text-anchor="end" textLength="6.3" lengthAdjust="spacingAndGlyphs">48</text>
<line x1="419.7" y1="403.2" x2="422.5" y2="403.2" stroke="#231f20" stroke-width="1"/>
<text x="415.8" y="405.5" font-size="6.6" fill="#333" text-anchor="end" textLength="3.15" lengthAdjust="spacingAndGlyphs">0</text>
<line x1="422.5" y1="403.2" x2="422.5" y2="405.8" stroke="#231f20" stroke-width="1"/>
<text x="419.3" y="414.1" font-size="6.4" fill="#3a3a3a" textLength="5.4" lengthAdjust="spacingAndGlyphs">10</text>
<text x="425" y="410.8" font-size="3.9" fill="#3a3a3a">0</text>
<line x1="462.5" y1="403.2" x2="462.5" y2="405.8" stroke="#231f20" stroke-width="1"/>
<text x="459.3" y="414.1" font-size="6.4" fill="#3a3a3a" textLength="5.4" lengthAdjust="spacingAndGlyphs">10</text>
<text x="465" y="410.8" font-size="3.9" fill="#3a3a3a">1</text>
<text stroke="#231f20" x="401.1" y="387.8" font-size="9.2" textLength="25.4" lengthAdjust="spacingAndGlyphs" transform="rotate(-90 401.1 387.8)">Counts</text>
<line x1="248" y1="368" x2="266.9" y2="368" stroke="#333" stroke-width="1.1"/>
<line x1="248" y1="365.8" x2="248" y2="370.2" stroke="#333" stroke-width="0.9"/>
<text x="258.2" y="363.8" font-size="4.8" fill="#333" text-anchor="middle">16%</text>
<line x1="351.3" y1="368.8" x2="369.5" y2="368.8" stroke="#333" stroke-width="1.1"/>
<line x1="351.3" y1="366.6" x2="351.3" y2="371" stroke="#333" stroke-width="0.9"/>
<text x="360.5" y="363" font-size="4.8" fill="#333" text-anchor="middle">9.7%</text>
<line x1="453" y1="368" x2="471.3" y2="368" stroke="#333" stroke-width="1.1"/>
<line x1="453" y1="365.8" x2="453" y2="370.2" stroke="#333" stroke-width="0.9"/>
<text x="462.5" y="364" font-size="4.8" fill="#333" text-anchor="middle">1.0%</text>
<line x1="217" y1="262.5" x2="235.56" y2="364.96" stroke="#231f20" stroke-width="1.1"/>
<path d="M236.2,368.5 L232.77,363.02 L235.43,364.25 L237.49,362.17 Z" fill="#231f20"/>
<line x1="246.3" y1="291.3" x2="246.3" y2="357.2" stroke="#231f20" stroke-width="1.1"/>
<path d="M246.3,360.8 L243.9,354.8 L246.3,356.48 L248.7,354.8 Z" fill="#231f20"/>
<line x1="319.5" y1="261.3" x2="339.34" y2="367.76" stroke="#231f20" stroke-width="1.1"/>
<path d="M340,371.3 L336.54,365.84 L339.21,367.05 L341.26,364.96 Z" fill="#231f20"/>
<line x1="349.3" y1="290" x2="349.11" y2="356.4" stroke="#231f20" stroke-width="1.1"/>
<path d="M349.1,360 L346.72,353.99 L349.11,355.68 L351.52,354.01 Z" fill="#231f20"/>
<line x1="422.5" y1="260" x2="441.86" y2="367.26" stroke="#231f20" stroke-width="1.1"/>
<path d="M442.5,370.8 L439.07,365.32 L441.73,366.55 L443.8,364.47 Z" fill="#231f20"/>
<line x1="449.3" y1="284.5" x2="449.3" y2="356.4" stroke="#231f20" stroke-width="1.1"/>
<path d="M449.3,360 L446.9,354 L449.3,355.68 L451.7,354 Z" fill="#231f20"/>
<text stroke="#231f20" x="8.7" y="444.6" font-size="11">C</text>
<text stroke="#231f20" x="105.2" y="441.8" font-size="9" textLength="80.4" lengthAdjust="spacingAndGlyphs">AID expression (MFI) in</text>
<text stroke="#231f20" x="117.3" y="451.6" font-size="9" textLength="57.1" lengthAdjust="spacingAndGlyphs">IgM<tspan font-size="5" dy="-3">+</tspan><tspan dy="3">/ IgG</tspan><tspan font-size="5" dy="-3">+</tspan><tspan dy="3"> cells</tspan></text>
<text stroke="#231f20" x="48.3" y="464.4" font-size="8.6" textLength="40.5" lengthAdjust="spacingAndGlyphs">Pre-treated</text>
<text stroke="#231f20" x="117.3" y="464.3" font-size="8.6" textLength="57.4" lengthAdjust="spacingAndGlyphs">Ibrutinib 1 week</text>
<text stroke="#231f20" x="192.3" y="464.3" font-size="8.6" textLength="61.5" lengthAdjust="spacingAndGlyphs">Ibrutinib 4 weeks</text>
<line x1="19.1" y1="545.3" x2="19.1" y2="475.8" stroke="#231f20" stroke-width="1.3"/>
<path d="M19.1,470.7 L22.7,479.2 L19.1,476.82 L15.5,479.2 Z" fill="#231f20"/>
<line x1="19.1" y1="545.3" x2="245.5" y2="545.3" stroke="#231f20" stroke-width="1.3"/>
<path d="M250.6,545.3 L242.1,548.9 L244.48,545.3 L242.1,541.7 Z" fill="#231f20"/>
<text stroke="#231f20" x="14.6" y="515.2" font-size="9.2" textLength="14.6" lengthAdjust="spacingAndGlyphs" transform="rotate(-90 14.6 515.2)">IgM</text>
<text stroke="#231f20" x="128.6" y="555.7" font-size="9.2" textLength="12.4" lengthAdjust="spacingAndGlyphs">IgG</text>
<path d="M58.0 492.2h0.8M58.8 488.6h0.8M50.9 498.9h0.8M57.9 489.6h0.8M58.7 500.7h0.8M46.1 489.3h0.8M63.1 499.9h0.8M59.5 491.5h0.8M53.1 491.9h0.8M59.0 494.7h0.8M63.1 495.2h0.8M60.7 493.7h0.8M60.3 497.6h0.8M59.7 500.1h0.8M63.6 499.2h0.8M53.3 490.7h0.8M58.8 484.8h0.8M62.7 495.3h0.8M63.2 480.7h0.8M54.0 496.5h0.8M58.5 497.1h0.8M57.6 487.8h0.8M60.2 497.2h0.8M51.7 489.5h0.8M50.2 498.8h0.8M53.0 489.2h0.8M60.5 490.2h0.8M75.3 493.7h0.8M66.0 496.5h0.8M68.5 490.6h0.8M58.7 505.3h0.8M70.0 494.2h0.8M61.1 503.2h0.8M61.2 493.1h0.8M67.1 493.9h0.8M54.2 489.7h0.8M48.7 488.5h0.8M53.4 495.3h0.8M67.6 501.6h0.8M65.6 495.8h0.8M62.4 490.3h0.8M59.0 495.2h0.8M60.3 490.4h0.8M65.1 481.8h0.8M55.5 494.1h0.8M66.5 486.7h0.8M55.5 490.3h0.8M68.2 496.0h0.8M59.0 492.1h0.8M55.5 492.2h0.8M57.6 501.5h0.8M54.4 498.0h0.8M58.5 501.5h0.8M50.0 493.6h0.8M57.5 495.0h0.8M59.5 503.0h0.8M63.3 491.7h0.8M58.0 495.6h0.8M67.4 496.2h0.8M50.6 494.1h0.8M58.8 497.0h0.8M57.7 494.5h0.8M59.8 498.3h0.8M59.7 490.0h0.8M68.0 498.2h0.8M61.4 489.3h0.8M54.3 498.6h0.8M74.0 501.6h0.8M60.9 493.4h0.8M60.0 491.7h0.8M65.6 495.1h0.8M56.6 496.4h0.8M60.5 486.8h0.8M66.3 490.4h0.8M52.9 497.6h0.8M58.1 492.8h0.8M67.0 489.1h0.8M72.7 485.5h0.8M60.5 492.1h0.8M61.4 485.8h0.8M66.7 496.0h0.8M52.1 492.4h0.8M55.0 502.4h0.8M57.0 487.5h0.8M48.2 495.2h0.8M44.9 485.6h0.8M59.1 488.9h0.8M65.9 494.2h0.8M65.1 490.9h0.8M66.3 504.3h0.8M44.9 491.2h0.8M60.3 490.5h0.8M66.3 506.7h0.8M56.2 489.5h0.8M53.4 491.1h0.8M62.7 493.6h0.8M61.3 490.5h0.8M63.7 497.8h0.8M59.5 499.9h0.8M68.8 489.3h0.8M65.0 492.6h0.8M62.4 492.6h0.8M59.6 487.1h0.8M65.7 488.6h0.8M57.1 491.7h0.8M66.9 490.8h0.8M66.9 496.8h0.8M65.3 499.0h0.8M53.1 493.7h0.8M62.9 496.0h0.8M63.5 490.1h0.8M66.1 492.2h0.8M51.3 494.4h0.8M56.7 496.3h0.8M60.2 493.6h0.8M68.2 498.1h0.8M57.4 492.3h0.8M66.7 489.5h0.8M61.2 495.8h0.8M72.1 494.1h0.8M63.9 486.3h0.8M50.6 496.5h0.8M58.7 495.7h0.8M61.5 497.8h0.8M68.3 493.2h0.8M63.2 501.9h0.8M58.6 496.1h0.8M52.5 497.5h0.8M61.4 491.0h0.8M60.2 492.5h0.8M67.2 501.6h0.8M66.0 494.9h0.8M52.5 492.8h0.8M46.0 498.8h0.8M57.3 499.2h0.8M62.0 495.5h0.8M53.4 502.2h0.8M58.9 486.5h0.8M67.5 495.0h0.8M65.4 492.3h0.8M49.4 499.4h0.8M61.3 502.0h0.8M62.0 492.0h0.8M59.3 494.6h0.8M63.1 499.2h0.8M63.6 497.2h0.8M74.8 498.0h0.8M61.1 499.1h0.8M54.8 502.6h0.8M57.6 494.2h0.8M65.7 489.7h0.8M71.9 495.6h0.8M64.2 494.6h0.8M64.1 492.9h0.8M61.6 497.8h0.8M57.5 497.2h0.8M60.3 498.6h0.8M53.2 495.2h0.8M64.8 496.2h0.8M64.2 489.9h0.8M62.0 492.8h0.8M56.4 489.3h0.8M58.9 495.5h0.8M57.4 493.1h0.8M62.5 494.3h0.8M58.6 496.4h0.8M63.0 493.2h0.8M65.2 500.2h0.8M67.1 500.4h0.8M55.5 488.7h0.8" stroke="#5b5bb5" stroke-width="0.84" opacity="0.5"/>
<path d="M55.4 505.9h0.8M51.9 508.4h0.8M51.1 506.5h0.8M51.9 506.2h0.8M49.9 501.5h0.8M53.3 503.8h0.8M55.1 504.1h0.8M49.4 509.5h0.8M53.5 507.2h0.8M53.8 506.9h0.8M54.0 504.9h0.8M54.0 510.2h0.8M53.5 496.0h0.8M51.6 501.9h0.8M54.5 509.0h0.8M53.3 503.8h0.8M54.3 507.8h0.8M53.3 511.4h0.8M52.1 508.4h0.8M52.5 499.8h0.8M53.9 504.5h0.8M54.8 501.0h0.8M48.6 507.2h0.8M49.9 509.3h0.8M49.2 504.5h0.8M51.5 507.3h0.8M51.2 504.6h0.8M53.0 512.7h0.8M52.0 505.9h0.8M55.4 506.2h0.8M51.3 507.5h0.8M51.1 509.4h0.8M50.9 508.0h0.8M52.0 505.3h0.8M52.9 505.6h0.8M51.6 507.3h0.8M50.7 507.6h0.8M49.7 504.0h0.8M53.0 503.2h0.8M51.4 504.5h0.8M50.5 507.2h0.8M52.0 503.7h0.8M53.3 501.3h0.8M56.9 504.1h0.8M56.0 503.5h0.8M50.7 507.7h0.8M51.6 503.4h0.8M48.5 503.8h0.8M48.5 512.5h0.8M48.7 507.1h0.8M54.5 501.9h0.8M52.3 510.0h0.8M49.5 504.0h0.8M51.2 502.3h0.8M51.5 507.9h0.8M51.2 500.0h0.8M55.6 505.2h0.8M48.5 507.5h0.8M51.6 508.2h0.8M53.1 503.4h0.8M53.6 503.5h0.8M48.0 505.1h0.8M53.0 510.0h0.8M49.9 498.6h0.8M51.4 508.5h0.8M49.2 506.5h0.8M54.2 510.6h0.8M59.1 501.2h0.8M54.7 509.8h0.8M51.9 502.1h0.8M48.9 506.6h0.8M54.4 503.9h0.8M55.1 496.1h0.8M50.3 505.2h0.8M54.5 506.9h0.8M48.8 508.7h0.8M49.9 503.0h0.8M52.9 501.0h0.8M49.7 508.1h0.8M54.2 504.1h0.8M55.6 509.4h0.8M52.7 510.8h0.8M53.6 504.5h0.8M55.9 504.8h0.8M53.7 502.7h0.8M55.3 497.7h0.8M55.6 505.4h0.8M50.4 508.2h0.8M57.2 509.5h0.8M55.1 505.4h0.8" stroke="#5b5bb5" stroke-width="0.84" opacity="0.5"/>
<path d="M56.9 496.3h0.8M47.4 506.6h0.8M51.8 494.8h0.8M48.1 503.5h0.8M55.3 475.9h0.8M50.6 496.5h0.8M50.8 490.9h0.8M47.8 506.1h0.8M49.9 506.1h0.8M53.0 491.5h0.8M48.9 494.5h0.8M51.5 502.4h0.8M48.9 497.2h0.8M52.7 496.7h0.8M50.2 502.5h0.8M48.5 485.5h0.8M46.0 506.1h0.8M53.5 499.5h0.8M54.7 475.8h0.8M51.3 489.2h0.8M50.5 495.0h0.8M48.1 511.4h0.8M53.2 496.2h0.8M53.3 485.5h0.8M53.9 506.4h0.8M49.3 498.3h0.8M50.3 495.6h0.8M49.3 503.0h0.8M52.7 493.5h0.8M55.8 496.3h0.8M56.4 504.5h0.8M49.9 498.8h0.8M49.4 502.6h0.8M53.9 494.0h0.8M48.4 507.5h0.8M56.4 487.0h0.8M50.9 486.0h0.8M53.1 500.2h0.8M46.0 492.5h0.8M52.7 497.9h0.8M53.3 496.9h0.8M58.7 496.9h0.8M50.8 488.3h0.8M52.9 498.8h0.8M51.1 505.6h0.8M50.3 489.9h0.8M49.0 509.3h0.8M46.5 506.3h0.8M49.7 489.7h0.8M45.9 500.7h0.8M52.8 488.6h0.8M48.8 494.7h0.8M47.6 487.4h0.8M53.2 492.8h0.8M49.9 482.4h0.8M53.7 495.7h0.8M53.9 489.3h0.8M50.7 489.6h0.8M50.4 481.7h0.8M48.9 495.9h0.8M44.5 508.3h0.8M51.0 493.5h0.8M50.7 495.0h0.8M60.3 490.2h0.8M46.4 491.6h0.8M51.3 490.0h0.8M55.7 486.0h0.8M55.9 490.9h0.8M56.1 493.7h0.8M48.2 497.7h0.8M54.3 494.5h0.8M42.9 496.1h0.8M48.7 504.8h0.8M52.3 503.1h0.8M54.2 493.8h0.8M50.5 483.2h0.8M49.5 494.3h0.8M45.3 495.2h0.8M47.7 502.4h0.8M47.4 496.1h0.8M47.5 515.3h0.8M49.9 493.4h0.8M52.1 501.0h0.8M52.7 489.8h0.8M52.3 489.0h0.8M57.0 495.3h0.8M54.5 498.3h0.8M46.6 499.8h0.8M60.7 475.6h0.8M51.8 504.3h0.8M52.7 507.2h0.8M50.5 505.6h0.8M45.0 500.6h0.8M50.7 494.9h0.8M43.7 498.1h0.8M45.4 503.8h0.8M51.2 488.9h0.8M54.0 501.5h0.8M50.8 499.5h0.8M52.4 495.2h0.8M50.6 508.7h0.8M50.1 490.6h0.8M56.3 490.1h0.8M52.2 495.8h0.8M49.9 491.0h0.8M47.6 504.7h0.8M53.6 484.5h0.8M55.5 487.5h0.8M55.0 499.1h0.8M49.4 500.8h0.8M52.9 487.7h0.8M54.4 506.0h0.8M63.8 485.1h0.8M54.9 504.2h0.8M53.6 490.0h0.8M51.3 492.4h0.8M50.4 508.6h0.8M52.5 495.7h0.8M50.4 490.9h0.8M55.0 498.5h0.8M55.6 510.5h0.8M49.0 495.7h0.8M50.6 490.0h0.8M49.8 496.9h0.8M50.1 486.5h0.8M55.0 491.7h0.8M48.4 490.9h0.8M52.4 500.7h0.8M53.5 492.8h0.8M52.9 499.6h0.8M45.4 502.6h0.8M49.3 506.6h0.8M55.2 484.5h0.8M54.2 496.0h0.8M54.6 488.2h0.8M48.8 499.7h0.8M54.4 498.3h0.8M55.5 496.7h0.8M56.3 493.1h0.8M51.1 488.7h0.8M55.9 484.7h0.8M47.3 501.7h0.8M51.4 494.3h0.8M53.7 496.5h0.8M46.9 496.9h0.8M58.2 503.1h0.8M51.9 509.4h0.8M49.7 494.0h0.8M48.8 499.8h0.8M54.1 484.6h0.8M51.8 493.0h0.8M49.3 490.1h0.8M52.3 491.4h0.8M45.2 502.5h0.8M49.6 496.0h0.8M56.6 497.5h0.8M51.3 496.2h0.8M50.8 494.0h0.8M56.5 495.4h0.8M53.6 491.6h0.8M54.3 492.6h0.8M50.7 492.4h0.8M55.0 495.3h0.8M53.8 482.8h0.8M54.0 496.8h0.8M53.5 495.9h0.8M55.8 499.8h0.8M56.3 488.9h0.8M53.1 489.4h0.8M47.2 500.4h0.8M51.9 490.7h0.8M48.8 498.5h0.8M57.1 492.3h0.8M52.3 487.3h0.8M47.5 484.2h0.8M53.7 491.9h0.8M54.7 493.1h0.8M51.0 486.8h0.8M51.3 505.8h0.8M47.7 494.9h0.8M53.8 489.9h0.8M48.6 505.7h0.8M51.1 501.5h0.8M54.1 490.9h0.8M51.4 488.3h0.8M54.2 495.1h0.8M48.9 500.3h0.8M54.3 486.4h0.8M53.7 504.5h0.8M49.6 492.5h0.8M50.4 501.4h0.8M56.4 495.9h0.8M54.4 499.9h0.8M48.5 499.6h0.8M47.6 504.0h0.8M54.4 491.4h0.8M46.5 508.0h0.8M53.9 487.2h0.8M47.1 496.9h0.8M52.3 500.8h0.8M46.9 494.8h0.8M50.5 501.8h0.8M56.3 485.4h0.8M49.7 495.0h0.8M45.4 501.4h0.8M47.9 495.0h0.8M47.9 487.0h0.8M56.5 498.2h0.8M45.7 495.7h0.8M49.5 488.2h0.8M50.3 504.9h0.8M52.6 492.2h0.8M56.3 489.7h0.8M55.2 497.5h0.8M54.0 491.8h0.8M51.7 494.5h0.8M49.5 497.0h0.8M51.7 492.9h0.8M53.3 500.5h0.8M52.8 498.2h0.8M51.3 504.4h0.8M48.4 487.9h0.8M49.2 495.7h0.8M49.1 497.1h0.8M49.5 497.4h0.8M52.0 481.0h0.8M55.3 489.2h0.8M54.1 498.8h0.8M55.9 501.0h0.8M50.0 495.7h0.8M51.0 497.0h0.8M49.8 504.1h0.8M52.1 493.5h0.8M50.4 490.1h0.8M51.4 506.5h0.8M44.7 498.5h0.8M50.4 494.4h0.8M47.2 489.7h0.8M50.7 507.1h0.8M48.0 493.0h0.8M49.5 489.6h0.8M49.4 504.4h0.8M51.0 485.3h0.8M52.5 495.0h0.8M49.4 499.8h0.8M57.7 495.4h0.8M48.9 491.5h0.8M48.4 498.2h0.8M55.2 488.2h0.8M52.3 494.5h0.8M51.6 501.0h0.8M52.5 488.3h0.8M52.0 505.8h0.8M52.9 494.7h0.8M55.5 496.3h0.8M48.4 491.7h0.8M51.3 499.9h0.8M51.7 492.5h0.8M52.3 497.7h0.8M46.7 503.6h0.8M51.8 504.8h0.8M50.2 484.7h0.8M51.9 505.5h0.8M54.0 493.0h0.8M45.8 496.6h0.8M52.5 496.9h0.8M45.4 496.3h0.8M54.2 492.3h0.8M45.9 498.6h0.8M49.7 502.6h0.8M51.7 491.8h0.8M46.8 494.6h0.8M44.8 500.0h0.8M51.2 503.4h0.8M49.6 497.7h0.8M54.3 498.5h0.8M50.6 499.1h0.8M60.2 495.6h0.8M51.5 498.2h0.8M57.2 495.3h0.8M53.2 493.8h0.8M55.7 480.2h0.8M56.1 484.2h0.8M48.8 497.8h0.8M48.5 500.3h0.8M55.7 500.0h0.8M50.9 496.4h0.8M48.7 493.0h0.8M52.1 500.0h0.8M49.8 492.5h0.8M51.8 495.8h0.8M52.4 506.7h0.8M57.7 487.5h0.8M57.9 493.1h0.8M55.5 495.0h0.8M56.7 483.5h0.8M55.2 488.3h0.8M50.7 503.1h0.8M50.7 499.2h0.8M58.5 496.5h0.8" stroke="#3a3aa0" stroke-width="0.84" opacity="0.6"/>
<ellipse cx="52.1" cy="495.4" rx="4.5" ry="9.2" fill="#2e3596" transform="rotate(14 52.1 495.4)" opacity="0.95" filter="url(#bl)"/>
<ellipse cx="52.1" cy="495.4" rx="3.5" ry="7.5" fill="#2a86cc" transform="rotate(14 52.1 495.4)" filter="url(#bl)"/>
<ellipse cx="52.1" cy="495.4" rx="2.7" ry="6" fill="#3cc0c0" transform="rotate(14 52.1 495.4)" filter="url(#bl)"/>
<ellipse cx="51.9" cy="495.9" rx="2.1" ry="4.6" fill="#8cc63f" transform="rotate(14 51.9 495.9)" filter="url(#bl)"/>
<ellipse cx="51.8" cy="496.4" rx="1.5" ry="3.3" fill="#f0d21c" transform="rotate(14 51.8 496.4)" filter="url(#bl)"/>
<ellipse cx="51.7" cy="496.7" rx="1" ry="2.2" fill="#e2451f" transform="rotate(14 51.7 496.7)" filter="url(#bl)"/>
<path d="M143.4 497.5h0.8M130.0 495.1h0.8M147.2 495.9h0.8M134.8 500.0h0.8M131.6 500.1h0.8M142.5 494.5h0.8M137.5 505.9h0.8M136.7 497.9h0.8M134.3 501.3h0.8M124.0 502.8h0.8M124.5 488.1h0.8M135.4 498.2h0.8M140.8 500.8h0.8M130.4 500.7h0.8M135.8 499.6h0.8M126.0 499.2h0.8M127.9 488.2h0.8M136.0 491.8h0.8M139.4 499.1h0.8M141.3 487.6h0.8M143.1 494.6h0.8M131.2 494.5h0.8M134.5 497.5h0.8M139.7 500.6h0.8M129.6 496.2h0.8M134.4 492.1h0.8M136.3 491.8h0.8M135.3 497.8h0.8M140.5 499.3h0.8M137.9 498.0h0.8M133.0 496.3h0.8M122.0 494.6h0.8M141.2 490.5h0.8M141.5 496.7h0.8M138.2 499.8h0.8M138.4 491.3h0.8M138.0 498.3h0.8M142.3 500.1h0.8M131.2 505.9h0.8M135.3 495.7h0.8M130.0 494.1h0.8M135.1 490.5h0.8M131.5 490.5h0.8M131.8 488.2h0.8M125.1 486.5h0.8M134.6 499.0h0.8M141.5 496.8h0.8M117.8 494.9h0.8M144.0 490.0h0.8M136.6 487.0h0.8M132.7 487.6h0.8M136.4 503.4h0.8M133.4 500.8h0.8M136.0 490.0h0.8M143.8 497.6h0.8M136.5 496.9h0.8M138.3 492.0h0.8M134.4 492.9h0.8M133.9 500.1h0.8M129.8 498.4h0.8M134.3 499.9h0.8M130.8 496.8h0.8M142.1 497.5h0.8M133.9 498.0h0.8M139.9 495.9h0.8M142.0 504.6h0.8M141.3 497.9h0.8M131.2 497.9h0.8M145.4 497.0h0.8M124.8 491.5h0.8M143.9 497.0h0.8M121.0 492.5h0.8M130.7 491.8h0.8M134.6 499.6h0.8M130.1 504.3h0.8M123.0 495.6h0.8M126.8 494.4h0.8M137.4 493.1h0.8M126.4 488.2h0.8M138.8 499.3h0.8M141.8 499.5h0.8M143.9 493.7h0.8M136.9 496.6h0.8M135.7 492.3h0.8M132.3 502.0h0.8M151.5 498.9h0.8M142.3 499.0h0.8M138.1 504.1h0.8M138.8 486.6h0.8M141.6 498.8h0.8M124.1 495.7h0.8M140.7 495.5h0.8M132.1 495.7h0.8M121.2 499.7h0.8M142.3 494.1h0.8M131.4 492.6h0.8M137.0 504.1h0.8M130.5 500.0h0.8M132.8 498.0h0.8M144.4 501.0h0.8M137.4 496.8h0.8M137.9 495.2h0.8M126.4 494.2h0.8M140.6 498.3h0.8M132.0 493.6h0.8M139.2 489.6h0.8M129.6 494.6h0.8M137.4 497.7h0.8M138.8 496.1h0.8M126.5 498.0h0.8M137.1 497.8h0.8M129.7 499.7h0.8M142.7 497.8h0.8M137.7 495.8h0.8M135.4 498.8h0.8M152.8 502.6h0.8M140.6 495.0h0.8M133.8 492.1h0.8M139.8 502.8h0.8M137.5 494.2h0.8M143.2 499.0h0.8M129.9 493.3h0.8M146.9 498.8h0.8M131.7 501.9h0.8M132.2 503.3h0.8M132.0 489.9h0.8M134.6 489.7h0.8M148.8 483.1h0.8M136.2 499.0h0.8M128.3 502.2h0.8M134.5 497.2h0.8M137.1 495.1h0.8M140.6 500.6h0.8M134.2 491.9h0.8M136.2 499.3h0.8M151.9 504.5h0.8M134.0 501.5h0.8M135.8 499.4h0.8M128.8 493.0h0.8M141.3 495.6h0.8M133.4 491.8h0.8M145.2 505.9h0.8M141.8 502.7h0.8M140.3 496.6h0.8M132.6 495.5h0.8M133.4 497.0h0.8M133.7 493.0h0.8M135.7 498.5h0.8M133.2 498.1h0.8M132.1 497.7h0.8" stroke="#5b5bb5" stroke-width="0.84" opacity="0.5"/>
<path d="M126.7 504.4h0.8M121.2 503.7h0.8M126.2 506.7h0.8M123.6 513.0h0.8M123.0 505.8h0.8M131.5 509.6h0.8M125.5 504.8h0.8M126.2 510.2h0.8M126.0 509.1h0.8M124.8 512.0h0.8M130.1 508.6h0.8M122.6 508.0h0.8M127.6 501.5h0.8M125.3 509.1h0.8M129.3 510.7h0.8M128.4 508.7h0.8M126.8 508.6h0.8M123.4 509.9h0.8M128.3 511.0h0.8M128.7 504.9h0.8M128.0 507.7h0.8M126.0 509.5h0.8M127.9 508.9h0.8M124.9 504.7h0.8M127.1 501.1h0.8M127.4 509.1h0.8M126.1 510.5h0.8M124.4 513.8h0.8M126.1 509.4h0.8M124.7 505.0h0.8M124.0 509.5h0.8M128.8 507.6h0.8M126.2 505.6h0.8M125.5 503.0h0.8M125.4 501.7h0.8M127.5 505.6h0.8M125.9 506.5h0.8M125.0 508.2h0.8M127.1 508.0h0.8M126.9 508.8h0.8M124.6 514.6h0.8M124.2 507.8h0.8M129.4 512.7h0.8M126.0 505.3h0.8M129.2 505.5h0.8M127.9 506.2h0.8M126.4 501.8h0.8M126.0 513.7h0.8M130.1 508.8h0.8M125.2 510.5h0.8M125.7 513.9h0.8M124.8 509.5h0.8M126.2 513.6h0.8M124.5 499.8h0.8M126.8 512.4h0.8M123.8 509.0h0.8M127.7 506.1h0.8M127.3 511.7h0.8M127.0 508.1h0.8M125.2 505.5h0.8M129.3 501.2h0.8M130.9 514.1h0.8M126.3 498.9h0.8M124.9 508.2h0.8M127.9 513.5h0.8M126.1 510.2h0.8M126.9 505.8h0.8M127.9 507.0h0.8M123.6 505.8h0.8M128.1 508.8h0.8" stroke="#5b5bb5" stroke-width="0.84" opacity="0.5"/>
<path d="M125.4 505.3h0.8M123.2 494.6h0.8M123.3 488.2h0.8M129.4 499.4h0.8M123.8 488.9h0.8M123.4 496.9h0.8M133.1 496.0h0.8M123.4 504.1h0.8M122.3 502.1h0.8M123.2 502.4h0.8M128.9 494.3h0.8M123.6 504.4h0.8M126.1 496.5h0.8M120.0 497.0h0.8M124.5 499.5h0.8M126.4 498.6h0.8M127.5 488.7h0.8M130.1 501.3h0.8M128.9 487.3h0.8M118.2 499.0h0.8M122.0 496.0h0.8M123.9 497.1h0.8M126.3 490.1h0.8M125.9 503.1h0.8M128.3 496.2h0.8M121.2 501.6h0.8M120.7 491.8h0.8M129.1 492.7h0.8M123.6 497.1h0.8M119.2 502.5h0.8M124.6 488.5h0.8M125.6 493.2h0.8M123.4 493.5h0.8M123.3 494.9h0.8M129.5 494.4h0.8M122.6 503.2h0.8M126.8 501.4h0.8M127.0 497.1h0.8M124.9 502.0h0.8M132.3 503.9h0.8M123.0 492.7h0.8M134.0 493.2h0.8M123.3 500.9h0.8M124.3 509.9h0.8M128.8 482.4h0.8M129.9 493.4h0.8M127.8 501.9h0.8M125.9 491.9h0.8M124.9 502.2h0.8M129.5 498.7h0.8M131.5 489.7h0.8M125.2 493.9h0.8M129.6 499.6h0.8M128.6 491.6h0.8M126.7 500.6h0.8M123.2 498.5h0.8M123.1 494.7h0.8M127.4 499.5h0.8M118.9 493.9h0.8M124.9 498.1h0.8M128.3 490.9h0.8M120.9 505.1h0.8M131.1 495.8h0.8M130.3 504.6h0.8M122.1 509.8h0.8M125.1 506.6h0.8M126.1 496.8h0.8M124.8 497.7h0.8M125.1 496.5h0.8M127.6 499.0h0.8M131.6 492.3h0.8M127.9 485.8h0.8M126.5 498.9h0.8M126.8 497.3h0.8M123.5 506.2h0.8M127.0 508.3h0.8M126.0 488.4h0.8M124.3 490.9h0.8M127.8 501.9h0.8M120.5 503.6h0.8M125.0 497.6h0.8M125.3 497.2h0.8M127.3 485.5h0.8M120.7 510.6h0.8M124.3 492.3h0.8M125.7 500.4h0.8M127.9 499.2h0.8M126.7 491.4h0.8M125.3 502.2h0.8M123.2 505.7h0.8M126.5 496.6h0.8M118.6 497.0h0.8M127.8 501.2h0.8M128.5 503.3h0.8M125.9 502.3h0.8M124.3 491.2h0.8M130.8 491.6h0.8M124.9 493.3h0.8M131.9 480.7h0.8M126.6 488.7h0.8M124.5 495.5h0.8M126.3 492.8h0.8M125.1 491.5h0.8M125.4 502.3h0.8M127.6 499.2h0.8M125.2 501.9h0.8M125.3 495.8h0.8M126.7 494.4h0.8M128.1 491.7h0.8M126.3 498.4h0.8M129.1 485.9h0.8M128.6 491.7h0.8M126.9 500.6h0.8M127.9 502.4h0.8M126.6 496.5h0.8M130.4 490.1h0.8M127.2 500.6h0.8M129.3 492.6h0.8M126.0 496.1h0.8M123.2 490.5h0.8M124.1 508.0h0.8M125.6 506.1h0.8M128.0 491.8h0.8M127.1 489.7h0.8M130.6 497.0h0.8M122.5 500.4h0.8M120.8 504.1h0.8M126.0 496.5h0.8M125.4 489.1h0.8M126.4 498.8h0.8M128.1 498.7h0.8M135.0 487.9h0.8M123.0 494.9h0.8M123.7 494.8h0.8M127.0 490.9h0.8M122.3 497.9h0.8M123.7 503.2h0.8M129.4 503.5h0.8M126.9 491.4h0.8M126.8 493.3h0.8M129.1 501.5h0.8M122.0 494.4h0.8M127.0 494.8h0.8M124.9 510.5h0.8M128.9 481.2h0.8M124.2 492.6h0.8M125.8 491.6h0.8M126.2 496.6h0.8M127.4 507.7h0.8M124.6 495.8h0.8M128.3 495.3h0.8M120.6 497.3h0.8M127.8 495.2h0.8M128.4 499.5h0.8M122.3 512.3h0.8M126.1 492.6h0.8M126.6 495.6h0.8M127.3 496.5h0.8M131.1 484.3h0.8M126.6 500.7h0.8M125.9 496.5h0.8M127.2 484.7h0.8M127.4 495.3h0.8M128.5 498.1h0.8M127.8 491.5h0.8M124.3 503.5h0.8M125.9 493.1h0.8M125.3 487.5h0.8M123.6 501.6h0.8M125.2 495.9h0.8M124.8 497.6h0.8M129.6 487.2h0.8M124.1 488.0h0.8M127.3 490.7h0.8M123.4 495.6h0.8M128.7 496.3h0.8M126.4 505.5h0.8M128.9 506.8h0.8M127.9 497.9h0.8M123.8 496.0h0.8M125.4 508.6h0.8M124.7 497.1h0.8M124.4 503.0h0.8M124.0 493.6h0.8M125.7 496.2h0.8M126.9 495.2h0.8M127.5 492.7h0.8M133.0 499.9h0.8M126.6 491.8h0.8M126.8 496.2h0.8M126.0 499.4h0.8M124.4 509.8h0.8M126.9 485.1h0.8M126.6 497.4h0.8M125.5 500.9h0.8M128.7 495.0h0.8M127.1 502.4h0.8M123.8 499.9h0.8M126.2 499.9h0.8M127.6 494.4h0.8M125.9 495.5h0.8M126.0 495.4h0.8M126.9 490.8h0.8M128.0 498.2h0.8M127.6 490.4h0.8M125.6 491.0h0.8M127.3 488.3h0.8M129.1 504.0h0.8M124.3 493.1h0.8M128.8 491.6h0.8M125.3 501.7h0.8M136.7 495.4h0.8M128.0 499.1h0.8M126.7 495.8h0.8M126.0 499.1h0.8M122.3 497.6h0.8M126.5 483.4h0.8M130.9 506.5h0.8M126.8 503.2h0.8M126.7 487.8h0.8M125.9 502.4h0.8M126.8 495.5h0.8M123.9 497.3h0.8M125.9 504.8h0.8M127.2 503.2h0.8M121.9 502.5h0.8M124.6 509.2h0.8M118.5 502.8h0.8M122.4 492.7h0.8M129.5 489.2h0.8M129.2 502.4h0.8M132.6 486.9h0.8M123.3 494.4h0.8M126.5 494.7h0.8M126.1 492.5h0.8M128.5 505.5h0.8M127.1 499.0h0.8M126.9 495.5h0.8M127.5 502.6h0.8M125.6 494.2h0.8M128.3 504.6h0.8M124.3 509.4h0.8M129.5 496.4h0.8M127.1 495.9h0.8M126.4 504.1h0.8M124.7 484.5h0.8M123.2 488.7h0.8M123.0 490.1h0.8M128.8 487.1h0.8M120.8 496.3h0.8" stroke="#3a3aa0" stroke-width="0.84" opacity="0.6"/>
<ellipse cx="126.9" cy="496.9" rx="3.82" ry="7.82" fill="#2e3596" transform="rotate(6 126.9 496.9)" opacity="0.95" filter="url(#bl)"/>
<ellipse cx="126.9" cy="496.9" rx="2.98" ry="6.38" fill="#2a86cc" transform="rotate(6 126.9 496.9)" filter="url(#bl)"/>
<ellipse cx="126.9" cy="496.9" rx="2.29" ry="5.1" fill="#3cc0c0" transform="rotate(6 126.9 496.9)" filter="url(#bl)"/>
<ellipse cx="126.73" cy="497.32" rx="1.78" ry="3.91" fill="#8cc63f" transform="rotate(6 126.73 497.32)" filter="url(#bl)"/>
<ellipse cx="126.65" cy="497.75" rx="1.27" ry="2.8" fill="#f0d21c" transform="rotate(6 126.65 497.75)" filter="url(#bl)"/>
<ellipse cx="126.56" cy="498" rx="0.85" ry="1.87" fill="#e2451f" transform="rotate(6 126.56 498)" filter="url(#bl)"/>
<path d="M213.3 497.2h0.8M211.2 497.2h0.8M211.2 499.5h0.8M217.5 496.3h0.8M218.5 499.8h0.8M219.7 496.0h0.8M210.4 499.2h0.8M211.5 495.9h0.8M221.2 501.6h0.8M214.1 500.5h0.8M220.2 502.0h0.8M208.2 496.6h0.8M211.1 495.4h0.8M207.1 495.4h0.8M211.2 498.1h0.8M214.2 501.3h0.8M208.4 500.4h0.8M224.4 500.3h0.8M201.5 495.6h0.8M217.1 501.3h0.8M204.1 500.5h0.8M213.3 497.3h0.8M206.2 492.4h0.8M211.8 496.7h0.8M211.8 498.3h0.8M206.0 502.6h0.8M203.2 499.2h0.8M206.6 498.5h0.8M211.5 502.6h0.8M216.8 502.5h0.8M222.1 499.6h0.8M199.9 500.2h0.8M214.4 501.8h0.8M208.2 496.9h0.8M211.4 499.7h0.8M213.5 497.6h0.8M216.6 496.3h0.8M214.0 499.9h0.8M211.2 501.4h0.8M221.7 503.3h0.8M213.2 500.6h0.8M211.3 501.5h0.8M218.9 498.2h0.8M203.7 495.0h0.8M205.1 497.1h0.8M221.0 499.7h0.8M210.0 497.2h0.8M199.5 503.4h0.8M216.6 501.7h0.8M219.3 498.2h0.8M206.2 503.0h0.8M202.6 500.3h0.8M211.0 502.8h0.8M213.7 498.3h0.8M207.3 500.6h0.8M205.2 498.1h0.8M214.8 498.7h0.8M214.8 501.6h0.8M200.8 503.4h0.8M203.9 499.0h0.8M209.1 499.4h0.8M207.1 496.5h0.8M212.7 498.2h0.8M214.7 499.9h0.8M223.6 495.6h0.8M213.7 497.6h0.8M217.4 495.9h0.8M200.9 499.2h0.8M206.7 500.9h0.8M218.3 499.6h0.8M201.6 498.0h0.8M220.1 496.2h0.8M214.9 494.7h0.8M212.2 498.8h0.8M210.5 502.5h0.8M203.5 498.1h0.8M204.1 498.5h0.8M207.8 497.6h0.8M208.4 495.9h0.8M219.4 501.4h0.8M204.5 500.5h0.8M207.1 495.1h0.8M199.7 495.6h0.8M212.3 502.1h0.8M211.2 496.5h0.8M218.5 498.6h0.8M224.0 496.2h0.8M214.8 499.5h0.8M205.6 496.8h0.8M212.7 497.2h0.8M213.1 496.0h0.8M210.8 503.4h0.8M204.1 505.2h0.8M213.5 499.3h0.8M203.2 500.4h0.8M210.7 500.1h0.8M209.2 498.7h0.8M215.3 497.8h0.8M225.3 500.7h0.8M208.8 495.7h0.8M207.1 496.6h0.8M217.4 500.5h0.8M202.5 495.2h0.8M211.4 502.7h0.8M212.8 498.0h0.8M207.5 499.2h0.8M210.7 502.0h0.8M205.6 498.6h0.8M207.4 499.1h0.8M215.6 497.3h0.8M205.4 500.0h0.8M207.4 500.5h0.8M206.6 496.5h0.8M214.6 500.4h0.8M208.7 501.1h0.8M205.6 499.9h0.8M213.4 496.9h0.8M197.9 501.0h0.8M198.6 502.1h0.8M213.1 497.5h0.8M223.5 494.2h0.8M208.0 497.0h0.8M213.5 498.8h0.8M202.0 502.0h0.8M212.0 501.7h0.8M212.5 500.4h0.8M215.0 497.1h0.8M206.3 500.6h0.8M224.0 498.7h0.8M204.9 496.2h0.8M221.3 494.3h0.8M204.1 501.2h0.8M216.5 494.7h0.8M220.1 501.8h0.8M225.6 504.4h0.8M210.5 498.8h0.8M200.3 496.6h0.8M216.8 497.1h0.8M206.6 497.0h0.8M204.1 499.7h0.8M207.4 501.2h0.8M205.2 496.8h0.8M216.3 497.9h0.8M212.5 497.1h0.8M215.8 501.6h0.8M217.0 501.2h0.8M208.7 496.6h0.8M215.9 498.0h0.8M219.3 499.1h0.8M223.6 494.2h0.8M212.4 497.4h0.8M209.6 499.1h0.8M205.1 495.2h0.8M208.7 499.3h0.8M211.4 498.8h0.8M213.0 497.3h0.8M202.4 501.3h0.8M208.6 496.4h0.8M210.0 499.8h0.8" stroke="#5b5bb5" stroke-width="0.84" opacity="0.5"/>
<path d="M202.0 511.7h0.8M204.3 506.3h0.8M201.0 510.0h0.8M203.4 507.2h0.8M203.5 509.1h0.8M204.4 511.0h0.8M205.2 511.8h0.8M199.8 511.7h0.8M202.3 507.7h0.8M200.5 515.4h0.8M204.1 511.3h0.8M204.8 508.0h0.8M201.9 514.8h0.8M202.8 508.9h0.8M204.7 516.9h0.8M202.7 513.1h0.8M202.2 509.9h0.8M199.5 508.6h0.8M201.2 507.4h0.8M204.1 507.6h0.8M199.9 509.3h0.8M202.9 514.8h0.8M202.8 510.9h0.8M202.4 510.0h0.8M203.8 511.7h0.8M201.1 509.2h0.8M204.8 506.0h0.8M201.6 505.2h0.8M204.2 515.1h0.8M201.4 509.3h0.8M202.8 515.8h0.8M201.8 516.8h0.8M205.3 511.2h0.8M200.6 512.9h0.8M201.3 509.1h0.8M204.9 509.8h0.8M203.8 510.6h0.8M202.3 510.3h0.8M201.9 515.4h0.8M200.2 510.0h0.8M201.9 513.4h0.8M203.0 510.7h0.8M204.5 512.4h0.8M204.0 516.6h0.8M204.9 505.0h0.8M203.1 514.3h0.8M201.2 508.2h0.8M201.8 511.0h0.8M205.1 509.1h0.8M202.6 508.7h0.8M204.8 505.6h0.8M199.6 501.1h0.8M201.5 517.7h0.8M201.0 513.3h0.8M202.8 509.5h0.8M201.0 503.9h0.8M200.1 512.6h0.8M202.3 515.8h0.8M198.4 511.8h0.8M201.4 504.4h0.8" stroke="#5b5bb5" stroke-width="0.84" opacity="0.5"/>
<path d="M201.0 501.4h0.8M203.3 494.6h0.8M202.4 496.4h0.8M205.2 501.2h0.8M199.8 502.7h0.8M200.9 497.4h0.8M196.2 493.6h0.8M205.4 498.1h0.8M204.3 492.7h0.8M200.9 510.6h0.8M198.2 489.0h0.8M204.5 503.3h0.8M198.8 499.9h0.8M199.1 499.2h0.8M197.7 492.3h0.8M198.9 496.0h0.8M200.1 497.0h0.8M199.7 495.7h0.8M205.3 497.8h0.8M204.2 500.0h0.8M202.7 496.4h0.8M200.8 502.1h0.8M202.1 504.0h0.8M199.1 495.6h0.8M203.3 504.0h0.8M200.0 499.5h0.8M201.2 495.6h0.8M203.2 502.3h0.8M199.9 506.4h0.8M198.9 497.0h0.8M205.5 487.5h0.8M197.7 504.1h0.8M198.8 505.6h0.8M199.6 491.9h0.8M200.5 498.3h0.8M201.9 502.2h0.8M200.9 504.2h0.8M205.9 504.0h0.8M205.3 504.5h0.8M204.3 508.9h0.8M202.4 492.3h0.8M202.7 505.3h0.8M200.4 513.8h0.8M198.5 484.4h0.8M203.4 496.8h0.8M205.0 503.8h0.8M203.3 494.5h0.8M202.7 487.3h0.8M204.6 501.2h0.8M203.2 500.2h0.8M205.5 494.5h0.8M201.2 500.6h0.8M197.5 504.9h0.8M203.4 505.6h0.8M204.6 501.9h0.8M200.6 491.0h0.8M203.1 497.1h0.8M204.8 484.3h0.8M208.8 500.3h0.8M204.3 502.7h0.8M201.9 498.8h0.8M199.3 498.8h0.8M198.7 486.2h0.8M211.4 491.0h0.8M201.8 491.5h0.8M204.4 495.2h0.8M200.8 495.0h0.8M201.0 513.1h0.8M203.9 505.6h0.8M200.1 492.2h0.8M202.3 494.6h0.8M202.0 495.4h0.8M203.8 495.2h0.8M204.8 495.6h0.8M202.4 485.6h0.8M205.8 506.7h0.8M201.0 503.3h0.8M201.2 503.1h0.8M202.6 499.6h0.8M201.6 501.9h0.8M204.5 496.6h0.8M197.7 499.5h0.8M196.6 498.9h0.8M206.4 490.5h0.8M205.1 484.4h0.8M200.3 506.2h0.8M203.6 492.3h0.8M197.8 497.4h0.8M201.7 494.3h0.8M205.9 510.0h0.8M204.4 489.2h0.8M207.8 505.9h0.8M201.7 482.3h0.8M205.2 505.0h0.8M202.8 495.6h0.8M203.8 484.2h0.8M203.1 499.3h0.8M204.5 498.4h0.8M206.3 488.5h0.8M202.5 501.2h0.8M203.4 498.7h0.8M202.0 502.0h0.8M203.5 489.7h0.8M200.4 493.9h0.8M205.3 492.6h0.8M204.3 499.7h0.8M203.4 495.4h0.8M202.6 492.3h0.8M200.4 507.8h0.8M200.0 495.3h0.8M199.2 505.9h0.8M200.1 504.2h0.8M205.0 494.2h0.8M204.0 486.9h0.8M198.6 500.0h0.8M199.7 503.2h0.8M205.7 506.6h0.8M206.8 501.5h0.8M204.6 501.8h0.8M208.2 494.9h0.8M200.8 494.0h0.8M202.9 519.9h0.8M200.5 506.2h0.8M208.6 490.4h0.8M203.6 500.9h0.8M203.5 501.9h0.8M203.9 487.2h0.8M200.8 496.9h0.8M202.2 502.6h0.8M196.1 509.5h0.8M201.0 509.4h0.8M199.9 496.5h0.8M204.7 496.9h0.8M206.2 496.0h0.8M203.2 500.4h0.8M199.6 504.4h0.8M199.9 492.0h0.8M204.5 497.8h0.8M202.0 495.0h0.8M202.0 493.8h0.8M199.8 495.5h0.8M202.8 510.9h0.8M202.7 510.3h0.8M204.4 508.6h0.8M200.5 488.0h0.8M202.4 500.9h0.8M198.3 514.5h0.8M203.1 501.7h0.8M202.8 494.3h0.8M201.5 502.8h0.8M205.0 497.3h0.8M199.3 496.2h0.8M206.6 500.8h0.8M203.6 502.1h0.8M204.2 497.9h0.8M203.3 498.8h0.8M201.0 492.2h0.8M201.1 498.6h0.8M205.0 503.7h0.8M202.5 499.5h0.8M203.5 497.8h0.8M202.0 489.4h0.8M204.6 506.4h0.8M204.6 491.4h0.8M199.0 503.3h0.8M207.9 496.8h0.8M205.2 504.3h0.8M204.6 505.9h0.8M203.5 496.9h0.8M203.2 479.0h0.8M205.3 485.6h0.8M209.7 492.8h0.8M202.6 492.9h0.8M199.7 500.8h0.8M202.1 511.9h0.8M202.7 503.3h0.8M205.2 498.2h0.8M199.1 507.7h0.8M201.5 497.7h0.8M201.6 504.6h0.8M205.1 501.5h0.8M206.0 486.4h0.8M202.9 505.4h0.8M205.0 510.6h0.8M203.0 496.7h0.8M202.7 504.0h0.8M196.5 502.2h0.8M200.3 497.2h0.8M199.7 496.4h0.8M203.5 505.6h0.8M202.9 494.8h0.8M199.8 495.4h0.8M202.5 504.6h0.8M202.0 505.1h0.8M203.2 509.3h0.8M201.2 495.1h0.8M200.9 490.2h0.8M205.5 506.3h0.8M202.2 488.9h0.8M205.3 496.4h0.8M200.2 497.5h0.8M201.5 510.3h0.8M201.6 499.2h0.8M200.2 491.0h0.8M204.4 498.9h0.8M198.7 507.6h0.8M203.5 487.2h0.8M197.2 490.2h0.8M204.1 505.8h0.8M202.6 499.8h0.8M205.7 492.5h0.8M207.8 497.9h0.8M200.7 499.4h0.8M202.8 491.5h0.8M199.2 495.2h0.8M200.9 508.5h0.8M202.6 501.1h0.8M202.3 506.4h0.8M204.5 498.9h0.8M203.9 495.4h0.8M205.0 501.1h0.8M200.9 493.0h0.8M202.8 501.5h0.8M199.8 496.9h0.8M202.1 497.1h0.8M202.4 492.8h0.8M202.3 508.0h0.8M201.6 489.1h0.8M201.3 500.5h0.8M198.3 490.6h0.8M200.5 504.9h0.8M200.9 497.5h0.8M203.0 500.3h0.8M203.5 502.2h0.8M201.2 501.4h0.8M202.0 500.2h0.8M203.3 501.5h0.8M200.0 501.2h0.8M205.2 496.1h0.8M207.8 497.3h0.8M203.5 497.5h0.8M201.3 494.3h0.8M203.1 495.5h0.8M205.2 507.8h0.8M206.1 489.8h0.8M198.6 510.0h0.8" stroke="#3a3aa0" stroke-width="0.84" opacity="0.6"/>
<ellipse cx="202.8" cy="499.2" rx="3.6" ry="7.36" fill="#2e3596" transform="rotate(2 202.8 499.2)" opacity="0.95" filter="url(#bl)"/>
<ellipse cx="202.8" cy="499.2" rx="2.8" ry="6" fill="#2a86cc" transform="rotate(2 202.8 499.2)" filter="url(#bl)"/>
<ellipse cx="202.8" cy="499.2" rx="2.16" ry="4.8" fill="#3cc0c0" transform="rotate(2 202.8 499.2)" filter="url(#bl)"/>
<ellipse cx="202.64" cy="499.6" rx="1.68" ry="3.68" fill="#8cc63f" transform="rotate(2 202.64 499.6)" filter="url(#bl)"/>
<ellipse cx="202.56" cy="500" rx="1.2" ry="2.64" fill="#f0d21c" transform="rotate(2 202.56 500)" filter="url(#bl)"/>
<ellipse cx="202.48" cy="500.24" rx="0.8" ry="1.76" fill="#e2451f" transform="rotate(2 202.48 500.24)" filter="url(#bl)"/>
<rect x="47.4" y="485.5" width="9.1" height="19.2" stroke="#8a8a8a" stroke-width="0.9" fill="none"/>
<rect x="56.7" y="480.2" width="27.8" height="31.3" stroke="#8a8a8a" stroke-width="0.9" fill="none"/>
<rect x="121.5" y="486.5" width="10" height="19.5" stroke="#8a8a8a" stroke-width="0.9" fill="none"/>
<rect x="132.3" y="479.2" width="27.4" height="30" stroke="#8a8a8a" stroke-width="0.9" fill="none"/>
<rect x="196.6" y="489" width="9.9" height="19" stroke="#8a8a8a" stroke-width="0.9" fill="none"/>
<rect x="206.5" y="481.2" width="30.1" height="31.4" stroke="#8a8a8a" stroke-width="0.9" fill="none"/>
<text x="47.8" y="480.6" font-size="4.8" fill="#333">QF</text>
<text x="75.2" y="509.8" font-size="4.8" fill="#333">PF</text>
<text x="123.7" y="479" font-size="4.8" fill="#333">QF</text>
<text x="151.3" y="508" font-size="4.8" fill="#333">PF</text>
<text x="199" y="479" font-size="4.8" fill="#333">QF</text>
<text x="226.7" y="508" font-size="4.8" fill="#333">PF</text>
<rect x="42" y="471.1" width="53.7" height="56.2" stroke="#231f20" stroke-width="1.1" fill="none"/>
<path d="M42,523.07h1.3M42,520.6h1.3M42,518.84h1.3M42,517.48h1.3M42,516.37h1.3M42,515.43h1.3M42,514.61h1.3M42,513.89h1.3M42,509.02h1.3M42,506.55h1.3M42,504.79h1.3M42,503.43h1.3M42,502.32h1.3M42,501.38h1.3M42,500.56h1.3M42,499.84h1.3M42,494.97h1.3M42,492.5h1.3M42,490.74h1.3M42,489.38h1.3M42,488.27h1.3M42,487.33h1.3M42,486.51h1.3M42,485.79h1.3M42,480.92h1.3M42,478.45h1.3M42,476.69h1.3M42,475.33h1.3M42,474.22h1.3M42,473.28h1.3M42,472.46h1.3M42,471.74h1.3" stroke="#231f20" stroke-width="0.5"/>
<path d="M46.04,527.3v-1.3M48.41,527.3v-1.3M50.08,527.3v-1.3M51.38,527.3v-1.3M52.45,527.3v-1.3M53.35,527.3v-1.3M54.12,527.3v-1.3M54.81,527.3v-1.3M59.47,527.3v-1.3M61.83,527.3v-1.3M63.51,527.3v-1.3M64.81,527.3v-1.3M65.87,527.3v-1.3M66.77,527.3v-1.3M67.55,527.3v-1.3M68.24,527.3v-1.3M72.89,527.3v-1.3M75.26,527.3v-1.3M76.93,527.3v-1.3M78.23,527.3v-1.3M79.3,527.3v-1.3M80.2,527.3v-1.3M80.97,527.3v-1.3M81.66,527.3v-1.3M86.32,527.3v-1.3M88.68,527.3v-1.3M90.36,527.3v-1.3M91.66,527.3v-1.3M92.72,527.3v-1.3M93.62,527.3v-1.3M94.4,527.3v-1.3M95.09,527.3v-1.3" stroke="#231f20" stroke-width="0.5"/>
<line x1="39.6" y1="471.1" x2="42" y2="471.1" stroke="#231f20" stroke-width="0.9"/>
<text x="28" y="475.1" font-size="6.6" fill="#3a3a3a" textLength="5.6" lengthAdjust="spacingAndGlyphs">10</text>
<text x="33.9" y="471.8" font-size="3.9" fill="#3a3a3a">4</text>
<line x1="42" y1="527.3" x2="42" y2="529.7" stroke="#231f20" stroke-width="0.9"/>
<text x="38.3" y="537.9" font-size="6.6" fill="#3a3a3a" textLength="5.6" lengthAdjust="spacingAndGlyphs">10</text>
<text x="44.2" y="534.6" font-size="3.9" fill="#3a3a3a">0</text>
<line x1="39.6" y1="485.15" x2="42" y2="485.15" stroke="#231f20" stroke-width="0.9"/>
<text x="28" y="489.15" font-size="6.6" fill="#3a3a3a" textLength="5.6" lengthAdjust="spacingAndGlyphs">10</text>
<text x="33.9" y="485.85" font-size="3.9" fill="#3a3a3a">3</text>
<line x1="55.42" y1="527.3" x2="55.42" y2="529.7" stroke="#231f20" stroke-width="0.9"/>
<text x="51.72" y="537.9" font-size="6.6" fill="#3a3a3a" textLength="5.6" lengthAdjust="spacingAndGlyphs">10</text>
<text x="57.62" y="534.6" font-size="3.9" fill="#3a3a3a">1</text>
<line x1="39.6" y1="499.2" x2="42" y2="499.2" stroke="#231f20" stroke-width="0.9"/>
<text x="28" y="503.2" font-size="6.6" fill="#3a3a3a" textLength="5.6" lengthAdjust="spacingAndGlyphs">10</text>
<text x="33.9" y="499.9" font-size="3.9" fill="#3a3a3a">2</text>
<line x1="68.85" y1="527.3" x2="68.85" y2="529.7" stroke="#231f20" stroke-width="0.9"/>
<text x="65.15" y="537.9" font-size="6.6" fill="#3a3a3a" textLength="5.6" lengthAdjust="spacingAndGlyphs">10</text>
<text x="71.05" y="534.6" font-size="3.9" fill="#3a3a3a">2</text>
<line x1="39.6" y1="513.25" x2="42" y2="513.25" stroke="#231f20" stroke-width="0.9"/>
<text x="28" y="517.25" font-size="6.6" fill="#3a3a3a" textLength="5.6" lengthAdjust="spacingAndGlyphs">10</text>
<text x="33.9" y="513.95" font-size="3.9" fill="#3a3a3a">1</text>
<line x1="82.28" y1="527.3" x2="82.28" y2="529.7" stroke="#231f20" stroke-width="0.9"/>
<text x="78.58" y="537.9" font-size="6.6" fill="#3a3a3a" textLength="5.6" lengthAdjust="spacingAndGlyphs">10</text>
<text x="84.47" y="534.6" font-size="3.9" fill="#3a3a3a">3</text>
<line x1="39.6" y1="527.3" x2="42" y2="527.3" stroke="#231f20" stroke-width="0.9"/>
<text x="28" y="531.3" font-size="6.6" fill="#3a3a3a" textLength="5.6" lengthAdjust="spacingAndGlyphs">10</text>
<text x="33.9" y="528" font-size="3.9" fill="#3a3a3a">0</text>
<line x1="95.7" y1="527.3" x2="95.7" y2="529.7" stroke="#231f20" stroke-width="0.9"/>
<text x="92" y="537.9" font-size="6.6" fill="#3a3a3a" textLength="5.6" lengthAdjust="spacingAndGlyphs">10</text>
<text x="97.9" y="534.6" font-size="3.9" fill="#3a3a3a">4</text>
<rect x="117.4" y="470.6" width="53.9" height="56.7" stroke="#231f20" stroke-width="1.1" fill="none"/>
<path d="M117.4,523.03h1.3M117.4,520.54h1.3M117.4,518.77h1.3M117.4,517.39h1.3M117.4,516.27h1.3M117.4,515.32h1.3M117.4,514.5h1.3M117.4,513.77h1.3M117.4,508.86h1.3M117.4,506.36h1.3M117.4,504.59h1.3M117.4,503.22h1.3M117.4,502.09h1.3M117.4,501.15h1.3M117.4,500.32h1.3M117.4,499.6h1.3M117.4,494.68h1.3M117.4,492.19h1.3M117.4,490.42h1.3M117.4,489.04h1.3M117.4,487.92h1.3M117.4,486.97h1.3M117.4,486.15h1.3M117.4,485.42h1.3M117.4,480.51h1.3M117.4,478.01h1.3M117.4,476.24h1.3M117.4,474.87h1.3M117.4,473.74h1.3M117.4,472.8h1.3M117.4,471.97h1.3M117.4,471.25h1.3" stroke="#231f20" stroke-width="0.5"/>
<path d="M121.46,527.3v-1.3M123.83,527.3v-1.3M125.51,527.3v-1.3M126.82,527.3v-1.3M127.89,527.3v-1.3M128.79,527.3v-1.3M129.57,527.3v-1.3M130.26,527.3v-1.3M134.93,527.3v-1.3M137.3,527.3v-1.3M138.99,527.3v-1.3M140.29,527.3v-1.3M141.36,527.3v-1.3M142.26,527.3v-1.3M143.04,527.3v-1.3M143.73,527.3v-1.3M148.41,527.3v-1.3M150.78,527.3v-1.3M152.46,527.3v-1.3M153.77,527.3v-1.3M154.84,527.3v-1.3M155.74,527.3v-1.3M156.52,527.3v-1.3M157.21,527.3v-1.3M161.88,527.3v-1.3M164.25,527.3v-1.3M165.94,527.3v-1.3M167.24,527.3v-1.3M168.31,527.3v-1.3M169.21,527.3v-1.3M169.99,527.3v-1.3M170.68,527.3v-1.3" stroke="#231f20" stroke-width="0.5"/>
<line x1="115" y1="470.6" x2="117.4" y2="470.6" stroke="#231f20" stroke-width="0.9"/>
<text x="103.4" y="474.6" font-size="6.6" fill="#3a3a3a" textLength="5.6" lengthAdjust="spacingAndGlyphs">10</text>
<text x="109.3" y="471.3" font-size="3.9" fill="#3a3a3a">4</text>
<line x1="117.4" y1="527.3" x2="117.4" y2="529.7" stroke="#231f20" stroke-width="0.9"/>
<text x="113.7" y="537.9" font-size="6.6" fill="#3a3a3a" textLength="5.6" lengthAdjust="spacingAndGlyphs">10</text>
<text x="119.6" y="534.6" font-size="3.9" fill="#3a3a3a">0</text>
<line x1="115" y1="484.77" x2="117.4" y2="484.77" stroke="#231f20" stroke-width="0.9"/>
<text x="103.4" y="488.77" font-size="6.6" fill="#3a3a3a" textLength="5.6" lengthAdjust="spacingAndGlyphs">10</text>
<text x="109.3" y="485.47" font-size="3.9" fill="#3a3a3a">3</text>
<line x1="130.88" y1="527.3" x2="130.88" y2="529.7" stroke="#231f20" stroke-width="0.9"/>
<text x="127.17" y="537.9" font-size="6.6" fill="#3a3a3a" textLength="5.6" lengthAdjust="spacingAndGlyphs">10</text>
<text x="133.08" y="534.6" font-size="3.9" fill="#3a3a3a">1</text>
<line x1="115" y1="498.95" x2="117.4" y2="498.95" stroke="#231f20" stroke-width="0.9"/>
<text x="103.4" y="502.95" font-size="6.6" fill="#3a3a3a" textLength="5.6" lengthAdjust="spacingAndGlyphs">10</text>
<text x="109.3" y="499.65" font-size="3.9" fill="#3a3a3a">2</text>
<line x1="144.35" y1="527.3" x2="144.35" y2="529.7" stroke="#231f20" stroke-width="0.9"/>
<text x="140.65" y="537.9" font-size="6.6" fill="#3a3a3a" textLength="5.6" lengthAdjust="spacingAndGlyphs">10</text>
<text x="146.55" y="534.6" font-size="3.9" fill="#3a3a3a">2</text>
<line x1="115" y1="513.12" x2="117.4" y2="513.12" stroke="#231f20" stroke-width="0.9"/>
<text x="103.4" y="517.12" font-size="6.6" fill="#3a3a3a" textLength="5.6" lengthAdjust="spacingAndGlyphs">10</text>
<text x="109.3" y="513.83" font-size="3.9" fill="#3a3a3a">1</text>
<line x1="157.83" y1="527.3" x2="157.83" y2="529.7" stroke="#231f20" stroke-width="0.9"/>
<text x="154.13" y="537.9" font-size="6.6" fill="#3a3a3a" textLength="5.6" lengthAdjust="spacingAndGlyphs">10</text>
<text x="160.03" y="534.6" font-size="3.9" fill="#3a3a3a">3</text>
<line x1="115" y1="527.3" x2="117.4" y2="527.3" stroke="#231f20" stroke-width="0.9"/>
<text x="103.4" y="531.3" font-size="6.6" fill="#3a3a3a" textLength="5.6" lengthAdjust="spacingAndGlyphs">10</text>
<text x="109.3" y="528" font-size="3.9" fill="#3a3a3a">0</text>
<line x1="171.3" y1="527.3" x2="171.3" y2="529.7" stroke="#231f20" stroke-width="0.9"/>
<text x="167.6" y="537.9" font-size="6.6" fill="#3a3a3a" textLength="5.6" lengthAdjust="spacingAndGlyphs">10</text>
<text x="173.5" y="534.6" font-size="3.9" fill="#3a3a3a">4</text>
<rect x="195.4" y="470.3" width="55.4" height="56.8" stroke="#231f20" stroke-width="1.1" fill="none"/>
<path d="M195.4,522.83h1.3M195.4,520.32h1.3M195.4,518.55h1.3M195.4,517.17h1.3M195.4,516.05h1.3M195.4,515.1h1.3M195.4,514.28h1.3M195.4,513.55h1.3M195.4,508.63h1.3M195.4,506.12h1.3M195.4,504.35h1.3M195.4,502.97h1.3M195.4,501.85h1.3M195.4,500.9h1.3M195.4,500.08h1.3M195.4,499.35h1.3M195.4,494.43h1.3M195.4,491.92h1.3M195.4,490.15h1.3M195.4,488.77h1.3M195.4,487.65h1.3M195.4,486.7h1.3M195.4,485.88h1.3M195.4,485.15h1.3M195.4,480.23h1.3M195.4,477.72h1.3M195.4,475.95h1.3M195.4,474.57h1.3M195.4,473.45h1.3M195.4,472.5h1.3M195.4,471.68h1.3M195.4,470.95h1.3" stroke="#231f20" stroke-width="0.5"/>
<path d="M199.57,527.1v-1.3M202.01,527.1v-1.3M203.74,527.1v-1.3M205.08,527.1v-1.3M206.18,527.1v-1.3M207.1,527.1v-1.3M207.91,527.1v-1.3M208.62,527.1v-1.3M213.42,527.1v-1.3M215.86,527.1v-1.3M217.59,527.1v-1.3M218.93,527.1v-1.3M220.03,527.1v-1.3M220.95,527.1v-1.3M221.76,527.1v-1.3M222.47,527.1v-1.3M227.27,527.1v-1.3M229.71,527.1v-1.3M231.44,527.1v-1.3M232.78,527.1v-1.3M233.88,527.1v-1.3M234.8,527.1v-1.3M235.61,527.1v-1.3M236.32,527.1v-1.3M241.12,527.1v-1.3M243.56,527.1v-1.3M245.29,527.1v-1.3M246.63,527.1v-1.3M247.73,527.1v-1.3M248.65,527.1v-1.3M249.46,527.1v-1.3M250.17,527.1v-1.3" stroke="#231f20" stroke-width="0.5"/>
<line x1="193" y1="470.3" x2="195.4" y2="470.3" stroke="#231f20" stroke-width="0.9"/>
<text x="181.4" y="474.3" font-size="6.6" fill="#3a3a3a" textLength="5.6" lengthAdjust="spacingAndGlyphs">10</text>
<text x="187.3" y="471" font-size="3.9" fill="#3a3a3a">4</text>
<line x1="195.4" y1="527.1" x2="195.4" y2="529.5" stroke="#231f20" stroke-width="0.9"/>
<text x="191.7" y="537.7" font-size="6.6" fill="#3a3a3a" textLength="5.6" lengthAdjust="spacingAndGlyphs">10</text>
<text x="197.6" y="534.4" font-size="3.9" fill="#3a3a3a">0</text>
<line x1="193" y1="484.5" x2="195.4" y2="484.5" stroke="#231f20" stroke-width="0.9"/>
<text x="181.4" y="488.5" font-size="6.6" fill="#3a3a3a" textLength="5.6" lengthAdjust="spacingAndGlyphs">10</text>
<text x="187.3" y="485.2" font-size="3.9" fill="#3a3a3a">3</text>
<line x1="209.25" y1="527.1" x2="209.25" y2="529.5" stroke="#231f20" stroke-width="0.9"/>
<text x="205.55" y="537.7" font-size="6.6" fill="#3a3a3a" textLength="5.6" lengthAdjust="spacingAndGlyphs">10</text>
<text x="211.45" y="534.4" font-size="3.9" fill="#3a3a3a">1</text>
<line x1="193" y1="498.7" x2="195.4" y2="498.7" stroke="#231f20" stroke-width="0.9"/>
<text x="181.4" y="502.7" font-size="6.6" fill="#3a3a3a" textLength="5.6" lengthAdjust="spacingAndGlyphs">10</text>
<text x="187.3" y="499.4" font-size="3.9" fill="#3a3a3a">2</text>
<line x1="223.1" y1="527.1" x2="223.1" y2="529.5" stroke="#231f20" stroke-width="0.9"/>
<text x="219.4" y="537.7" font-size="6.6" fill="#3a3a3a" textLength="5.6" lengthAdjust="spacingAndGlyphs">10</text>
<text x="225.3" y="534.4" font-size="3.9" fill="#3a3a3a">2</text>
<line x1="193" y1="512.9" x2="195.4" y2="512.9" stroke="#231f20" stroke-width="0.9"/>
<text x="181.4" y="516.9" font-size="6.6" fill="#3a3a3a" textLength="5.6" lengthAdjust="spacingAndGlyphs">10</text>
<text x="187.3" y="513.6" font-size="3.9" fill="#3a3a3a">1</text>
<line x1="236.95" y1="527.1" x2="236.95" y2="529.5" stroke="#231f20" stroke-width="0.9"/>
<text x="233.25" y="537.7" font-size="6.6" fill="#3a3a3a" textLength="5.6" lengthAdjust="spacingAndGlyphs">10</text>
<text x="239.15" y="534.4" font-size="3.9" fill="#3a3a3a">3</text>
<line x1="193" y1="527.1" x2="195.4" y2="527.1" stroke="#231f20" stroke-width="0.9"/>
<text x="181.4" y="531.1" font-size="6.6" fill="#3a3a3a" textLength="5.6" lengthAdjust="spacingAndGlyphs">10</text>
<text x="187.3" y="527.8" font-size="3.9" fill="#3a3a3a">0</text>
<line x1="250.8" y1="527.1" x2="250.8" y2="529.5" stroke="#231f20" stroke-width="0.9"/>
<text x="247.1" y="537.7" font-size="6.6" fill="#3a3a3a" textLength="5.6" lengthAdjust="spacingAndGlyphs">10</text>
<text x="253" y="534.4" font-size="3.9" fill="#3a3a3a">4</text>
<path d="M38.4,634.4 L38.4,634.4 L38.8,634.4 L39.2,634.4 L39.6,634.4 L40,634.4 L40.4,634.4 L40.8,634.4 L41.2,634.4 L41.6,634.4 L42,634.4 L42.4,634.4 L42.8,634.4 L43.2,634.4 L43.6,634.4 L44,634.4 L44.4,634.4 L44.8,634.4 L45.2,634.4 L45.6,634.4 L46,634.09 L46.4,633.81 L46.8,633.31 L47.2,632.48 L47.6,631.16 L48,629.19 L48.4,626.37 L48.8,622.56 L49.2,617.71 L49.6,611.89 L50,605.35 L50.4,598.55 L50.8,592.07 L51.2,586.58 L51.6,582.72 L52,580.97 L52.4,581.73 L52.8,585.25 L53.2,591.01 L53.6,598.15 L54,605.75 L54.4,612.98 L54.8,619.24 L55.2,624.25 L55.6,627.97 L56,630.55 L56.4,632.22 L56.8,633.23 L57.2,633.81 L57.6,634.11 L58,634.4 L58.4,634.4 L58.8,634.4 L59.2,634.4 L59.6,634.4 L60,634.4 L60.4,634.4 L60.8,634.4 L61.2,634.4 L61.6,634.4 L62,634.4 L62.4,634.4 L62.8,634.4 L63.2,634.4 L63.6,634.4 L64,634.4 L64.4,634.4 L64.8,634.4 L65.2,634.4 L65.6,634.4 L66,634.4 L66.4,634.4 L66.8,634.4 L67.2,634.4 L67.6,634.4 L68,634.4 L68.4,634.4 L68.8,634.4 L69.2,634.4 L69.6,634.4 L70,634.4 L70.4,634.4 L70.8,634.4 L71.2,634.4 L71.6,634.4 L72,634.4 L72.4,634.4 L72.8,634.4 L73.2,634.4 L73.6,634.4 L74,634.4 L74.4,634.4 L74.8,634.4 L75.2,634.4 L75.6,634.4 L76,634.4 L76.4,634.4 L76.8,634.4 L77.2,634.4 L77.6,634.4 L78,634.4 L78.4,634.4 L78.8,634.4 L79.2,634.4 L79.6,634.4 L80,634.4 L80.4,634.4 L80.8,634.4 L81.2,634.4 L81.6,634.4 L82,634.4 L82.4,634.4 L82.8,634.4 L83.2,634.4 L83.6,634.4 L84,634.4 L84.4,634.4 L84.8,634.4 L85.2,634.4 L85.6,634.4 L86,634.4 L86.4,634.4 L86.8,634.4 L87.2,634.4 L87.6,634.4 L88,634.4 L88.4,634.4 L88.8,634.4 L89.2,634.4 L89.6,634.4 L90,634.4 L90.4,634.4 L90.8,634.4 L91.2,634.4 L91.6,634.4 L92,634.4 L92.4,634.4 L92.8,634.4 L93.2,634.4 L93.6,634.4 L94,634.4 L94.4,634.4 L94.8,634.4 L95.2,634.4 L95.6,634.4 L96,634.4 L96.4,634.4 L96.8,634.4 L97.2,634.4 L97.6,634.4 L98,634.4 L98.4,634.4 L98.8,634.4 L99.2,634.4 L99.6,634.4 L100,634.4 L100.4,634.4 L100.8,634.4 L101.2,634.4 L101.6,634.4 L102,634.4 L102.4,634.4 L102.8,634.4 L103.2,634.4 L103.6,634.4 L104,634.4 L104.4,634.4 L104.8,634.4 L105.2,634.4 L105.6,634.4 L106,634.4 L106.4,634.4 L106.8,634.4 L107.2,634.4 L107.6,634.4 L108,634.4 L108.4,634.4 L108.8,634.4 L109.2,634.4 L109.6,634.4 L110,634.4 L110.4,634.4 L110.8,634.4 L111.2,634.4 L111.6,634.4 L112,634.4 L112.4,634.4 L112.8,634.4 L113.2,634.4 L113.6,634.4 L113.6,634.4 Z" fill="#8f6e98" stroke="none" stroke-width="1" opacity="0.85"/>
<path d="M38.4,634.4 L38.8,634.4 L39.2,634.4 L39.6,634.4 L40,634.4 L40.4,634.4 L40.8,634.4 L41.2,634.4 L41.6,634.4 L42,634.4 L42.4,634.4 L42.8,634.4 L43.2,634.4 L43.6,634.4 L44,634.4 L44.4,634.4 L44.8,634.4 L45.2,634.4 L45.6,634.4 L46,634.09 L46.4,633.81 L46.8,633.31 L47.2,632.48 L47.6,631.16 L48,629.19 L48.4,626.37 L48.8,622.56 L49.2,617.71 L49.6,611.89 L50,605.35 L50.4,598.55 L50.8,592.07 L51.2,586.58 L51.6,582.72 L52,580.97 L52.4,581.73 L52.8,585.25 L53.2,591.01 L53.6,598.15 L54,605.75 L54.4,612.98 L54.8,619.24 L55.2,624.25 L55.6,627.97 L56,630.55 L56.4,632.22 L56.8,633.23 L57.2,633.81 L57.6,634.11 L58,634.4 L58.4,634.4 L58.8,634.4 L59.2,634.4 L59.6,634.4 L60,634.4 L60.4,634.4 L60.8,634.4 L61.2,634.4 L61.6,634.4 L62,634.4 L62.4,634.4 L62.8,634.4 L63.2,634.4 L63.6,634.4 L64,634.4 L64.4,634.4 L64.8,634.4 L65.2,634.4 L65.6,634.4 L66,634.4 L66.4,634.4 L66.8,634.4 L67.2,634.4 L67.6,634.4 L68,634.4 L68.4,634.4 L68.8,634.4 L69.2,634.4 L69.6,634.4 L70,634.4 L70.4,634.4 L70.8,634.4 L71.2,634.4 L71.6,634.4 L72,634.4 L72.4,634.4 L72.8,634.4 L73.2,634.4 L73.6,634.4 L74,634.4 L74.4,634.4 L74.8,634.4 L75.2,634.4 L75.6,634.4 L76,634.4 L76.4,634.4 L76.8,634.4 L77.2,634.4 L77.6,634.4 L78,634.4 L78.4,634.4 L78.8,634.4 L79.2,634.4 L79.6,634.4 L80,634.4 L80.4,634.4 L80.8,634.4 L81.2,634.4 L81.6,634.4 L82,634.4 L82.4,634.4 L82.8,634.4 L83.2,634.4 L83.6,634.4 L84,634.4 L84.4,634.4 L84.8,634.4 L85.2,634.4 L85.6,634.4 L86,634.4 L86.4,634.4 L86.8,634.4 L87.2,634.4 L87.6,634.4 L88,634.4 L88.4,634.4 L88.8,634.4 L89.2,634.4 L89.6,634.4 L90,634.4 L90.4,634.4 L90.8,634.4 L91.2,634.4 L91.6,634.4 L92,634.4 L92.4,634.4 L92.8,634.4 L93.2,634.4 L93.6,634.4 L94,634.4 L94.4,634.4 L94.8,634.4 L95.2,634.4 L95.6,634.4 L96,634.4 L96.4,634.4 L96.8,634.4 L97.2,634.4 L97.6,634.4 L98,634.4 L98.4,634.4 L98.8,634.4 L99.2,634.4 L99.6,634.4 L100,634.4 L100.4,634.4 L100.8,634.4 L101.2,634.4 L101.6,634.4 L102,634.4 L102.4,634.4 L102.8,634.4 L103.2,634.4 L103.6,634.4 L104,634.4 L104.4,634.4 L104.8,634.4 L105.2,634.4 L105.6,634.4 L106,634.4 L106.4,634.4 L106.8,634.4 L107.2,634.4 L107.6,634.4 L108,634.4 L108.4,634.4 L108.8,634.4 L109.2,634.4 L109.6,634.4 L110,634.4 L110.4,634.4 L110.8,634.4 L111.2,634.4 L111.6,634.4 L112,634.4 L112.4,634.4 L112.8,634.4 L113.2,634.4 L113.6,634.4" fill="none" stroke="#7d5e85" stroke-width="0.9" stroke-dasharray="1.6,1" stroke-linejoin="round"/>
<path d="M38.4,634.4 L38.8,634.4 L39.2,634.4 L39.6,634.4 L40,634.4 L40.4,634.4 L40.8,634.4 L41.2,634.4 L41.6,634.4 L42,634.4 L42.4,634.4 L42.8,634.4 L43.2,634.4 L43.6,634.4 L44,634.4 L44.4,634.19 L44.8,634.05 L45.2,633.84 L45.6,633.52 L46,633.05 L46.4,632.39 L46.8,631.46 L47.2,630.21 L47.6,628.56 L48,626.45 L48.4,623.84 L48.8,620.7 L49.2,617.04 L49.6,612.92 L50,608.45 L50.4,603.77 L50.8,599.1 L51.2,594.66 L51.6,590.72 L52,587.5 L52.4,585.23 L52.8,584.05 L53.2,584.11 L53.6,585.74 L54,588.86 L54.4,593.16 L54.8,598.26 L55.2,603.77 L55.6,609.28 L56,614.47 L56.4,619.1 L56.8,623.04 L57.2,626.24 L57.6,628.73 L58,630.58 L58.4,631.92 L58.8,632.84 L59.2,633.45 L59.6,633.84 L60,634.08 L60.4,634.4 L60.8,634.4 L61.2,634.4 L61.6,634.4 L62,634.4 L62.4,634.4 L62.8,634.4 L63.2,634.4 L63.6,634.4 L64,634.4 L64.4,634.4 L64.8,634.4 L65.2,634.4 L65.6,634.4 L66,634.4 L66.4,634.4 L66.8,634.4 L67.2,634.4 L67.6,634.4 L68,634.4 L68.4,634.4 L68.8,634.4 L69.2,634.4 L69.6,634.4 L70,634.4 L70.4,634.4 L70.8,634.4 L71.2,634.4 L71.6,634.4 L72,634.4 L72.4,634.4 L72.8,634.4 L73.2,634.4 L73.6,634.4 L74,634.4 L74.4,634.4 L74.8,634.4 L75.2,634.4 L75.6,634.4 L76,634.4 L76.4,634.4 L76.8,634.4 L77.2,634.4 L77.6,634.4 L78,634.4 L78.4,634.4 L78.8,634.4 L79.2,634.4 L79.6,634.4 L80,634.4 L80.4,634.4 L80.8,634.4 L81.2,634.4 L81.6,634.4 L82,634.4 L82.4,634.4 L82.8,634.4 L83.2,634.4 L83.6,634.4 L84,634.4 L84.4,634.4 L84.8,634.4 L85.2,634.4 L85.6,634.4 L86,634.4 L86.4,634.4 L86.8,634.4 L87.2,634.4 L87.6,634.4 L88,634.4 L88.4,634.4 L88.8,634.4 L89.2,634.4 L89.6,634.4 L90,634.4 L90.4,634.4 L90.8,634.4 L91.2,634.4 L91.6,634.4 L92,634.4 L92.4,634.4 L92.8,634.4 L93.2,634.4 L93.6,634.4 L94,634.4 L94.4,634.4 L94.8,634.4 L95.2,634.4 L95.6,634.4 L96,634.4 L96.4,634.4 L96.8,634.4 L97.2,634.4 L97.6,634.4 L98,634.4 L98.4,634.4 L98.8,634.4 L99.2,634.4 L99.6,634.4 L100,634.4 L100.4,634.4 L100.8,634.4 L101.2,634.4 L101.6,634.4 L102,634.4 L102.4,634.4 L102.8,634.4 L103.2,634.4 L103.6,634.4 L104,634.4 L104.4,634.4 L104.8,634.4 L105.2,634.4 L105.6,634.4 L106,634.4 L106.4,634.4 L106.8,634.4 L107.2,634.4 L107.6,634.4 L108,634.4 L108.4,634.4 L108.8,634.4 L109.2,634.4 L109.6,634.4 L110,634.4 L110.4,634.4 L110.8,634.4 L111.2,634.4 L111.6,634.4 L112,634.4 L112.4,634.4 L112.8,634.4 L113.2,634.4 L113.6,634.4" fill="none" stroke="#c0485a" stroke-width="0.9" stroke-linejoin="round"/>
<path d="M38.4,634.4 L38.8,634.4 L39.2,634.4 L39.6,634.4 L40,634.4 L40.4,634.4 L40.8,634.4 L41.2,634.4 L41.6,634.4 L42,634.4 L42.4,634.4 L42.8,634.4 L43.2,634.4 L43.6,634.4 L44,634.4 L44.4,634.4 L44.8,634.4 L45.2,634.4 L45.6,634.4 L46,634.4 L46.4,634.4 L46.8,634.4 L47.2,634.4 L47.6,634.4 L48,634.4 L48.4,634.17 L48.8,634.04 L49.2,633.83 L49.6,633.51 L50,633.06 L50.4,632.43 L50.8,631.55 L51.2,630.37 L51.6,628.83 L52,626.87 L52.4,624.44 L52.8,621.51 L53.2,618.08 L53.6,614.18 L54,609.9 L54.4,605.36 L54.8,600.72 L55.2,596.19 L55.6,592 L56,588.36 L56.4,585.49 L56.8,583.58 L57.2,582.74 L57.6,583.07 L58,584.69 L58.4,587.47 L58.8,591.22 L59.2,595.67 L59.6,600.54 L60,605.55 L60.4,610.43 L60.8,615 L61.2,619.09 L61.6,622.62 L62,625.57 L62.4,627.95 L62.8,629.8 L63.2,631.21 L63.6,632.24 L64,632.97 L64.4,633.48 L64.8,633.83 L65.2,634.05 L65.6,634.19 L66,634.4 L66.4,634.4 L66.8,634.4 L67.2,634.4 L67.6,634.4 L68,634.4 L68.4,634.4 L68.8,634.4 L69.2,634.4 L69.6,634.4 L70,634.4 L70.4,634.4 L70.8,634.4 L71.2,634.4 L71.6,634.4 L72,634.4 L72.4,634.4 L72.8,634.4 L73.2,634.4 L73.6,634.4 L74,634.4 L74.4,634.4 L74.8,634.4 L75.2,634.4 L75.6,634.4 L76,634.4 L76.4,634.4 L76.8,634.4 L77.2,634.4 L77.6,634.4 L78,634.4 L78.4,634.4 L78.8,634.4 L79.2,634.4 L79.6,634.4 L80,634.4 L80.4,634.4 L80.8,634.4 L81.2,634.4 L81.6,634.4 L82,634.4 L82.4,634.4 L82.8,634.4 L83.2,634.4 L83.6,634.4 L84,634.4 L84.4,634.4 L84.8,634.4 L85.2,634.4 L85.6,634.4 L86,634.4 L86.4,634.4 L86.8,634.4 L87.2,634.4 L87.6,634.4 L88,634.4 L88.4,634.4 L88.8,634.4 L89.2,634.4 L89.6,634.4 L90,634.4 L90.4,634.4 L90.8,634.4 L91.2,634.4 L91.6,634.4 L92,634.4 L92.4,634.4 L92.8,634.4 L93.2,634.4 L93.6,634.4 L94,634.4 L94.4,634.4 L94.8,634.4 L95.2,634.4 L95.6,634.4 L96,634.4 L96.4,634.4 L96.8,634.4 L97.2,634.4 L97.6,634.4 L98,634.4 L98.4,634.4 L98.8,634.4 L99.2,634.4 L99.6,634.4 L100,634.4 L100.4,634.4 L100.8,634.4 L101.2,634.4 L101.6,634.4 L102,634.4 L102.4,634.4 L102.8,634.4 L103.2,634.4 L103.6,634.4 L104,634.4 L104.4,634.4 L104.8,634.4 L105.2,634.4 L105.6,634.4 L106,634.4 L106.4,634.4 L106.8,634.4 L107.2,634.4 L107.6,634.4 L108,634.4 L108.4,634.4 L108.8,634.4 L109.2,634.4 L109.6,634.4 L110,634.4 L110.4,634.4 L110.8,634.4 L111.2,634.4 L111.6,634.4 L112,634.4 L112.4,634.4 L112.8,634.4 L113.2,634.4 L113.6,634.4" fill="none" stroke="#7ab84e" stroke-width="0.9" stroke-linejoin="round"/>
<path d="M38.4,634.4 L38.8,634.4 L39.2,634.4 L39.6,634.4 L40,634.4 L40.4,634.4 L40.8,634.4 L41.2,634.4 L41.6,634.4 L42,634.4 L42.4,634.4 L42.8,634.4 L43.2,634.4 L43.6,634.4 L44,634.4 L44.4,634.4 L44.8,634.4 L45.2,634.4 L45.6,634.4 L46,634.4 L46.4,634.4 L46.8,634.4 L47.2,634.4 L47.6,634.4 L48,634.4 L48.4,634.4 L48.8,634.4 L49.2,634.4 L49.6,634.4 L50,634.2 L50.4,634.07 L50.8,633.86 L51.2,633.56 L51.6,633.1 L52,632.44 L52.4,631.53 L52.8,630.28 L53.2,628.63 L53.6,626.5 L54,623.84 L54.4,620.62 L54.8,616.84 L55.2,612.54 L55.6,607.82 L56,602.85 L56.4,597.82 L56.8,592.98 L57.2,588.59 L57.6,584.93 L58,582.23 L58.4,580.66 L58.8,580.33 L59.2,581.1 L59.6,582.84 L60,585.47 L60.4,588.84 L60.8,592.78 L61.2,597.09 L61.6,601.59 L62,606.09 L62.4,610.43 L62.8,614.49 L63.2,618.17 L63.6,621.42 L64,624.22 L64.4,626.56 L64.8,628.48 L65.2,630.01 L65.6,631.21 L66,632.12 L66.4,632.81 L66.8,633.31 L67.2,633.66 L67.6,633.91 L68,634.08 L68.4,634.2 L68.8,634.4 L69.2,634.4 L69.6,634.4 L70,634.4 L70.4,634.4 L70.8,634.4 L71.2,634.4 L71.6,634.4 L72,634.4 L72.4,634.4 L72.8,634.4 L73.2,634.4 L73.6,634.4 L74,634.4 L74.4,634.4 L74.8,634.4 L75.2,634.4 L75.6,634.4 L76,634.4 L76.4,634.4 L76.8,634.4 L77.2,634.4 L77.6,634.4 L78,634.4 L78.4,634.4 L78.8,634.4 L79.2,634.4 L79.6,634.4 L80,634.4 L80.4,634.4 L80.8,634.4 L81.2,634.4 L81.6,634.4 L82,634.4 L82.4,634.4 L82.8,634.4 L83.2,634.4 L83.6,634.4 L84,634.4 L84.4,634.4 L84.8,634.4 L85.2,634.4 L85.6,634.4 L86,634.4 L86.4,634.4 L86.8,634.4 L87.2,634.4 L87.6,634.4 L88,634.4 L88.4,634.4 L88.8,634.4 L89.2,634.4 L89.6,634.4 L90,634.4 L90.4,634.4 L90.8,634.4 L91.2,634.4 L91.6,634.4 L92,634.4 L92.4,634.4 L92.8,634.4 L93.2,634.4 L93.6,634.4 L94,634.4 L94.4,634.4 L94.8,634.4 L95.2,634.4 L95.6,634.4 L96,634.4 L96.4,634.4 L96.8,634.4 L97.2,634.4 L97.6,634.4 L98,634.4 L98.4,634.4 L98.8,634.4 L99.2,634.4 L99.6,634.4 L100,634.4 L100.4,634.4 L100.8,634.4 L101.2,634.4 L101.6,634.4 L102,634.4 L102.4,634.4 L102.8,634.4 L103.2,634.4 L103.6,634.4 L104,634.4 L104.4,634.4 L104.8,634.4 L105.2,634.4 L105.6,634.4 L106,634.4 L106.4,634.4 L106.8,634.4 L107.2,634.4 L107.6,634.4 L108,634.4 L108.4,634.4 L108.8,634.4 L109.2,634.4 L109.6,634.4 L110,634.4 L110.4,634.4 L110.8,634.4 L111.2,634.4 L111.6,634.4 L112,634.4 L112.4,634.4 L112.8,634.4 L113.2,634.4 L113.6,634.4" fill="none" stroke="#4a6fa5" stroke-width="0.9" stroke-linejoin="round"/>
<rect x="37.4" y="565.7" width="77.5" height="68.7" stroke="#231f20" stroke-width="1.1" fill="none"/>
<path d="M43.23,634.4v-1.3M46.64,634.4v-1.3M49.06,634.4v-1.3M50.94,634.4v-1.3M52.48,634.4v-1.3M53.77,634.4v-1.3M54.9,634.4v-1.3M55.89,634.4v-1.3M62.61,634.4v-1.3M66.02,634.4v-1.3M68.44,634.4v-1.3M70.32,634.4v-1.3M71.85,634.4v-1.3M73.15,634.4v-1.3M74.27,634.4v-1.3M75.26,634.4v-1.3M81.98,634.4v-1.3M85.39,634.4v-1.3M87.81,634.4v-1.3M89.69,634.4v-1.3M91.23,634.4v-1.3M92.52,634.4v-1.3M93.65,634.4v-1.3M94.64,634.4v-1.3M101.36,634.4v-1.3M104.77,634.4v-1.3M107.19,634.4v-1.3M109.07,634.4v-1.3M110.6,634.4v-1.3M111.9,634.4v-1.3M113.02,634.4v-1.3M114.01,634.4v-1.3" stroke="#231f20" stroke-width="0.5"/>
<path d="M37.4,565.7h1.3M37.4,568.45h1.3M37.4,571.2h1.3M37.4,573.94h1.3M37.4,576.69h1.3M37.4,579.44h1.3M37.4,582.19h1.3M37.4,584.94h1.3M37.4,587.68h1.3M37.4,590.43h1.3M37.4,593.18h1.3M37.4,595.93h1.3M37.4,598.68h1.3M37.4,601.42h1.3M37.4,604.17h1.3M37.4,606.92h1.3M37.4,609.67h1.3M37.4,612.42h1.3M37.4,615.16h1.3M37.4,617.91h1.3M37.4,620.66h1.3M37.4,623.41h1.3M37.4,626.16h1.3M37.4,628.9h1.3M37.4,631.65h1.3M37.4,634.4h1.3" stroke="#231f20" stroke-width="0.5"/>
<line x1="35" y1="565.7" x2="37.4" y2="565.7" stroke="#231f20" stroke-width="0.9"/>
<text x="32.2" y="568" font-size="6.4" fill="#333" text-anchor="end" textLength="6.2" lengthAdjust="spacingAndGlyphs">50</text>
<line x1="35" y1="579.44" x2="37.4" y2="579.44" stroke="#231f20" stroke-width="0.9"/>
<text x="32.2" y="581.74" font-size="6.4" fill="#333" text-anchor="end" textLength="6.2" lengthAdjust="spacingAndGlyphs">40</text>
<line x1="35" y1="593.18" x2="37.4" y2="593.18" stroke="#231f20" stroke-width="0.9"/>
<text x="32.2" y="595.48" font-size="6.4" fill="#333" text-anchor="end" textLength="6.2" lengthAdjust="spacingAndGlyphs">30</text>
<line x1="35" y1="606.92" x2="37.4" y2="606.92" stroke="#231f20" stroke-width="0.9"/>
<text x="32.2" y="609.22" font-size="6.4" fill="#333" text-anchor="end" textLength="6.2" lengthAdjust="spacingAndGlyphs">20</text>
<line x1="35" y1="620.66" x2="37.4" y2="620.66" stroke="#231f20" stroke-width="0.9"/>
<text x="32.2" y="622.96" font-size="6.4" fill="#333" text-anchor="end" textLength="6.2" lengthAdjust="spacingAndGlyphs">10</text>
<line x1="35" y1="634.4" x2="37.4" y2="634.4" stroke="#231f20" stroke-width="0.9"/>
<text x="32.2" y="636.7" font-size="6.4" fill="#333" text-anchor="end" textLength="3.1" lengthAdjust="spacingAndGlyphs">0</text>
<line x1="37.4" y1="634.4" x2="37.4" y2="636.8" stroke="#231f20" stroke-width="0.9"/>
<text x="33.7" y="645" font-size="6.6" fill="#3a3a3a" textLength="5.6" lengthAdjust="spacingAndGlyphs">10</text>
<text x="39.6" y="641.7" font-size="3.9" fill="#3a3a3a">0</text>
<line x1="56.77" y1="634.4" x2="56.77" y2="636.8" stroke="#231f20" stroke-width="0.9"/>
<text x="53.07" y="645" font-size="6.6" fill="#3a3a3a" textLength="5.6" lengthAdjust="spacingAndGlyphs">10</text>
<text x="58.97" y="641.7" font-size="3.9" fill="#3a3a3a">1</text>
<line x1="76.15" y1="634.4" x2="76.15" y2="636.8" stroke="#231f20" stroke-width="0.9"/>
<text x="72.45" y="645" font-size="6.6" fill="#3a3a3a" textLength="5.6" lengthAdjust="spacingAndGlyphs">10</text>
<text x="78.35" y="641.7" font-size="3.9" fill="#3a3a3a">2</text>
<line x1="95.53" y1="634.4" x2="95.53" y2="636.8" stroke="#231f20" stroke-width="0.9"/>
<text x="91.83" y="645" font-size="6.6" fill="#3a3a3a" textLength="5.6" lengthAdjust="spacingAndGlyphs">10</text>
<text x="97.72" y="641.7" font-size="3.9" fill="#3a3a3a">3</text>
<line x1="114.9" y1="634.4" x2="114.9" y2="636.8" stroke="#231f20" stroke-width="0.9"/>
<text x="111.2" y="645" font-size="6.6" fill="#3a3a3a" textLength="5.6" lengthAdjust="spacingAndGlyphs">10</text>
<text x="117.1" y="641.7" font-size="3.9" fill="#3a3a3a">4</text>
<line x1="73.9" y1="571.3" x2="81.2" y2="571.3" stroke="#c0485a" stroke-width="1.0"/>
<text x="83.8" y="573.2" font-size="5.4" fill="#333" textLength="21.2" lengthAdjust="spacingAndGlyphs">Ibru 4 Wk</text>
<line x1="73.9" y1="580.2" x2="81.2" y2="580.2" stroke="#7ab84e" stroke-width="1.0"/>
<text x="83.8" y="582.1" font-size="5.4" fill="#333" textLength="21" lengthAdjust="spacingAndGlyphs">Ibru 1 Wk</text>
<line x1="73.9" y1="589.1" x2="81.2" y2="589.1" stroke="#4a6fa5" stroke-width="1.0"/>
<text x="83.8" y="591" font-size="5.4" fill="#333" textLength="25.1" lengthAdjust="spacingAndGlyphs">Pre-treated</text>
<line x1="73.9" y1="598" x2="78.1" y2="598" stroke="#9c76a4" stroke-width="1.1"/>
<line x1="79.7" y1="598" x2="81.2" y2="598" stroke="#9c76a4" stroke-width="1.1"/>
<text x="83.8" y="599.9" font-size="5.4" fill="#333" textLength="5.6" lengthAdjust="spacingAndGlyphs">QF</text>
<line x1="19.1" y1="651.6" x2="19.1" y2="571.1" stroke="#231f20" stroke-width="1.3"/>
<path d="M19.1,566 L22.7,574.5 L19.1,572.12 L15.5,574.5 Z" fill="#231f20"/>
<line x1="19.1" y1="651.6" x2="108.7" y2="651.6" stroke="#231f20" stroke-width="1.3"/>
<path d="M113.8,651.6 L105.3,655.2 L107.68,651.6 L105.3,648 Z" fill="#231f20"/>
<text stroke="#231f20" x="14.3" y="620.6" font-size="9.2" textLength="24" lengthAdjust="spacingAndGlyphs" transform="rotate(-90 14.3 620.6)">Events</text>
<text stroke="#231f20" x="60.8" y="663.2" font-size="9.2" textLength="12.6" lengthAdjust="spacingAndGlyphs">AID</text>
<line x1="154.5" y1="561.5" x2="154.5" y2="634.8" stroke="#231f20" stroke-width="1.2"/>
<line x1="153.9" y1="634.2" x2="252" y2="634.2" stroke="#231f20" stroke-width="1.2"/>
<line x1="151.9" y1="564.2" x2="154.5" y2="564.2" stroke="#231f20" stroke-width="1"/>
<text x="148.9" y="566.5" font-size="6.6" fill="#333" text-anchor="end" textLength="6.4" lengthAdjust="spacingAndGlyphs">16</text>
<line x1="151.9" y1="584.4" x2="154.5" y2="584.4" stroke="#231f20" stroke-width="1"/>
<text x="148.9" y="586.7" font-size="6.6" fill="#333" text-anchor="end" textLength="6.4" lengthAdjust="spacingAndGlyphs">12</text>
<line x1="151.9" y1="604.6" x2="154.5" y2="604.6" stroke="#231f20" stroke-width="1"/>
<text x="148.9" y="606.9" font-size="6.6" fill="#333" text-anchor="end" textLength="3.2" lengthAdjust="spacingAndGlyphs">8</text>
<line x1="151.9" y1="624.8" x2="154.5" y2="624.8" stroke="#231f20" stroke-width="1"/>
<text x="148.9" y="627.1" font-size="6.6" fill="#333" text-anchor="end" textLength="3.2" lengthAdjust="spacingAndGlyphs">4</text>
<line x1="167.1" y1="634.2" x2="167.1" y2="636.6" stroke="#231f20" stroke-width="1"/>
<text x="167.1" y="646" font-size="6.8" fill="#222" text-anchor="middle">QF</text>
<line x1="191.9" y1="634.2" x2="191.9" y2="636.6" stroke="#231f20" stroke-width="1"/>
<text x="191.9" y="646" font-size="6.8" fill="#222" text-anchor="middle">Pre</text>
<line x1="216.9" y1="634.2" x2="216.9" y2="636.6" stroke="#231f20" stroke-width="1"/>
<text x="216.9" y="646" font-size="6.8" fill="#222" text-anchor="middle">Wk1</text>
<line x1="242.2" y1="634.2" x2="242.2" y2="636.6" stroke="#231f20" stroke-width="1"/>
<text x="242.2" y="646" font-size="6.8" fill="#222" text-anchor="middle">Wk4</text>
<line x1="167.1" y1="590.3" x2="167.1" y2="607.8" stroke="#6d4a70" stroke-width="1"/>
<line x1="167.1" y1="622.4" x2="167.1" y2="631" stroke="#6d4a70" stroke-width="1"/>
<line x1="163.36" y1="590.3" x2="170.84" y2="590.3" stroke="#6d4a70" stroke-width="1"/>
<line x1="163.36" y1="631" x2="170.84" y2="631" stroke="#6d4a70" stroke-width="1"/>
<rect x="158.8" y="607.8" width="16.6" height="14.6" stroke="#6d4a70" stroke-width="1" fill="#8d6e92"/>
<line x1="158.8" y1="615.4" x2="175.4" y2="615.4" stroke="#6d4a70" stroke-width="1"/>
<line x1="191.9" y1="575" x2="191.9" y2="586.3" stroke="#4a6fa5" stroke-width="1"/>
<line x1="191.9" y1="608.1" x2="191.9" y2="614.6" stroke="#4a6fa5" stroke-width="1"/>
<line x1="188.21" y1="575" x2="195.59" y2="575" stroke="#4a6fa5" stroke-width="1"/>
<line x1="188.21" y1="614.6" x2="195.59" y2="614.6" stroke="#4a6fa5" stroke-width="1"/>
<rect x="183.7" y="586.3" width="16.4" height="21.8" stroke="#4a6fa5" stroke-width="1" fill="#fff"/>
<line x1="183.7" y1="595.2" x2="200.1" y2="595.2" stroke="#4a6fa5" stroke-width="1"/>
<text x="191.9" y="574.1" font-size="4.5" fill="#4a6fa5" text-anchor="middle">+</text>
<line x1="216.9" y1="594.7" x2="216.9" y2="598.7" stroke="#7ab84e" stroke-width="1"/>
<line x1="216.9" y1="612.7" x2="216.9" y2="621.3" stroke="#7ab84e" stroke-width="1"/>
<line x1="213.3" y1="594.7" x2="220.5" y2="594.7" stroke="#7ab84e" stroke-width="1"/>
<line x1="213.3" y1="621.3" x2="220.5" y2="621.3" stroke="#7ab84e" stroke-width="1"/>
<rect x="208.9" y="598.7" width="16" height="14" stroke="#7ab84e" stroke-width="1" fill="#fff"/>
<line x1="208.9" y1="604.1" x2="224.9" y2="604.1" stroke="#7ab84e" stroke-width="1"/>
<line x1="242" y1="607.3" x2="242" y2="609.5" stroke="#c0485a" stroke-width="1"/>
<line x1="242" y1="618.6" x2="242" y2="624" stroke="#c0485a" stroke-width="1"/>
<line x1="238.09" y1="607.3" x2="245.91" y2="607.3" stroke="#c0485a" stroke-width="1"/>
<line x1="238.09" y1="624" x2="245.91" y2="624" stroke="#c0485a" stroke-width="1"/>
<rect x="233.3" y="609.5" width="17.4" height="9.1" stroke="#c0485a" stroke-width="1" fill="#fff"/>
<line x1="233.3" y1="613.2" x2="250.7" y2="613.2" stroke="#c0485a" stroke-width="1"/>
<text stroke="#231f20" x="136.5" y="634" font-size="8.4" textLength="70" lengthAdjust="spacingAndGlyphs" transform="rotate(-90 136.5 634)">AID expression (MIF)</text>
<line x1="202.1" y1="571" x2="247.33" y2="591.8" stroke="#231f20" stroke-width="1.1"/>
<path d="M250.6,593.3 L244.06,593.16 L246.68,591.5 L246.23,588.43 Z" fill="#231f20"/>
<text x="213.6" y="571.9" font-size="5.8" fill="#333" textLength="27" lengthAdjust="spacingAndGlyphs" transform="rotate(25.4 213.6 571.9)">IgM<tspan font-size="4" dy="1">+</tspan><tspan dy="-1"> / IgG</tspan><tspan font-size="4" dy="1">+</tspan></text>
<text stroke="#231f20" x="267.5" y="444.6" font-size="11">D</text>
<text stroke="#231f20" x="361.6" y="441.8" font-size="9" textLength="81.4" lengthAdjust="spacingAndGlyphs">AID expression (MFI) in</text>
<text stroke="#231f20" x="361.6" y="451.6" font-size="9" textLength="82.2" lengthAdjust="spacingAndGlyphs">CXCR4<tspan font-size="6.2" dy="-3.3">low</tspan><tspan dy="3.3">/CD5</tspan><tspan font-size="6.2" dy="-3.3">high</tspan><tspan dy="3.3"> cells</tspan></text>
<text stroke="#231f20" x="305.2" y="464.4" font-size="8.6" textLength="40.5" lengthAdjust="spacingAndGlyphs">Pre-treated</text>
<text stroke="#231f20" x="372.9" y="464.3" font-size="8.6" textLength="58.5" lengthAdjust="spacingAndGlyphs">Ibrutinib 1 week</text>
<text stroke="#231f20" x="449.2" y="464.3" font-size="8.6" textLength="61.5" lengthAdjust="spacingAndGlyphs">Ibrutinib 4 weeks</text>
<line x1="278" y1="545.3" x2="278" y2="475.8" stroke="#231f20" stroke-width="1.3"/>
<path d="M278,470.7 L281.6,479.2 L278,476.82 L274.4,479.2 Z" fill="#231f20"/>
<line x1="278" y1="545.3" x2="504.1" y2="545.3" stroke="#231f20" stroke-width="1.3"/>
<path d="M509.2,545.3 L500.7,548.9 L503.08,545.3 L500.7,541.7 Z" fill="#231f20"/>
<text stroke="#231f20" x="273.6" y="519" font-size="9.2" textLength="23" lengthAdjust="spacingAndGlyphs" transform="rotate(-90 273.6 519)">CXCR4</text>
<text stroke="#231f20" x="386" y="555.7" font-size="9.2" textLength="15" lengthAdjust="spacingAndGlyphs">CD5</text>
<path d="M310.9 512.0h0.8M312.3 504.9h0.8M313.5 513.5h0.8M311.0 509.0h0.8M311.6 503.9h0.8M311.6 493.4h0.8M313.9 515.6h0.8M306.3 495.9h0.8M307.5 503.6h0.8M323.1 518.9h0.8M315.6 508.0h0.8M314.9 506.9h0.8M311.6 508.6h0.8M305.9 512.0h0.8M311.6 504.4h0.8M306.6 512.6h0.8M308.6 507.2h0.8M313.1 503.8h0.8M310.8 512.1h0.8M311.0 513.5h0.8M305.5 513.2h0.8M316.4 514.2h0.8M318.4 521.8h0.8M315.0 521.8h0.8M312.6 508.1h0.8M302.6 501.2h0.8M311.8 517.9h0.8M312.1 508.4h0.8M316.4 512.7h0.8M309.9 505.0h0.8M310.0 516.0h0.8M306.1 499.7h0.8M315.2 507.7h0.8M305.0 498.0h0.8M318.3 523.3h0.8M311.7 505.3h0.8M302.8 492.2h0.8M315.3 517.8h0.8M308.6 517.7h0.8M313.7 519.3h0.8M307.7 499.0h0.8M314.4 510.0h0.8M319.5 516.5h0.8M309.1 507.1h0.8M313.9 510.3h0.8M310.1 506.4h0.8M307.8 506.5h0.8M313.1 519.6h0.8M308.6 502.0h0.8M311.4 508.2h0.8M310.7 513.4h0.8M320.0 504.8h0.8M313.8 514.5h0.8M307.1 491.7h0.8M314.0 517.2h0.8M316.3 495.2h0.8M303.5 509.1h0.8M309.0 505.7h0.8M313.3 511.4h0.8M314.4 505.0h0.8M309.7 504.7h0.8M310.3 514.6h0.8M322.6 522.0h0.8M311.4 502.4h0.8M308.3 503.2h0.8M308.6 503.8h0.8M306.6 498.8h0.8M307.9 498.3h0.8M304.3 506.5h0.8M313.9 513.3h0.8M307.7 504.8h0.8M310.1 500.9h0.8M311.9 506.7h0.8M305.4 503.1h0.8M318.4 518.9h0.8M308.4 509.3h0.8M302.6 496.1h0.8M307.3 504.4h0.8M309.4 500.4h0.8M312.4 499.4h0.8M301.5 492.2h0.8M307.1 504.8h0.8M310.9 502.6h0.8M308.9 502.7h0.8M306.9 497.9h0.8M311.9 510.8h0.8M307.4 501.6h0.8M309.6 488.1h0.8M311.0 498.6h0.8M312.6 514.4h0.8M318.8 515.5h0.8M313.5 496.6h0.8M312.1 505.9h0.8M313.8 511.7h0.8M312.4 515.5h0.8M310.0 504.0h0.8M312.7 509.7h0.8M313.8 502.7h0.8M302.5 495.0h0.8M308.8 516.9h0.8M309.3 507.8h0.8M313.5 510.5h0.8M304.1 508.6h0.8M307.7 501.2h0.8M307.0 504.9h0.8M308.6 511.7h0.8M307.5 497.7h0.8M319.5 518.1h0.8M304.7 489.8h0.8M313.4 515.0h0.8M311.7 503.5h0.8M313.0 512.4h0.8M309.7 510.0h0.8M313.3 505.2h0.8M315.2 514.1h0.8M308.1 509.8h0.8M309.4 521.7h0.8M309.9 511.2h0.8M307.2 496.4h0.8M313.0 505.5h0.8M309.3 508.5h0.8M308.1 503.8h0.8M301.6 500.6h0.8M315.7 523.5h0.8M311.2 507.1h0.8M309.1 508.3h0.8M305.7 495.4h0.8M309.7 513.4h0.8M307.9 508.1h0.8M315.3 515.9h0.8M311.5 522.9h0.8M309.1 502.8h0.8M312.5 500.7h0.8M312.9 517.5h0.8M312.9 516.8h0.8M309.4 511.3h0.8M309.3 515.1h0.8M308.3 506.2h0.8M307.0 509.3h0.8M310.3 508.1h0.8M302.7 492.1h0.8M309.8 515.0h0.8M313.6 513.9h0.8M311.3 499.5h0.8M311.8 502.7h0.8M311.1 510.6h0.8M313.2 513.5h0.8M307.8 509.3h0.8M308.8 504.7h0.8M314.4 510.3h0.8M313.7 507.9h0.8M312.1 498.5h0.8M305.3 507.3h0.8M314.7 503.1h0.8M314.2 512.5h0.8M311.7 495.8h0.8M308.5 501.7h0.8M313.6 503.4h0.8M311.0 508.1h0.8M311.4 506.2h0.8M312.7 516.6h0.8M313.2 513.9h0.8M316.6 517.2h0.8M318.8 520.2h0.8M314.8 511.5h0.8M311.0 499.3h0.8M305.0 507.1h0.8M319.2 518.0h0.8M315.0 525.5h0.8M315.2 517.6h0.8M309.5 514.7h0.8M311.1 500.4h0.8M308.1 510.0h0.8M310.1 510.9h0.8M318.4 513.2h0.8M306.6 517.4h0.8M303.0 503.3h0.8M317.6 515.8h0.8M307.9 504.1h0.8M314.3 509.1h0.8M313.0 513.0h0.8M311.6 513.9h0.8M314.8 511.0h0.8M307.1 504.6h0.8M308.8 507.6h0.8M314.6 514.8h0.8M306.1 505.8h0.8M302.8 500.7h0.8M313.9 506.8h0.8M314.2 498.5h0.8M314.6 506.4h0.8M305.6 500.4h0.8M308.0 505.1h0.8M306.7 506.3h0.8M313.9 515.2h0.8M311.4 499.8h0.8M307.0 498.7h0.8M311.2 508.7h0.8M303.4 518.3h0.8M309.0 500.4h0.8M308.8 513.3h0.8M310.2 508.2h0.8M313.6 511.2h0.8M305.5 493.3h0.8M313.6 507.6h0.8M315.0 503.9h0.8M304.5 512.3h0.8M304.0 504.5h0.8M315.8 504.8h0.8M305.7 490.3h0.8M308.6 508.5h0.8M314.4 518.7h0.8M311.6 509.3h0.8M314.5 507.0h0.8M311.0 510.8h0.8M315.4 518.7h0.8M304.7 504.2h0.8M311.0 494.5h0.8M308.9 498.6h0.8M307.4 503.1h0.8M307.1 510.2h0.8M313.5 514.1h0.8M311.5 500.9h0.8M315.1 496.9h0.8M319.8 512.2h0.8M313.2 516.5h0.8M307.3 502.3h0.8M310.3 514.8h0.8M311.9 505.7h0.8M307.1 504.9h0.8M312.4 505.9h0.8M309.3 500.6h0.8M307.0 493.9h0.8M303.5 497.9h0.8M312.3 500.3h0.8M311.3 510.2h0.8M308.4 512.2h0.8M313.6 514.3h0.8M309.1 501.2h0.8M311.1 507.3h0.8M309.5 495.2h0.8M311.7 498.4h0.8M321.4 512.7h0.8M310.3 506.7h0.8M320.8 520.7h0.8M305.0 516.2h0.8M315.5 501.5h0.8M308.8 502.2h0.8M308.5 489.8h0.8M314.4 518.1h0.8M315.9 514.6h0.8M315.7 524.5h0.8M310.3 510.9h0.8M307.2 493.1h0.8M309.3 504.8h0.8M310.2 507.6h0.8M310.3 494.5h0.8M314.4 512.6h0.8M314.9 514.9h0.8M302.0 502.3h0.8M310.8 505.4h0.8M305.7 496.9h0.8M317.4 514.2h0.8M306.7 501.2h0.8M303.6 500.2h0.8M304.1 492.4h0.8M313.6 497.2h0.8M302.8 495.1h0.8M318.5 514.2h0.8M312.5 512.7h0.8M300.7 500.5h0.8M310.2 499.7h0.8M318.3 503.9h0.8M312.8 507.8h0.8M304.3 500.6h0.8M314.6 518.4h0.8M310.3 513.6h0.8M326.5 519.7h0.8M304.0 485.0h0.8M315.9 512.1h0.8M313.2 508.7h0.8M306.9 506.6h0.8M305.4 499.2h0.8M312.4 511.6h0.8M314.9 501.2h0.8M313.7 518.9h0.8M312.2 517.2h0.8M317.0 513.5h0.8M303.2 493.8h0.8M308.8 511.4h0.8M316.2 521.6h0.8M319.5 521.0h0.8M315.5 517.2h0.8M313.5 517.0h0.8M313.2 499.7h0.8M320.2 517.4h0.8M312.0 524.5h0.8M308.8 512.4h0.8M309.8 512.8h0.8M309.9 506.7h0.8M312.2 508.9h0.8M309.8 505.3h0.8M312.8 511.3h0.8M311.9 505.6h0.8M302.1 497.2h0.8M302.2 505.5h0.8M313.3 510.4h0.8M315.7 507.6h0.8M316.4 518.9h0.8M312.9 515.7h0.8M317.0 517.1h0.8M309.9 507.6h0.8M310.4 517.7h0.8M307.6 502.5h0.8M311.4 501.3h0.8M315.0 514.2h0.8M314.0 508.6h0.8M307.0 501.9h0.8M315.9 514.4h0.8M320.3 517.3h0.8M312.5 514.1h0.8M313.7 518.6h0.8M318.0 513.4h0.8M314.4 514.8h0.8M304.8 502.7h0.8M303.8 493.3h0.8M314.2 503.2h0.8M301.9 481.4h0.8M315.2 500.8h0.8M309.5 497.9h0.8M312.3 508.1h0.8M312.2 500.5h0.8M309.2 508.3h0.8M311.6 499.1h0.8M310.0 505.6h0.8M315.1 519.7h0.8M309.1 498.8h0.8M304.1 494.3h0.8M312.1 520.1h0.8M310.8 514.8h0.8M312.6 506.6h0.8M310.8 503.9h0.8M312.4 509.8h0.8M312.2 503.7h0.8M311.4 516.3h0.8M308.9 505.6h0.8M314.2 500.4h0.8M309.9 513.1h0.8M312.6 499.5h0.8M312.1 512.2h0.8M309.0 497.4h0.8M310.1 502.9h0.8M310.9 509.2h0.8M309.2 501.8h0.8M317.3 514.1h0.8M308.6 507.6h0.8M308.8 510.3h0.8M307.5 490.8h0.8M311.7 512.4h0.8M310.9 508.4h0.8M304.2 492.0h0.8M310.6 510.0h0.8M306.5 512.4h0.8M308.5 501.9h0.8M306.2 499.4h0.8M302.4 498.0h0.8M309.4 508.4h0.8M312.0 507.4h0.8M315.9 503.6h0.8M315.9 524.1h0.8M315.3 505.6h0.8M310.2 509.3h0.8" stroke="#6a6ac4" stroke-width="0.84" opacity="0.45"/>
<path d="M312.9 510.9h0.8M319.2 519.0h0.8M304.0 503.3h0.8M322.9 514.1h0.8M309.1 512.1h0.8M315.2 518.6h0.8M311.6 516.0h0.8M307.9 507.1h0.8M301.7 521.6h0.8M315.7 511.2h0.8M305.4 522.5h0.8M322.5 523.5h0.8M307.0 513.6h0.8M314.3 524.5h0.8M322.5 508.1h0.8M309.8 518.6h0.8M311.8 514.6h0.8M305.2 510.7h0.8M311.8 514.1h0.8M312.8 509.4h0.8M320.3 514.0h0.8M309.4 506.8h0.8M317.0 517.7h0.8M317.4 515.0h0.8M310.5 518.0h0.8M314.1 516.6h0.8M322.8 516.6h0.8M315.0 515.5h0.8M323.5 515.4h0.8M305.1 510.0h0.8M310.6 517.6h0.8M310.4 508.1h0.8M304.7 506.7h0.8M314.4 510.4h0.8M309.3 519.1h0.8M313.7 512.6h0.8M310.5 518.9h0.8M314.4 515.4h0.8M315.1 512.8h0.8M304.7 505.9h0.8M306.1 515.9h0.8M314.7 512.3h0.8M311.8 507.2h0.8M317.4 510.0h0.8M313.1 507.2h0.8M306.3 516.6h0.8M312.9 499.7h0.8M317.7 513.1h0.8M309.8 514.1h0.8M311.0 514.9h0.8M313.4 512.0h0.8M315.4 515.5h0.8M316.8 511.1h0.8M317.4 519.2h0.8M330.0 522.9h0.8M322.6 521.7h0.8M313.9 514.9h0.8M309.5 504.5h0.8M312.2 516.3h0.8M313.1 500.1h0.8M305.0 509.3h0.8M314.5 507.6h0.8M306.9 506.7h0.8M304.6 516.1h0.8M315.5 508.9h0.8M312.2 507.4h0.8M314.5 514.9h0.8M309.1 508.7h0.8M315.7 521.4h0.8M311.4 518.2h0.8M316.8 507.9h0.8M319.3 513.5h0.8M310.4 508.6h0.8M310.8 508.8h0.8M316.3 519.2h0.8M312.0 501.0h0.8M314.6 515.6h0.8M305.5 498.8h0.8M306.7 500.5h0.8M304.8 498.8h0.8M312.0 497.0h0.8M311.1 504.5h0.8M314.7 507.4h0.8M303.6 501.8h0.8M315.4 510.1h0.8M314.7 518.1h0.8M309.3 508.2h0.8M309.9 514.8h0.8M311.4 518.0h0.8M315.0 525.0h0.8M312.7 512.0h0.8M314.0 517.7h0.8M322.2 512.8h0.8M314.6 512.3h0.8M312.5 510.1h0.8M313.0 515.3h0.8M310.9 518.7h0.8M305.5 505.5h0.8M312.9 509.7h0.8M306.9 517.6h0.8M320.0 512.0h0.8M319.9 512.3h0.8M320.3 517.7h0.8M313.7 502.6h0.8M321.4 521.3h0.8M313.4 507.0h0.8M317.1 504.5h0.8M311.9 521.3h0.8M309.6 511.4h0.8M310.5 500.6h0.8M314.3 516.8h0.8M307.6 518.2h0.8M317.3 514.9h0.8M313.0 501.7h0.8M313.7 518.4h0.8M312.4 508.0h0.8M318.8 517.1h0.8M300.3 508.1h0.8M307.5 507.3h0.8M303.5 501.2h0.8M309.7 507.8h0.8M310.1 521.9h0.8M307.7 516.4h0.8M311.8 508.6h0.8M323.7 518.7h0.8M307.8 516.2h0.8M321.2 515.1h0.8M317.3 513.3h0.8M316.4 510.3h0.8M318.3 511.4h0.8M311.8 516.3h0.8M320.2 518.3h0.8M307.7 519.3h0.8M311.4 519.9h0.8M310.8 504.8h0.8M310.6 498.9h0.8M307.5 517.1h0.8M304.9 516.9h0.8M315.3 514.9h0.8M310.9 505.5h0.8M315.7 512.4h0.8M309.3 505.8h0.8M307.2 515.4h0.8M317.0 510.3h0.8M315.2 510.2h0.8M314.0 514.4h0.8M320.2 505.7h0.8M313.4 512.1h0.8M320.6 514.7h0.8M315.9 522.9h0.8M301.3 520.3h0.8M309.7 520.0h0.8" stroke="#7a7acc" stroke-width="0.84" opacity="0.4"/>
<ellipse cx="310.4" cy="502.6" rx="5.4" ry="11.8" fill="#5565c0" transform="rotate(-22 310.4 502.6)" opacity="0.55" filter="url(#bl2)"/>
<ellipse cx="310.1" cy="502.1" rx="4.4" ry="9.8" fill="#3f9ad6" transform="rotate(-22 310.1 502.1)" opacity="0.7" filter="url(#bl2)"/>
<ellipse cx="309.8" cy="501.6" rx="3.5" ry="8" fill="#4cc2b4" transform="rotate(-22 309.8 501.6)" opacity="0.9" filter="url(#bl2)"/>
<ellipse cx="309.6" cy="500.9" rx="2.8" ry="6.3" fill="#92c94a" transform="rotate(-22 309.6 500.9)" filter="url(#bl)"/>
<ellipse cx="309.6" cy="500.6" rx="1.9" ry="4" fill="#d8d23a" transform="rotate(-22 309.6 500.6)" filter="url(#bl)"/>
<ellipse cx="309.6" cy="500.6" rx="1" ry="2" fill="#eea030" transform="rotate(-22 309.6 500.6)" filter="url(#bl)"/>
<path d="M388.5 512.7h0.8M390.4 506.7h0.8M391.1 504.4h0.8M384.6 508.9h0.8M389.1 514.4h0.8M387.8 513.0h0.8M389.7 504.1h0.8M379.7 508.8h0.8M384.7 510.0h0.8M381.2 506.8h0.8M389.7 507.4h0.8M385.9 502.2h0.8M387.1 503.1h0.8M387.6 510.3h0.8M387.3 510.0h0.8M387.0 506.5h0.8M387.6 522.8h0.8M380.7 508.5h0.8M387.9 513.0h0.8M386.4 510.5h0.8M384.2 505.9h0.8M385.4 513.3h0.8M390.9 515.1h0.8M384.3 509.1h0.8M384.0 512.4h0.8M389.1 502.3h0.8M382.6 507.9h0.8M384.3 512.8h0.8M383.5 509.2h0.8M386.3 503.2h0.8M387.2 505.3h0.8M389.7 506.5h0.8M385.8 507.0h0.8M385.6 509.1h0.8M386.5 519.2h0.8M389.4 509.6h0.8M384.2 506.5h0.8M384.9 513.5h0.8M386.4 513.0h0.8M385.0 501.8h0.8M386.6 504.6h0.8M383.3 502.0h0.8M391.2 510.0h0.8M392.2 513.3h0.8M383.0 507.8h0.8M388.0 516.6h0.8M382.9 505.5h0.8M385.1 506.8h0.8M382.9 508.8h0.8M385.7 510.0h0.8M388.8 519.2h0.8M385.4 501.5h0.8M383.4 512.9h0.8M381.1 510.1h0.8M382.7 517.1h0.8M387.9 499.6h0.8M384.4 501.4h0.8M388.3 519.6h0.8M391.5 516.1h0.8M384.8 516.1h0.8M387.2 507.8h0.8M385.7 515.8h0.8M386.7 508.7h0.8M380.1 502.6h0.8M385.0 508.0h0.8M385.7 507.1h0.8M385.3 502.0h0.8M381.8 505.7h0.8M384.8 504.4h0.8M389.1 511.7h0.8M387.1 515.0h0.8M389.7 515.5h0.8M389.2 515.4h0.8M385.7 501.8h0.8M385.9 512.6h0.8M387.3 513.9h0.8M384.2 511.8h0.8M386.9 502.4h0.8M383.8 489.9h0.8M389.5 509.2h0.8M391.2 502.4h0.8M389.4 514.1h0.8M386.0 499.0h0.8M387.3 512.1h0.8M388.0 505.5h0.8M388.3 499.6h0.8M385.0 505.9h0.8M382.7 508.3h0.8M383.6 514.7h0.8M389.7 513.4h0.8M388.8 516.4h0.8M388.5 513.3h0.8M381.3 506.5h0.8M384.2 506.1h0.8M382.3 510.4h0.8M382.8 507.0h0.8M382.9 498.4h0.8M382.1 495.8h0.8M391.2 512.8h0.8M383.0 510.0h0.8M386.8 521.6h0.8M383.7 505.8h0.8M387.6 515.3h0.8M388.3 509.3h0.8M384.7 512.2h0.8M381.9 509.9h0.8M386.3 516.0h0.8M387.8 511.8h0.8M382.8 506.2h0.8M388.6 507.6h0.8M383.3 507.7h0.8M384.6 509.5h0.8M385.3 510.3h0.8M390.7 505.0h0.8M387.6 504.6h0.8M387.1 508.5h0.8M381.6 497.8h0.8M383.7 511.8h0.8M384.8 511.4h0.8M386.9 488.0h0.8M388.4 501.1h0.8M386.6 508.5h0.8M381.8 494.6h0.8M382.1 512.3h0.8M386.1 515.2h0.8M388.1 511.4h0.8M388.7 514.4h0.8M387.1 507.8h0.8M385.3 514.5h0.8M388.3 512.9h0.8M385.6 507.9h0.8M388.6 508.8h0.8M385.0 497.9h0.8M386.7 499.6h0.8M388.2 515.0h0.8M386.1 515.5h0.8M388.4 502.8h0.8M381.7 499.3h0.8M385.7 495.6h0.8M386.3 516.2h0.8M385.6 511.0h0.8M389.1 520.8h0.8M386.3 517.0h0.8M385.8 522.1h0.8M384.7 514.4h0.8M382.6 505.5h0.8M385.9 506.4h0.8M388.3 515.6h0.8M384.4 499.5h0.8M382.8 513.0h0.8M386.1 505.9h0.8M390.1 516.4h0.8M382.6 505.6h0.8M383.0 504.3h0.8M389.7 514.3h0.8M382.1 488.0h0.8M390.2 514.9h0.8M385.7 510.6h0.8M381.8 505.4h0.8M386.8 512.9h0.8M385.5 505.5h0.8M387.7 512.5h0.8M384.1 509.6h0.8M385.9 513.7h0.8M390.4 501.5h0.8M384.0 504.5h0.8M392.4 519.7h0.8M383.6 511.1h0.8M386.6 507.3h0.8M386.1 502.6h0.8M387.9 504.8h0.8M386.5 510.1h0.8M383.1 501.1h0.8M386.4 508.2h0.8M382.0 507.6h0.8M377.5 497.1h0.8M382.2 509.3h0.8M391.7 515.7h0.8M387.9 505.4h0.8M390.8 506.3h0.8M387.8 510.0h0.8M381.7 505.4h0.8M381.6 497.8h0.8M387.0 508.6h0.8M383.5 506.1h0.8M383.0 504.8h0.8M384.9 518.0h0.8M384.3 509.6h0.8M380.4 504.6h0.8M386.5 504.0h0.8M386.1 519.1h0.8M390.4 513.2h0.8M388.5 496.4h0.8M386.7 512.5h0.8M388.3 504.9h0.8M388.4 504.3h0.8M388.0 515.7h0.8M386.5 513.2h0.8M388.6 502.5h0.8" stroke="#6a6ac4" stroke-width="0.84" opacity="0.45"/>
<path d="M385.5 503.0h0.8M387.0 500.6h0.8M386.3 507.7h0.8M387.6 505.9h0.8M383.5 504.2h0.8M388.5 497.8h0.8M389.4 499.2h0.8M386.2 514.5h0.8M377.4 489.3h0.8M385.3 508.5h0.8M388.3 502.6h0.8M384.2 494.9h0.8M384.6 500.0h0.8M386.4 504.3h0.8M377.7 491.1h0.8M384.9 501.3h0.8M385.5 504.3h0.8M381.2 494.2h0.8M387.5 500.4h0.8M385.3 510.7h0.8M383.2 502.0h0.8M385.4 493.4h0.8M383.9 488.2h0.8M381.9 487.4h0.8M387.3 507.0h0.8M385.7 498.4h0.8M385.7 499.2h0.8M381.4 499.4h0.8M386.1 494.2h0.8M394.2 511.2h0.8M387.2 504.8h0.8M386.6 511.0h0.8M386.3 490.6h0.8M387.8 504.0h0.8M383.6 505.4h0.8M382.5 492.1h0.8M381.5 494.3h0.8M386.5 493.5h0.8M382.5 508.5h0.8M389.1 500.8h0.8M381.4 495.6h0.8M387.0 504.9h0.8M382.3 495.7h0.8M386.2 500.7h0.8M388.3 498.7h0.8M385.2 493.5h0.8M382.7 507.9h0.8M384.1 500.7h0.8M381.1 483.7h0.8M390.3 497.3h0.8M385.9 511.3h0.8M379.6 484.4h0.8M384.0 507.3h0.8M385.1 501.8h0.8M384.7 490.9h0.8M381.7 500.8h0.8M387.2 490.9h0.8M386.0 488.2h0.8M388.0 502.3h0.8M387.3 501.7h0.8M389.2 485.3h0.8M380.5 497.1h0.8M383.1 500.8h0.8M388.7 487.2h0.8M382.9 508.8h0.8M384.5 494.6h0.8M385.0 503.1h0.8M383.0 505.5h0.8M380.2 494.1h0.8M384.8 502.8h0.8M385.9 500.7h0.8M387.1 502.6h0.8M385.9 496.5h0.8M386.8 507.0h0.8M386.2 505.2h0.8M389.5 510.7h0.8M384.7 508.3h0.8M378.2 491.5h0.8M386.4 495.4h0.8M379.1 504.8h0.8M388.3 506.8h0.8M387.5 494.1h0.8M380.9 501.2h0.8M378.4 504.1h0.8M381.9 500.0h0.8M387.6 507.1h0.8M380.0 493.8h0.8M388.9 503.0h0.8M385.4 494.0h0.8M382.5 504.0h0.8M385.6 492.9h0.8M379.8 499.2h0.8M385.0 507.1h0.8M383.8 493.1h0.8M389.1 499.6h0.8M388.4 504.1h0.8M389.3 498.2h0.8M379.8 499.3h0.8M394.9 497.7h0.8M380.5 494.5h0.8M387.0 505.3h0.8M391.0 504.1h0.8M389.5 512.1h0.8M389.1 501.2h0.8M382.9 508.9h0.8M380.4 497.4h0.8M384.3 503.9h0.8M381.4 494.0h0.8M385.6 501.8h0.8M383.2 498.1h0.8M382.8 507.9h0.8M381.9 485.5h0.8M380.1 500.0h0.8M382.1 498.5h0.8M387.0 504.6h0.8M380.7 495.7h0.8M384.0 497.1h0.8M389.1 508.6h0.8M388.3 494.5h0.8M387.9 496.4h0.8M389.6 507.5h0.8M382.6 484.8h0.8M381.6 504.0h0.8M382.7 503.2h0.8M382.5 502.7h0.8M379.9 487.9h0.8M381.8 490.1h0.8M380.3 495.0h0.8M381.9 494.4h0.8M389.5 504.0h0.8M382.6 497.3h0.8M381.2 511.7h0.8M383.8 500.2h0.8M385.4 504.6h0.8M382.5 495.7h0.8M390.4 494.2h0.8M388.5 502.5h0.8M391.6 505.0h0.8M381.7 495.9h0.8M389.4 508.7h0.8M385.1 498.2h0.8M387.3 511.3h0.8M380.0 492.1h0.8M384.8 497.5h0.8M379.8 506.3h0.8M387.6 498.9h0.8M392.5 493.9h0.8M390.6 503.6h0.8M379.9 508.5h0.8M384.7 497.1h0.8M383.8 506.2h0.8M382.1 497.6h0.8M382.5 494.7h0.8M390.7 508.3h0.8M386.0 495.6h0.8M381.3 497.3h0.8M387.9 505.1h0.8M383.5 493.1h0.8M389.5 491.9h0.8M379.7 499.4h0.8M384.5 500.9h0.8M383.4 507.5h0.8M384.3 498.8h0.8M377.3 497.1h0.8M379.6 491.8h0.8M383.8 497.9h0.8M382.0 497.3h0.8M383.9 508.7h0.8M381.5 488.8h0.8M379.8 488.0h0.8M378.5 487.6h0.8M383.5 498.6h0.8M385.6 503.2h0.8M388.6 511.3h0.8M376.4 490.0h0.8M383.7 501.5h0.8M387.3 494.8h0.8M383.1 512.7h0.8M385.7 502.4h0.8M385.8 511.3h0.8M388.0 499.0h0.8M390.4 506.7h0.8M386.2 502.4h0.8M382.0 495.9h0.8M381.4 508.0h0.8M382.5 498.3h0.8M378.1 484.7h0.8M384.6 499.3h0.8M387.3 490.1h0.8M391.5 502.3h0.8M388.4 510.7h0.8M385.6 502.1h0.8M385.3 504.1h0.8M383.4 491.1h0.8M382.7 494.6h0.8M389.1 494.5h0.8M385.8 514.6h0.8M384.3 497.0h0.8M383.3 502.5h0.8M384.4 486.2h0.8M389.4 495.0h0.8M387.0 500.4h0.8M385.1 498.9h0.8M384.4 497.9h0.8M387.3 502.7h0.8M384.1 503.8h0.8M387.7 490.1h0.8M387.8 489.1h0.8M388.8 503.2h0.8M388.7 505.1h0.8M381.1 490.6h0.8M391.6 503.4h0.8M378.0 491.1h0.8M382.2 499.3h0.8M393.6 507.4h0.8M380.6 488.6h0.8M382.2 500.5h0.8M379.3 499.7h0.8M385.9 491.0h0.8M389.8 504.5h0.8M383.8 493.1h0.8M378.6 496.4h0.8M382.5 492.1h0.8M383.1 503.6h0.8M388.6 503.2h0.8M391.7 508.5h0.8M385.7 497.8h0.8M384.6 493.6h0.8M392.2 509.4h0.8M388.9 494.1h0.8M382.3 505.6h0.8M389.1 511.1h0.8M382.6 506.4h0.8M379.2 487.4h0.8M386.5 491.5h0.8M380.0 495.1h0.8M385.8 506.0h0.8M387.3 493.3h0.8M387.6 505.0h0.8M380.2 502.6h0.8M384.8 501.0h0.8M384.1 499.8h0.8M380.7 495.1h0.8M393.6 508.0h0.8M385.2 500.6h0.8M387.7 510.5h0.8M386.4 492.4h0.8M382.3 487.4h0.8M383.3 510.8h0.8M382.8 491.3h0.8" stroke="#4a4ab0" stroke-width="0.84" opacity="0.5"/>
<ellipse cx="385.4" cy="500.6" rx="4.9" ry="10.2" fill="#3a45a6" transform="rotate(-14 385.4 500.6)" opacity="0.8" filter="url(#bl)"/>
<ellipse cx="385.3" cy="500.2" rx="3.9" ry="8.3" fill="#3498d6" transform="rotate(-14 385.3 500.2)" filter="url(#bl)"/>
<ellipse cx="385.1" cy="499.9" rx="3" ry="6.5" fill="#48c4b8" transform="rotate(-14 385.1 499.9)" filter="url(#bl)"/>
<ellipse cx="385.1" cy="499.6" rx="2.3" ry="4.9" fill="#92c94a" transform="rotate(-14 385.1 499.6)" filter="url(#bl)"/>
<ellipse cx="385.1" cy="499.3" rx="1.6" ry="3.4" fill="#e8d42a" transform="rotate(-14 385.1 499.3)" filter="url(#bl)"/>
<ellipse cx="385.1" cy="499.1" rx="1" ry="2.2" fill="#ea6a2a" transform="rotate(-14 385.1 499.1)" filter="url(#bl)"/>
<path d="M464.3 517.0h0.8M461.5 504.9h0.8M462.7 510.0h0.8M461.1 501.4h0.8M459.5 503.5h0.8M459.6 505.8h0.8M464.3 515.4h0.8M461.9 514.1h0.8M468.2 517.4h0.8M463.9 514.7h0.8M467.0 514.1h0.8M461.2 504.8h0.8M463.8 501.6h0.8M462.1 513.7h0.8M459.7 502.0h0.8M462.3 509.1h0.8M461.5 502.4h0.8M467.7 498.9h0.8M459.4 506.7h0.8M460.2 500.9h0.8M463.9 503.8h0.8M462.8 511.0h0.8M462.6 504.7h0.8M465.1 511.4h0.8M461.8 503.3h0.8M461.0 508.1h0.8M458.4 500.4h0.8M463.4 513.6h0.8M462.1 493.8h0.8M463.2 507.4h0.8M465.6 508.7h0.8M459.3 490.8h0.8M461.8 496.2h0.8M459.2 497.3h0.8M457.8 506.0h0.8M463.6 504.1h0.8M461.0 504.0h0.8M464.4 509.2h0.8M462.8 519.3h0.8M458.0 500.5h0.8M460.6 508.2h0.8M461.8 506.2h0.8M461.7 512.4h0.8M460.0 493.6h0.8M462.4 496.3h0.8M461.5 499.6h0.8M462.6 499.4h0.8M462.2 507.3h0.8M460.4 503.3h0.8M458.4 494.5h0.8M456.6 502.2h0.8M462.5 496.2h0.8M464.4 501.0h0.8M459.9 505.0h0.8M459.5 501.6h0.8M461.4 513.2h0.8M465.0 518.8h0.8M463.0 508.7h0.8M460.6 496.9h0.8M463.4 514.1h0.8M460.2 518.5h0.8M461.9 504.8h0.8M462.2 508.1h0.8M464.4 512.0h0.8M460.9 507.2h0.8M462.2 513.3h0.8M463.3 509.0h0.8M468.2 501.4h0.8M460.6 503.2h0.8M467.0 503.7h0.8M459.7 502.1h0.8M463.6 513.4h0.8M460.5 508.0h0.8M465.4 504.2h0.8M463.4 510.5h0.8M462.9 506.2h0.8M465.7 511.5h0.8M466.8 514.8h0.8M461.0 507.0h0.8M462.5 502.3h0.8M460.3 499.1h0.8M466.6 515.7h0.8M457.8 508.7h0.8M467.1 501.6h0.8M461.8 505.3h0.8M456.6 499.9h0.8M464.2 513.5h0.8M460.7 507.9h0.8M462.2 503.7h0.8M461.5 497.2h0.8M466.7 517.7h0.8M458.2 507.1h0.8M461.5 492.7h0.8M464.7 502.1h0.8M459.3 506.0h0.8M464.3 506.4h0.8M463.4 499.2h0.8M462.1 512.7h0.8M458.4 509.8h0.8M462.8 506.0h0.8M460.8 502.1h0.8M464.6 494.9h0.8M461.5 503.2h0.8M463.9 504.3h0.8M462.3 498.8h0.8M463.1 507.4h0.8M460.1 510.8h0.8M460.3 503.3h0.8M462.3 503.4h0.8M462.2 505.7h0.8M463.5 515.5h0.8M465.4 513.8h0.8M461.2 496.1h0.8M463.7 502.7h0.8M464.7 520.6h0.8M463.0 503.7h0.8M462.6 516.1h0.8M459.3 509.2h0.8M465.5 512.8h0.8M464.2 503.4h0.8M464.0 506.1h0.8M461.0 509.2h0.8M465.0 505.3h0.8M462.6 505.4h0.8M464.0 514.0h0.8M460.7 505.1h0.8M462.3 513.7h0.8M460.4 502.5h0.8M463.0 503.9h0.8M461.4 510.3h0.8M462.8 508.8h0.8M461.9 511.6h0.8M459.4 506.5h0.8M462.5 505.6h0.8M462.3 503.0h0.8M461.3 496.6h0.8M455.1 504.4h0.8M465.7 511.5h0.8M462.3 505.4h0.8M460.3 507.3h0.8M467.9 512.4h0.8M461.7 500.5h0.8M464.5 507.6h0.8M462.3 502.5h0.8M457.9 513.2h0.8M464.1 496.9h0.8M459.5 504.2h0.8M464.6 502.5h0.8M461.9 503.9h0.8M459.9 502.9h0.8M458.2 517.5h0.8M461.1 504.7h0.8M459.9 505.3h0.8M461.3 497.5h0.8M458.8 498.5h0.8M463.5 501.2h0.8M460.2 499.0h0.8M461.8 508.9h0.8M466.6 501.8h0.8M463.9 503.0h0.8M460.8 505.2h0.8M462.5 500.4h0.8M457.6 499.1h0.8M460.1 502.2h0.8M462.2 507.1h0.8M460.6 505.4h0.8M459.4 501.3h0.8M465.2 514.8h0.8M461.3 508.2h0.8M461.1 510.0h0.8M462.2 514.9h0.8M460.1 500.7h0.8M465.0 511.1h0.8M463.3 507.2h0.8M459.1 508.0h0.8M464.3 496.6h0.8M464.3 500.8h0.8M461.7 506.0h0.8M460.1 505.9h0.8M463.7 514.7h0.8M460.8 503.9h0.8M463.8 507.1h0.8M462.1 504.1h0.8M464.3 497.9h0.8M458.3 504.4h0.8M461.0 506.6h0.8M464.5 515.8h0.8M462.3 513.2h0.8M461.0 502.9h0.8M459.0 501.1h0.8" stroke="#6a6ac4" stroke-width="0.84" opacity="0.45"/>
<path d="M460.4 493.7h0.8M458.3 490.1h0.8M468.0 496.3h0.8M463.0 493.9h0.8M460.3 493.9h0.8M460.3 503.7h0.8M458.2 499.7h0.8M461.8 504.9h0.8M452.5 491.0h0.8M460.4 501.5h0.8M459.6 497.4h0.8M464.7 492.3h0.8M454.4 487.2h0.8M463.5 496.2h0.8M458.9 489.4h0.8M463.9 501.7h0.8M459.3 500.5h0.8M462.6 500.2h0.8M466.0 515.8h0.8M469.5 504.7h0.8M456.7 483.7h0.8M461.2 501.2h0.8M460.9 498.6h0.8M459.5 498.8h0.8M460.2 493.8h0.8M461.9 503.4h0.8M457.3 478.1h0.8M454.7 488.7h0.8M462.3 501.2h0.8M457.0 499.0h0.8M461.6 503.4h0.8M463.5 494.1h0.8M456.8 494.0h0.8M461.3 502.5h0.8M461.7 498.1h0.8M459.2 485.3h0.8M460.5 503.7h0.8M460.0 489.7h0.8M463.8 502.8h0.8M458.2 498.8h0.8M461.0 501.1h0.8M464.0 503.8h0.8M458.3 490.4h0.8M458.2 502.0h0.8M463.1 496.4h0.8M462.7 495.1h0.8M463.7 496.7h0.8M460.4 493.6h0.8M459.2 497.6h0.8M465.6 498.1h0.8M463.9 492.2h0.8M464.3 504.2h0.8M459.6 497.9h0.8M460.3 489.5h0.8M458.9 500.5h0.8M458.5 501.0h0.8M459.9 487.3h0.8M462.2 498.9h0.8M462.2 494.3h0.8M461.5 498.8h0.8M466.7 495.1h0.8M458.6 500.1h0.8M464.9 497.8h0.8M457.6 481.7h0.8M463.7 497.2h0.8M458.9 501.2h0.8M468.0 501.1h0.8M466.3 504.9h0.8M456.7 500.0h0.8M466.0 505.5h0.8M462.4 502.9h0.8M463.2 493.5h0.8M460.3 492.3h0.8M461.9 505.8h0.8M457.7 502.4h0.8M458.0 485.3h0.8M460.0 489.9h0.8M457.4 505.7h0.8M458.4 498.6h0.8M459.4 485.3h0.8M462.7 499.9h0.8M460.7 504.0h0.8M465.7 501.0h0.8M459.5 496.9h0.8M462.6 495.5h0.8M464.3 492.9h0.8M458.3 493.9h0.8M464.6 498.5h0.8M463.1 514.3h0.8M461.1 515.1h0.8M465.5 495.3h0.8M464.4 486.3h0.8M460.1 496.5h0.8M463.9 494.7h0.8M463.7 494.9h0.8M459.4 485.6h0.8M467.3 495.7h0.8M460.1 492.7h0.8M459.3 497.6h0.8M459.7 486.4h0.8M460.8 497.3h0.8M458.7 488.9h0.8M459.5 491.4h0.8M456.7 493.1h0.8M462.3 493.0h0.8M456.7 493.8h0.8M463.8 492.7h0.8M462.5 492.5h0.8M459.3 492.4h0.8M459.5 493.2h0.8M458.9 494.9h0.8M463.0 509.9h0.8M467.1 502.6h0.8M461.5 492.8h0.8M458.6 487.8h0.8M467.3 504.1h0.8M460.0 497.1h0.8M460.5 499.6h0.8M468.4 504.1h0.8M461.2 483.7h0.8M464.0 492.4h0.8M463.1 498.1h0.8M464.0 506.4h0.8M463.0 496.2h0.8M463.4 497.3h0.8M467.5 495.9h0.8M457.8 497.2h0.8M454.5 499.0h0.8M459.8 493.2h0.8M456.2 492.7h0.8M461.2 494.4h0.8M458.3 501.8h0.8M462.4 505.0h0.8M464.5 497.5h0.8M459.4 495.4h0.8M460.2 505.8h0.8M464.0 500.5h0.8M459.7 502.4h0.8M460.8 496.2h0.8M460.3 494.2h0.8M457.9 500.9h0.8M463.7 495.6h0.8M459.1 505.5h0.8M462.9 490.6h0.8M462.6 499.1h0.8M458.1 497.6h0.8M459.2 490.2h0.8M463.3 494.3h0.8M459.3 490.0h0.8M467.2 493.7h0.8M458.0 495.6h0.8M467.1 514.7h0.8M455.4 490.6h0.8M461.0 501.6h0.8M463.6 493.5h0.8M456.0 500.3h0.8M461.6 494.6h0.8M457.2 492.0h0.8M458.7 507.4h0.8M460.1 505.0h0.8M457.9 485.4h0.8M459.6 496.3h0.8M459.0 494.9h0.8M457.1 486.5h0.8M453.7 499.3h0.8M465.5 500.0h0.8M467.3 496.5h0.8M462.9 500.0h0.8M462.0 509.3h0.8M457.8 494.4h0.8M463.1 505.5h0.8M464.0 511.9h0.8M455.7 477.6h0.8M460.4 495.6h0.8M464.6 506.0h0.8M462.3 499.3h0.8M460.4 492.9h0.8M462.8 506.8h0.8M459.8 503.5h0.8M459.4 486.1h0.8M462.1 502.7h0.8M458.8 496.2h0.8M461.0 498.5h0.8M462.6 488.7h0.8M464.6 500.4h0.8M454.9 499.1h0.8M456.0 491.3h0.8M463.7 494.4h0.8M463.7 506.7h0.8M463.9 507.4h0.8M455.6 487.5h0.8M461.8 500.6h0.8M462.5 494.9h0.8M461.9 493.5h0.8M459.2 499.1h0.8M460.9 507.8h0.8M462.5 500.8h0.8M460.7 490.5h0.8M464.9 497.0h0.8M455.0 501.1h0.8M460.5 505.0h0.8M464.6 496.2h0.8M457.9 498.6h0.8M461.6 498.7h0.8M465.9 501.0h0.8M456.4 484.7h0.8M463.4 506.6h0.8M467.0 498.6h0.8M457.4 497.8h0.8M454.3 490.5h0.8M464.4 498.6h0.8M461.6 510.9h0.8M460.4 493.1h0.8M459.7 486.0h0.8M465.1 499.7h0.8M460.3 497.5h0.8M463.9 496.5h0.8M461.9 486.5h0.8M461.5 500.1h0.8M464.8 501.1h0.8M461.0 498.3h0.8M470.6 501.2h0.8M454.4 491.9h0.8M455.7 483.1h0.8M458.2 498.3h0.8M461.9 512.1h0.8M461.9 499.6h0.8M462.6 512.8h0.8M468.0 498.6h0.8" stroke="#4a4ab0" stroke-width="0.84" opacity="0.5"/>
<ellipse cx="461.68" cy="497.92" rx="4.51" ry="9.38" fill="#3a45a6" transform="rotate(-8 461.68 497.92)" opacity="0.8" filter="url(#bl)"/>
<ellipse cx="461.58" cy="497.55" rx="3.59" ry="7.64" fill="#3498d6" transform="rotate(-8 461.58 497.55)" filter="url(#bl)"/>
<ellipse cx="461.4" cy="497.28" rx="2.76" ry="5.98" fill="#48c4b8" transform="rotate(-8 461.4 497.28)" filter="url(#bl)"/>
<ellipse cx="461.4" cy="497" rx="2.12" ry="4.51" fill="#92c94a" transform="rotate(-8 461.4 497)" filter="url(#bl)"/>
<ellipse cx="461.4" cy="496.72" rx="1.47" ry="3.13" fill="#e8d42a" transform="rotate(-8 461.4 496.72)" filter="url(#bl)"/>
<ellipse cx="461.4" cy="496.54" rx="0.92" ry="2.02" fill="#ea6a2a" transform="rotate(-8 461.4 496.54)" filter="url(#bl)"/>
<rect x="301.2" y="488" width="7.7" height="9.5" stroke="#8a8a8a" stroke-width="0.9" fill="none"/>
<rect x="312.7" y="509.5" width="8.2" height="10.7" stroke="#8a8a8a" stroke-width="0.9" fill="none"/>
<rect x="376.2" y="485.4" width="7.6" height="9.2" stroke="#8a8a8a" stroke-width="0.9" fill="none"/>
<rect x="387.7" y="503.8" width="6.5" height="10" stroke="#8a8a8a" stroke-width="0.9" fill="none"/>
<rect x="453" y="483.4" width="8.5" height="9.6" stroke="#8a8a8a" stroke-width="0.9" fill="none"/>
<rect x="463" y="502.3" width="7.8" height="10" stroke="#8a8a8a" stroke-width="0.9" fill="none"/>
<text x="303.7" y="481" font-size="4.8" fill="#333">QF</text>
<text x="326.2" y="521.8" font-size="4.8" fill="#333">PF</text>
<text x="382.1" y="481.5" font-size="4.8" fill="#333">QF</text>
<text x="395.7" y="517.8" font-size="4.8" fill="#333">PF</text>
<text x="459.8" y="480" font-size="4.8" fill="#333">QF</text>
<text x="475.2" y="517.8" font-size="4.8" fill="#333">PF</text>
<rect x="298.5" y="469.9" width="54.2" height="57" stroke="#231f20" stroke-width="1.1" fill="none"/>
<path d="M298.5,522.61h1.3M298.5,520.1h1.3M298.5,518.32h1.3M298.5,516.94h1.3M298.5,515.81h1.3M298.5,514.86h1.3M298.5,514.03h1.3M298.5,513.3h1.3M298.5,508.36h1.3M298.5,505.85h1.3M298.5,504.07h1.3M298.5,502.69h1.3M298.5,501.56h1.3M298.5,500.61h1.3M298.5,499.78h1.3M298.5,499.05h1.3M298.5,494.11h1.3M298.5,491.6h1.3M298.5,489.82h1.3M298.5,488.44h1.3M298.5,487.31h1.3M298.5,486.36h1.3M298.5,485.53h1.3M298.5,484.8h1.3M298.5,479.86h1.3M298.5,477.35h1.3M298.5,475.57h1.3M298.5,474.19h1.3M298.5,473.06h1.3M298.5,472.11h1.3M298.5,471.28h1.3M298.5,470.55h1.3" stroke="#231f20" stroke-width="0.5"/>
<path d="M302.58,526.9v-1.3M304.96,526.9v-1.3M306.66,526.9v-1.3M307.97,526.9v-1.3M309.04,526.9v-1.3M309.95,526.9v-1.3M310.74,526.9v-1.3M311.43,526.9v-1.3M316.13,526.9v-1.3M318.51,526.9v-1.3M320.21,526.9v-1.3M321.52,526.9v-1.3M322.59,526.9v-1.3M323.5,526.9v-1.3M324.29,526.9v-1.3M324.98,526.9v-1.3M329.68,526.9v-1.3M332.06,526.9v-1.3M333.76,526.9v-1.3M335.07,526.9v-1.3M336.14,526.9v-1.3M337.05,526.9v-1.3M337.84,526.9v-1.3M338.53,526.9v-1.3M343.23,526.9v-1.3M345.61,526.9v-1.3M347.31,526.9v-1.3M348.62,526.9v-1.3M349.69,526.9v-1.3M350.6,526.9v-1.3M351.39,526.9v-1.3M352.08,526.9v-1.3" stroke="#231f20" stroke-width="0.5"/>
<line x1="296.1" y1="469.9" x2="298.5" y2="469.9" stroke="#231f20" stroke-width="0.9"/>
<text x="284.5" y="473.9" font-size="6.6" fill="#3a3a3a" textLength="5.6" lengthAdjust="spacingAndGlyphs">10</text>
<text x="290.4" y="470.6" font-size="3.9" fill="#3a3a3a">4</text>
<line x1="298.5" y1="526.9" x2="298.5" y2="529.3" stroke="#231f20" stroke-width="0.9"/>
<text x="294.8" y="537.5" font-size="6.6" fill="#3a3a3a" textLength="5.6" lengthAdjust="spacingAndGlyphs">10</text>
<text x="300.7" y="534.2" font-size="3.9" fill="#3a3a3a">0</text>
<line x1="296.1" y1="484.15" x2="298.5" y2="484.15" stroke="#231f20" stroke-width="0.9"/>
<text x="284.5" y="488.15" font-size="6.6" fill="#3a3a3a" textLength="5.6" lengthAdjust="spacingAndGlyphs">10</text>
<text x="290.4" y="484.85" font-size="3.9" fill="#3a3a3a">3</text>
<line x1="312.05" y1="526.9" x2="312.05" y2="529.3" stroke="#231f20" stroke-width="0.9"/>
<text x="308.35" y="537.5" font-size="6.6" fill="#3a3a3a" textLength="5.6" lengthAdjust="spacingAndGlyphs">10</text>
<text x="314.25" y="534.2" font-size="3.9" fill="#3a3a3a">1</text>
<line x1="296.1" y1="498.4" x2="298.5" y2="498.4" stroke="#231f20" stroke-width="0.9"/>
<text x="284.5" y="502.4" font-size="6.6" fill="#3a3a3a" textLength="5.6" lengthAdjust="spacingAndGlyphs">10</text>
<text x="290.4" y="499.1" font-size="3.9" fill="#3a3a3a">2</text>
<line x1="325.6" y1="526.9" x2="325.6" y2="529.3" stroke="#231f20" stroke-width="0.9"/>
<text x="321.9" y="537.5" font-size="6.6" fill="#3a3a3a" textLength="5.6" lengthAdjust="spacingAndGlyphs">10</text>
<text x="327.8" y="534.2" font-size="3.9" fill="#3a3a3a">2</text>
<line x1="296.1" y1="512.65" x2="298.5" y2="512.65" stroke="#231f20" stroke-width="0.9"/>
<text x="284.5" y="516.65" font-size="6.6" fill="#3a3a3a" textLength="5.6" lengthAdjust="spacingAndGlyphs">10</text>
<text x="290.4" y="513.35" font-size="3.9" fill="#3a3a3a">1</text>
<line x1="339.15" y1="526.9" x2="339.15" y2="529.3" stroke="#231f20" stroke-width="0.9"/>
<text x="335.45" y="537.5" font-size="6.6" fill="#3a3a3a" textLength="5.6" lengthAdjust="spacingAndGlyphs">10</text>
<text x="341.35" y="534.2" font-size="3.9" fill="#3a3a3a">3</text>
<line x1="296.1" y1="526.9" x2="298.5" y2="526.9" stroke="#231f20" stroke-width="0.9"/>
<text x="284.5" y="530.9" font-size="6.6" fill="#3a3a3a" textLength="5.6" lengthAdjust="spacingAndGlyphs">10</text>
<text x="290.4" y="527.6" font-size="3.9" fill="#3a3a3a">0</text>
<line x1="352.7" y1="526.9" x2="352.7" y2="529.3" stroke="#231f20" stroke-width="0.9"/>
<text x="349" y="537.5" font-size="6.6" fill="#3a3a3a" textLength="5.6" lengthAdjust="spacingAndGlyphs">10</text>
<text x="354.9" y="534.2" font-size="3.9" fill="#3a3a3a">4</text>
<rect x="375.4" y="470" width="54.6" height="56.9" stroke="#231f20" stroke-width="1.1" fill="none"/>
<path d="M375.4,522.62h1.3M375.4,520.11h1.3M375.4,518.34h1.3M375.4,516.96h1.3M375.4,515.83h1.3M375.4,514.88h1.3M375.4,514.05h1.3M375.4,513.33h1.3M375.4,508.39h1.3M375.4,505.89h1.3M375.4,504.11h1.3M375.4,502.73h1.3M375.4,501.61h1.3M375.4,500.65h1.3M375.4,499.83h1.3M375.4,499.1h1.3M375.4,494.17h1.3M375.4,491.66h1.3M375.4,489.89h1.3M375.4,488.51h1.3M375.4,487.38h1.3M375.4,486.43h1.3M375.4,485.6h1.3M375.4,484.88h1.3M375.4,479.94h1.3M375.4,477.44h1.3M375.4,475.66h1.3M375.4,474.28h1.3M375.4,473.16h1.3M375.4,472.2h1.3M375.4,471.38h1.3M375.4,470.65h1.3" stroke="#231f20" stroke-width="0.5"/>
<path d="M379.51,526.9v-1.3M381.91,526.9v-1.3M383.62,526.9v-1.3M384.94,526.9v-1.3M386.02,526.9v-1.3M386.94,526.9v-1.3M387.73,526.9v-1.3M388.43,526.9v-1.3M393.16,526.9v-1.3M395.56,526.9v-1.3M397.27,526.9v-1.3M398.59,526.9v-1.3M399.67,526.9v-1.3M400.59,526.9v-1.3M401.38,526.9v-1.3M402.08,526.9v-1.3M406.81,526.9v-1.3M409.21,526.9v-1.3M410.92,526.9v-1.3M412.24,526.9v-1.3M413.32,526.9v-1.3M414.24,526.9v-1.3M415.03,526.9v-1.3M415.73,526.9v-1.3M420.46,526.9v-1.3M422.86,526.9v-1.3M424.57,526.9v-1.3M425.89,526.9v-1.3M426.97,526.9v-1.3M427.89,526.9v-1.3M428.68,526.9v-1.3M429.38,526.9v-1.3" stroke="#231f20" stroke-width="0.5"/>
<line x1="373" y1="470" x2="375.4" y2="470" stroke="#231f20" stroke-width="0.9"/>
<text x="361.4" y="474" font-size="6.6" fill="#3a3a3a" textLength="5.6" lengthAdjust="spacingAndGlyphs">10</text>
<text x="367.3" y="470.7" font-size="3.9" fill="#3a3a3a">4</text>
<line x1="375.4" y1="526.9" x2="375.4" y2="529.3" stroke="#231f20" stroke-width="0.9"/>
<text x="371.7" y="537.5" font-size="6.6" fill="#3a3a3a" textLength="5.6" lengthAdjust="spacingAndGlyphs">10</text>
<text x="377.6" y="534.2" font-size="3.9" fill="#3a3a3a">0</text>
<line x1="373" y1="484.23" x2="375.4" y2="484.23" stroke="#231f20" stroke-width="0.9"/>
<text x="361.4" y="488.23" font-size="6.6" fill="#3a3a3a" textLength="5.6" lengthAdjust="spacingAndGlyphs">10</text>
<text x="367.3" y="484.93" font-size="3.9" fill="#3a3a3a">3</text>
<line x1="389.05" y1="526.9" x2="389.05" y2="529.3" stroke="#231f20" stroke-width="0.9"/>
<text x="385.35" y="537.5" font-size="6.6" fill="#3a3a3a" textLength="5.6" lengthAdjust="spacingAndGlyphs">10</text>
<text x="391.25" y="534.2" font-size="3.9" fill="#3a3a3a">1</text>
<line x1="373" y1="498.45" x2="375.4" y2="498.45" stroke="#231f20" stroke-width="0.9"/>
<text x="361.4" y="502.45" font-size="6.6" fill="#3a3a3a" textLength="5.6" lengthAdjust="spacingAndGlyphs">10</text>
<text x="367.3" y="499.15" font-size="3.9" fill="#3a3a3a">2</text>
<line x1="402.7" y1="526.9" x2="402.7" y2="529.3" stroke="#231f20" stroke-width="0.9"/>
<text x="399" y="537.5" font-size="6.6" fill="#3a3a3a" textLength="5.6" lengthAdjust="spacingAndGlyphs">10</text>
<text x="404.9" y="534.2" font-size="3.9" fill="#3a3a3a">2</text>
<line x1="373" y1="512.67" x2="375.4" y2="512.67" stroke="#231f20" stroke-width="0.9"/>
<text x="361.4" y="516.67" font-size="6.6" fill="#3a3a3a" textLength="5.6" lengthAdjust="spacingAndGlyphs">10</text>
<text x="367.3" y="513.38" font-size="3.9" fill="#3a3a3a">1</text>
<line x1="416.35" y1="526.9" x2="416.35" y2="529.3" stroke="#231f20" stroke-width="0.9"/>
<text x="412.65" y="537.5" font-size="6.6" fill="#3a3a3a" textLength="5.6" lengthAdjust="spacingAndGlyphs">10</text>
<text x="418.55" y="534.2" font-size="3.9" fill="#3a3a3a">3</text>
<line x1="373" y1="526.9" x2="375.4" y2="526.9" stroke="#231f20" stroke-width="0.9"/>
<text x="361.4" y="530.9" font-size="6.6" fill="#3a3a3a" textLength="5.6" lengthAdjust="spacingAndGlyphs">10</text>
<text x="367.3" y="527.6" font-size="3.9" fill="#3a3a3a">0</text>
<line x1="430" y1="526.9" x2="430" y2="529.3" stroke="#231f20" stroke-width="0.9"/>
<text x="426.3" y="537.5" font-size="6.6" fill="#3a3a3a" textLength="5.6" lengthAdjust="spacingAndGlyphs">10</text>
<text x="432.2" y="534.2" font-size="3.9" fill="#3a3a3a">4</text>
<rect x="452" y="469.6" width="54.3" height="57" stroke="#231f20" stroke-width="1.1" fill="none"/>
<path d="M452,522.31h1.3M452,519.8h1.3M452,518.02h1.3M452,516.64h1.3M452,515.51h1.3M452,514.56h1.3M452,513.73h1.3M452,513h1.3M452,508.06h1.3M452,505.55h1.3M452,503.77h1.3M452,502.39h1.3M452,501.26h1.3M452,500.31h1.3M452,499.48h1.3M452,498.75h1.3M452,493.81h1.3M452,491.3h1.3M452,489.52h1.3M452,488.14h1.3M452,487.01h1.3M452,486.06h1.3M452,485.23h1.3M452,484.5h1.3M452,479.56h1.3M452,477.05h1.3M452,475.27h1.3M452,473.89h1.3M452,472.76h1.3M452,471.81h1.3M452,470.98h1.3M452,470.25h1.3" stroke="#231f20" stroke-width="0.5"/>
<path d="M456.09,526.6v-1.3M458.48,526.6v-1.3M460.17,526.6v-1.3M461.49,526.6v-1.3M462.56,526.6v-1.3M463.47,526.6v-1.3M464.26,526.6v-1.3M464.95,526.6v-1.3M469.66,526.6v-1.3M472.05,526.6v-1.3M473.75,526.6v-1.3M475.06,526.6v-1.3M476.14,526.6v-1.3M477.05,526.6v-1.3M477.83,526.6v-1.3M478.53,526.6v-1.3M483.24,526.6v-1.3M485.63,526.6v-1.3M487.32,526.6v-1.3M488.64,526.6v-1.3M489.71,526.6v-1.3M490.62,526.6v-1.3M491.41,526.6v-1.3M492.1,526.6v-1.3M496.81,526.6v-1.3M499.2,526.6v-1.3M500.9,526.6v-1.3M502.21,526.6v-1.3M503.29,526.6v-1.3M504.2,526.6v-1.3M504.98,526.6v-1.3M505.68,526.6v-1.3" stroke="#231f20" stroke-width="0.5"/>
<line x1="449.6" y1="469.6" x2="452" y2="469.6" stroke="#231f20" stroke-width="0.9"/>
<text x="438" y="473.6" font-size="6.6" fill="#3a3a3a" textLength="5.6" lengthAdjust="spacingAndGlyphs">10</text>
<text x="443.9" y="470.3" font-size="3.9" fill="#3a3a3a">4</text>
<line x1="452" y1="526.6" x2="452" y2="529" stroke="#231f20" stroke-width="0.9"/>
<text x="448.3" y="537.2" font-size="6.6" fill="#3a3a3a" textLength="5.6" lengthAdjust="spacingAndGlyphs">10</text>
<text x="454.2" y="533.9" font-size="3.9" fill="#3a3a3a">0</text>
<line x1="449.6" y1="483.85" x2="452" y2="483.85" stroke="#231f20" stroke-width="0.9"/>
<text x="438" y="487.85" font-size="6.6" fill="#3a3a3a" textLength="5.6" lengthAdjust="spacingAndGlyphs">10</text>
<text x="443.9" y="484.55" font-size="3.9" fill="#3a3a3a">3</text>
<line x1="465.57" y1="526.6" x2="465.57" y2="529" stroke="#231f20" stroke-width="0.9"/>
<text x="461.88" y="537.2" font-size="6.6" fill="#3a3a3a" textLength="5.6" lengthAdjust="spacingAndGlyphs">10</text>
<text x="467.78" y="533.9" font-size="3.9" fill="#3a3a3a">1</text>
<line x1="449.6" y1="498.1" x2="452" y2="498.1" stroke="#231f20" stroke-width="0.9"/>
<text x="438" y="502.1" font-size="6.6" fill="#3a3a3a" textLength="5.6" lengthAdjust="spacingAndGlyphs">10</text>
<text x="443.9" y="498.8" font-size="3.9" fill="#3a3a3a">2</text>
<line x1="479.15" y1="526.6" x2="479.15" y2="529" stroke="#231f20" stroke-width="0.9"/>
<text x="475.45" y="537.2" font-size="6.6" fill="#3a3a3a" textLength="5.6" lengthAdjust="spacingAndGlyphs">10</text>
<text x="481.35" y="533.9" font-size="3.9" fill="#3a3a3a">2</text>
<line x1="449.6" y1="512.35" x2="452" y2="512.35" stroke="#231f20" stroke-width="0.9"/>
<text x="438" y="516.35" font-size="6.6" fill="#3a3a3a" textLength="5.6" lengthAdjust="spacingAndGlyphs">10</text>
<text x="443.9" y="513.05" font-size="3.9" fill="#3a3a3a">1</text>
<line x1="492.73" y1="526.6" x2="492.73" y2="529" stroke="#231f20" stroke-width="0.9"/>
<text x="489.03" y="537.2" font-size="6.6" fill="#3a3a3a" textLength="5.6" lengthAdjust="spacingAndGlyphs">10</text>
<text x="494.93" y="533.9" font-size="3.9" fill="#3a3a3a">3</text>
<line x1="449.6" y1="526.6" x2="452" y2="526.6" stroke="#231f20" stroke-width="0.9"/>
<text x="438" y="530.6" font-size="6.6" fill="#3a3a3a" textLength="5.6" lengthAdjust="spacingAndGlyphs">10</text>
<text x="443.9" y="527.3" font-size="3.9" fill="#3a3a3a">0</text>
<line x1="506.3" y1="526.6" x2="506.3" y2="529" stroke="#231f20" stroke-width="0.9"/>
<text x="502.6" y="537.2" font-size="6.6" fill="#3a3a3a" textLength="5.6" lengthAdjust="spacingAndGlyphs">10</text>
<text x="508.5" y="533.9" font-size="3.9" fill="#3a3a3a">4</text>
<path d="M297.4,634.4 L297.4,634.4 L297.8,634.4 L298.2,634.4 L298.6,634.4 L299,634.4 L299.4,634.4 L299.8,634.4 L300.2,634.03 L300.6,633.69 L301,633.1 L301.4,632.11 L301.8,630.54 L302.2,628.19 L302.6,624.84 L303,620.3 L303.4,614.53 L303.8,607.6 L304.2,599.82 L304.6,591.71 L305,583.99 L305.4,577.46 L305.8,572.87 L306.2,570.79 L306.6,571.49 L307,574.88 L307.4,580.53 L307.8,587.76 L308.2,595.76 L308.6,603.78 L309,611.19 L309.4,617.57 L309.8,622.72 L310.2,626.65 L310.6,629.48 L311,631.41 L311.4,632.66 L311.8,633.43 L312.2,633.89 L312.6,634.14 L313,634.4 L313.4,634.4 L313.8,634.4 L314.2,634.4 L314.6,634.4 L315,634.4 L315.4,634.4 L315.8,634.4 L316.2,634.4 L316.6,634.4 L317,634.4 L317.4,634.4 L317.8,634.4 L318.2,634.4 L318.6,634.4 L319,634.4 L319.4,634.4 L319.8,634.4 L320.2,634.4 L320.6,634.4 L321,634.4 L321.4,634.4 L321.8,634.4 L322.2,634.4 L322.6,634.4 L323,634.4 L323.4,634.4 L323.8,634.4 L324.2,634.4 L324.6,634.4 L325,634.4 L325.4,634.4 L325.8,634.4 L326.2,634.4 L326.6,634.4 L327,634.4 L327.4,634.4 L327.8,634.4 L328.2,634.4 L328.6,634.4 L329,634.4 L329.4,634.4 L329.8,634.4 L330.2,634.4 L330.6,634.4 L331,634.4 L331.4,634.4 L331.8,634.4 L332.2,634.4 L332.6,634.4 L333,634.4 L333.4,634.4 L333.8,634.4 L334.2,634.4 L334.6,634.4 L335,634.4 L335.4,634.4 L335.8,634.4 L336.2,634.4 L336.6,634.4 L337,634.4 L337.4,634.4 L337.8,634.4 L338.2,634.4 L338.6,634.4 L339,634.4 L339.4,634.4 L339.8,634.4 L340.2,634.4 L340.6,634.4 L341,634.4 L341.4,634.4 L341.8,634.4 L342.2,634.4 L342.6,634.4 L343,634.4 L343.4,634.4 L343.8,634.4 L344.2,634.4 L344.6,634.4 L345,634.4 L345.4,634.4 L345.8,634.4 L346.2,634.4 L346.6,634.4 L347,634.4 L347.4,634.4 L347.8,634.4 L348.2,634.4 L348.6,634.4 L349,634.4 L349.4,634.4 L349.8,634.4 L350.2,634.4 L350.6,634.4 L351,634.4 L351.4,634.4 L351.8,634.4 L352.2,634.4 L352.6,634.4 L353,634.4 L353.4,634.4 L353.8,634.4 L354.2,634.4 L354.6,634.4 L355,634.4 L355.4,634.4 L355.8,634.4 L356.2,634.4 L356.6,634.4 L357,634.4 L357.4,634.4 L357.8,634.4 L358.2,634.4 L358.6,634.4 L359,634.4 L359.4,634.4 L359.8,634.4 L360.2,634.4 L360.6,634.4 L361,634.4 L361.4,634.4 L361.8,634.4 L362.2,634.4 L362.6,634.4 L363,634.4 L363.4,634.4 L363.8,634.4 L364.2,634.4 L364.6,634.4 L365,634.4 L365.4,634.4 L365.8,634.4 L366.2,634.4 L366.6,634.4 L367,634.4 L367.4,634.4 L367.8,634.4 L368.2,634.4 L368.6,634.4 L369,634.4 L369.4,634.4 L369.8,634.4 L370.2,634.4 L370.6,634.4 L371,634.4 L371.4,634.4 L371.4,634.4 Z" fill="#e8a0a8" stroke="none" stroke-width="1" opacity="0.7"/>
<path d="M297.4,634.4 L297.8,634.4 L298.2,634.4 L298.6,634.4 L299,634.4 L299.4,634.4 L299.8,634.4 L300.2,634.03 L300.6,633.69 L301,633.1 L301.4,632.11 L301.8,630.54 L302.2,628.19 L302.6,624.84 L303,620.3 L303.4,614.53 L303.8,607.6 L304.2,599.82 L304.6,591.71 L305,583.99 L305.4,577.46 L305.8,572.87 L306.2,570.79 L306.6,571.49 L307,574.88 L307.4,580.53 L307.8,587.76 L308.2,595.76 L308.6,603.78 L309,611.19 L309.4,617.57 L309.8,622.72 L310.2,626.65 L310.6,629.48 L311,631.41 L311.4,632.66 L311.8,633.43 L312.2,633.89 L312.6,634.14 L313,634.4 L313.4,634.4 L313.8,634.4 L314.2,634.4 L314.6,634.4 L315,634.4 L315.4,634.4 L315.8,634.4 L316.2,634.4 L316.6,634.4 L317,634.4 L317.4,634.4 L317.8,634.4 L318.2,634.4 L318.6,634.4 L319,634.4 L319.4,634.4 L319.8,634.4 L320.2,634.4 L320.6,634.4 L321,634.4 L321.4,634.4 L321.8,634.4 L322.2,634.4 L322.6,634.4 L323,634.4 L323.4,634.4 L323.8,634.4 L324.2,634.4 L324.6,634.4 L325,634.4 L325.4,634.4 L325.8,634.4 L326.2,634.4 L326.6,634.4 L327,634.4 L327.4,634.4 L327.8,634.4 L328.2,634.4 L328.6,634.4 L329,634.4 L329.4,634.4 L329.8,634.4 L330.2,634.4 L330.6,634.4 L331,634.4 L331.4,634.4 L331.8,634.4 L332.2,634.4 L332.6,634.4 L333,634.4 L333.4,634.4 L333.8,634.4 L334.2,634.4 L334.6,634.4 L335,634.4 L335.4,634.4 L335.8,634.4 L336.2,634.4 L336.6,634.4 L337,634.4 L337.4,634.4 L337.8,634.4 L338.2,634.4 L338.6,634.4 L339,634.4 L339.4,634.4 L339.8,634.4 L340.2,634.4 L340.6,634.4 L341,634.4 L341.4,634.4 L341.8,634.4 L342.2,634.4 L342.6,634.4 L343,634.4 L343.4,634.4 L343.8,634.4 L344.2,634.4 L344.6,634.4 L345,634.4 L345.4,634.4 L345.8,634.4 L346.2,634.4 L346.6,634.4 L347,634.4 L347.4,634.4 L347.8,634.4 L348.2,634.4 L348.6,634.4 L349,634.4 L349.4,634.4 L349.8,634.4 L350.2,634.4 L350.6,634.4 L351,634.4 L351.4,634.4 L351.8,634.4 L352.2,634.4 L352.6,634.4 L353,634.4 L353.4,634.4 L353.8,634.4 L354.2,634.4 L354.6,634.4 L355,634.4 L355.4,634.4 L355.8,634.4 L356.2,634.4 L356.6,634.4 L357,634.4 L357.4,634.4 L357.8,634.4 L358.2,634.4 L358.6,634.4 L359,634.4 L359.4,634.4 L359.8,634.4 L360.2,634.4 L360.6,634.4 L361,634.4 L361.4,634.4 L361.8,634.4 L362.2,634.4 L362.6,634.4 L363,634.4 L363.4,634.4 L363.8,634.4 L364.2,634.4 L364.6,634.4 L365,634.4 L365.4,634.4 L365.8,634.4 L366.2,634.4 L366.6,634.4 L367,634.4 L367.4,634.4 L367.8,634.4 L368.2,634.4 L368.6,634.4 L369,634.4 L369.4,634.4 L369.8,634.4 L370.2,634.4 L370.6,634.4 L371,634.4 L371.4,634.4" fill="none" stroke="#c0485a" stroke-width="0.9" stroke-linejoin="round"/>
<path d="M297.4,634.4 L297.4,634.4 L297.8,634.4 L298.2,634.4 L298.6,634.4 L299,634.4 L299.4,634.4 L299.8,634.4 L300.2,634.4 L300.6,634.18 L301,633.91 L301.4,633.38 L301.8,632.39 L302.2,630.71 L302.6,628.02 L303,624.05 L303.4,618.62 L303.8,611.79 L304.2,603.98 L304.6,595.94 L305,588.73 L305.4,583.45 L305.8,581 L306.2,581.83 L306.6,585.78 L307,592.16 L307.4,599.93 L307.8,607.97 L308.2,615.36 L308.6,621.52 L309,626.21 L309.4,629.51 L309.8,631.66 L310.2,632.95 L310.6,633.68 L311,634.07 L311.4,634.4 L311.8,634.4 L312.2,634.4 L312.6,634.4 L313,634.4 L313.4,634.4 L313.8,634.4 L314.2,634.4 L314.6,634.4 L315,634.4 L315.4,634.4 L315.8,634.4 L316.2,634.4 L316.6,634.4 L317,634.4 L317.4,634.4 L317.8,634.4 L318.2,634.4 L318.6,634.4 L319,634.4 L319.4,634.4 L319.8,634.4 L320.2,634.4 L320.6,634.4 L321,634.4 L321.4,634.4 L321.8,634.4 L322.2,634.4 L322.6,634.4 L323,634.4 L323.4,634.4 L323.8,634.4 L324.2,634.4 L324.6,634.4 L325,634.4 L325.4,634.4 L325.8,634.4 L326.2,634.4 L326.6,634.4 L327,634.4 L327.4,634.4 L327.8,634.4 L328.2,634.4 L328.6,634.4 L329,634.4 L329.4,634.4 L329.8,634.4 L330.2,634.4 L330.6,634.4 L331,634.4 L331.4,634.4 L331.8,634.4 L332.2,634.4 L332.6,634.4 L333,634.4 L333.4,634.4 L333.8,634.4 L334.2,634.4 L334.6,634.4 L335,634.4 L335.4,634.4 L335.8,634.4 L336.2,634.4 L336.6,634.4 L337,634.4 L337.4,634.4 L337.8,634.4 L338.2,634.4 L338.6,634.4 L339,634.4 L339.4,634.4 L339.8,634.4 L340.2,634.4 L340.6,634.4 L341,634.4 L341.4,634.4 L341.8,634.4 L342.2,634.4 L342.6,634.4 L343,634.4 L343.4,634.4 L343.8,634.4 L344.2,634.4 L344.6,634.4 L345,634.4 L345.4,634.4 L345.8,634.4 L346.2,634.4 L346.6,634.4 L347,634.4 L347.4,634.4 L347.8,634.4 L348.2,634.4 L348.6,634.4 L349,634.4 L349.4,634.4 L349.8,634.4 L350.2,634.4 L350.6,634.4 L351,634.4 L351.4,634.4 L351.8,634.4 L352.2,634.4 L352.6,634.4 L353,634.4 L353.4,634.4 L353.8,634.4 L354.2,634.4 L354.6,634.4 L355,634.4 L355.4,634.4 L355.8,634.4 L356.2,634.4 L356.6,634.4 L357,634.4 L357.4,634.4 L357.8,634.4 L358.2,634.4 L358.6,634.4 L359,634.4 L359.4,634.4 L359.8,634.4 L360.2,634.4 L360.6,634.4 L361,634.4 L361.4,634.4 L361.8,634.4 L362.2,634.4 L362.6,634.4 L363,634.4 L363.4,634.4 L363.8,634.4 L364.2,634.4 L364.6,634.4 L365,634.4 L365.4,634.4 L365.8,634.4 L366.2,634.4 L366.6,634.4 L367,634.4 L367.4,634.4 L367.8,634.4 L368.2,634.4 L368.6,634.4 L369,634.4 L369.4,634.4 L369.8,634.4 L370.2,634.4 L370.6,634.4 L371,634.4 L371.4,634.4 L371.4,634.4 Z" fill="#8f6e98" stroke="none" stroke-width="1" opacity="0.85"/>
<path d="M297.4,634.4 L297.8,634.4 L298.2,634.4 L298.6,634.4 L299,634.4 L299.4,634.4 L299.8,634.4 L300.2,634.4 L300.6,634.18 L301,633.91 L301.4,633.38 L301.8,632.39 L302.2,630.71 L302.6,628.02 L303,624.05 L303.4,618.62 L303.8,611.79 L304.2,603.98 L304.6,595.94 L305,588.73 L305.4,583.45 L305.8,581 L306.2,581.83 L306.6,585.78 L307,592.16 L307.4,599.93 L307.8,607.97 L308.2,615.36 L308.6,621.52 L309,626.21 L309.4,629.51 L309.8,631.66 L310.2,632.95 L310.6,633.68 L311,634.07 L311.4,634.4 L311.8,634.4 L312.2,634.4 L312.6,634.4 L313,634.4 L313.4,634.4 L313.8,634.4 L314.2,634.4 L314.6,634.4 L315,634.4 L315.4,634.4 L315.8,634.4 L316.2,634.4 L316.6,634.4 L317,634.4 L317.4,634.4 L317.8,634.4 L318.2,634.4 L318.6,634.4 L319,634.4 L319.4,634.4 L319.8,634.4 L320.2,634.4 L320.6,634.4 L321,634.4 L321.4,634.4 L321.8,634.4 L322.2,634.4 L322.6,634.4 L323,634.4 L323.4,634.4 L323.8,634.4 L324.2,634.4 L324.6,634.4 L325,634.4 L325.4,634.4 L325.8,634.4 L326.2,634.4 L326.6,634.4 L327,634.4 L327.4,634.4 L327.8,634.4 L328.2,634.4 L328.6,634.4 L329,634.4 L329.4,634.4 L329.8,634.4 L330.2,634.4 L330.6,634.4 L331,634.4 L331.4,634.4 L331.8,634.4 L332.2,634.4 L332.6,634.4 L333,634.4 L333.4,634.4 L333.8,634.4 L334.2,634.4 L334.6,634.4 L335,634.4 L335.4,634.4 L335.8,634.4 L336.2,634.4 L336.6,634.4 L337,634.4 L337.4,634.4 L337.8,634.4 L338.2,634.4 L338.6,634.4 L339,634.4 L339.4,634.4 L339.8,634.4 L340.2,634.4 L340.6,634.4 L341,634.4 L341.4,634.4 L341.8,634.4 L342.2,634.4 L342.6,634.4 L343,634.4 L343.4,634.4 L343.8,634.4 L344.2,634.4 L344.6,634.4 L345,634.4 L345.4,634.4 L345.8,634.4 L346.2,634.4 L346.6,634.4 L347,634.4 L347.4,634.4 L347.8,634.4 L348.2,634.4 L348.6,634.4 L349,634.4 L349.4,634.4 L349.8,634.4 L350.2,634.4 L350.6,634.4 L351,634.4 L351.4,634.4 L351.8,634.4 L352.2,634.4 L352.6,634.4 L353,634.4 L353.4,634.4 L353.8,634.4 L354.2,634.4 L354.6,634.4 L355,634.4 L355.4,634.4 L355.8,634.4 L356.2,634.4 L356.6,634.4 L357,634.4 L357.4,634.4 L357.8,634.4 L358.2,634.4 L358.6,634.4 L359,634.4 L359.4,634.4 L359.8,634.4 L360.2,634.4 L360.6,634.4 L361,634.4 L361.4,634.4 L361.8,634.4 L362.2,634.4 L362.6,634.4 L363,634.4 L363.4,634.4 L363.8,634.4 L364.2,634.4 L364.6,634.4 L365,634.4 L365.4,634.4 L365.8,634.4 L366.2,634.4 L366.6,634.4 L367,634.4 L367.4,634.4 L367.8,634.4 L368.2,634.4 L368.6,634.4 L369,634.4 L369.4,634.4 L369.8,634.4 L370.2,634.4 L370.6,634.4 L371,634.4 L371.4,634.4" fill="none" stroke="#7d5e85" stroke-width="0.9" stroke-dasharray="1.6,1" stroke-linejoin="round"/>
<path d="M297.4,634.4 L297.8,634.4 L298.2,634.4 L298.6,634.4 L299,634.4 L299.4,634.4 L299.8,634.4 L300.2,634.4 L300.6,634.4 L301,634.4 L301.4,634.4 L301.8,634.4 L302.2,634.19 L302.6,634 L303,633.66 L303.4,633.1 L303.8,632.19 L304.2,630.79 L304.6,628.74 L305,625.87 L305.4,622.05 L305.8,617.22 L306.2,611.44 L306.6,604.92 L307,598.04 L307.4,591.3 L307.8,585.31 L308.2,580.69 L308.6,577.94 L309,577.36 L309.4,578.76 L309.8,581.88 L310.2,586.45 L310.6,592.04 L311,598.19 L311.4,604.46 L311.8,610.45 L312.2,615.86 L312.6,620.52 L313,624.34 L313.4,627.35 L313.8,629.62 L314.2,631.26 L314.6,632.41 L315,633.18 L315.4,633.67 L315.8,633.98 L316.2,634.17 L316.6,634.4 L317,634.4 L317.4,634.4 L317.8,634.4 L318.2,634.4 L318.6,634.4 L319,634.4 L319.4,634.4 L319.8,634.4 L320.2,634.4 L320.6,634.4 L321,634.4 L321.4,634.4 L321.8,634.4 L322.2,634.4 L322.6,634.4 L323,634.4 L323.4,634.4 L323.8,634.4 L324.2,634.4 L324.6,634.4 L325,634.4 L325.4,634.4 L325.8,634.4 L326.2,634.4 L326.6,634.4 L327,634.4 L327.4,634.4 L327.8,634.4 L328.2,634.4 L328.6,634.4 L329,634.4 L329.4,634.4 L329.8,634.4 L330.2,634.4 L330.6,634.4 L331,634.4 L331.4,634.4 L331.8,634.4 L332.2,634.4 L332.6,634.4 L333,634.4 L333.4,634.4 L333.8,634.4 L334.2,634.4 L334.6,634.4 L335,634.4 L335.4,634.4 L335.8,634.4 L336.2,634.4 L336.6,634.4 L337,634.4 L337.4,634.4 L337.8,634.4 L338.2,634.4 L338.6,634.4 L339,634.4 L339.4,634.4 L339.8,634.4 L340.2,634.4 L340.6,634.4 L341,634.4 L341.4,634.4 L341.8,634.4 L342.2,634.4 L342.6,634.4 L343,634.4 L343.4,634.4 L343.8,634.4 L344.2,634.4 L344.6,634.4 L345,634.4 L345.4,634.4 L345.8,634.4 L346.2,634.4 L346.6,634.4 L347,634.4 L347.4,634.4 L347.8,634.4 L348.2,634.4 L348.6,634.4 L349,634.4 L349.4,634.4 L349.8,634.4 L350.2,634.4 L350.6,634.4 L351,634.4 L351.4,634.4 L351.8,634.4 L352.2,634.4 L352.6,634.4 L353,634.4 L353.4,634.4 L353.8,634.4 L354.2,634.4 L354.6,634.4 L355,634.4 L355.4,634.4 L355.8,634.4 L356.2,634.4 L356.6,634.4 L357,634.4 L357.4,634.4 L357.8,634.4 L358.2,634.4 L358.6,634.4 L359,634.4 L359.4,634.4 L359.8,634.4 L360.2,634.4 L360.6,634.4 L361,634.4 L361.4,634.4 L361.8,634.4 L362.2,634.4 L362.6,634.4 L363,634.4 L363.4,634.4 L363.8,634.4 L364.2,634.4 L364.6,634.4 L365,634.4 L365.4,634.4 L365.8,634.4 L366.2,634.4 L366.6,634.4 L367,634.4 L367.4,634.4 L367.8,634.4 L368.2,634.4 L368.6,634.4 L369,634.4 L369.4,634.4 L369.8,634.4 L370.2,634.4 L370.6,634.4 L371,634.4 L371.4,634.4" fill="none" stroke="#7ab84e" stroke-width="0.9" stroke-linejoin="round"/>
<path d="M297.4,634.4 L297.8,634.4 L298.2,634.4 L298.6,634.4 L299,634.4 L299.4,634.4 L299.8,634.4 L300.2,634.4 L300.6,634.4 L301,634.4 L301.4,634.4 L301.8,634.4 L302.2,634.4 L302.6,634.4 L303,634.4 L303.4,634.4 L303.8,634.4 L304.2,634.4 L304.6,634.4 L305,634.4 L305.4,634.4 L305.8,634.4 L306.2,634.04 L306.6,633.74 L307,633.24 L307.4,632.42 L307.8,631.17 L308.2,629.33 L308.6,626.77 L309,623.35 L309.4,619.03 L309.8,613.86 L310.2,608.02 L310.6,601.86 L311,595.83 L311.4,590.47 L311.8,586.34 L312.2,583.87 L312.6,583.35 L313,584.49 L313.4,587.07 L313.8,590.84 L314.2,595.51 L314.6,600.72 L315,606.09 L315.4,611.32 L315.8,616.14 L316.2,620.39 L316.6,623.97 L317,626.86 L317.4,629.12 L317.8,630.81 L318.2,632.03 L318.6,632.88 L319,633.46 L319.4,633.83 L319.8,634.07 L320.2,634.4 L320.6,634.4 L321,634.4 L321.4,634.4 L321.8,634.4 L322.2,634.4 L322.6,634.4 L323,634.4 L323.4,634.4 L323.8,634.4 L324.2,634.4 L324.6,634.4 L325,634.4 L325.4,634.4 L325.8,634.4 L326.2,634.4 L326.6,634.4 L327,634.4 L327.4,634.4 L327.8,634.4 L328.2,634.4 L328.6,634.4 L329,634.4 L329.4,634.4 L329.8,634.4 L330.2,634.4 L330.6,634.4 L331,634.4 L331.4,634.4 L331.8,634.4 L332.2,634.4 L332.6,634.4 L333,634.4 L333.4,634.4 L333.8,634.4 L334.2,634.4 L334.6,634.4 L335,634.4 L335.4,634.4 L335.8,634.4 L336.2,634.4 L336.6,634.4 L337,634.4 L337.4,634.4 L337.8,634.4 L338.2,634.4 L338.6,634.4 L339,634.4 L339.4,634.4 L339.8,634.4 L340.2,634.4 L340.6,634.4 L341,634.4 L341.4,634.4 L341.8,634.4 L342.2,634.4 L342.6,634.4 L343,634.4 L343.4,634.4 L343.8,634.4 L344.2,634.4 L344.6,634.4 L345,634.4 L345.4,634.4 L345.8,634.4 L346.2,634.4 L346.6,634.4 L347,634.4 L347.4,634.4 L347.8,634.4 L348.2,634.4 L348.6,634.4 L349,634.4 L349.4,634.4 L349.8,634.4 L350.2,634.4 L350.6,634.4 L351,634.4 L351.4,634.4 L351.8,634.4 L352.2,634.4 L352.6,634.4 L353,634.4 L353.4,634.4 L353.8,634.4 L354.2,634.4 L354.6,634.4 L355,634.4 L355.4,634.4 L355.8,634.4 L356.2,634.4 L356.6,634.4 L357,634.4 L357.4,634.4 L357.8,634.4 L358.2,634.4 L358.6,634.4 L359,634.4 L359.4,634.4 L359.8,634.4 L360.2,634.4 L360.6,634.4 L361,634.4 L361.4,634.4 L361.8,634.4 L362.2,634.4 L362.6,634.4 L363,634.4 L363.4,634.4 L363.8,634.4 L364.2,634.4 L364.6,634.4 L365,634.4 L365.4,634.4 L365.8,634.4 L366.2,634.4 L366.6,634.4 L367,634.4 L367.4,634.4 L367.8,634.4 L368.2,634.4 L368.6,634.4 L369,634.4 L369.4,634.4 L369.8,634.4 L370.2,634.4 L370.6,634.4 L371,634.4 L371.4,634.4" fill="none" stroke="#4a6fa5" stroke-width="0.9" stroke-linejoin="round"/>
<rect x="296.4" y="564.8" width="76.1" height="69.6" stroke="#231f20" stroke-width="1.1" fill="none"/>
<path d="M302.13,634.4v-1.3M305.48,634.4v-1.3M307.85,634.4v-1.3M309.7,634.4v-1.3M311.2,634.4v-1.3M312.48,634.4v-1.3M313.58,634.4v-1.3M314.55,634.4v-1.3M321.15,634.4v-1.3M324.5,634.4v-1.3M326.88,634.4v-1.3M328.72,634.4v-1.3M330.23,634.4v-1.3M331.5,634.4v-1.3M332.61,634.4v-1.3M333.58,634.4v-1.3M340.18,634.4v-1.3M343.53,634.4v-1.3M345.9,634.4v-1.3M347.75,634.4v-1.3M349.25,634.4v-1.3M350.53,634.4v-1.3M351.63,634.4v-1.3M352.6,634.4v-1.3M359.2,634.4v-1.3M362.55,634.4v-1.3M364.93,634.4v-1.3M366.77,634.4v-1.3M368.28,634.4v-1.3M369.55,634.4v-1.3M370.66,634.4v-1.3M371.63,634.4v-1.3" stroke="#231f20" stroke-width="0.5"/>
<path d="M296.4,564.8h1.3M296.4,568.28h1.3M296.4,571.76h1.3M296.4,575.24h1.3M296.4,578.72h1.3M296.4,582.2h1.3M296.4,585.68h1.3M296.4,589.16h1.3M296.4,592.64h1.3M296.4,596.12h1.3M296.4,599.6h1.3M296.4,603.08h1.3M296.4,606.56h1.3M296.4,610.04h1.3M296.4,613.52h1.3M296.4,617h1.3M296.4,620.48h1.3M296.4,623.96h1.3M296.4,627.44h1.3M296.4,630.92h1.3M296.4,634.4h1.3" stroke="#231f20" stroke-width="0.5"/>
<line x1="294" y1="564.8" x2="296.4" y2="564.8" stroke="#231f20" stroke-width="0.9"/>
<text x="291.2" y="567.1" font-size="6.4" fill="#333" text-anchor="end" textLength="6.2" lengthAdjust="spacingAndGlyphs">80</text>
<line x1="294" y1="582.2" x2="296.4" y2="582.2" stroke="#231f20" stroke-width="0.9"/>
<text x="291.2" y="584.5" font-size="6.4" fill="#333" text-anchor="end" textLength="6.2" lengthAdjust="spacingAndGlyphs">60</text>
<line x1="294" y1="599.6" x2="296.4" y2="599.6" stroke="#231f20" stroke-width="0.9"/>
<text x="291.2" y="601.9" font-size="6.4" fill="#333" text-anchor="end" textLength="6.2" lengthAdjust="spacingAndGlyphs">40</text>
<line x1="294" y1="617" x2="296.4" y2="617" stroke="#231f20" stroke-width="0.9"/>
<text x="291.2" y="619.3" font-size="6.4" fill="#333" text-anchor="end" textLength="6.2" lengthAdjust="spacingAndGlyphs">20</text>
<line x1="294" y1="634.4" x2="296.4" y2="634.4" stroke="#231f20" stroke-width="0.9"/>
<text x="291.2" y="636.7" font-size="6.4" fill="#333" text-anchor="end" textLength="3.1" lengthAdjust="spacingAndGlyphs">0</text>
<line x1="296.4" y1="634.4" x2="296.4" y2="636.8" stroke="#231f20" stroke-width="0.9"/>
<text x="292.7" y="645" font-size="6.6" fill="#3a3a3a" textLength="5.6" lengthAdjust="spacingAndGlyphs">10</text>
<text x="298.6" y="641.7" font-size="3.9" fill="#3a3a3a">0</text>
<line x1="315.42" y1="634.4" x2="315.42" y2="636.8" stroke="#231f20" stroke-width="0.9"/>
<text x="311.72" y="645" font-size="6.6" fill="#3a3a3a" textLength="5.6" lengthAdjust="spacingAndGlyphs">10</text>
<text x="317.62" y="641.7" font-size="3.9" fill="#3a3a3a">1</text>
<line x1="334.45" y1="634.4" x2="334.45" y2="636.8" stroke="#231f20" stroke-width="0.9"/>
<text x="330.75" y="645" font-size="6.6" fill="#3a3a3a" textLength="5.6" lengthAdjust="spacingAndGlyphs">10</text>
<text x="336.65" y="641.7" font-size="3.9" fill="#3a3a3a">2</text>
<line x1="353.48" y1="634.4" x2="353.48" y2="636.8" stroke="#231f20" stroke-width="0.9"/>
<text x="349.78" y="645" font-size="6.6" fill="#3a3a3a" textLength="5.6" lengthAdjust="spacingAndGlyphs">10</text>
<text x="355.68" y="641.7" font-size="3.9" fill="#3a3a3a">3</text>
<line x1="372.5" y1="634.4" x2="372.5" y2="636.8" stroke="#231f20" stroke-width="0.9"/>
<text x="368.8" y="645" font-size="6.6" fill="#3a3a3a" textLength="5.6" lengthAdjust="spacingAndGlyphs">10</text>
<text x="374.7" y="641.7" font-size="3.9" fill="#3a3a3a">4</text>
<line x1="332.5" y1="570" x2="339.8" y2="570" stroke="#c0485a" stroke-width="1.0"/>
<text x="342.4" y="571.9" font-size="5.4" fill="#333" textLength="21.2" lengthAdjust="spacingAndGlyphs">Ibru 4 Wk</text>
<line x1="332.5" y1="578.75" x2="339.8" y2="578.75" stroke="#7ab84e" stroke-width="1.0"/>
<text x="342.4" y="580.65" font-size="5.4" fill="#333" textLength="21" lengthAdjust="spacingAndGlyphs">Ibru 1 Wk</text>
<line x1="332.5" y1="587.5" x2="339.8" y2="587.5" stroke="#4a6fa5" stroke-width="1.0"/>
<text x="342.4" y="589.4" font-size="5.4" fill="#333" textLength="25.1" lengthAdjust="spacingAndGlyphs">Pre-treated</text>
<line x1="332.5" y1="596.25" x2="336.7" y2="596.25" stroke="#9c76a4" stroke-width="1.1"/>
<line x1="338.3" y1="596.25" x2="339.8" y2="596.25" stroke="#9c76a4" stroke-width="1.1"/>
<text x="342.4" y="598.15" font-size="5.4" fill="#333" textLength="5.6" lengthAdjust="spacingAndGlyphs">QF</text>
<line x1="277.6" y1="651.6" x2="277.6" y2="570.1" stroke="#231f20" stroke-width="1.3"/>
<path d="M277.6,565 L281.2,573.5 L277.6,571.12 L274,573.5 Z" fill="#231f20"/>
<line x1="277.6" y1="651.6" x2="366.4" y2="651.6" stroke="#231f20" stroke-width="1.3"/>
<path d="M371.5,651.6 L363,655.2 L365.38,651.6 L363,648 Z" fill="#231f20"/>
<text stroke="#231f20" x="272.8" y="620.6" font-size="9.2" textLength="24" lengthAdjust="spacingAndGlyphs" transform="rotate(-90 272.8 620.6)">Events</text>
<text stroke="#231f20" x="319.2" y="663.2" font-size="9.2" textLength="12.6" lengthAdjust="spacingAndGlyphs">AID</text>
<line x1="411.8" y1="561" x2="411.8" y2="634.8" stroke="#231f20" stroke-width="1.2"/>
<line x1="411.2" y1="634.2" x2="512" y2="634.2" stroke="#231f20" stroke-width="1.2"/>
<line x1="409.2" y1="563.7" x2="411.8" y2="563.7" stroke="#231f20" stroke-width="1"/>
<text x="406.2" y="566" font-size="6.6" fill="#333" text-anchor="end" textLength="6.4" lengthAdjust="spacingAndGlyphs">10</text>
<line x1="409.2" y1="581.2" x2="411.8" y2="581.2" stroke="#231f20" stroke-width="1"/>
<text x="406.2" y="583.5" font-size="6.6" fill="#333" text-anchor="end" textLength="3.2" lengthAdjust="spacingAndGlyphs">8</text>
<line x1="409.2" y1="599" x2="411.8" y2="599" stroke="#231f20" stroke-width="1"/>
<text x="406.2" y="601.3" font-size="6.6" fill="#333" text-anchor="end" textLength="3.2" lengthAdjust="spacingAndGlyphs">6</text>
<line x1="409.2" y1="616.7" x2="411.8" y2="616.7" stroke="#231f20" stroke-width="1"/>
<text x="406.2" y="619" font-size="6.6" fill="#333" text-anchor="end" textLength="3.2" lengthAdjust="spacingAndGlyphs">4</text>
<line x1="409.2" y1="634.2" x2="411.8" y2="634.2" stroke="#231f20" stroke-width="1"/>
<text x="406.2" y="636.5" font-size="6.6" fill="#333" text-anchor="end" textLength="3.2" lengthAdjust="spacingAndGlyphs">2</text>
<line x1="425" y1="634.2" x2="425" y2="636.6" stroke="#231f20" stroke-width="1"/>
<text x="425" y="646" font-size="6.8" fill="#222" text-anchor="middle">QF</text>
<line x1="450.2" y1="634.2" x2="450.2" y2="636.6" stroke="#231f20" stroke-width="1"/>
<text x="450.2" y="646" font-size="6.8" fill="#222" text-anchor="middle">Pre</text>
<line x1="475" y1="634.2" x2="475" y2="636.6" stroke="#231f20" stroke-width="1"/>
<text x="475" y="646" font-size="6.8" fill="#222" text-anchor="middle">Wk1</text>
<line x1="499.8" y1="634.2" x2="499.8" y2="636.6" stroke="#231f20" stroke-width="1"/>
<text x="499.8" y="646" font-size="6.8" fill="#222" text-anchor="middle">Wk4</text>
<line x1="425" y1="607.3" x2="425" y2="610.5" stroke="#6d4a70" stroke-width="1"/>
<line x1="425" y1="620.8" x2="425" y2="626.2" stroke="#6d4a70" stroke-width="1"/>
<line x1="421.44" y1="607.3" x2="428.56" y2="607.3" stroke="#6d4a70" stroke-width="1"/>
<line x1="421.44" y1="626.2" x2="428.56" y2="626.2" stroke="#6d4a70" stroke-width="1"/>
<rect x="417.1" y="610.5" width="15.8" height="10.3" stroke="#6d4a70" stroke-width="1" fill="#8d6e92"/>
<line x1="417.1" y1="615.4" x2="432.9" y2="615.4" stroke="#6d4a70" stroke-width="1"/>
<line x1="450" y1="577.7" x2="450" y2="582.3" stroke="#4a6fa5" stroke-width="1"/>
<line x1="450" y1="599.8" x2="450" y2="607.9" stroke="#4a6fa5" stroke-width="1"/>
<line x1="446.13" y1="577.7" x2="453.87" y2="577.7" stroke="#4a6fa5" stroke-width="1"/>
<line x1="446.13" y1="607.9" x2="453.87" y2="607.9" stroke="#4a6fa5" stroke-width="1"/>
<rect x="441.4" y="582.3" width="17.2" height="17.5" stroke="#4a6fa5" stroke-width="1" fill="#fff"/>
<line x1="441.4" y1="590.3" x2="458.6" y2="590.3" stroke="#4a6fa5" stroke-width="1"/>
<text x="450" y="576.8" font-size="4.5" fill="#4a6fa5" text-anchor="middle">+</text>
<line x1="475" y1="596.5" x2="475" y2="596.5" stroke="#7ab84e" stroke-width="1"/>
<line x1="475" y1="609.5" x2="475" y2="610.5" stroke="#7ab84e" stroke-width="1"/>
<line x1="471.08" y1="596.5" x2="478.92" y2="596.5" stroke="#7ab84e" stroke-width="1"/>
<line x1="471.08" y1="610.5" x2="478.92" y2="610.5" stroke="#7ab84e" stroke-width="1"/>
<rect x="466.3" y="596.5" width="17.4" height="13" stroke="#7ab84e" stroke-width="1" fill="#fff"/>
<line x1="466.3" y1="598.7" x2="483.7" y2="598.7" stroke="#7ab84e" stroke-width="1"/>
<line x1="500.2" y1="605.4" x2="500.2" y2="606" stroke="#c0485a" stroke-width="1"/>
<line x1="500.2" y1="618.6" x2="500.2" y2="622.9" stroke="#c0485a" stroke-width="1"/>
<line x1="496.38" y1="605.4" x2="504.02" y2="605.4" stroke="#c0485a" stroke-width="1"/>
<line x1="496.38" y1="622.9" x2="504.02" y2="622.9" stroke="#c0485a" stroke-width="1"/>
<rect x="491.7" y="606" width="17" height="12.6" stroke="#c0485a" stroke-width="1" fill="#fff"/>
<line x1="491.7" y1="607.9" x2="508.7" y2="607.9" stroke="#c0485a" stroke-width="1"/>
<text stroke="#231f20" x="393.5" y="634" font-size="8.4" textLength="70" lengthAdjust="spacingAndGlyphs" transform="rotate(-90 393.5 634)">AID expression (MIF)</text>
<line x1="458.6" y1="572.3" x2="503.25" y2="593.65" stroke="#231f20" stroke-width="1.1"/>
<path d="M506.5,595.2 L499.97,594.96 L502.6,593.34 L502.21,590.27 Z" fill="#231f20"/>
<text x="467.8" y="572.2" font-size="5.6" fill="#333" textLength="42.5" lengthAdjust="spacingAndGlyphs" transform="rotate(25.5 467.8 572.2)">CXCR4<tspan font-size="3.6" dy="-1.8">low</tspan><tspan dy="1.8">/CD5high</tspan></text>
<rect x="0" y="0" width="520" height="1.5" fill="#444"/>
<rect x="0" y="0" width="1.5" height="670" fill="#4a4a4a"/>
<rect x="518.7" y="0" width="1.3" height="267" fill="#1a1a1a"/>
<rect x="518.7" y="267" width="1.3" height="403" fill="#555"/>
<rect x="0" y="668.7" width="520" height="1.3" fill="#111"/>
</svg>
</body></html>
